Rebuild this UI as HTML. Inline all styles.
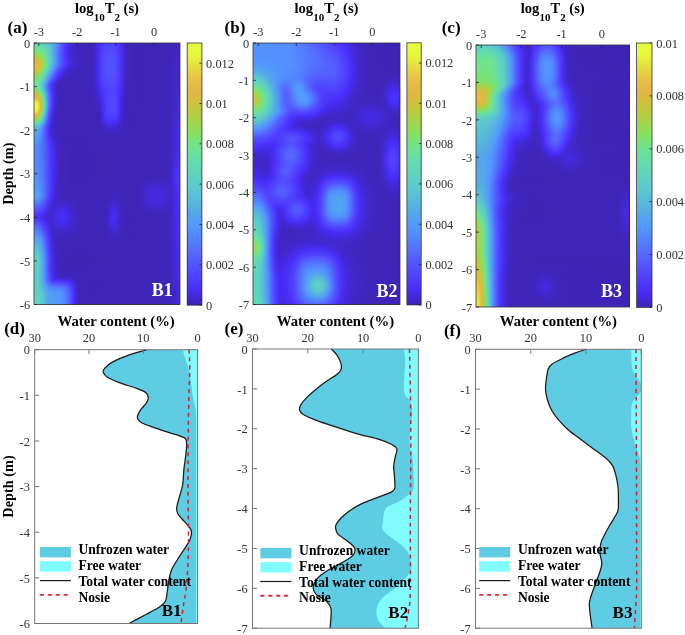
<!DOCTYPE html><html><head><meta charset="utf-8"><style>
html,body{margin:0;padding:0;background:#fff}
body{width:685px;height:635px;position:relative;overflow:hidden}
.hm{position:absolute;overflow:hidden}
.hm i{display:block;height:1px}
.cb{position:absolute}
svg{position:absolute;left:0;top:0;filter:blur(0.35px)}
text{font-family:"Liberation Serif",serif}
.t{font-size:12.4px;fill:#333}
.b{font-weight:bold;fill:#000}
</style></head><body>

<div class="hm" style="left:34px;top:43px;width:146px;height:262px"><i style="background:linear-gradient(90deg,#62d8b5 0.5px,#60d6b9 7.5px,#5dccca 13.5px,#55a8e9 19.5px,#5299fd 21.5px,#5251ff 28.5px,#4c35fb 32.5px,#472df2 34.5px,#4127cd 38.5px,#3f25bc 43.5px,#3e24b6 54.5px,#3f25be 59.5px,#4228d2 62.5px,#472df5 65.5px,#503bff 69.5px,#5143ff 74.5px,#5040ff 80.5px,#4a31fa 85.5px,#472df5 86.5px,#4228d2 89.5px,#3f25be 92.5px,#3e24b6 98.5px,#3e24b8 136.5px,#4026c3 145.5px)"></i><i style="background:linear-gradient(90deg,#63dab0 0.5px,#61d7b7 8.5px,#5ccacd 14.5px,#55a8e8 19.5px,#5299fe 21.5px,#5358ff 27.5px,#4e39fd 31.5px,#492ff8 33.5px,#4228d2 37.5px,#3f25c0 41.5px,#3e24b7 48.5px,#3e24b9 57.5px,#4127ca 61.5px,#482ef7 65.5px,#5040ff 70.5px,#5145ff 77.5px,#4f3afe 83.5px,#482ef7 86.5px,#4127ca 90.5px,#3e24b9 94.5px,#3e24b6 111.5px,#3e24b9 137.5px,#4026c4 145.5px)"></i><i style="background:linear-gradient(90deg,#64dcab 0.5px,#63dab1 7.5px,#5dcec7 13.5px,#59bed7 16.5px,#55a8e8 19.5px,#5298ff 21.5px,#5357ff 27.5px,#4e38fd 31.5px,#482ef8 33.5px,#4228d1 37.5px,#3f25c0 41.5px,#3e24b7 48.5px,#3e24b9 57.5px,#4026c4 60.5px,#4228d4 62.5px,#482ef8 65.5px,#5143ff 71.5px,#5145ff 79.5px,#4b33fa 85.5px,#482ef8 86.5px,#4127cb 90.5px,#3f25bb 93.5px,#3e24b6 101.5px,#3e24b9 137.5px,#4026c4 145.5px)"></i><i style="background:linear-gradient(90deg,#67dea4 0.5px,#64dcab 6.5px,#5fd3c0 12.5px,#5bc6d0 15.5px,#55a8e9 19.5px,#5298ff 21.5px,#545fff 26.5px,#503dff 30.5px,#482ef6 33.5px,#4228d0 37.5px,#3f25bf 41.5px,#3e24b6 50.5px,#3e24b9 57.5px,#4026c4 60.5px,#4228d5 62.5px,#462cef 64.5px,#492ff8 65.5px,#503fff 69.5px,#5148ff 74.5px,#5143ff 81.5px,#4b33fb 85.5px,#492ff8 86.5px,#442ae3 88.5px,#4127cb 90.5px,#3f25bc 93.5px,#3e24b6 99.5px,#3e24b8 136.5px,#4026c4 145.5px)"></i><i style="background:linear-gradient(90deg,#69e09d 0.5px,#67dea4 6.5px,#5fd4be 12.5px,#5bc8cf 15.5px,#55a8e9 19.5px,#5297ff 21.5px,#545eff 26.5px,#503bff 30.5px,#472df4 33.5px,#4228cf 37.5px,#3f25bf 41.5px,#3e24b6 50.5px,#3e24b9 57.5px,#4026c5 60.5px,#4228d6 62.5px,#462cf0 64.5px,#4930f9 65.5px,#5144ff 70.5px,#5149ff 76.5px,#5144ff 81.5px,#4930f9 86.5px,#442ae4 88.5px,#4127cc 90.5px,#3f25bc 93.5px,#3e24b6 99.5px,#3e24b8 135.5px,#4026c5 145.5px)"></i><i style="background:linear-gradient(90deg,#6ce396 0.5px,#6ae19b 5.5px,#60d5bc 12.5px,#5cc9ce 15.5px,#55a7e9 19.5px,#5296ff 21.5px,#535cff 26.5px,#4f3bfe 30.5px,#4930f9 32.5px,#4127ce 37.5px,#3f25bc 42.5px,#3e24b6 54.5px,#3f25bc 58.5px,#4127cc 61.5px,#462cf1 64.5px,#4930f9 65.5px,#5142ff 69.5px,#514aff 74.5px,#5147ff 80.5px,#4c35fb 85.5px,#4930f9 86.5px,#442ae5 88.5px,#4127cc 90.5px,#3e24b9 94.5px,#3e24b6 111.5px,#3e24b9 136.5px,#4026c5 145.5px)"></i><i style="background:linear-gradient(90deg,#70e48d 0.5px,#6de394 5.5px,#66dda7 9.5px,#5dcec6 14.5px,#5ac2d4 16.5px,#55a7e9 19.5px,#5295ff 21.5px,#535bff 26.5px,#4f3afe 30.5px,#492ff9 32.5px,#4228d3 36.5px,#4026c1 40.5px,#3e24b7 47.5px,#3e24b9 57.5px,#4026c5 60.5px,#4329d8 62.5px,#472df2 64.5px,#4c35fc 66.5px,#5146ff 70.5px,#514cff 76.5px,#5143ff 82.5px,#4931f9 86.5px,#442ae6 88.5px,#4127cd 90.5px,#3f25bc 93.5px,#3e24b6 99.5px,#3e24b8 135.5px,#4026c5 145.5px)"></i><i style="background:linear-gradient(90deg,#76e380 0.5px,#73e387 4.5px,#6ae19b 8.5px,#5ecfc5 14.5px,#58b9dc 17.5px,#55a7e9 19.5px,#5294ff 21.5px,#535aff 26.5px,#4e39fd 30.5px,#492ff8 32.5px,#4228d3 36.5px,#4026c1 40.5px,#3e24b7 47.5px,#3e24b9 57.5px,#4026c6 60.5px,#4329d8 62.5px,#472df3 64.5px,#4d36fc 66.5px,#5147ff 70.5px,#524dff 76.5px,#5144ff 82.5px,#4a31fa 86.5px,#442ae7 88.5px,#4127cd 90.5px,#3f25bc 93.5px,#3e24b6 99.5px,#3e24b8 135.5px,#4026c6 145.5px)"></i><i style="background:linear-gradient(90deg,#7ce274 0.5px,#79e37b 4.5px,#6ce396 8.5px,#5ed0c4 14.5px,#58badb 17.5px,#55a7ea 19.5px,#5294ff 21.5px,#5359ff 26.5px,#4e38fd 30.5px,#482ef8 32.5px,#4228d2 36.5px,#3f25c0 40.5px,#3e24b7 47.5px,#3e24b9 57.5px,#4026c6 60.5px,#4329d9 62.5px,#472df4 64.5px,#503bff 67.5px,#514aff 71.5px,#524dff 78.5px,#5144ff 82.5px,#4a31fa 86.5px,#472df4 87.5px,#4127ce 90.5px,#3f25bc 93.5px,#3e24b6 99.5px,#3e24b8 135.5px,#4026c6 145.5px)"></i><i style="background:linear-gradient(90deg,#83e166 0.5px,#7fe26e 4.5px,#74e385 7.5px,#68dfa1 10.5px,#5ccccb 15.5px,#55a7ea 19.5px,#5293ff 21.5px,#5358ff 26.5px,#4e38fd 30.5px,#482ef8 32.5px,#4228d2 36.5px,#3f25c0 40.5px,#3e24b7 48.5px,#3e24b8 56.5px,#3f25c0 59.5px,#4127ce 61.5px,#472df5 64.5px,#5041ff 68.5px,#524dff 72.5px,#514bff 80.5px,#4d37fc 85.5px,#472df5 87.5px,#4127ce 90.5px,#3f25bc 93.5px,#3e24b6 99.5px,#3e24b8 135.5px,#4026c6 145.5px)"></i><i style="background:linear-gradient(90deg,#8edd5d 0.5px,#87e062 4.5px,#7fe26f 6.5px,#6ee492 9.5px,#5ed2c2 14.5px,#57b1e2 18.5px,#5293ff 21.5px,#5357ff 26.5px,#4e38fd 30.5px,#482ef8 32.5px,#4228d2 36.5px,#3f25be 41.5px,#3e24b6 51.5px,#3f25ba 57.5px,#4026c6 60.5px,#4329da 62.5px,#472df5 64.5px,#503cff 67.5px,#514cff 71.5px,#524eff 79.5px,#5041ff 83.5px,#4a32fa 86.5px,#472df5 87.5px,#4127ce 90.5px,#3f25bc 93.5px,#3e24b6 99.5px,#3e24b8 135.5px,#4026c7 145.5px)"></i><i style="background:linear-gradient(90deg,#9ad953 0.5px,#96da56 3.5px,#87e062 6.5px,#7ae279 8.5px,#6ce396 10.5px,#5fd3c0 14.5px,#59bcda 17.5px,#55a7e9 19.5px,#539ef7 20.5px,#5293ff 21.5px,#5357ff 26.5px,#4e38fd 30.5px,#482ef8 32.5px,#4228d3 36.5px,#4026c1 40.5px,#3e24b7 48.5px,#3e24b8 56.5px,#4026c1 59.5px,#4127ce 61.5px,#482ef6 64.5px,#5142ff 68.5px,#524eff 72.5px,#524eff 79.5px,#5142ff 83.5px,#482ef6 87.5px,#4127ce 90.5px,#3f25bc 93.5px,#3e24b6 99.5px,#3e24b8 135.5px,#4026c7 145.5px)"></i><i style="background:linear-gradient(90deg,#a8d44a 0.5px,#9fd750 4.5px,#89df61 7.5px,#80e26c 8.5px,#6fe48f 10.5px,#62d9b4 13.5px,#5bc7d0 16.5px,#55a8e8 19.5px,#5294ff 21.5px,#5358ff 26.5px,#4e39fd 30.5px,#492ff8 32.5px,#4127ce 37.5px,#3f25bd 42.5px,#3e24b6 53.5px,#3f25bc 58.5px,#4228cf 61.5px,#482ef6 64.5px,#5142ff 68.5px,#524fff 72.5px,#524dff 80.5px,#4e38fd 85.5px,#482ef6 87.5px,#4228cf 90.5px,#3f25bc 93.5px,#3e24b6 99.5px,#3e24b8 135.5px,#4026c7 145.5px)"></i><i style="background:linear-gradient(90deg,#b5ce43 0.5px,#abd348 4.5px,#9dd851 6.5px,#87e061 8.5px,#6ce297 11.5px,#60d5bc 14.5px,#5cc9ce 16.5px,#55a9e7 19.5px,#5295ff 21.5px,#5359ff 26.5px,#4e39fe 30.5px,#4930f9 32.5px,#4228d0 37.5px,#3f25be 42.5px,#3e24b6 53.5px,#3f25bc 58.5px,#4228cf 61.5px,#482ef7 64.5px,#5143ff 68.5px,#524fff 72.5px,#524fff 79.5px,#5143ff 83.5px,#482ef7 87.5px,#4228cf 90.5px,#3f25bc 93.5px,#3e24b6 99.5px,#3e24b8 135.5px,#4127c8 145.5px)"></i><i style="background:linear-gradient(90deg,#c1c93d 0.5px,#bbcb40 3.5px,#a7d44a 6.5px,#83e166 9.5px,#6ee492 11.5px,#63dbaf 13.5px,#5ccacd 16.5px,#54a0f3 20.5px,#5296ff 21.5px,#535aff 26.5px,#4f3afe 30.5px,#472df4 33.5px,#4228d1 37.5px,#3f25bf 42.5px,#3e24b7 51.5px,#3f25ba 57.5px,#4026c7 60.5px,#4329dc 62.5px,#482ef7 64.5px,#5143ff 68.5px,#524fff 72.5px,#524fff 79.5px,#5143ff 83.5px,#482ef7 87.5px,#4228cf 90.5px,#3f25bc 93.5px,#3e24b6 99.5px,#3e24b8 135.5px,#4127c8 145.5px)"></i><i style="background:linear-gradient(90deg,#ccc23e 0.5px,#c1c93d 4.5px,#a6d54a 7.5px,#8adf60 9.5px,#7de272 10.5px,#71e48a 11.5px,#64dcac 13.5px,#5ccbcc 16.5px,#54a1f2 20.5px,#5297ff 21.5px,#535bff 26.5px,#4f3bff 30.5px,#482ef6 33.5px,#4127ce 38.5px,#3f25bc 44.5px,#3e24b7 55.5px,#4026c1 59.5px,#4228cf 61.5px,#482ef7 64.5px,#5143ff 68.5px,#5250ff 72.5px,#524eff 80.5px,#503eff 84.5px,#482ef7 87.5px,#4228cf 90.5px,#3f25bd 93.5px,#3e24b6 98.5px,#3e24b8 135.5px,#4127c8 145.5px)"></i><i style="background:linear-gradient(90deg,#d6bd40 0.5px,#cfc13e 3.5px,#c3c83c 5.5px,#a0d74f 8.5px,#81e16a 10.5px,#6be299 12.5px,#61d8b6 14.5px,#5ac1d5 17.5px,#54a1f1 20.5px,#5298ff 21.5px,#535cff 26.5px,#503cff 30.5px,#482ef8 33.5px,#4228d0 38.5px,#3f25bf 43.5px,#3e24b7 53.5px,#3f25ba 57.5px,#4026c7 60.5px,#4329dc 62.5px,#482ef7 64.5px,#5143ff 68.5px,#5250ff 72.5px,#5250ff 79.5px,#5143ff 83.5px,#482ef7 87.5px,#4228cf 90.5px,#3f25bd 93.5px,#3e24b6 98.5px,#3e24b8 135.5px,#4127c9 145.5px)"></i><i style="background:linear-gradient(90deg,#deb942 0.5px,#d7bc40 3.5px,#c1c93d 6.5px,#a7d44a 8.5px,#84e164 10.5px,#6ce296 12.5px,#62d8b5 14.5px,#5dccca 16.5px,#54a2f1 20.5px,#5298ff 21.5px,#535dff 26.5px,#503dff 30.5px,#482ff8 33.5px,#4228d1 38.5px,#3f25c0 43.5px,#3e24b7 52.5px,#3f25ba 57.5px,#4026c7 60.5px,#4329dc 62.5px,#482ef8 64.5px,#5143ff 68.5px,#5250ff 72.5px,#5250ff 79.5px,#5143ff 83.5px,#482ef8 87.5px,#4228cf 90.5px,#3f25bd 93.5px,#3e24b6 98.5px,#3e24b8 135.5px,#4127c9 145.5px)"></i><i style="background:linear-gradient(90deg,#e3b845 0.5px,#ddb942 3.5px,#c6c63d 6.5px,#abd248 8.5px,#87e061 10.5px,#6de395 12.5px,#62d8b4 14.5px,#5dccca 16.5px,#54a2f1 20.5px,#5298ff 21.5px,#535dff 26.5px,#503dff 30.5px,#492ff9 33.5px,#4228d2 38.5px,#4026c1 43.5px,#3e24b8 51.5px,#3f25ba 57.5px,#4026c7 60.5px,#4329dc 62.5px,#482ef8 64.5px,#5143ff 68.5px,#5250ff 72.5px,#5250ff 79.5px,#5143ff 83.5px,#482ef8 87.5px,#4228cf 90.5px,#3f25bd 93.5px,#3e24b6 98.5px,#3e24b8 135.5px,#4127c9 145.5px)"></i><i style="background:linear-gradient(90deg,#e6b946 0.5px,#e1b943 3.5px,#d4be3f 5.5px,#bdca3f 7.5px,#9dd851 9.5px,#89df60 10.5px,#6de394 12.5px,#62d8b4 14.5px,#5dccca 16.5px,#54a1f2 20.5px,#5297ff 21.5px,#535cff 26.5px,#503dff 30.5px,#492ff9 33.5px,#4127ce 39.5px,#3f25bd 45.5px,#3e24b7 55.5px,#4026c1 59.5px,#4228cf 61.5px,#482ef8 64.5px,#5144ff 68.5px,#5250ff 72.5px,#5250ff 79.5px,#5144ff 83.5px,#482ef8 87.5px,#4228cf 90.5px,#3f25bd 93.5px,#3e24b6 98.5px,#3e24b8 135.5px,#4127ca 145.5px)"></i><i style="background:linear-gradient(90deg,#e7bc46 0.5px,#e3b845 3.5px,#d7bc40 5.5px,#c0c93e 7.5px,#9ed850 9.5px,#8adf60 10.5px,#6de395 12.5px,#61d8b5 14.5px,#5ccbcc 16.5px,#55aae7 19.5px,#5295ff 21.5px,#535bff 26.5px,#503cff 30.5px,#482ff8 33.5px,#4127cd 39.5px,#3f25bd 45.5px,#3e24b7 55.5px,#4026c1 59.5px,#4228cf 61.5px,#482ef8 64.5px,#5144ff 68.5px,#5250ff 72.5px,#5250ff 79.5px,#5144ff 83.5px,#482ef8 87.5px,#4228cf 90.5px,#3f25bd 93.5px,#3e24b6 98.5px,#3e24b8 134.5px,#4026c4 142.5px,#4127ca 145.5px)"></i><i style="background:linear-gradient(90deg,#e8bd46 0.5px,#e4b845 3.5px,#d8bc40 5.5px,#c0c93e 7.5px,#9dd851 9.5px,#88e061 10.5px,#6ce297 12.5px,#65ddaa 13.5px,#5ccacd 16.5px,#55a8e9 19.5px,#539ef7 20.5px,#5293ff 21.5px,#5462ff 25.5px,#5041ff 29.5px,#482ef7 33.5px,#4228d0 38.5px,#3f25be 44.5px,#3e24b7 55.5px,#4026c1 59.5px,#4228cf 61.5px,#482ef8 64.5px,#5144ff 68.5px,#5250ff 72.5px,#5250ff 79.5px,#5144ff 83.5px,#482ef8 87.5px,#4228cf 90.5px,#3f25bd 93.5px,#3e24b6 98.5px,#3e24b8 134.5px,#4026c5 142.5px,#4127cb 145.5px)"></i><i style="background:linear-gradient(90deg,#e8bd46 0.5px,#e4b845 3.5px,#d7bc40 5.5px,#beca3f 7.5px,#9ad953 9.5px,#85e164 10.5px,#76e382 11.5px,#6ae19a 12.5px,#64dcad 13.5px,#5bc7d0 16.5px,#54a4ed 19.5px,#529afb 20.5px,#5282ff 22.5px,#545eff 25.5px,#503eff 29.5px,#4930f9 32.5px,#4127ce 38.5px,#3f25bd 44.5px,#3e24b7 55.5px,#4026c1 59.5px,#4228cf 61.5px,#482ef8 64.5px,#5144ff 68.5px,#5250ff 72.5px,#5250ff 79.5px,#5144ff 83.5px,#482ef8 87.5px,#4228cf 90.5px,#3f25bd 93.5px,#3e24b6 98.5px,#3e24b8 134.5px,#4127c9 144.5px,#4127cb 145.5px)"></i><i style="background:linear-gradient(90deg,#e7bc46 0.5px,#e2b844 3.5px,#d4be3f 5.5px,#c8c53d 6.5px,#a9d349 8.5px,#95db57 9.5px,#81e16b 10.5px,#72e48a 11.5px,#63dab1 13.5px,#5ac3d3 16.5px,#54a1f2 19.5px,#5296ff 20.5px,#5464ff 24.5px,#5041ff 28.5px,#482ef6 32.5px,#4228cf 37.5px,#3f25bd 43.5px,#3e24b7 55.5px,#4026c1 59.5px,#4228cf 61.5px,#482ef8 64.5px,#5144ff 68.5px,#5250ff 72.5px,#5250ff 79.5px,#5144ff 83.5px,#482ef8 87.5px,#4228cf 90.5px,#3f25bd 93.5px,#3e24b6 98.5px,#3e24b8 134.5px,#4127cb 145.5px)"></i><i style="background:linear-gradient(90deg,#e6b946 0.5px,#e4b845 2.5px,#d9bb40 4.5px,#c3c83c 6.5px,#a2d64d 8.5px,#8dde5d 9.5px,#7ce275 10.5px,#6de393 11.5px,#61d8b5 13.5px,#5ccacd 15.5px,#55a7ea 18.5px,#539cf9 19.5px,#5290ff 20.5px,#545eff 24.5px,#503dff 28.5px,#482ef8 31.5px,#4228d0 36.5px,#3f25bf 41.5px,#3e24b7 51.5px,#3f25ba 57.5px,#4026c7 60.5px,#4329dc 62.5px,#482ef8 64.5px,#5144ff 68.5px,#5250ff 72.5px,#5250ff 79.5px,#5144ff 83.5px,#482ef8 87.5px,#4228cf 90.5px,#3f25bd 93.5px,#3e24b6 98.5px,#3e24b8 134.5px,#4127cc 145.5px)"></i><i style="background:linear-gradient(90deg,#e3b845 0.5px,#dbba41 3.5px,#c9c43d 5.5px,#bccb3f 6.5px,#9ad954 8.5px,#85e164 9.5px,#6ae19b 11.5px,#60d6bb 13.5px,#5bc5d1 15.5px,#54a2f1 18.5px,#5297ff 19.5px,#5358ff 24.5px,#4e39fd 28.5px,#4930f9 30.5px,#4228d1 35.5px,#3f25bf 40.5px,#3e24b7 50.5px,#3e24b8 56.5px,#4026c7 60.5px,#4329dc 62.5px,#482ef8 64.5px,#5144ff 68.5px,#5250ff 72.5px,#5250ff 79.5px,#5144ff 83.5px,#482ef8 87.5px,#4228cf 90.5px,#3f25bd 93.5px,#3e24b6 98.5px,#3e24b8 134.5px,#4127cc 145.5px)"></i><i style="background:linear-gradient(90deg,#deb942 0.5px,#daba41 2.5px,#c1c93d 5.5px,#a3d64c 7.5px,#90dd5b 8.5px,#7ee271 9.5px,#6fe48f 10.5px,#62d9b3 12.5px,#5ccbcb 14.5px,#55a8e9 17.5px,#539df8 18.5px,#5290ff 19.5px,#535dff 23.5px,#5041ff 26.5px,#472df4 30.5px,#4228d1 34.5px,#3f25bf 39.5px,#3e24b7 48.5px,#3e24b8 56.5px,#4026c7 60.5px,#4329dc 62.5px,#482ef8 64.5px,#5144ff 68.5px,#5250ff 72.5px,#5250ff 79.5px,#5144ff 83.5px,#482ef8 87.5px,#4228cf 90.5px,#3f25bd 93.5px,#3e24b6 98.5px,#3e24b8 134.5px,#4026c6 142.5px,#4127cd 145.5px)"></i><i style="background:linear-gradient(90deg,#d7bc40 0.5px,#cbc33e 3.5px,#c3c83c 4.5px,#a9d349 6.5px,#85e163 8.5px,#6be299 10.5px,#64dcac 11.5px,#5bc6d0 14.5px,#54a2f1 17.5px,#5297ff 18.5px,#5461ff 22.5px,#503cff 26.5px,#482ef6 29.5px,#4228d1 33.5px,#3f25bf 38.5px,#3e24b7 46.5px,#3e24b8 56.5px,#4026c7 60.5px,#4329dc 62.5px,#482ef8 64.5px,#5143ff 68.5px,#5250ff 72.5px,#5250ff 79.5px,#5143ff 83.5px,#482ef8 87.5px,#4228cf 90.5px,#3f25bd 93.5px,#3e24b6 98.5px,#3e24b8 134.5px,#4026c6 142.5px,#4127cd 145.5px)"></i><i style="background:linear-gradient(90deg,#cdc23e 0.5px,#c2c93d 3.5px,#add247 5.5px,#8dde5e 7.5px,#7de273 8.5px,#6fe490 9.5px,#62d9b3 11.5px,#5ccccb 13.5px,#55a7e9 16.5px,#539cf9 17.5px,#528fff 18.5px,#535aff 22.5px,#503eff 25.5px,#482ef8 28.5px,#4228d2 32.5px,#4026c1 36.5px,#3e24b7 44.5px,#3e24b8 56.5px,#4026c7 60.5px,#4329dc 62.5px,#482ef8 64.5px,#5143ff 68.5px,#5250ff 72.5px,#5250ff 79.5px,#5143ff 83.5px,#482ef8 87.5px,#4228cf 90.5px,#3f25bd 93.5px,#3e24b6 98.5px,#3e24b8 134.5px,#4026c7 142.5px,#4127cd 145.5px)"></i><i style="background:linear-gradient(90deg,#c3c83c 0.5px,#bdcb3f 2.5px,#add147 4.5px,#92dc59 6.5px,#82e169 7.5px,#6be19a 9.5px,#60d6b9 11.5px,#5bc6d0 13.5px,#54a1f1 16.5px,#5296ff 17.5px,#545eff 21.5px,#4e39fe 25.5px,#482ff8 27.5px,#4228d2 31.5px,#3f25be 36.5px,#3e24b6 46.5px,#3e24b8 56.5px,#4026c7 60.5px,#4329dc 62.5px,#482ef7 64.5px,#5143ff 68.5px,#5250ff 72.5px,#5250ff 79.5px,#5143ff 83.5px,#482ef7 87.5px,#4228cf 90.5px,#3f25bd 93.5px,#3e24b6 98.5px,#3e24b8 134.5px,#4026c7 142.5px,#4127ce 145.5px)"></i><i style="background:linear-gradient(90deg,#b7cd42 0.5px,#b1d045 2.5px,#a2d64e 4.5px,#86e063 6.5px,#6de493 8.5px,#5fd3c0 11.5px,#5ac0d6 13.5px,#55a7ea 15.5px,#539bfa 16.5px,#527fff 18.5px,#5357ff 21.5px,#4f3bfe 24.5px,#4930f9 26.5px,#4228d3 30.5px,#4026c1 34.5px,#3e24b7 41.5px,#3e24b8 56.5px,#4026c7 60.5px,#4329dc 62.5px,#482ef7 64.5px,#5143ff 68.5px,#5250ff 72.5px,#524eff 80.5px,#503eff 84.5px,#482ef7 87.5px,#4228cf 90.5px,#3f25bd 93.5px,#3e24b6 98.5px,#3e24b8 134.5px,#4127ce 145.5px)"></i><i style="background:linear-gradient(90deg,#acd247 0.5px,#a6d44a 2.5px,#96db57 4.5px,#89df60 5.5px,#7de271 6.5px,#6ae19c 8.5px,#60d6ba 10.5px,#5bc6d0 12.5px,#56ade4 14.5px,#5295ff 16.5px,#535bff 20.5px,#503dff 23.5px,#472df3 26.5px,#4127cd 30.5px,#3f25be 34.5px,#3e24b6 43.5px,#3e24b8 56.5px,#4026c1 59.5px,#4228cf 61.5px,#482ef7 64.5px,#5143ff 68.5px,#524fff 72.5px,#524fff 79.5px,#5143ff 83.5px,#482ef7 87.5px,#4228cf 90.5px,#3f25bc 93.5px,#3e24b6 99.5px,#3e24b8 134.5px,#4127ca 143.5px,#4228cf 145.5px)"></i><i style="background:linear-gradient(90deg,#a1d64e 0.5px,#9bd953 2.5px,#8adf5f 4.5px,#80e26c 5.5px,#6ce395 7.5px,#5fd3bf 10.5px,#5ac0d6 12.5px,#55a7ea 14.5px,#539bfa 15.5px,#537eff 17.5px,#5254ff 20.5px,#4e38fd 23.5px,#482ef6 25.5px,#4127cd 29.5px,#3f25be 33.5px,#3e24b6 41.5px,#3e24b8 56.5px,#4026c1 59.5px,#4228cf 61.5px,#482ef7 64.5px,#5143ff 68.5px,#524fff 72.5px,#524fff 79.5px,#5143ff 83.5px,#482ef7 87.5px,#4228cf 90.5px,#3f25bc 93.5px,#3e24b6 99.5px,#3e24b8 134.5px,#4127c8 142.5px,#4228cf 145.5px)"></i><i style="background:linear-gradient(90deg,#97da56 0.5px,#91dc5a 2.5px,#82e169 4.5px,#6fe48e 6.5px,#60d6b9 9.5px,#5bc7cf 11.5px,#54a1f2 14.5px,#5295ff 15.5px,#5359ff 19.5px,#4f3bfe 22.5px,#482ff8 24.5px,#4127ce 28.5px,#3f25be 32.5px,#3e24b6 40.5px,#3e24b8 56.5px,#4026c1 59.5px,#4228cf 61.5px,#482ef6 64.5px,#5142ff 68.5px,#524fff 72.5px,#524dff 80.5px,#4e38fd 85.5px,#482ef6 87.5px,#4228cf 90.5px,#3f25bc 93.5px,#3e24b6 99.5px,#3e24b8 134.5px,#4127c8 142.5px,#4228d0 145.5px)"></i><i style="background:linear-gradient(90deg,#8edd5c 0.5px,#82e167 3.5px,#6ce297 6.5px,#5dcdc9 10.5px,#55a8e8 13.5px,#539cf9 14.5px,#528dff 15.5px,#545fff 18.5px,#503eff 21.5px,#4930f9 23.5px,#442ae6 25.5px,#4228cf 27.5px,#3f25be 31.5px,#3e24b6 39.5px,#3e24b8 56.5px,#4026c1 59.5px,#4127ce 61.5px,#482ef6 64.5px,#5142ff 68.5px,#524eff 72.5px,#524eff 79.5px,#5142ff 83.5px,#482ef6 87.5px,#4127ce 90.5px,#3f25bc 93.5px,#3e24b6 99.5px,#3e24b8 134.5px,#4026c6 141.5px,#4228d0 145.5px)"></i><i style="background:linear-gradient(90deg,#87e062 0.5px,#82e167 2.5px,#77e37e 4.5px,#6ae19c 6.5px,#5ed1c2 9.5px,#5ccacd 10.5px,#54a3ef 13.5px,#5296ff 14.5px,#5358ff 18.5px,#4e39fd 21.5px,#472df4 23.5px,#4228d1 26.5px,#3f25be 30.5px,#3e24b6 38.5px,#3e24b8 56.5px,#3f25c0 59.5px,#4127ce 61.5px,#472df5 64.5px,#503cff 67.5px,#514cff 71.5px,#524eff 79.5px,#5041ff 83.5px,#4a32fa 86.5px,#472df5 87.5px,#4127ce 90.5px,#3f25bc 93.5px,#3e24b6 99.5px,#3e24b8 134.5px,#4127c9 142.5px,#4228d0 145.5px)"></i><i style="background:linear-gradient(90deg,#82e169 0.5px,#7ee271 2.5px,#73e387 4.5px,#67dfa3 6.5px,#5dcec7 9.5px,#58b7dd 11.5px,#55aae7 12.5px,#539df8 13.5px,#528eff 14.5px,#535dff 17.5px,#4f3bfe 20.5px,#482ef7 22.5px,#4228d1 25.5px,#3f25be 29.5px,#3e24b7 35.5px,#3e24b8 56.5px,#3f25c0 59.5px,#4127ce 61.5px,#472df5 64.5px,#5041ff 68.5px,#524dff 72.5px,#514bff 80.5px,#4d37fc 85.5px,#472df5 87.5px,#4127ce 90.5px,#3f25bc 93.5px,#3e24b6 99.5px,#3e24b8 134.5px,#4127c9 142.5px,#4228d1 145.5px)"></i><i style="background:linear-gradient(90deg,#7de272 0.5px,#79e27a 2.5px,#6ee491 4.5px,#5ed2c1 8.5px,#5ccbcb 9.5px,#54a3ef 12.5px,#5296ff 13.5px,#5462ff 16.5px,#503dff 19.5px,#482ef8 21.5px,#4228d1 24.5px,#3f25c0 27.5px,#3e24b7 33.5px,#3e24b8 56.5px,#3f25c0 59.5px,#4127ce 61.5px,#472df4 64.5px,#503bff 67.5px,#514aff 71.5px,#524dff 78.5px,#5144ff 82.5px,#4a31fa 86.5px,#472df4 87.5px,#4127ce 90.5px,#3f25bc 93.5px,#3e24b6 99.5px,#3e24b8 134.5px,#4026c7 141.5px,#4228d1 145.5px)"></i><i style="background:linear-gradient(90deg,#79e37b 0.5px,#75e383 2.5px,#68dfa2 5.5px,#5ecfc5 8.5px,#58b8dd 10.5px,#55aae7 11.5px,#539cf9 12.5px,#528cff 13.5px,#5358ff 16.5px,#503fff 18.5px,#492ff9 20.5px,#4228d1 23.5px,#3f25bf 26.5px,#3e24b6 33.5px,#3e24b8 56.5px,#3f25c0 59.5px,#4127cd 61.5px,#472df3 64.5px,#4d36fc 66.5px,#514aff 71.5px,#514cff 78.5px,#5144ff 82.5px,#4a31fa 86.5px,#442ae7 88.5px,#4127cd 90.5px,#3f25bc 93.5px,#3e24b6 99.5px,#3e24b8 134.5px,#4127ca 142.5px,#4228d2 145.5px)"></i><i style="background:linear-gradient(90deg,#75e383 0.5px,#71e48b 2.5px,#65dda8 5.5px,#5dccca 8.5px,#54a3ee 11.5px,#5295ff 12.5px,#545eff 15.5px,#5142ff 17.5px,#4930f9 19.5px,#4228d1 22.5px,#3f25bf 25.5px,#3e24b7 30.5px,#3e24b8 56.5px,#4026c5 60.5px,#4329d8 62.5px,#472df2 64.5px,#4c35fc 66.5px,#5149ff 71.5px,#514bff 78.5px,#5143ff 82.5px,#4931f9 86.5px,#442ae6 88.5px,#4127cd 90.5px,#3f25bc 93.5px,#3e24b6 99.5px,#3e24b8 134.5px,#4127ca 142.5px,#4228d2 145.5px)"></i><i style="background:linear-gradient(90deg,#72e389 0.5px,#6ee491 2.5px,#68dfa1 4.5px,#5ed1c2 7.5px,#5cc9ce 8.5px,#56ace5 10.5px,#539ef7 11.5px,#528dff 12.5px,#5566ff 14.5px,#5147ff 16.5px,#4b33fa 18.5px,#472df2 19.5px,#4228d4 21.5px,#4026c4 23.5px,#3e24b8 27.5px,#3e24b8 56.5px,#4026c5 60.5px,#4228d7 62.5px,#462cf1 64.5px,#4930f9 65.5px,#5142ff 69.5px,#514bff 75.5px,#5145ff 81.5px,#4c35fb 85.5px,#4930f9 86.5px,#442ae5 88.5px,#4127cc 90.5px,#3e24b9 94.5px,#3e24b6 111.5px,#3e24b8 134.5px,#4026c7 141.5px,#4228d3 145.5px)"></i><i style="background:linear-gradient(90deg,#6fe48e 0.5px,#6de394 2.5px,#63dbaf 5.5px,#5bc6d1 8.5px,#55a8e8 10.5px,#5299fd 11.5px,#524fff 15.5px,#4d37fc 17.5px,#492ff8 18.5px,#4127cd 21.5px,#3f25ba 25.5px,#3e24b6 35.5px,#3e24b8 56.5px,#3f25bf 59.5px,#4228d6 62.5px,#462cf0 64.5px,#4930f9 65.5px,#5144ff 70.5px,#5149ff 76.5px,#5144ff 81.5px,#4930f9 86.5px,#442ae4 88.5px,#4127cc 90.5px,#3f25bc 93.5px,#3e24b6 99.5px,#3e24b8 133.5px,#4026c2 139.5px,#4228d4 145.5px)"></i><i style="background:linear-gradient(90deg,#6ee491 0.5px,#6ce396 2.5px,#66dea6 4.5px,#5dcec7 7.5px,#57b5df 9.5px,#55a5ec 10.5px,#5296ff 11.5px,#535bff 14.5px,#503eff 16.5px,#472df5 18.5px,#4228d5 20.5px,#4026c4 22.5px,#3e24b8 26.5px,#3e24b8 56.5px,#4026c4 60.5px,#4228d5 62.5px,#462cef 64.5px,#492ff8 65.5px,#5040ff 69.5px,#5148ff 74.5px,#5145ff 80.5px,#4e38fd 84.5px,#492ff8 86.5px,#442ae3 88.5px,#4127cb 90.5px,#3f25bc 93.5px,#3e24b6 99.5px,#3e24b8 133.5px,#4026c2 139.5px,#4228d4 145.5px)"></i><i style="background:linear-gradient(90deg,#6ee490 0.5px,#6ce395 2.5px,#60d5bb 6.5px,#5ac3d3 8.5px,#55a5ec 10.5px,#5296ff 11.5px,#535bff 14.5px,#503eff 16.5px,#472df5 18.5px,#4228d4 20.5px,#4026c3 22.5px,#3e24b8 26.5px,#3e24b8 56.5px,#3f25bf 59.5px,#4228d4 62.5px,#482ef8 65.5px,#5144ff 71.5px,#5146ff 79.5px,#4d37fd 84.5px,#482ef8 86.5px,#4127cb 90.5px,#3f25bb 93.5px,#3e24b6 101.5px,#3e24b8 133.5px,#4026c2 139.5px,#4228d5 145.5px)"></i><i style="background:linear-gradient(90deg,#72e388 0.5px,#6ce297 3.5px,#5ed0c5 7.5px,#58b7de 9.5px,#55a7ea 10.5px,#5298ff 11.5px,#535cff 14.5px,#503fff 16.5px,#472df6 18.5px,#4228d5 20.5px,#4026c4 22.5px,#3e24b8 26.5px,#3e24b8 56.5px,#3f25bf 59.5px,#4228d3 62.5px,#482ef7 65.5px,#5040ff 70.5px,#5146ff 76.5px,#5041ff 81.5px,#482ef7 86.5px,#4127ca 90.5px,#3e24b9 94.5px,#3e24b6 111.5px,#3e24b9 134.5px,#4026c5 140.5px,#4228d5 145.5px)"></i><i style="background:linear-gradient(90deg,#79e27a 0.5px,#75e383 2.5px,#6be299 4.5px,#5ed2c1 7.5px,#5cc9cd 8.5px,#55aae7 10.5px,#529bfb 11.5px,#5471ff 13.5px,#524eff 15.5px,#4c36fc 17.5px,#482ef7 18.5px,#4228d6 20.5px,#4026c4 22.5px,#3e24b8 26.5px,#3e24b8 56.5px,#4026c3 60.5px,#4228d2 62.5px,#472df5 65.5px,#503cff 69.5px,#5145ff 75.5px,#5040ff 81.5px,#4a32fa 85.5px,#482ef6 86.5px,#4228d2 89.5px,#3f25be 92.5px,#3e24b6 98.5px,#3e24b8 133.5px,#4026c2 139.5px,#4228d6 145.5px)"></i><i style="background:linear-gradient(90deg,#83e167 0.5px,#7ee270 2.5px,#79e37b 3.5px,#6ae19d 5.5px,#5dcdc9 8.5px,#56aee4 10.5px,#539ef7 11.5px,#528bff 12.5px,#5461ff 14.5px,#5142ff 16.5px,#482ef8 18.5px,#4329d7 20.5px,#4026c5 22.5px,#3f25ba 25.5px,#3e24b6 35.5px,#3e24b7 56.5px,#4026c3 60.5px,#4228d1 62.5px,#472df3 65.5px,#4b34fb 67.5px,#5143ff 73.5px,#5142ff 80.5px,#4c35fc 84.5px,#472df4 86.5px,#4228d1 89.5px,#3f25be 92.5px,#3e24b6 97.5px,#3e24b8 133.5px,#4026c3 139.5px,#4228d7 145.5px)"></i><i style="background:linear-gradient(90deg,#93dc59 0.5px,#8cde5e 2.5px,#83e165 3.5px,#7be277 4.5px,#6fe490 5.5px,#5ed0c3 8.5px,#57b3e0 10.5px,#5290ff 12.5px,#5464ff 14.5px,#5144ff 16.5px,#492ff9 18.5px,#4329d9 20.5px,#4026c5 22.5px,#3e24b8 26.5px,#3e24b7 56.5px,#4026c2 60.5px,#4329da 63.5px,#462cf1 65.5px,#492ff9 66.5px,#5041ff 72.5px,#5143ff 79.5px,#4c35fb 84.5px,#472df3 86.5px,#4228d0 89.5px,#3f25be 92.5px,#3e24b6 97.5px,#3e24b8 133.5px,#4026c6 140.5px,#4329d7 145.5px)"></i><i style="background:linear-gradient(90deg,#a5d54b 0.5px,#9ed750 2.5px,#87e062 4.5px,#7ae279 5.5px,#6ce396 6.5px,#5fd4bd 8.5px,#5ccacd 9.5px,#55a6ea 11.5px,#5295ff 12.5px,#5568ff 14.5px,#5146ff 16.5px,#4930f9 18.5px,#4127ce 21.5px,#3f25bc 24.5px,#3e24b6 31.5px,#3e24b7 56.5px,#4026c2 60.5px,#4127ce 62.5px,#482ef8 66.5px,#503eff 71.5px,#5144ff 77.5px,#503fff 81.5px,#4930f9 85.5px,#442ae7 87.5px,#4228cf 89.5px,#3f25bd 92.5px,#3e24b6 98.5px,#3e24b8 133.5px,#4026c6 140.5px,#4329d8 145.5px)"></i><i style="background:linear-gradient(90deg,#b7cd42 0.5px,#b0d045 2.5px,#a8d44a 3.5px,#86e063 5.5px,#75e383 6.5px,#68e0a0 7.5px,#5dcec7 9.5px,#56abe6 11.5px,#529afd 12.5px,#5358ff 15.5px,#4f3bfe 17.5px,#4a31fa 18.5px,#4228cf 21.5px,#4026c1 23.5px,#3e24b7 27.5px,#3e24b8 57.5px,#4026c7 61.5px,#4228d7 63.5px,#482ef6 66.5px,#5040ff 72.5px,#5144ff 78.5px,#503cff 82.5px,#4930f9 85.5px,#4127ce 89.5px,#3f25bd 92.5px,#3e24b6 97.5px,#3e24b8 133.5px,#4026c6 140.5px,#4329d9 145.5px)"></i><i style="background:linear-gradient(90deg,#c7c53d 0.5px,#c1c93d 2.5px,#abd348 4.5px,#97da56 5.5px,#80e26d 6.5px,#6de394 7.5px,#63dbae 8.5px,#5bc4d3 10.5px,#56b0e2 11.5px,#539df7 12.5px,#5288ff 13.5px,#535bff 15.5px,#503cff 17.5px,#462cf0 19.5px,#4228d0 21.5px,#4026c1 23.5px,#3e24b7 27.5px,#3e24b8 57.5px,#4026c6 61.5px,#4228d5 63.5px,#472df3 66.5px,#4b33fa 68.5px,#5144ff 74.5px,#5143ff 80.5px,#492ff9 85.5px,#4127cd 89.5px,#3f25ba 93.5px,#3e24b6 103.5px,#3e24b8 133.5px,#4026c3 139.5px,#4329d9 145.5px)"></i><i style="background:linear-gradient(90deg,#d5bd40 0.5px,#cfc13e 2.5px,#bacc41 4.5px,#a7d44a 5.5px,#8dde5d 6.5px,#75e382 7.5px,#67dea5 8.5px,#5cc9ce 10.5px,#54a1f2 12.5px,#528cff 13.5px,#545eff 15.5px,#503eff 17.5px,#472df2 19.5px,#4228d1 21.5px,#4026c1 23.5px,#3e24b7 27.5px,#3e24b8 57.5px,#4026c5 61.5px,#4228d2 63.5px,#462cf0 66.5px,#482ef8 67.5px,#5143ff 73.5px,#5145ff 79.5px,#4e39fd 83.5px,#492ff9 85.5px,#4228d4 88.5px,#3f25c0 91.5px,#3e24b7 95.5px,#3e24b8 133.5px,#4026c4 139.5px,#4329da 145.5px)"></i><i style="background:linear-gradient(90deg,#dfb943 0.5px,#dbba41 2.5px,#c6c63d 4.5px,#b3cf44 5.5px,#9ad953 6.5px,#7de272 7.5px,#6ae19c 8.5px,#61d7b6 9.5px,#5dccca 10.5px,#5290ff 13.5px,#5461ff 15.5px,#503fff 17.5px,#472df3 19.5px,#4228d1 21.5px,#3f25bd 24.5px,#3e24b6 31.5px,#3e24b8 57.5px,#4026c4 61.5px,#4329db 64.5px,#482ef6 67.5px,#5040ff 72.5px,#5146ff 76.5px,#5142ff 81.5px,#492ff8 85.5px,#4127ca 89.5px,#3f25ba 93.5px,#3e24b6 103.5px,#3e24b8 133.5px,#4026c4 139.5px,#4329db 145.5px)"></i><i style="background:linear-gradient(90deg,#e6b846 0.5px,#e2b844 2.5px,#dcb941 3.5px,#d0c03f 4.5px,#beca3f 5.5px,#a5d54b 6.5px,#84e164 7.5px,#6de394 8.5px,#62d9b2 9.5px,#5dcec7 10.5px,#5293ff 13.5px,#5462ff 15.5px,#5040ff 17.5px,#472df4 19.5px,#4228d2 21.5px,#4026c2 23.5px,#3e24b8 27.5px,#3e24b8 57.5px,#4026c3 61.5px,#4329d8 64.5px,#4930f9 68.5px,#5144ff 73.5px,#5146ff 79.5px,#4f3afe 83.5px,#492ff8 85.5px,#4228d1 88.5px,#3f25bf 91.5px,#3e24b7 95.5px,#3e24b8 133.5px,#4026c4 139.5px,#4329db 145.5px)"></i><i style="background:linear-gradient(90deg,#e8bd46 0.5px,#e3b844 3.5px,#d9bb40 4.5px,#c8c53d 5.5px,#afd146 6.5px,#8edd5c 7.5px,#72e389 8.5px,#64dbad 9.5px,#5ed0c3 10.5px,#55a9e7 12.5px,#5295ff 13.5px,#5464ff 15.5px,#5041ff 17.5px,#472df5 19.5px,#4228d2 21.5px,#4026c2 23.5px,#3e24b8 27.5px,#3e24b8 57.5px,#4026c2 61.5px,#4228d5 64.5px,#482ff8 68.5px,#5040ff 72.5px,#5148ff 76.5px,#5143ff 81.5px,#492ff8 85.5px,#4228d0 88.5px,#3f25be 91.5px,#3e24b6 97.5px,#3e24b8 133.5px,#4026c4 139.5px,#4329dc 145.5px)"></i><i style="background:linear-gradient(90deg,#e8c745 0.5px,#e7bb46 3.5px,#e1b943 4.5px,#d1c03f 5.5px,#b9cc41 6.5px,#99d954 7.5px,#78e37d 8.5px,#66dda7 9.5px,#5ac2d4 11.5px,#56ace6 12.5px,#5297ff 13.5px,#5565ff 15.5px,#5041ff 17.5px,#472df6 19.5px,#4228d2 21.5px,#4026c2 23.5px,#3e24b8 27.5px,#3e24b8 57.5px,#4026c2 61.5px,#4228d2 64.5px,#482ef7 68.5px,#5041ff 72.5px,#5149ff 76.5px,#5144ff 81.5px,#482ff8 85.5px,#4228cf 88.5px,#3f25be 91.5px,#3e24b6 97.5px,#3e24b8 133.5px,#4026c4 139.5px,#4329dd 145.5px)"></i><i style="background:linear-gradient(90deg,#e7d443 0.5px,#e8cc44 2.5px,#e6b946 4.5px,#daba41 5.5px,#c3c83c 6.5px,#a3d64d 7.5px,#7ee271 8.5px,#68dfa1 9.5px,#5fd4bd 10.5px,#5bc4d2 11.5px,#56ade4 12.5px,#5299fe 13.5px,#5566ff 15.5px,#5142ff 17.5px,#472df5 19.5px,#4228d2 21.5px,#4026c2 23.5px,#3e24b7 27.5px,#3e24b8 57.5px,#4026c1 61.5px,#4329d8 65.5px,#472df5 68.5px,#5041ff 72.5px,#5149ff 76.5px,#5147ff 80.5px,#4c35fb 84.5px,#482ff8 85.5px,#4127ce 88.5px,#3f25bd 91.5px,#3e24b6 98.5px,#3e24b8 133.5px,#4026c5 139.5px,#4329dd 145.5px)"></i><i style="background:linear-gradient(90deg,#e6e141 0.5px,#e7d842 2.5px,#e8be46 4.5px,#e1b844 5.5px,#ccc33e 6.5px,#acd248 7.5px,#83e165 8.5px,#6ae19b 9.5px,#60d6ba 10.5px,#5bc6d0 11.5px,#56afe3 12.5px,#529afc 13.5px,#5567ff 15.5px,#5142ff 17.5px,#472df5 19.5px,#4228d2 21.5px,#4026c1 23.5px,#3e24b7 27.5px,#3e24b7 57.5px,#4026c4 62.5px,#4228d5 65.5px,#472df3 68.5px,#503cff 71.5px,#5149ff 75.5px,#5147ff 80.5px,#4c35fb 84.5px,#482ff8 85.5px,#4127cd 88.5px,#3f25bd 91.5px,#3e24b6 97.5px,#3e24b8 133.5px,#4026c5 139.5px,#4329de 145.5px)"></i><i style="background:linear-gradient(90deg,#e6ed3f 0.5px,#e6e440 2.5px,#e7d942 3.5px,#e6b946 5.5px,#d3be3f 6.5px,#b4cf44 7.5px,#8bdf5f 8.5px,#6ce296 9.5px,#61d7b8 10.5px,#5cc8cf 11.5px,#56b0e2 12.5px,#539bfb 13.5px,#5567ff 15.5px,#5041ff 17.5px,#472df4 19.5px,#4228d1 21.5px,#4026c1 23.5px,#3e24b7 27.5px,#3e24b8 58.5px,#4026c7 63.5px,#4329db 66.5px,#4930f9 69.5px,#5041ff 72.5px,#514aff 76.5px,#5145ff 81.5px,#482ff8 85.5px,#4127cd 88.5px,#3f25bc 91.5px,#3e24b6 98.5px,#3e24b8 133.5px,#4026c5 139.5px,#4329df 145.5px)"></i><i style="background:linear-gradient(90deg,#e6f63e 0.5px,#e6ef3f 2.5px,#e6e340 3.5px,#e8bd46 5.5px,#daba41 6.5px,#bbcb40 7.5px,#91dc5a 8.5px,#6ee492 9.5px,#61d8b6 10.5px,#5ccacd 11.5px,#539bfb 13.5px,#5566ff 15.5px,#5041ff 17.5px,#472df3 19.5px,#4228d0 21.5px,#3f25bc 24.5px,#3e24b6 31.5px,#3e24b8 58.5px,#4026c6 63.5px,#4329d8 66.5px,#4930f9 69.5px,#5041ff 72.5px,#514aff 76.5px,#5145ff 81.5px,#482ff8 85.5px,#4127cc 88.5px,#3f25bf 90.5px,#3e24b6 96.5px,#3e24b8 133.5px,#4026c5 139.5px,#4329df 145.5px)"></i><i style="background:linear-gradient(90deg,#e7f93d 0.5px,#e6f63e 2.5px,#e6ec3f 3.5px,#e6d942 4.5px,#e9c046 5.5px,#dfb942 6.5px,#c1c93d 7.5px,#96da56 8.5px,#70e48e 9.5px,#62d8b4 10.5px,#5ccacd 11.5px,#57b1e1 12.5px,#539bfb 13.5px,#5566ff 15.5px,#5040ff 17.5px,#4b34fb 18.5px,#472df1 19.5px,#4228cf 21.5px,#3f25c0 23.5px,#3e24b7 27.5px,#3e24b8 58.5px,#4026c4 63.5px,#4228d5 66.5px,#4930f9 69.5px,#5041ff 72.5px,#514aff 76.5px,#5145ff 81.5px,#482ef8 85.5px,#4127cb 88.5px,#3f25be 90.5px,#3e24b6 96.5px,#3e24b8 133.5px,#4026c5 139.5px,#4329e0 145.5px)"></i><i style="background:linear-gradient(90deg,#e7fc3d 0.5px,#e7f93d 2.5px,#e6f33e 3.5px,#e6e041 4.5px,#e8c645 5.5px,#e2b844 6.5px,#c5c73c 7.5px,#9ad953 8.5px,#71e48a 9.5px,#62d9b3 10.5px,#5ccacc 11.5px,#529bfb 13.5px,#5465ff 15.5px,#503fff 17.5px,#4b33fb 18.5px,#462cf0 19.5px,#4127ce 21.5px,#3f25bf 23.5px,#3e24b7 27.5px,#3e24b8 58.5px,#4026c7 64.5px,#4228d2 66.5px,#492ff9 69.5px,#5145ff 73.5px,#514aff 78.5px,#5145ff 81.5px,#482ef8 85.5px,#4329d7 87.5px,#4026c3 89.5px,#3e24b8 93.5px,#3e24b8 133.5px,#4026c6 139.5px,#4329e1 145.5px)"></i><i style="background:linear-gradient(90deg,#e8fe3c 0.5px,#e6f63e 3.5px,#e6e540 4.5px,#e8ca44 5.5px,#e3b845 6.5px,#c7c63d 7.5px,#9cd852 8.5px,#72e389 9.5px,#62d9b3 10.5px,#5ccacd 11.5px,#529afc 13.5px,#5463ff 15.5px,#503eff 17.5px,#4b33fa 18.5px,#462cee 19.5px,#4127cd 21.5px,#3f25bf 23.5px,#3e24b6 28.5px,#3e24b8 58.5px,#4026c5 64.5px,#4228d0 66.5px,#482ff8 69.5px,#5145ff 73.5px,#514aff 78.5px,#5040ff 82.5px,#482ef8 85.5px,#4127ca 88.5px,#3f25bd 90.5px,#3e24b6 97.5px,#3e24b8 133.5px,#4026c6 139.5px,#442ae1 145.5px)"></i><i style="background:linear-gradient(90deg,#e8ff3c 0.5px,#e6f73e 3.5px,#e6e740 4.5px,#e8cc44 5.5px,#e4b845 6.5px,#c7c53d 7.5px,#9cd852 8.5px,#72e48a 9.5px,#62d8b4 10.5px,#5cc9cd 11.5px,#5299fe 13.5px,#5462ff 15.5px,#503dff 17.5px,#4a32fa 18.5px,#4329d9 20.5px,#4026c4 22.5px,#3e24b9 25.5px,#3e24b6 42.5px,#3e24b8 59.5px,#4127c8 65.5px,#4127ce 66.5px,#482ff8 69.5px,#5144ff 73.5px,#514aff 77.5px,#5144ff 81.5px,#482ef8 85.5px,#4228d6 87.5px,#4026c2 89.5px,#3e24b7 93.5px,#3e24b8 133.5px,#4026c6 139.5px,#442ae2 145.5px)"></i><i style="background:linear-gradient(90deg,#e8ff3c 0.5px,#e6f73e 3.5px,#e6e640 4.5px,#e8cb44 5.5px,#e3b845 6.5px,#c6c63d 7.5px,#99d954 8.5px,#70e48d 9.5px,#61d8b6 10.5px,#5cc8cf 11.5px,#56aee4 12.5px,#5297ff 13.5px,#5460ff 15.5px,#503bff 17.5px,#4a31f9 18.5px,#452beb 19.5px,#4329d7 20.5px,#4026c3 22.5px,#3e24b7 26.5px,#3e24b8 59.5px,#4026c2 64.5px,#4127cd 66.5px,#482ef8 69.5px,#5144ff 73.5px,#5149ff 77.5px,#5144ff 81.5px,#482ef8 85.5px,#4228d6 87.5px,#4026c1 89.5px,#3e24b7 93.5px,#3e24b8 133.5px,#4026c6 139.5px,#442ae3 145.5px)"></i><i style="background:linear-gradient(90deg,#e8fd3c 0.5px,#e6f53e 3.5px,#e6e240 4.5px,#e8c745 5.5px,#e1b943 6.5px,#c2c93d 7.5px,#94db58 8.5px,#6de393 9.5px,#61d6b9 10.5px,#5bc5d1 11.5px,#5294ff 13.5px,#545eff 15.5px,#5149ff 16.5px,#4930f9 18.5px,#4228d5 20.5px,#4026c2 22.5px,#3e24b7 26.5px,#3e24b8 59.5px,#4026c1 64.5px,#4127cc 66.5px,#452be9 68.5px,#482ef8 69.5px,#5144ff 73.5px,#5149ff 77.5px,#5144ff 81.5px,#482ef8 85.5px,#4228d6 87.5px,#4026c1 89.5px,#3e24b8 92.5px,#3e24b8 133.5px,#4026c6 139.5px,#442ae3 145.5px)"></i><i style="background:linear-gradient(90deg,#e7fb3d 0.5px,#e6f73e 2.5px,#e6ee3f 3.5px,#e6da42 4.5px,#e9bf46 5.5px,#dcb941 6.5px,#bacc41 7.5px,#8bde5e 8.5px,#6be19a 9.5px,#5fd4bd 10.5px,#5ac1d5 11.5px,#5290ff 13.5px,#535aff 15.5px,#4e38fd 17.5px,#482ef8 18.5px,#4228d2 20.5px,#4026c1 22.5px,#3e24b7 26.5px,#3e24b8 59.5px,#3f25c0 64.5px,#4127cb 66.5px,#452be8 68.5px,#482ef8 69.5px,#5144ff 73.5px,#5149ff 78.5px,#5144ff 81.5px,#482ef8 85.5px,#4228d5 87.5px,#4026c1 89.5px,#3e24b8 92.5px,#3e24b8 133.5px,#4026c7 139.5px,#442ae4 145.5px)"></i><i style="background:linear-gradient(90deg,#e6f73e 0.5px,#e6f13f 2.5px,#e6e340 3.5px,#e7bb46 5.5px,#d3be3f 6.5px,#afd146 7.5px,#82e169 8.5px,#67dfa3 9.5px,#5ed2c2 10.5px,#54a4ee 12.5px,#528bff 13.5px,#546eff 14.5px,#5144ff 16.5px,#472df5 18.5px,#4228d0 20.5px,#3f25c0 22.5px,#3e24b7 26.5px,#3e24b8 60.5px,#4026c3 65.5px,#4228d6 67.5px,#482ef7 69.5px,#503fff 72.5px,#5148ff 76.5px,#5146ff 80.5px,#4b34fb 84.5px,#482ef7 85.5px,#4228d5 87.5px,#4026c1 89.5px,#3e24b8 92.5px,#3e24b8 133.5px,#4026c7 139.5px,#442ae5 145.5px)"></i><i style="background:linear-gradient(90deg,#e6ed3f 0.5px,#e6eb3f 1.5px,#e7d642 3.5px,#e9c246 4.5px,#e2b844 5.5px,#c9c43d 6.5px,#a3d64d 7.5px,#79e37b 8.5px,#64dcac 9.5px,#5dcec7 10.5px,#53a0f4 12.5px,#5286ff 13.5px,#5569ff 14.5px,#5041ff 16.5px,#472df2 18.5px,#4127ce 20.5px,#3f25bf 22.5px,#3e24b6 27.5px,#3e24b8 60.5px,#4026c2 65.5px,#4228d5 67.5px,#482ef7 69.5px,#503fff 72.5px,#5148ff 76.5px,#5143ff 81.5px,#4b34fb 84.5px,#482ef6 85.5px,#4228d4 87.5px,#3f25c0 89.5px,#3e24b7 92.5px,#3e24b8 132.5px,#4026c3 138.5px,#442ae6 145.5px)"></i><i style="background:linear-gradient(90deg,#e6de41 0.5px,#e6dc41 1.5px,#e8c745 3.5px,#e7ba46 4.5px,#d8bb40 5.5px,#bccb40 6.5px,#94db58 7.5px,#70e48e 8.5px,#62d9b4 9.5px,#5ccbcc 10.5px,#539bfb 12.5px,#5465ff 14.5px,#503eff 16.5px,#4b33fa 17.5px,#462cee 18.5px,#4329da 19.5px,#4127cc 20.5px,#3f25be 22.5px,#3e24b6 27.5px,#3e24b8 60.5px,#4026c1 65.5px,#4228d4 67.5px,#472df6 69.5px,#503eff 72.5px,#5147ff 76.5px,#5142ff 81.5px,#4b33fb 84.5px,#472df5 85.5px,#4228d4 87.5px,#3f25c0 89.5px,#3e24b7 92.5px,#3e24b8 132.5px,#4026c3 138.5px,#442ae6 145.5px)"></i><i style="background:linear-gradient(90deg,#e8cd44 0.5px,#e8cb44 1.5px,#e7bb46 3.5px,#dfb943 4.5px,#cbc33e 5.5px,#add247 6.5px,#84e164 7.5px,#6ae19b 8.5px,#60d5bb 9.5px,#5bc5d2 10.5px,#56ace5 11.5px,#5296ff 12.5px,#5460ff 14.5px,#503bff 16.5px,#4a31f9 17.5px,#4228d7 19.5px,#4127ca 20.5px,#3f25ba 23.5px,#3e24b6 33.5px,#3e24b9 62.5px,#4026c1 65.5px,#4228d3 67.5px,#472df4 69.5px,#503dff 72.5px,#5146ff 76.5px,#5041ff 81.5px,#4b32fa 84.5px,#472df4 85.5px,#4228d3 87.5px,#3f25c0 89.5px,#3e24b7 92.5px,#3e24b8 132.5px,#3f25c0 137.5px,#4228d6 142.5px,#442ae7 145.5px)"></i><i style="background:linear-gradient(90deg,#e8be46 0.5px,#e7b946 2.5px,#e1b943 3.5px,#d3be3f 4.5px,#bccb3f 5.5px,#9cd852 6.5px,#79e27a 7.5px,#66dda8 8.5px,#5ed1c2 9.5px,#55a7ea 11.5px,#5290ff 12.5px,#535bff 14.5px,#4e39fe 16.5px,#492ff9 17.5px,#4228d4 19.5px,#4026c1 21.5px,#3e24b7 25.5px,#3e24b8 61.5px,#3f25c0 65.5px,#4228d2 67.5px,#472df3 69.5px,#4d37fd 71.5px,#5144ff 75.5px,#5142ff 80.5px,#4a32fa 84.5px,#472df3 85.5px,#4228d2 87.5px,#3f25c0 89.5px,#3e24b7 92.5px,#3e24b8 132.5px,#4026c4 138.5px,#442ae7 145.5px)"></i><i style="background:linear-gradient(90deg,#e3b845 0.5px,#deb942 2.5px,#c5c73c 4.5px,#acd248 5.5px,#8bdf5f 6.5px,#6ee490 7.5px,#63dab1 8.5px,#5dcdc8 9.5px,#54a2f1 11.5px,#528aff 12.5px,#5357ff 14.5px,#4d37fd 16.5px,#482ef7 17.5px,#4228d1 19.5px,#4026c1 21.5px,#3e24b7 25.5px,#3e24b8 62.5px,#3f25c0 65.5px,#4228d1 67.5px,#462cf1 69.5px,#4d36fc 71.5px,#5142ff 75.5px,#5040ff 80.5px,#4a31f9 84.5px,#462cf1 85.5px,#4228d1 87.5px,#3f25bf 89.5px,#3e24b6 93.5px,#3e24b8 132.5px,#4026c4 138.5px,#4329d7 142.5px,#442ae8 145.5px)"></i><i style="background:linear-gradient(90deg,#d8bc40 0.5px,#d0c03f 2.5px,#c6c63d 3.5px,#b4ce43 4.5px,#9bd953 5.5px,#7de271 6.5px,#6ae09d 7.5px,#60d6b9 8.5px,#5cc9ce 9.5px,#539df8 11.5px,#5284ff 12.5px,#5569ff 13.5px,#5142ff 15.5px,#472df4 17.5px,#4228cf 19.5px,#3f25c0 21.5px,#3e24b7 25.5px,#3e24b8 62.5px,#3f25bf 65.5px,#4228d0 67.5px,#462cee 69.5px,#4930f9 70.5px,#503eff 74.5px,#503eff 80.5px,#4930f9 84.5px,#4329df 86.5px,#4026c6 88.5px,#3f25ba 90.5px,#3e24b6 98.5px,#3e24b8 132.5px,#4026c4 138.5px,#4329d8 142.5px,#442ae8 145.5px)"></i><i style="background:linear-gradient(90deg,#cac43d 0.5px,#c2c93d 2.5px,#b6ce43 3.5px,#a4d54c 4.5px,#8adf5f 5.5px,#73e386 6.5px,#65dda9 7.5px,#5fd3bf 8.5px,#5ac3d3 9.5px,#56ade4 10.5px,#5299fd 11.5px,#5566ff 13.5px,#5040ff 15.5px,#4b34fb 16.5px,#462cf1 17.5px,#4127ce 19.5px,#3f25bf 21.5px,#3e24b6 26.5px,#3e24b8 62.5px,#3f25bf 65.5px,#4127ce 67.5px,#482ef8 70.5px,#503cff 74.5px,#503cff 80.5px,#482ef8 84.5px,#4127ce 87.5px,#3f25be 89.5px,#3e24b6 93.5px,#3e24b8 132.5px,#4026c4 138.5px,#452be9 145.5px)"></i><i style="background:linear-gradient(90deg,#bbcc40 0.5px,#b2cf45 2.5px,#a6d44a 3.5px,#94db58 4.5px,#7ee270 5.5px,#6ce296 6.5px,#63dab1 7.5px,#5ecfc5 8.5px,#55a9e7 10.5px,#5295ff 11.5px,#5462ff 13.5px,#503eff 15.5px,#4b33fb 16.5px,#462cef 17.5px,#4127cd 19.5px,#3f25bb 22.5px,#3e24b6 30.5px,#3e24b8 63.5px,#4026c4 66.5px,#4329da 68.5px,#472df5 70.5px,#4e38fd 73.5px,#4f3afe 80.5px,#4a31fa 83.5px,#472df5 84.5px,#4127cd 87.5px,#3f25be 89.5px,#3e24b6 93.5px,#3e24b8 132.5px,#4026c4 138.5px,#4329d9 142.5px,#452be9 145.5px)"></i><i style="background:linear-gradient(90deg,#a8d449 0.5px,#9fd74f 2.5px,#93db58 3.5px,#82e168 4.5px,#72e388 5.5px,#67dea4 6.5px,#5ccccb 8.5px,#528fff 11.5px,#545fff 13.5px,#503cff 15.5px,#4a32fa 16.5px,#462ced 17.5px,#4127cc 19.5px,#3f25bb 22.5px,#3e24b6 30.5px,#3e24b8 63.5px,#4026c3 66.5px,#4228d6 68.5px,#462cf1 70.5px,#492ff9 71.5px,#4e38fd 75.5px,#4c35fc 81.5px,#492ff9 83.5px,#442ae6 85.5px,#4127cb 87.5px,#3f25bd 89.5px,#3e24b6 94.5px,#3e24b8 132.5px,#4026c1 137.5px,#4329d9 142.5px,#452bea 145.5px)"></i><i style="background:linear-gradient(90deg,#92dc59 0.5px,#89df60 2.5px,#80e26c 3.5px,#6ae19c 5.5px,#5ed2c1 7.5px,#5bc5d1 8.5px,#539ff5 10.5px,#5289ff 11.5px,#535bff 13.5px,#4f3afe 15.5px,#4931f9 16.5px,#4329d8 18.5px,#4026c3 20.5px,#3e24b7 24.5px,#3e24b8 63.5px,#4026c2 66.5px,#4228d3 68.5px,#462ced 70.5px,#482ef6 71.5px,#4c36fc 77.5px,#482ef6 83.5px,#4329e1 85.5px,#4127c9 87.5px,#3e24b9 90.5px,#3e24b6 107.5px,#3e24b8 132.5px,#4026c1 137.5px,#4329da 142.5px,#452bea 145.5px)"></i><i style="background:linear-gradient(90deg,#7de271 0.5px,#78e37d 2.5px,#6ae19b 4.5px,#5dcdc9 7.5px,#56abe6 9.5px,#5299fd 10.5px,#5357ff 13.5px,#4e39fd 15.5px,#492ff9 16.5px,#4228d6 18.5px,#4026c3 20.5px,#3e24b7 24.5px,#3e24b8 63.5px,#4026c1 66.5px,#4228d0 68.5px,#462cf1 71.5px,#482ef8 72.5px,#4b33fa 78.5px,#482ef8 82.5px,#452be8 84.5px,#4026c7 87.5px,#3e24b9 90.5px,#3e24b6 107.5px,#3e24b8 132.5px,#4026c1 137.5px,#4329da 142.5px,#452beb 145.5px)"></i><i style="background:linear-gradient(90deg,#6de492 0.5px,#6be299 2.5px,#61d7b8 5.5px,#5bc5d1 7.5px,#5292ff 10.5px,#5565ff 12.5px,#5143ff 14.5px,#482ef7 16.5px,#4228d3 18.5px,#4026c2 20.5px,#3e24b7 24.5px,#3e24b7 63.5px,#3f25c0 66.5px,#4228d7 69.5px,#452beb 71.5px,#482ef7 73.5px,#482ef7 81.5px,#442ae3 84.5px,#4127cd 86.5px,#3f25bb 89.5px,#3e24b6 95.5px,#3e24b8 132.5px,#4026c1 137.5px,#4228d4 141.5px,#452beb 145.5px)"></i><i style="background:linear-gradient(90deg,#66dda7 0.5px,#62d9b2 3.5px,#5ed1c3 5.5px,#59bcda 7.5px,#56ace5 8.5px,#539df8 9.5px,#528aff 10.5px,#524eff 13.5px,#4c35fb 15.5px,#472df4 16.5px,#4228d1 18.5px,#4026c1 20.5px,#3e24b7 24.5px,#3e24b8 64.5px,#4026c4 67.5px,#4329dc 70.5px,#452bec 72.5px,#472df5 76.5px,#462cf0 81.5px,#442ae6 83.5px,#4127ca 86.5px,#3f25bb 89.5px,#3e24b6 95.5px,#3e24b8 132.5px,#4026c5 138.5px,#4329db 142.5px,#452bec 145.5px)"></i><i style="background:linear-gradient(90deg,#61d8b6 0.5px,#5fd4bf 3.5px,#5ccacd 5.5px,#54a4ed 8.5px,#5296ff 9.5px,#535aff 12.5px,#503cff 14.5px,#462cf0 16.5px,#4228cf 18.5px,#3f25c0 20.5px,#3e24b7 24.5px,#3e24b8 64.5px,#4026c2 67.5px,#452be9 73.5px,#462ced 78.5px,#452be9 81.5px,#4228d6 84.5px,#3f25bd 88.5px,#3e24b6 93.5px,#3e24b8 132.5px,#4026c5 138.5px,#452bec 145.5px)"></i><i style="background:linear-gradient(90deg,#5ed1c2 0.5px,#5dcdc9 3.5px,#5ac0d6 5.5px,#55aae7 7.5px,#539df8 8.5px,#528dff 9.5px,#5566ff 11.5px,#5146ff 13.5px,#4a31f9 15.5px,#452bed 16.5px,#4127ce 18.5px,#3f25c0 20.5px,#3e24b7 24.5px,#3e24b8 64.5px,#4026c5 68.5px,#442ae1 73.5px,#442ae6 77.5px,#442ae1 81.5px,#3f25bc 88.5px,#3e24b6 94.5px,#3e24b8 132.5px,#4026c2 137.5px,#4228d5 141.5px,#452be9 144.5px,#452bed 145.5px)"></i><i style="background:linear-gradient(90deg,#5ccbcc 0.5px,#5bc4d2 3.5px,#56ade5 6.5px,#5296ff 8.5px,#5250ff 12.5px,#4d37fd 14.5px,#492ff9 15.5px,#4329d8 17.5px,#4026c4 19.5px,#3e24b8 23.5px,#3e24b7 64.5px,#4026c3 68.5px,#4329db 74.5px,#4329db 80.5px,#3f25bb 88.5px,#3e24b6 94.5px,#3e24b8 132.5px,#4026c2 137.5px,#4228d5 141.5px,#452be9 144.5px,#462ced 145.5px)"></i><i style="background:linear-gradient(90deg,#5ac2d4 0.5px,#59bbda 3.5px,#54a5ec 6.5px,#539bfa 7.5px,#537dff 9.5px,#535bff 11.5px,#503fff 13.5px,#482ef7 15.5px,#4228d5 17.5px,#4026c3 19.5px,#3e24b8 23.5px,#3e24b8 65.5px,#4228d3 74.5px,#4228d1 81.5px,#3e24b8 89.5px,#3e24b8 132.5px,#4026c2 137.5px,#4228d6 141.5px,#452bea 144.5px,#462cee 145.5px)"></i><i style="background:linear-gradient(90deg,#58badb 0.5px,#57b4e0 3.5px,#55a7e9 5.5px,#5295ff 7.5px,#5357ff 11.5px,#503dff 13.5px,#472df4 15.5px,#4228d3 17.5px,#4026c3 19.5px,#3e24b8 23.5px,#3e24b8 65.5px,#4127cd 74.5px,#4127cc 81.5px,#3e24b8 89.5px,#3e24b8 132.5px,#4026c2 137.5px,#4228d6 141.5px,#452bea 144.5px,#462cee 145.5px)"></i><i style="background:linear-gradient(90deg,#57b4df 0.5px,#56aee4 3.5px,#55a9e7 4.5px,#539bfb 6.5px,#5282ff 8.5px,#5146ff 12.5px,#4b33fa 14.5px,#472df1 15.5px,#4228d2 17.5px,#4026c2 19.5px,#3e24b8 23.5px,#3e24b8 65.5px,#4127c9 75.5px,#4026c4 83.5px,#3e24b8 89.5px,#3e24b8 132.5px,#4026c2 137.5px,#4228d7 141.5px,#452beb 144.5px,#462cef 145.5px)"></i><i style="background:linear-gradient(90deg,#56b0e2 0.5px,#55abe6 3.5px,#53a0f4 5.5px,#5298ff 6.5px,#546fff 9.5px,#4f3afe 13.5px,#4a32fa 14.5px,#462cf0 15.5px,#4228d1 17.5px,#4026c2 19.5px,#3e24b8 23.5px,#3e24b8 66.5px,#4026c5 76.5px,#3f25bf 84.5px,#3e24b6 91.5px,#3e24b8 132.5px,#4026c6 138.5px,#4329df 142.5px,#462cef 145.5px)"></i><i style="background:linear-gradient(90deg,#56ade4 0.5px,#55a8e9 3.5px,#5295ff 6.5px,#556dff 9.5px,#5144ff 12.5px,#4a32fa 14.5px,#462cf0 15.5px,#4228d1 17.5px,#4026c2 19.5px,#3e24b8 23.5px,#3e24b8 66.5px,#4026c1 77.5px,#3e24b7 89.5px,#3e24b8 132.5px,#4026c3 137.5px,#4228d0 140.5px,#442ae7 143.5px,#462cef 145.5px)"></i><i style="background:linear-gradient(90deg,#55aae7 0.5px,#54a5ec 3.5px,#5293ff 6.5px,#545eff 10.5px,#4f3afe 13.5px,#462cf1 15.5px,#4228d2 17.5px,#3f25be 20.5px,#3e24b6 26.5px,#3e24b8 67.5px,#3f25be 77.5px,#3e24b8 87.5px,#3e24b8 132.5px,#4026c3 137.5px,#4329d8 141.5px,#452bec 144.5px,#462cf0 145.5px)"></i><i style="background:linear-gradient(90deg,#55a7e9 0.5px,#54a2f0 3.5px,#5299fe 5.5px,#5379ff 8.5px,#5145ff 12.5px,#4b33fa 14.5px,#472df3 15.5px,#4228d4 17.5px,#4026c4 19.5px,#3e24b8 23.5px,#3e24b8 68.5px,#3f25bc 80.5px,#3e24b6 95.5px,#3e24b8 132.5px,#4026c3 137.5px,#4329d8 141.5px,#452bec 144.5px,#462cf0 145.5px)"></i><i style="background:linear-gradient(90deg,#54a4ed 0.5px,#53a0f4 3.5px,#5297ff 5.5px,#5378ff 8.5px,#5146ff 12.5px,#4b34fb 14.5px,#472df5 15.5px,#4228d7 17.5px,#4026c5 19.5px,#3e24b8 23.5px,#3e24b8 69.5px,#3e24b8 85.5px,#3e24b8 132.5px,#4026c3 137.5px,#4329d9 141.5px,#462ced 144.5px,#462cf1 145.5px)"></i><i style="background:linear-gradient(90deg,#54a2f1 0.5px,#539ef7 3.5px,#5294ff 5.5px,#5377ff 8.5px,#5147ff 12.5px,#4c35fb 14.5px,#482ef8 15.5px,#4127ce 18.5px,#3f25bd 21.5px,#3e24b6 29.5px,#3e24b8 72.5px,#3e24b8 132.5px,#4026c7 138.5px,#4329d9 141.5px,#462ced 144.5px,#472df1 145.5px)"></i><i style="background:linear-gradient(90deg,#539ff4 0.5px,#5298ff 4.5px,#5282ff 7.5px,#545eff 10.5px,#4d36fc 14.5px,#492ff9 15.5px,#4228d1 18.5px,#3f25bf 21.5px,#3e24b6 27.5px,#3e24b8 132.5px,#4026c7 138.5px,#442ae2 142.5px,#472df2 145.5px)"></i><i style="background:linear-gradient(90deg,#539df8 0.5px,#5296ff 4.5px,#5281ff 7.5px,#545fff 10.5px,#4d37fd 14.5px,#462cf0 16.5px,#4127cb 19.5px,#3f25ba 23.5px,#3e24b6 36.5px,#3e24b8 132.5px,#4026c7 138.5px,#442ae2 142.5px,#472df2 145.5px)"></i><i style="background:linear-gradient(90deg,#539bfb 0.5px,#5294ff 4.5px,#527fff 7.5px,#5460ff 10.5px,#4e39fd 14.5px,#472df4 16.5px,#4127ce 19.5px,#3f25bb 23.5px,#3e24b6 33.5px,#3e24b8 132.5px,#4026c3 137.5px,#4329da 141.5px,#462cee 144.5px,#472df3 145.5px)"></i><i style="background:linear-gradient(90deg,#5299fe 0.5px,#5295ff 3.5px,#527eff 7.5px,#5356ff 11.5px,#4b34fb 15.5px,#482ef8 16.5px,#4228d1 19.5px,#3f25bc 23.5px,#3e24b6 32.5px,#3e24b8 132.5px,#4026c3 137.5px,#4329db 141.5px,#462cef 144.5px,#472df3 145.5px)"></i><i style="background:linear-gradient(90deg,#5297ff 0.5px,#528fff 4.5px,#537eff 7.5px,#524eff 12.5px,#4c35fc 15.5px,#492ff9 16.5px,#4127cc 20.5px,#3f25bb 24.5px,#3e24b6 34.5px,#3e24b8 132.5px,#4026c4 137.5px,#4329db 141.5px,#462cef 144.5px,#472df4 145.5px)"></i><i style="background:linear-gradient(90deg,#5295ff 0.5px,#528eff 4.5px,#537dff 7.5px,#524fff 12.5px,#4d37fc 15.5px,#472df2 17.5px,#4228cf 20.5px,#3f25bc 24.5px,#3e24b6 33.5px,#3e24b8 132.5px,#4026c4 137.5px,#4329db 141.5px,#462cf0 144.5px,#472df4 145.5px)"></i><i style="background:linear-gradient(90deg,#5292ff 0.5px,#528cff 4.5px,#537cff 7.5px,#5250ff 12.5px,#4a32fa 16.5px,#472df5 17.5px,#4228d2 20.5px,#3f25bd 24.5px,#3e24b6 32.5px,#3e24b8 132.5px,#4026c4 137.5px,#4228d4 140.5px,#462cf0 144.5px,#472df5 145.5px)"></i><i style="background:linear-gradient(90deg,#5291ff 0.5px,#5287ff 5.5px,#556bff 9.5px,#4f39fe 15.5px,#482ef8 17.5px,#4228d5 20.5px,#4026c2 23.5px,#3e24b7 29.5px,#3e24b8 132.5px,#4026c4 137.5px,#4329dc 141.5px,#462cf1 144.5px,#472df5 145.5px)"></i><i style="background:linear-gradient(90deg,#528fff 0.5px,#5289ff 4.5px,#537aff 7.5px,#5252ff 12.5px,#4c35fb 16.5px,#492ff9 17.5px,#4228cf 21.5px,#3f25bd 25.5px,#3e24b6 33.5px,#3e24b8 132.5px,#4026c4 137.5px,#4228d4 140.5px,#462cf1 144.5px,#472df5 145.5px)"></i><i style="background:linear-gradient(90deg,#528eff 0.5px,#5285ff 5.5px,#556bff 9.5px,#503cff 15.5px,#4930f9 17.5px,#442ae7 19.5px,#4228d1 21.5px,#3f25be 25.5px,#3e24b7 31.5px,#3e24b8 132.5px,#4026c4 137.5px,#4228d4 140.5px,#452bec 143.5px,#482ef6 145.5px)"></i><i style="background:linear-gradient(90deg,#528dff 0.5px,#5284ff 5.5px,#556bff 9.5px,#503cff 15.5px,#472df4 18.5px,#4228d3 21.5px,#4026c2 24.5px,#3e24b7 30.5px,#3e24b8 132.5px,#4026c4 137.5px,#4329dd 141.5px,#472df2 144.5px,#482ef6 145.5px)"></i><i style="background:linear-gradient(90deg,#528cff 0.5px,#5283ff 5.5px,#5464ff 10.5px,#4d37fd 16.5px,#482ef6 18.5px,#4127cd 22.5px,#3f25bd 26.5px,#3e24b6 34.5px,#3e24b8 132.5px,#4026c4 137.5px,#4228d5 140.5px,#472df2 144.5px,#482ef7 145.5px)"></i><i style="background:linear-gradient(90deg,#528bff 0.5px,#5283ff 5.5px,#5464ff 10.5px,#4e38fd 16.5px,#482ef7 18.5px,#4127ce 22.5px,#3f25bd 26.5px,#3e24b6 34.5px,#3e24b8 132.5px,#4026c4 137.5px,#4228d5 140.5px,#462ced 143.5px,#482ef7 145.5px)"></i><i style="background:linear-gradient(90deg,#528bff 0.5px,#5283ff 5.5px,#5464ff 10.5px,#4e38fd 16.5px,#482ef8 18.5px,#4127ce 22.5px,#3f25bd 26.5px,#3e24b6 34.5px,#3e24b8 132.5px,#4026c5 137.5px,#4329de 141.5px,#482ef8 145.5px)"></i><i style="background:linear-gradient(90deg,#528bff 0.5px,#5283ff 5.5px,#5464ff 10.5px,#4e38fd 16.5px,#482ef8 18.5px,#4127ce 22.5px,#3f25bd 26.5px,#3e24b6 34.5px,#3e24b8 132.5px,#4026c5 137.5px,#4228d6 140.5px,#472df3 144.5px,#482ef8 145.5px)"></i><i style="background:linear-gradient(90deg,#528bff 0.5px,#5283ff 5.5px,#5464ff 10.5px,#4e38fd 16.5px,#482ef8 18.5px,#4127ce 22.5px,#3f25bd 26.5px,#3e24b6 34.5px,#3e24b8 132.5px,#4026c5 137.5px,#4228d6 140.5px,#462cee 143.5px,#482ef8 145.5px)"></i><i style="background:linear-gradient(90deg,#528bff 0.5px,#5283ff 5.5px,#5464ff 10.5px,#4e38fd 16.5px,#482ef8 18.5px,#4127ce 22.5px,#3f25bd 26.5px,#3e24b6 34.5px,#3e24b8 132.5px,#4026c5 137.5px,#4228d6 140.5px,#462cee 143.5px,#482ef8 145.5px)"></i><i style="background:linear-gradient(90deg,#528bff 0.5px,#5283ff 5.5px,#5464ff 10.5px,#4e38fd 16.5px,#482ef8 18.5px,#4127ce 22.5px,#3f25bd 26.5px,#3e24b6 34.5px,#3e24b8 132.5px,#4026c5 137.5px,#4228d7 140.5px,#472df4 144.5px,#482ef8 145.5px)"></i><i style="background:linear-gradient(90deg,#528bff 0.5px,#5283ff 5.5px,#5464ff 10.5px,#4e38fd 16.5px,#482ef8 18.5px,#4127ce 22.5px,#3f25bd 26.5px,#3e24b6 34.5px,#3e24b8 132.5px,#4026c5 137.5px,#4329d7 140.5px,#462cef 143.5px,#482ff8 145.5px)"></i><i style="background:linear-gradient(90deg,#528bff 0.5px,#5283ff 5.5px,#556bff 9.5px,#4e38fd 16.5px,#482ef8 18.5px,#4127ce 22.5px,#3f25bd 26.5px,#3e24b6 34.5px,#3e24b8 131.5px,#4026c1 136.5px,#4329d7 140.5px,#462cef 143.5px,#482ff8 145.5px)"></i><i style="background:linear-gradient(90deg,#528bff 0.5px,#5283ff 5.5px,#556bff 9.5px,#4e38fd 16.5px,#482ef8 18.5px,#4127ce 22.5px,#3f25bd 26.5px,#3e24b6 34.5px,#3e24b8 131.5px,#4026c1 136.5px,#4329d8 140.5px,#472df6 144.5px,#492ff8 145.5px)"></i><i style="background:linear-gradient(90deg,#528bff 0.5px,#5286ff 4.5px,#5473ff 8.5px,#4e38fd 16.5px,#482ef8 18.5px,#4127ce 22.5px,#3f25bd 26.5px,#3e24b6 34.5px,#3e24b8 131.5px,#4026c1 136.5px,#4329d8 140.5px,#462cf0 143.5px,#492ff9 145.5px)"></i><i style="background:linear-gradient(90deg,#528bff 0.5px,#5286ff 4.5px,#5473ff 8.5px,#4e38fd 16.5px,#482ef8 18.5px,#4127ce 22.5px,#3f25bd 26.5px,#3e24b6 34.5px,#3e24b8 131.5px,#4026c2 136.5px,#4228d0 139.5px,#462cf1 143.5px,#492ff9 145.5px)"></i><i style="background:linear-gradient(90deg,#528cff 0.5px,#5283ff 5.5px,#556cff 9.5px,#4e38fd 16.5px,#482ef8 18.5px,#4127ce 22.5px,#3f25bd 26.5px,#3e24b6 34.5px,#3e24b8 131.5px,#4026c2 136.5px,#4329d9 140.5px,#472df1 143.5px,#4930f9 145.5px)"></i><i style="background:linear-gradient(90deg,#528cff 0.5px,#5283ff 5.5px,#556cff 9.5px,#4e38fd 16.5px,#482ef8 18.5px,#4228cf 22.5px,#3f25bd 26.5px,#3e24b6 34.5px,#3e24b8 131.5px,#4026c2 136.5px,#4228d1 139.5px,#472df2 143.5px,#4930f9 145.5px)"></i><i style="background:linear-gradient(90deg,#528cff 0.5px,#5284ff 5.5px,#5465ff 10.5px,#4e38fd 16.5px,#482ef8 18.5px,#4228cf 22.5px,#3f25bd 26.5px,#3e24b6 34.5px,#3e24b8 131.5px,#4026c2 136.5px,#4228d2 139.5px,#472df3 143.5px,#4930f9 145.5px)"></i><i style="background:linear-gradient(90deg,#528cff 0.5px,#5284ff 5.5px,#5465ff 10.5px,#4e38fd 16.5px,#482ef8 18.5px,#4228cf 22.5px,#3f25bd 26.5px,#3e24b6 34.5px,#3e24b8 131.5px,#3f25bf 135.5px,#4228d3 139.5px,#472df4 143.5px,#4a31f9 145.5px)"></i><i style="background:linear-gradient(90deg,#528cff 0.5px,#5284ff 5.5px,#556cff 9.5px,#4e38fd 16.5px,#482ef8 18.5px,#4228cf 22.5px,#3f25bd 26.5px,#3e24b6 34.5px,#3e24b8 131.5px,#4026c3 136.5px,#4228d3 139.5px,#462cee 142.5px,#492ff9 144.5px,#4a31fa 145.5px)"></i><i style="background:linear-gradient(90deg,#528cff 0.5px,#5287ff 4.5px,#5474ff 8.5px,#4e38fd 16.5px,#482ef8 18.5px,#4228cf 22.5px,#3f25bd 26.5px,#3e24b6 34.5px,#3e24b8 131.5px,#4026c3 136.5px,#4228d5 139.5px,#482ef6 143.5px,#4a32fa 145.5px)"></i><i style="background:linear-gradient(90deg,#528dff 0.5px,#5284ff 5.5px,#556dff 9.5px,#4e38fd 16.5px,#482ef8 18.5px,#4228cf 22.5px,#3f25bd 26.5px,#3e24b6 34.5px,#3e24b8 131.5px,#4026c4 136.5px,#4228d6 139.5px,#482ef8 143.5px,#4a32fa 145.5px)"></i><i style="background:linear-gradient(90deg,#528dff 0.5px,#5285ff 5.5px,#556dff 9.5px,#4e39fd 16.5px,#482ef8 18.5px,#4228cf 22.5px,#3f25bd 26.5px,#3e24b6 34.5px,#3e24b8 131.5px,#4026c4 136.5px,#4329d7 139.5px,#482ef8 143.5px,#4b33fa 145.5px)"></i><i style="background:linear-gradient(90deg,#528dff 0.5px,#5285ff 5.5px,#5566ff 10.5px,#4e39fd 16.5px,#482ef8 18.5px,#4228cf 22.5px,#3f25bd 26.5px,#3e24b6 34.5px,#3e24b8 131.5px,#4026c5 136.5px,#4329d9 139.5px,#472df3 142.5px,#4a32fa 144.5px,#4b34fb 145.5px)"></i><i style="background:linear-gradient(90deg,#528dff 0.5px,#5288ff 4.5px,#5475ff 8.5px,#4e39fd 16.5px,#482ef8 18.5px,#4228cf 22.5px,#3f25bd 26.5px,#3e24b6 34.5px,#3e24b8 131.5px,#4026c5 136.5px,#4329da 139.5px,#472df5 142.5px,#4c34fb 145.5px)"></i><i style="background:linear-gradient(90deg,#528eff 0.5px,#5285ff 5.5px,#546eff 9.5px,#4e39fd 16.5px,#482ef8 18.5px,#4228cf 22.5px,#3f25bd 26.5px,#3e24b6 34.5px,#3e24b8 130.5px,#4026c2 135.5px,#4228d2 138.5px,#482ef7 142.5px,#4c35fc 145.5px)"></i><i style="background:linear-gradient(90deg,#528eff 0.5px,#5286ff 5.5px,#546eff 9.5px,#4e39fd 16.5px,#482ef8 18.5px,#4228cf 22.5px,#3f25bd 26.5px,#3e24b6 34.5px,#3e24b8 130.5px,#4026c2 135.5px,#4228d3 138.5px,#482ef8 142.5px,#4d36fc 145.5px)"></i><i style="background:linear-gradient(90deg,#528eff 0.5px,#5286ff 5.5px,#546eff 9.5px,#4e39fd 16.5px,#482ff8 18.5px,#4228cf 22.5px,#3f25bd 26.5px,#3e24b6 34.5px,#3e24b8 130.5px,#3f25bf 134.5px,#4228d4 138.5px,#472df2 141.5px,#4a32fa 143.5px,#4d37fc 145.5px)"></i><i style="background:linear-gradient(90deg,#528eff 0.5px,#5289ff 4.5px,#5376ff 8.5px,#524fff 13.5px,#4b34fb 17.5px,#482ff8 18.5px,#4228cf 22.5px,#3f25bd 26.5px,#3e24b6 34.5px,#3e24b8 130.5px,#3f25bf 134.5px,#4228d5 138.5px,#472df3 141.5px,#4b33fa 143.5px,#4d38fd 145.5px)"></i><i style="background:linear-gradient(90deg,#528fff 0.5px,#528aff 4.5px,#5376ff 8.5px,#524fff 13.5px,#4b34fb 17.5px,#482ff8 18.5px,#4228cf 22.5px,#3f25bd 26.5px,#3e24b6 34.5px,#3e24b8 130.5px,#4026c3 135.5px,#4228d6 138.5px,#472df4 141.5px,#4d36fc 144.5px,#4e38fd 145.5px)"></i><i style="background:linear-gradient(90deg,#528fff 0.5px,#5287ff 5.5px,#546fff 9.5px,#4e39fe 16.5px,#482ff8 18.5px,#4228cf 22.5px,#3f25bd 26.5px,#3e24b6 34.5px,#3e24b8 130.5px,#3f25c0 134.5px,#4329d7 138.5px,#472df5 141.5px,#4e39fd 145.5px)"></i><i style="background:linear-gradient(90deg,#528fff 0.5px,#528aff 4.5px,#5377ff 8.5px,#524fff 13.5px,#4b34fb 17.5px,#482ff8 18.5px,#4228cf 22.5px,#3f25bd 26.5px,#3e24b6 34.5px,#3e24b8 130.5px,#4026c4 135.5px,#4329d8 138.5px,#482ef6 141.5px,#4e39fe 145.5px)"></i><i style="background:linear-gradient(90deg,#5290ff 0.5px,#528bff 4.5px,#5377ff 8.5px,#524fff 13.5px,#4b34fb 17.5px,#482ff8 18.5px,#4228cf 22.5px,#3f25bd 26.5px,#3e24b6 34.5px,#3e24b9 131.5px,#4026c4 135.5px,#4329d8 138.5px,#482ef6 141.5px,#4f39fe 145.5px)"></i><i style="background:linear-gradient(90deg,#5291ff 0.5px,#528bff 4.5px,#5378ff 8.5px,#5250ff 13.5px,#4b34fb 17.5px,#482ff8 18.5px,#4228cf 22.5px,#3f25bd 26.5px,#3e24b6 34.5px,#3e24b9 131.5px,#4026c4 135.5px,#4228cf 137.5px,#482ef7 141.5px,#4f3afe 145.5px)"></i><i style="background:linear-gradient(90deg,#5292ff 0.5px,#5289ff 5.5px,#5471ff 9.5px,#4f3afe 16.5px,#482ff8 18.5px,#4228cf 22.5px,#3f25bd 26.5px,#3e24b6 34.5px,#3e24b8 111.5px,#3f25bb 132.5px,#4127c9 136.5px,#482ef7 141.5px,#4f3afe 145.5px)"></i><i style="background:linear-gradient(90deg,#5293ff 0.5px,#528dff 4.5px,#5280ff 7.5px,#5359ff 12.5px,#4f3afe 16.5px,#482ff8 18.5px,#4228cf 22.5px,#3f25bd 26.5px,#3e24b6 34.5px,#3e24b8 108.5px,#3f25bc 129.5px,#3f25bd 133.5px,#4228cf 137.5px,#482ef7 141.5px,#4f3afe 145.5px)"></i><i style="background:linear-gradient(90deg,#5294ff 0.5px,#528fff 4.5px,#537aff 8.5px,#5250ff 13.5px,#4b34fb 17.5px,#482ff8 18.5px,#4228cf 22.5px,#3f25bd 26.5px,#3e24b6 34.5px,#3e24b8 107.5px,#3f25bf 121.5px,#3f25c0 134.5px,#4228cf 137.5px,#482ef6 141.5px,#4f39fe 145.5px)"></i><i style="background:linear-gradient(90deg,#5296ff 0.5px,#5290ff 4.5px,#537bff 8.5px,#5251ff 13.5px,#4b34fb 17.5px,#482ff8 18.5px,#4127ce 22.5px,#3f25bd 26.5px,#3e24b6 34.5px,#3e24b8 106.5px,#4026c2 118.5px,#4026c1 134.5px,#4228cf 137.5px,#472df6 141.5px,#4e39fe 145.5px)"></i><i style="background:linear-gradient(90deg,#5297ff 0.5px,#5291ff 4.5px,#5284ff 7.5px,#535aff 12.5px,#4b34fb 17.5px,#482ff8 18.5px,#4127ce 22.5px,#3f25bd 26.5px,#3e24b6 34.5px,#3e24b8 105.5px,#4026c6 118.5px,#4026c3 134.5px,#4127ce 137.5px,#472df5 141.5px,#4e39fd 145.5px)"></i><i style="background:linear-gradient(90deg,#5298fe 0.5px,#5293ff 4.5px,#537eff 8.5px,#5251ff 13.5px,#4b34fb 17.5px,#482ff8 18.5px,#4127ce 22.5px,#3f25bd 26.5px,#3e24b6 34.5px,#3e24b8 105.5px,#4127c9 116.5px,#4026c6 132.5px,#4026c5 135.5px,#4228d6 138.5px,#472df4 141.5px,#4c36fc 144.5px,#4e38fd 145.5px)"></i><i style="background:linear-gradient(90deg,#529afd 0.5px,#5294ff 4.5px,#527fff 8.5px,#535bff 12.5px,#4f3afe 16.5px,#482ef8 18.5px,#4127cd 22.5px,#3f25bc 26.5px,#3e24b6 35.5px,#3e24b8 105.5px,#4127cc 116.5px,#4127ca 131.5px,#4026c6 135.5px,#4228d5 138.5px,#472df2 141.5px,#492ff9 142.5px,#4d37fd 145.5px)"></i><i style="background:linear-gradient(90deg,#539bfb 0.5px,#5296ff 4.5px,#5280ff 8.5px,#5149ff 14.5px,#482ef8 18.5px,#4228d5 21.5px,#4026c2 24.5px,#3e24b7 30.5px,#3e24b8 104.5px,#4228cf 116.5px,#4127ce 130.5px,#4026c7 135.5px,#4127cd 137.5px,#482ff8 142.5px,#4d37fc 145.5px)"></i><i style="background:linear-gradient(90deg,#539cf9 0.5px,#5297ff 4.5px,#5281ff 8.5px,#5149ff 14.5px,#482ef8 18.5px,#4228d4 21.5px,#4026c2 24.5px,#3e24b7 30.5px,#3e24b8 104.5px,#4228d2 116.5px,#4228d1 130.5px,#4127c8 135.5px,#4127cd 137.5px,#4329dd 139.5px,#482ef8 142.5px,#4d36fc 145.5px)"></i><i style="background:linear-gradient(90deg,#539df8 0.5px,#5298ff 4.5px,#5282ff 8.5px,#5149ff 14.5px,#482ef7 18.5px,#4228d3 21.5px,#3f25be 25.5px,#3e24b7 32.5px,#3e24b8 104.5px,#4228d4 116.5px,#4228d4 129.5px,#4127c9 136.5px,#4228d2 138.5px,#482ef7 142.5px,#4c36fc 145.5px)"></i><i style="background:linear-gradient(90deg,#539ef6 0.5px,#5299fd 4.5px,#5282ff 8.5px,#535bff 12.5px,#4e39fd 16.5px,#482ef6 18.5px,#4228d2 21.5px,#4026c1 24.5px,#3e24b8 29.5px,#3e24b8 104.5px,#4127ce 112.5px,#4329d7 118.5px,#4228d5 130.5px,#4127c9 136.5px,#4228d1 138.5px,#472df6 142.5px,#4c35fc 145.5px)"></i><i style="background:linear-gradient(90deg,#539ff5 0.5px,#529afc 4.5px,#5283ff 8.5px,#535bff 12.5px,#4e38fd 16.5px,#472df5 18.5px,#4228d1 21.5px,#3f25bd 25.5px,#3e24b7 32.5px,#3e24b8 78.5px,#3e24b8 104.5px,#4127c9 110.5px,#4329d7 116.5px,#4329d7 129.5px,#4127c9 136.5px,#4228d0 138.5px,#472df4 142.5px,#4a32fa 144.5px,#4c34fb 145.5px)"></i><i style="background:linear-gradient(90deg,#53a0f4 0.5px,#529bfb 4.5px,#5292ff 6.5px,#537aff 9.5px,#5251ff 13.5px,#4a32fa 17.5px,#452be9 19.5px,#4228d1 21.5px,#3f25c0 24.5px,#3e24b8 29.5px,#3e24b8 76.5px,#3e24b8 104.5px,#4228d7 115.5px,#4329da 127.5px,#4228d0 133.5px,#4127c9 136.5px,#4228d0 138.5px,#492ff9 143.5px,#4b34fb 145.5px)"></i><i style="background:linear-gradient(90deg,#54a0f3 0.5px,#539bfa 4.5px,#5292ff 6.5px,#537aff 9.5px,#5251ff 13.5px,#4a32fa 17.5px,#442ae8 19.5px,#4228d0 21.5px,#3f25bd 25.5px,#3e24b8 31.5px,#3e24b8 75.5px,#3e24b8 85.5px,#3e24b8 104.5px,#4329d9 116.5px,#4329d9 129.5px,#4127c9 136.5px,#4228cf 138.5px,#482ff8 143.5px,#4b34fb 145.5px)"></i><i style="background:linear-gradient(90deg,#54a1f2 0.5px,#539cfa 4.5px,#528cff 7.5px,#5251ff 13.5px,#4d37fd 16.5px,#472df2 18.5px,#4228cf 21.5px,#3f25bf 24.5px,#3e24b9 30.5px,#3e24b7 73.5px,#3f25ba 82.5px,#3e24b6 100.5px,#3f25bc 106.5px,#4329d8 115.5px,#4329db 127.5px,#4228d0 133.5px,#4127c9 136.5px,#4228cf 138.5px,#482ef8 143.5px,#4b33fb 145.5px)"></i><i style="background:linear-gradient(90deg,#54a1f2 0.5px,#539cf9 4.5px,#5293ff 6.5px,#537aff 9.5px,#503eff 15.5px,#4931f9 17.5px,#442ae5 19.5px,#4127ce 21.5px,#3f25bc 25.5px,#3e24b6 57.5px,#3e24b9 75.5px,#3f25bb 82.5px,#3e24b6 96.5px,#3e24b8 104.5px,#4329d9 116.5px,#4329d9 129.5px,#4127c9 136.5px,#4127ce 138.5px,#482ef8 143.5px,#4b33fa 145.5px)"></i><i style="background:linear-gradient(90deg,#54a2f1 0.5px,#539cf9 4.5px,#5293ff 6.5px,#537aff 9.5px,#503dff 15.5px,#4930f9 17.5px,#442ae4 19.5px,#4127cd 21.5px,#3f25bf 24.5px,#3f25bb 29.5px,#3e24b6 61.5px,#3e24b9 74.5px,#3f25bc 82.5px,#3e24b6 94.5px,#3e24b8 104.5px,#4329d9 116.5px,#4329d9 129.5px,#4127c8 136.5px,#4127ce 138.5px,#482ef8 143.5px,#4b33fa 145.5px)"></i><i style="background:linear-gradient(90deg,#54a1f1 0.5px,#539cf9 4.5px,#5293ff 6.5px,#546eff 10.5px,#503cff 15.5px,#492ff9 17.5px,#4127cc 21.5px,#3f25bd 25.5px,#3e24b6 57.5px,#3e24b9 74.5px,#3f25be 81.5px,#3e24b6 92.5px,#3e24b8 104.5px,#4329d9 116.5px,#4329d9 129.5px,#4127c8 136.5px,#4127ce 138.5px,#482ef7 143.5px,#4b33fa 145.5px)"></i><i style="background:linear-gradient(90deg,#54a0f3 0.5px,#539bfb 4.5px,#5291ff 6.5px,#5377ff 9.5px,#503bff 15.5px,#482ff8 17.5px,#4228d3 20.5px,#4026c1 23.5px,#3e24b7 43.5px,#3e24b8 72.5px,#3f25c0 80.5px,#3e24b6 92.5px,#3e24b8 104.5px,#4329d9 116.5px,#4329d9 129.5px,#4127c8 136.5px,#4127ce 138.5px,#482ef7 143.5px,#4b32fa 145.5px)"></i><i style="background:linear-gradient(90deg,#539ef6 0.5px,#5299fe 4.5px,#527fff 8.5px,#545fff 11.5px,#4f3afe 15.5px,#482ef7 17.5px,#4228d1 20.5px,#4026c1 23.5px,#3e24b6 52.5px,#3e24b9 73.5px,#4026c2 79.5px,#3f25bb 85.5px,#3e24b6 95.5px,#3e24b8 104.5px,#4329d9 116.5px,#4329d9 129.5px,#4127c8 136.5px,#4127ce 138.5px,#4329de 140.5px,#482ef7 143.5px,#4a32fa 145.5px)"></i><i style="background:linear-gradient(90deg,#539bfa 0.5px,#5295ff 4.5px,#5284ff 7.5px,#535cff 11.5px,#4e38fd 15.5px,#472df4 17.5px,#4228d0 20.5px,#4026c4 22.5px,#3e24b6 51.5px,#3e24b8 71.5px,#4026c4 79.5px,#3f25be 84.5px,#3e24b6 92.5px,#3e24b8 104.5px,#4329d9 116.5px,#4329d9 129.5px,#4127c8 136.5px,#4127cd 138.5px,#482ef7 143.5px,#4a32fa 145.5px)"></i><i style="background:linear-gradient(90deg,#5298ff 0.5px,#5290ff 4.5px,#527fff 7.5px,#5359ff 11.5px,#4d36fc 15.5px,#462cf1 17.5px,#4329d7 19.5px,#4127c8 21.5px,#4026c2 24.5px,#3f25bf 34.5px,#3e24b6 52.5px,#3e24b9 72.5px,#4026c7 80.5px,#3e24b7 89.5px,#3e24b8 104.5px,#4329d9 116.5px,#4329d9 129.5px,#4127c8 136.5px,#4127cd 138.5px,#482ef7 143.5px,#4a32fa 145.5px)"></i><i style="background:linear-gradient(90deg,#5292ff 0.5px,#528bff 4.5px,#5379ff 7.5px,#5255ff 11.5px,#4c34fb 15.5px,#482ff8 16.5px,#4228d4 19.5px,#4026c7 21.5px,#4026c5 29.5px,#3e24b7 47.5px,#3e24b8 71.5px,#4127c9 79.5px,#4026c3 83.5px,#3e24b7 89.5px,#3e24b8 104.5px,#4329d9 116.5px,#4329d9 129.5px,#4127c8 136.5px,#4127cd 138.5px,#482ef7 143.5px,#4a32fa 145.5px)"></i><i style="background:linear-gradient(90deg,#528cff 0.5px,#5285ff 4.5px,#556bff 8.5px,#4e38fd 14.5px,#472df5 16.5px,#4228d1 19.5px,#4026c7 21.5px,#4026c5 32.5px,#3e24b7 46.5px,#3e24b8 71.5px,#4127cc 79.5px,#4026c5 83.5px,#3e24b7 89.5px,#3e24b8 104.5px,#4228d7 115.5px,#4329da 127.5px,#4228d0 133.5px,#4127c8 136.5px,#4127cd 138.5px,#482ef7 143.5px,#4a32fa 145.5px)"></i><i style="background:linear-gradient(90deg,#5285ff 0.5px,#527eff 4.5px,#5465ff 8.5px,#503cff 13.5px,#4930f9 15.5px,#442ae5 17.5px,#4228cf 19.5px,#4026c7 22.5px,#4127ca 30.5px,#3e24b7 46.5px,#3e24b7 70.5px,#4026c7 76.5px,#4228cf 80.5px,#3e24b7 89.5px,#3e24b8 104.5px,#4127c9 110.5px,#4329d7 116.5px,#4329d7 129.5px,#4127c8 136.5px,#4127cd 138.5px,#482ef6 143.5px,#4a32fa 145.5px)"></i><i style="background:linear-gradient(90deg,#527eff 0.5px,#5377ff 4.5px,#5358ff 9.5px,#4b33fb 14.5px,#482ef8 15.5px,#4228d4 18.5px,#4127ca 20.5px,#4127cd 30.5px,#3e24b8 45.5px,#3e24b8 70.5px,#4026c5 75.5px,#4228d2 79.5px,#4127c9 83.5px,#3e24b9 88.5px,#3e24b6 102.5px,#4026c1 108.5px,#4228d5 115.5px,#4228d7 128.5px,#4026c7 136.5px,#4127cd 138.5px,#482ef6 143.5px,#4a32fa 145.5px)"></i><i style="background:linear-gradient(90deg,#5376ff 0.5px,#546fff 4.5px,#535aff 8.5px,#4d36fc 13.5px,#472df3 15.5px,#4228d1 18.5px,#4127ca 20.5px,#4228d1 29.5px,#3e24b9 45.5px,#3e24b7 69.5px,#3f25be 73.5px,#4228d6 79.5px,#4228d0 82.5px,#3f25bb 87.5px,#3e24b6 97.5px,#3e24b9 105.5px,#4228d3 115.5px,#4228d5 128.5px,#4026c7 136.5px,#4127cd 138.5px,#482ef6 143.5px,#4a32fa 145.5px)"></i><i style="background:linear-gradient(90deg,#546fff 0.5px,#5465ff 5.5px,#4e39fe 12.5px,#482ff8 14.5px,#4228cf 18.5px,#4127cb 20.5px,#4228d6 28.5px,#3f25ba 44.5px,#3e24b6 62.5px,#3f25ba 71.5px,#4127c8 75.5px,#4329db 79.5px,#4329d8 81.5px,#3f25bc 87.5px,#3e24b6 94.5px,#3e24b9 105.5px,#4228d1 115.5px,#4228d1 130.5px,#4026c6 136.5px,#4127cd 138.5px,#482ef6 143.5px,#4a32fa 145.5px)"></i><i style="background:linear-gradient(90deg,#5568ff 0.5px,#5462ff 4.5px,#5149ff 9.5px,#4a31fa 13.5px,#452bea 15.5px,#4228d4 17.5px,#4127cc 19.5px,#4329db 27.5px,#4228d4 32.5px,#3f25bb 43.5px,#3e24b6 59.5px,#3e24b8 70.5px,#4026c5 74.5px,#4329df 79.5px,#4329dc 81.5px,#3f25bd 87.5px,#3e24b6 92.5px,#3e24b9 105.5px,#4228cf 116.5px,#4127ce 130.5px,#4026c5 136.5px,#4228d4 139.5px,#482ef6 143.5px,#4a32fa 145.5px)"></i><i style="background:linear-gradient(90deg,#5462ff 0.5px,#535dff 4.5px,#503fff 10.5px,#492ff9 13.5px,#4228d1 17.5px,#4127cd 19.5px,#4329e0 27.5px,#4329d8 32.5px,#3f25bd 42.5px,#3e24b6 54.5px,#3e24b8 70.5px,#4026c6 74.5px,#4329e0 78.5px,#442ae3 80.5px,#4329da 82.5px,#4026c1 86.5px,#3e24b7 90.5px,#3e24b8 105.5px,#4127cc 116.5px,#4127ca 131.5px,#4026c5 136.5px,#4228d4 139.5px,#482ef6 143.5px,#4a32fa 145.5px)"></i><i style="background:linear-gradient(90deg,#535dff 0.5px,#5255ff 5.5px,#4d37fc 11.5px,#482ef6 13.5px,#4228d6 16.5px,#4127ce 18.5px,#4329d9 22.5px,#442ae4 27.5px,#4329df 31.5px,#3f25be 42.5px,#3e24b6 53.5px,#3e24b9 70.5px,#4026c7 74.5px,#442ae4 78.5px,#442ae7 80.5px,#4329dd 82.5px,#4026c2 86.5px,#3e24b7 90.5px,#3e24b9 106.5px,#4127c9 116.5px,#4026c6 132.5px,#4026c4 136.5px,#4228d4 139.5px,#482ef6 143.5px,#4a32fa 145.5px)"></i><i style="background:linear-gradient(90deg,#5358ff 0.5px,#524fff 5.5px,#4e38fd 10.5px,#492ff9 12.5px,#4228d2 16.5px,#4127ce 18.5px,#442ae6 25.5px,#442ae6 30.5px,#4026c1 41.5px,#3e24b7 49.5px,#3e24b8 69.5px,#4026c3 73.5px,#4329d8 76.5px,#442ae7 78.5px,#452bea 80.5px,#4329e1 82.5px,#4127c8 85.5px,#3e24b9 89.5px,#3e24b6 103.5px,#4026c6 118.5px,#4026c2 133.5px,#4026c3 136.5px,#4228d4 139.5px,#482ef6 143.5px,#4a32fa 145.5px)"></i><i style="background:linear-gradient(90deg,#5252ff 0.5px,#514aff 5.5px,#4c35fb 10.5px,#472df4 12.5px,#4228cf 16.5px,#4228d2 19.5px,#442ae7 24.5px,#452bea 29.5px,#4329e0 33.5px,#4026c4 40.5px,#3e24b8 48.5px,#3e24b8 69.5px,#4026c3 73.5px,#452bea 78.5px,#452bed 80.5px,#442ae4 82.5px,#4026c3 86.5px,#3e24b8 90.5px,#3e24b8 106.5px,#4026c2 118.5px,#3f25c0 135.5px,#4228d3 139.5px,#482ef6 143.5px,#4a32fa 145.5px)"></i><i style="background:linear-gradient(90deg,#514cff 0.5px,#5145ff 5.5px,#4a32fa 10.5px,#482ef7 11.5px,#4228d1 15.5px,#4127ce 17.5px,#452bec 25.5px,#452bec 30.5px,#4329de 34.5px,#4026c5 40.5px,#3e24b8 48.5px,#3e24b8 69.5px,#4026c4 73.5px,#4228d2 75.5px,#442ae7 77.5px,#462cef 79.5px,#452bec 81.5px,#4329dd 83.5px,#4127cb 85.5px,#3f25bc 88.5px,#3e24b6 94.5px,#3f25ba 109.5px,#3f25bf 125.5px,#3f25bf 135.5px,#4228d3 139.5px,#482ef6 143.5px,#4a32fa 145.5px)"></i><i style="background:linear-gradient(90deg,#5146ff 0.5px,#503fff 5.5px,#482ff8 10.5px,#4228d3 14.5px,#4127cc 16.5px,#4329db 20.5px,#452bec 24.5px,#462cf1 28.5px,#442ae6 33.5px,#4127c9 39.5px,#3f25bb 45.5px,#3e24b6 58.5px,#3e24b9 70.5px,#4127cb 74.5px,#452be8 77.5px,#462cf1 79.5px,#462cee 81.5px,#4329df 83.5px,#4127cb 85.5px,#3e24b9 89.5px,#3e24b6 104.5px,#3f25bc 124.5px,#3f25bd 134.5px,#4127cd 138.5px,#4329dd 140.5px,#482ef6 143.5px,#4a32fa 145.5px)"></i><i style="background:linear-gradient(90deg,#5041ff 0.5px,#4e39fd 6.5px,#492ff9 9.5px,#4228cf 14.5px,#4127cc 16.5px,#4329dd 20.5px,#462cee 24.5px,#472df3 28.5px,#442ae7 33.5px,#4127ca 39.5px,#3f25ba 46.5px,#3e24b6 64.5px,#3e24b9 70.5px,#4127cc 74.5px,#452bea 77.5px,#472df3 79.5px,#462cf0 81.5px,#4329e1 83.5px,#4127cc 85.5px,#3e24b9 89.5px,#3e24b6 105.5px,#3f25ba 129.5px,#3f25bc 134.5px,#4127cd 138.5px,#4329dd 140.5px,#482ef6 143.5px,#4a32fa 145.5px)"></i><i style="background:linear-gradient(90deg,#503dff 0.5px,#4c35fc 6.5px,#472df5 9.5px,#4228d2 13.5px,#4127cb 15.5px,#4228d3 18.5px,#452bec 23.5px,#472df4 27.5px,#462cef 31.5px,#4329df 35.5px,#4026c7 40.5px,#3e24b9 47.5px,#3e24b7 68.5px,#3f25c0 72.5px,#4228d6 75.5px,#452beb 77.5px,#472df4 79.5px,#462cf1 81.5px,#442ae2 83.5px,#4127cd 85.5px,#3f25bc 88.5px,#3e24b6 94.5px,#3f25ba 133.5px,#4026c7 137.5px,#4228d3 139.5px,#472df6 143.5px,#4a32fa 145.5px)"></i><i style="background:linear-gradient(90deg,#4f3afe 0.5px,#4931f9 7.5px,#482ef8 8.5px,#4228cf 13.5px,#4127ca 15.5px,#4228d4 18.5px,#452bea 22.5px,#472df5 27.5px,#462cf0 31.5px,#4329e0 35.5px,#4127cb 39.5px,#3f25bb 45.5px,#3e24b6 61.5px,#3e24b8 69.5px,#3f25c0 72.5px,#4228d7 75.5px,#452bec 77.5px,#472df5 79.5px,#472df2 81.5px,#442ae3 83.5px,#4127cd 85.5px,#3f25bc 88.5px,#3e24b6 94.5px,#3e24b9 132.5px,#4026c3 136.5px,#4228d3 139.5px,#472df6 143.5px,#4a32fa 145.5px)"></i><i style="background:linear-gradient(90deg,#4e38fd 0.5px,#4a32fa 6.5px,#472df5 8.5px,#4127ce 13.5px,#4127ca 15.5px,#4228d4 18.5px,#462cee 23.5px,#482ef6 28.5px,#452bea 33.5px,#4127cb 39.5px,#3f25ba 46.5px,#3e24b6 64.5px,#3f25ba 70.5px,#4026c6 73.5px,#4329d7 75.5px,#452bec 77.5px,#472df6 79.5px,#472df2 81.5px,#442ae3 83.5px,#4127cd 85.5px,#3f25bc 88.5px,#3e24b6 94.5px,#3e24b8 131.5px,#3f25bf 135.5px,#4228d3 139.5px,#462cee 142.5px,#4930f9 144.5px,#4a32fa 145.5px)"></i><i style="background:linear-gradient(90deg,#4e39fd 0.5px,#4a32fa 6.5px,#472df5 8.5px,#4127ce 13.5px,#4127ca 15.5px,#4228d4 18.5px,#462cee 23.5px,#482ef6 28.5px,#452bea 33.5px,#4127cb 39.5px,#3f25ba 46.5px,#3e24b6 64.5px,#3f25ba 70.5px,#4026c6 73.5px,#4329d7 75.5px,#452bec 77.5px,#472df6 79.5px,#472df2 81.5px,#442ae3 83.5px,#4127cd 85.5px,#3f25bc 88.5px,#3e24b6 94.5px,#3e24b8 131.5px,#4026c2 136.5px,#4228d3 139.5px,#462cee 142.5px,#492ff9 144.5px,#4a32fa 145.5px)"></i><i style="background:linear-gradient(90deg,#4f3afe 0.5px,#4931f9 7.5px,#482ef8 8.5px,#4228cf 13.5px,#4127ca 15.5px,#4228d4 18.5px,#452bea 22.5px,#472df5 27.5px,#462cf0 31.5px,#4329e0 35.5px,#4127cb 39.5px,#3f25bb 45.5px,#3e24b6 61.5px,#3e24b8 69.5px,#3f25c0 72.5px,#4228d7 75.5px,#452bec 77.5px,#472df5 79.5px,#472df2 81.5px,#442ae3 83.5px,#4127cd 85.5px,#3f25bc 88.5px,#3e24b6 94.5px,#3e24b8 131.5px,#4026c2 136.5px,#4228d3 139.5px,#472df5 143.5px,#4a32fa 145.5px)"></i><i style="background:linear-gradient(90deg,#503dff 0.5px,#4c35fc 6.5px,#472df4 9.5px,#4228d1 13.5px,#4127ca 15.5px,#4329d9 19.5px,#452bec 23.5px,#472df4 27.5px,#462cef 31.5px,#4329df 35.5px,#4026c7 40.5px,#3e24b9 47.5px,#3e24b7 68.5px,#3f25c0 72.5px,#4228d6 75.5px,#452beb 77.5px,#472df4 79.5px,#462cf1 81.5px,#442ae2 83.5px,#4127cd 85.5px,#3f25bc 88.5px,#3e24b6 94.5px,#3e24b8 131.5px,#4026c2 136.5px,#4228d3 139.5px,#472df5 143.5px,#4a31fa 145.5px)"></i><i style="background:linear-gradient(90deg,#5142ff 0.5px,#4e39fd 6.5px,#492ff8 9.5px,#4127ce 14.5px,#4127cc 16.5px,#4329dd 20.5px,#462cee 24.5px,#472df3 28.5px,#442ae7 33.5px,#4127ca 39.5px,#3f25ba 46.5px,#3e24b6 64.5px,#3e24b9 70.5px,#4127cc 74.5px,#452bea 77.5px,#472df3 79.5px,#462cf0 81.5px,#4329e1 83.5px,#4127cc 85.5px,#3e24b9 89.5px,#3e24b6 106.5px,#3e24b8 131.5px,#4026c2 136.5px,#4228d3 139.5px,#472df5 143.5px,#4a31fa 145.5px)"></i><i style="background:linear-gradient(90deg,#5147ff 0.5px,#5040ff 5.5px,#482ef8 10.5px,#4228d1 14.5px,#4127cc 16.5px,#4329db 20.5px,#452bec 24.5px,#462cf1 28.5px,#442ae6 33.5px,#4127c9 39.5px,#3f25bb 45.5px,#3e24b6 58.5px,#3e24b9 70.5px,#4127cb 74.5px,#452be8 77.5px,#462cf1 79.5px,#462cee 81.5px,#4329df 83.5px,#4127cb 85.5px,#3e24b9 89.5px,#3e24b6 106.5px,#3e24b8 131.5px,#4026c2 136.5px,#4228d3 139.5px,#472df5 143.5px,#4a31fa 145.5px)"></i><i style="background:linear-gradient(90deg,#524dff 0.5px,#5148ff 4.5px,#4c35fc 9.5px,#472df4 11.5px,#4127ce 15.5px,#4127cd 17.5px,#452bea 24.5px,#462ced 29.5px,#442ae3 33.5px,#4127c8 39.5px,#3f25ba 46.5px,#3e24b6 62.5px,#3e24b9 70.5px,#4026c4 73.5px,#4228d2 75.5px,#442ae7 77.5px,#462cef 79.5px,#452bec 81.5px,#4329dd 83.5px,#4127cb 85.5px,#3f25bc 88.5px,#3e24b6 94.5px,#3e24b8 131.5px,#4026c2 136.5px,#4228d2 139.5px,#472df5 143.5px,#4a31fa 145.5px)"></i><i style="background:linear-gradient(90deg,#5254ff 0.5px,#524fff 4.5px,#4e39fd 9.5px,#492ff9 11.5px,#4228d1 15.5px,#4127cc 17.5px,#452be9 25.5px,#452be9 30.5px,#4329db 34.5px,#3f25bf 42.5px,#3e24b7 50.5px,#3e24b8 69.5px,#4026c3 73.5px,#452bea 78.5px,#452bed 80.5px,#442ae4 82.5px,#4026c3 86.5px,#3e24b8 90.5px,#3e24b8 131.5px,#4026c2 136.5px,#4228d2 139.5px,#462ced 142.5px,#492ff9 144.5px,#4a31fa 145.5px)"></i><i style="background:linear-gradient(90deg,#535bff 0.5px,#5255ff 4.5px,#4d37fd 10.5px,#482ef6 12.5px,#4228d4 15.5px,#4127cc 17.5px,#4329dc 22.5px,#442ae7 26.5px,#442ae4 31.5px,#4026c3 40.5px,#3e24b8 48.5px,#3e24b8 69.5px,#4026c3 73.5px,#4329d8 76.5px,#442ae7 78.5px,#452bea 80.5px,#4329e1 82.5px,#4127c8 85.5px,#3e24b9 89.5px,#3e24b6 106.5px,#3e24b8 131.5px,#4026c2 136.5px,#4228d2 139.5px,#462ced 142.5px,#492ff9 144.5px,#4a31fa 145.5px)"></i><i style="background:linear-gradient(90deg,#5463ff 0.5px,#535cff 4.5px,#4f3bfe 10.5px,#4930f9 12.5px,#4228d0 16.5px,#4127cc 18.5px,#442ae3 26.5px,#442ae2 30.5px,#3f25be 42.5px,#3e24b6 53.5px,#3e24b9 70.5px,#4026c7 74.5px,#442ae4 78.5px,#442ae7 80.5px,#4329dd 82.5px,#4026c2 86.5px,#3e24b7 90.5px,#3e24b8 131.5px,#4026c2 136.5px,#4228d2 139.5px,#472df4 143.5px,#4a31f9 145.5px)"></i><i style="background:linear-gradient(90deg,#5569ff 0.5px,#5462ff 4.5px,#514cff 8.5px,#4a32fa 12.5px,#472df5 13.5px,#4228d2 16.5px,#4127cb 18.5px,#4329e0 27.5px,#4329d8 32.5px,#3f25bd 42.5px,#3e24b6 54.5px,#3e24b8 70.5px,#4026c6 74.5px,#4329e0 78.5px,#442ae3 80.5px,#4329da 82.5px,#4026c1 86.5px,#3e24b7 90.5px,#3e24b8 131.5px,#4026c2 136.5px,#4228d2 139.5px,#472df4 143.5px,#4a31f9 145.5px)"></i><i style="background:linear-gradient(90deg,#5470ff 0.5px,#5568ff 4.5px,#5250ff 8.5px,#4c34fb 12.5px,#482ff8 13.5px,#4228d4 16.5px,#4127ca 18.5px,#4329db 27.5px,#4228d4 32.5px,#3f25bb 43.5px,#3e24b6 59.5px,#3e24b8 70.5px,#4026c5 74.5px,#4329df 79.5px,#4329dc 81.5px,#3f25bd 87.5px,#3e24b6 92.5px,#3e24b8 131.5px,#4026c2 136.5px,#4228d2 139.5px,#472df4 143.5px,#4a31f9 145.5px)"></i><i style="background:linear-gradient(90deg,#5376ff 0.5px,#546dff 4.5px,#5254ff 8.5px,#4d36fc 12.5px,#4930f9 13.5px,#4127ce 17.5px,#4127c9 19.5px,#4228d6 28.5px,#3f25ba 44.5px,#3e24b6 62.5px,#3f25ba 71.5px,#4127c8 75.5px,#4329db 79.5px,#4329d8 81.5px,#3f25bc 87.5px,#3e24b6 94.5px,#3e24b8 131.5px,#4026c2 136.5px,#4228d2 139.5px,#472df3 143.5px,#4a31f9 145.5px)"></i><i style="background:linear-gradient(90deg,#537bff 0.5px,#5473ff 4.5px,#5250ff 9.5px,#4a32fa 13.5px,#472df4 14.5px,#4228cf 17.5px,#4127c8 19.5px,#4228d1 28.5px,#4026c4 37.5px,#3e24b7 47.5px,#3e24b8 70.5px,#4026c2 74.5px,#4228d6 79.5px,#4228d0 82.5px,#3f25bb 87.5px,#3e24b6 97.5px,#3e24b8 131.5px,#4026c2 136.5px,#4228d2 139.5px,#472df3 143.5px,#4931f9 145.5px)"></i><i style="background:linear-gradient(90deg,#5281ff 0.5px,#5378ff 4.5px,#535cff 8.5px,#4f3afe 12.5px,#482ef7 14.5px,#4228d1 17.5px,#4026c7 19.5px,#4127ce 29.5px,#3e24b8 45.5px,#3e24b8 70.5px,#4026c5 75.5px,#4228d2 79.5px,#4127c9 83.5px,#3e24b9 88.5px,#3e24b6 105.5px,#3e24b8 131.5px,#4026c2 136.5px,#4228d1 139.5px,#472df3 143.5px,#4930f9 145.5px)"></i><i style="background:linear-gradient(90deg,#5286ff 0.5px,#5282ff 3.5px,#5569ff 7.5px,#4c35fc 13.5px,#492ff9 14.5px,#4228d3 17.5px,#4026c7 19.5px,#4127c8 23.5px,#4127ca 30.5px,#3e24b7 46.5px,#3e24b7 70.5px,#4026c7 76.5px,#4228cf 80.5px,#3e24b7 89.5px,#3e24b8 131.5px,#4026c2 136.5px,#4228d1 139.5px,#472df3 143.5px,#4930f9 145.5px)"></i><i style="background:linear-gradient(90deg,#528cff 0.5px,#5283ff 4.5px,#5464ff 8.5px,#4d37fc 13.5px,#4930f9 14.5px,#442ae3 16.5px,#4127cc 18.5px,#4026c4 20.5px,#4026c7 30.5px,#3e24b7 46.5px,#3e24b8 71.5px,#4127cc 79.5px,#4026c5 83.5px,#3e24b7 89.5px,#3e24b8 131.5px,#4026c2 136.5px,#4228d1 139.5px,#472df2 143.5px,#4930f9 145.5px)"></i><i style="background:linear-gradient(90deg,#5291ff 0.5px,#5288ff 4.5px,#5472ff 7.5px,#4e39fd 13.5px,#472df3 15.5px,#4127cd 18.5px,#4026c3 20.5px,#4026c3 32.5px,#3e24b7 47.5px,#3e24b8 71.5px,#4127c9 79.5px,#4026c3 83.5px,#3e24b7 89.5px,#3e24b8 131.5px,#4026c2 136.5px,#4228d1 139.5px,#472df2 143.5px,#4930f9 145.5px)"></i><i style="background:linear-gradient(90deg,#5296ff 0.5px,#528dff 4.5px,#5377ff 7.5px,#5143ff 12.5px,#482ef6 15.5px,#4228cf 18.5px,#4026c3 20.5px,#3f25c0 33.5px,#3e24b6 50.5px,#3e24b9 72.5px,#4026c7 80.5px,#3e24b7 89.5px,#3e24b8 131.5px,#4026c2 136.5px,#4228d1 139.5px,#472df2 143.5px,#4930f9 145.5px)"></i><i style="background:linear-gradient(90deg,#529afc 0.5px,#5292ff 4.5px,#537cff 7.5px,#5250ff 11.5px,#503cff 13.5px,#482ef8 15.5px,#4228d0 18.5px,#3f25c0 21.5px,#3f25be 34.5px,#3e24b6 51.5px,#3e24b8 71.5px,#4026c4 79.5px,#3f25be 84.5px,#3e24b6 92.5px,#3e24b8 131.5px,#4026c2 136.5px,#4329d9 140.5px,#482ef8 144.5px,#4930f9 145.5px)"></i><i style="background:linear-gradient(90deg,#539ef7 0.5px,#5296ff 4.5px,#5280ff 7.5px,#545eff 10.5px,#4d36fc 14.5px,#4930f9 15.5px,#4228d2 18.5px,#3f25c0 21.5px,#3e24b9 40.5px,#3e24b6 69.5px,#4026c2 80.5px,#3e24b6 91.5px,#3e24b8 131.5px,#4026c2 136.5px,#4329d9 140.5px,#482ef8 144.5px,#4930f9 145.5px)"></i><i style="background:linear-gradient(90deg,#54a1f2 0.5px,#539df7 3.5px,#5295ff 5.5px,#5379ff 8.5px,#5040ff 13.5px,#4a31f9 15.5px,#442ae2 17.5px,#4127cb 19.5px,#3f25be 22.5px,#3e24b6 57.5px,#3e24b9 73.5px,#3f25c0 80.5px,#3e24b6 92.5px,#3e24b8 131.5px,#4026c2 136.5px,#4329d9 140.5px,#482ef7 144.5px,#4930f9 145.5px)"></i><i style="background:linear-gradient(90deg,#54a5ed 0.5px,#54a1f2 3.5px,#5299fe 5.5px,#537eff 8.5px,#5142ff 13.5px,#4a32fa 15.5px,#472df3 16.5px,#4228d6 18.5px,#4026c6 20.5px,#3f25bc 23.5px,#3e24b6 62.5px,#3e24b9 74.5px,#3f25be 81.5px,#3e24b6 92.5px,#3e24b8 131.5px,#4026c2 136.5px,#4228d0 139.5px,#462cf1 143.5px,#4930f9 145.5px)"></i><i style="background:linear-gradient(90deg,#55a8e8 0.5px,#54a4ee 3.5px,#5295ff 6.5px,#5475ff 9.5px,#5144ff 13.5px,#4b33fb 15.5px,#472df5 16.5px,#4127cd 19.5px,#3f25be 22.5px,#3e24b6 54.5px,#3e24b9 74.5px,#3f25bc 82.5px,#3e24b6 94.5px,#3e24b8 131.5px,#4026c1 136.5px,#4228d0 139.5px,#462cf1 143.5px,#492ff9 145.5px)"></i><i style="background:linear-gradient(90deg,#56abe6 0.5px,#55a7e9 3.5px,#5299fe 6.5px,#5378ff 9.5px,#5146ff 13.5px,#4c34fb 15.5px,#482ef7 16.5px,#4127ce 19.5px,#3f25bb 23.5px,#3e24b6 65.5px,#3f25bb 82.5px,#3e24b6 96.5px,#3e24b8 131.5px,#4026c1 136.5px,#4329d8 140.5px,#462cf0 143.5px,#492ff9 145.5px)"></i><i style="background:linear-gradient(90deg,#56afe3 0.5px,#55a7ea 4.5px,#5293ff 7.5px,#5254ff 12.5px,#4c35fc 15.5px,#482ff8 16.5px,#4228cf 19.5px,#3f25be 22.5px,#3e24b9 28.5px,#3e24b7 73.5px,#3f25ba 82.5px,#3e24b6 100.5px,#3e24b8 131.5px,#4026c1 136.5px,#4329d8 140.5px,#482ef6 144.5px,#492ff9 145.5px)"></i><i style="background:linear-gradient(90deg,#57b2e1 0.5px,#55a9e7 4.5px,#5297ff 7.5px,#5256ff 12.5px,#4d36fc 15.5px,#492ff9 16.5px,#4228d0 19.5px,#3f25be 22.5px,#3e24b8 28.5px,#3e24b8 75.5px,#3e24b8 85.5px,#3e24b8 131.5px,#4026c1 136.5px,#4329d8 140.5px,#472df6 144.5px,#492ff9 145.5px)"></i><i style="background:linear-gradient(90deg,#57b5df 0.5px,#56ace5 4.5px,#54a1f3 6.5px,#5299fd 7.5px,#5473ff 10.5px,#5040ff 14.5px,#4930f9 16.5px,#4228d1 19.5px,#3f25bf 22.5px,#3e24b8 26.5px,#3e24b8 76.5px,#3e24b8 132.5px,#4026c5 137.5px,#4329d8 140.5px,#472df5 144.5px,#482ff8 145.5px)"></i><i style="background:linear-gradient(90deg,#58b8dd 0.5px,#56afe3 4.5px,#54a3ef 6.5px,#539bfa 7.5px,#5284ff 9.5px,#5359ff 12.5px,#4e38fd 15.5px,#4931f9 16.5px,#4329e0 18.5px,#4228d2 19.5px,#3f25bf 22.5px,#3e24b7 27.5px,#3e24b8 78.5px,#3e24b8 132.5px,#4026c5 137.5px,#4329e0 141.5px,#472df5 144.5px,#482ff8 145.5px)"></i><i style="background:linear-gradient(90deg,#58badb 0.5px,#57b1e1 4.5px,#54a5ec 6.5px,#5293ff 8.5px,#535bff 12.5px,#4e39fd 15.5px,#4a31fa 16.5px,#442ae1 18.5px,#4127ca 20.5px,#3f25bc 23.5px,#3e24b7 29.5px,#3e24b8 132.5px,#4026c5 137.5px,#4228d7 140.5px,#472df5 144.5px,#482ff8 145.5px)"></i><i style="background:linear-gradient(90deg,#59bdd9 0.5px,#57b4e0 4.5px,#55a7e9 6.5px,#5296ff 8.5px,#535cff 12.5px,#4e39fe 15.5px,#462cf1 17.5px,#4228d3 19.5px,#3f25bf 22.5px,#3e24b7 27.5px,#3e24b8 132.5px,#4026c5 137.5px,#4228d7 140.5px,#472df4 144.5px,#482ef8 145.5px)"></i><i style="background:linear-gradient(90deg,#5ac0d6 0.5px,#58b6de 4.5px,#55a9e7 6.5px,#5298ff 8.5px,#545eff 12.5px,#4f3afe 15.5px,#472df2 17.5px,#4228d4 19.5px,#3f25bf 22.5px,#3e24b7 27.5px,#3e24b8 132.5px,#4026c5 137.5px,#4228d6 140.5px,#462cee 143.5px,#482ef8 145.5px)"></i><i style="background:linear-gradient(90deg,#5ac2d4 0.5px,#58b9dc 4.5px,#56ace5 6.5px,#529afc 8.5px,#5251ff 13.5px,#4f3afe 15.5px,#472df3 17.5px,#4228d5 19.5px,#4026c4 21.5px,#3e24b8 25.5px,#3e24b8 132.5px,#4026c5 137.5px,#4228d6 140.5px,#462cee 143.5px,#482ef8 145.5px)"></i><i style="background:linear-gradient(90deg,#5bc5d1 0.5px,#5ac0d6 3.5px,#54a5ec 7.5px,#539cf9 8.5px,#528fff 9.5px,#5253ff 13.5px,#503bff 15.5px,#472df4 17.5px,#4228d6 19.5px,#4026c5 21.5px,#3e24b8 25.5px,#3e24b8 132.5px,#4026c5 137.5px,#4228d6 140.5px,#472df3 144.5px,#482ef8 145.5px)"></i><i style="background:linear-gradient(90deg,#5bc8cf 0.5px,#5ac2d4 3.5px,#56b0e2 6.5px,#55a7e9 7.5px,#539ef7 8.5px,#5292ff 9.5px,#5254ff 13.5px,#503cff 15.5px,#472df5 17.5px,#4228d6 19.5px,#4026c5 21.5px,#3e24b8 25.5px,#3e24b8 132.5px,#4026c5 137.5px,#4329de 141.5px,#482ef8 145.5px)"></i><i style="background:linear-gradient(90deg,#5ccacd 0.5px,#5bc5d1 3.5px,#57b2e1 6.5px,#55a9e7 7.5px,#5294ff 9.5px,#5255ff 13.5px,#503dff 15.5px,#472df6 17.5px,#4228d7 19.5px,#4026c5 21.5px,#3e24b9 25.5px,#3e24b6 42.5px,#3e24b8 132.5px,#4026c4 137.5px,#4228d5 140.5px,#462ced 143.5px,#482ef7 145.5px)"></i><i style="background:linear-gradient(90deg,#5dccca 0.5px,#5ac3d3 4.5px,#56abe6 7.5px,#5296ff 9.5px,#5356ff 13.5px,#503dff 15.5px,#482ef7 17.5px,#4329d8 19.5px,#4026c5 21.5px,#3e24b9 25.5px,#3e24b6 42.5px,#3e24b8 132.5px,#4026c4 137.5px,#4228d5 140.5px,#472df2 144.5px,#482ef7 145.5px)"></i><i style="background:linear-gradient(90deg,#5dcdc8 0.5px,#5ccacd 3.5px,#58b7de 6.5px,#54a3ef 8.5px,#5298ff 9.5px,#5357ff 13.5px,#4c35fc 16.5px,#482ef8 17.5px,#4329d8 19.5px,#4026c6 21.5px,#3f25ba 24.5px,#3e24b6 34.5px,#3e24b8 132.5px,#4026c4 137.5px,#4329dd 141.5px,#472df2 144.5px,#482ef6 145.5px)"></i><i style="background:linear-gradient(90deg,#5dcfc6 0.5px,#5bc7cf 4.5px,#56afe3 7.5px,#54a4ed 8.5px,#5299fd 9.5px,#5358ff 13.5px,#4c35fc 16.5px,#482ef8 17.5px,#4127cd 20.5px,#3f25ba 24.5px,#3e24b6 34.5px,#3e24b8 132.5px,#4026c4 137.5px,#4228d4 140.5px,#452bec 143.5px,#482ef6 145.5px)"></i><i style="background:linear-gradient(90deg,#5ed0c4 0.5px,#5cc9ce 4.5px,#57b1e2 7.5px,#55a6eb 8.5px,#539bfb 9.5px,#537bff 11.5px,#5359ff 13.5px,#503fff 15.5px,#482ef8 17.5px,#4127ce 20.5px,#3f25bd 23.5px,#3e24b6 31.5px,#3e24b8 132.5px,#4026c4 137.5px,#4228d4 140.5px,#462cf1 144.5px,#472df5 145.5px)"></i><i style="background:linear-gradient(90deg,#5ed1c3 0.5px,#5ccbcc 4.5px,#57b2e1 7.5px,#55a7e9 8.5px,#539cf9 9.5px,#528dff 10.5px,#535aff 13.5px,#4d36fc 16.5px,#482ff8 17.5px,#4127ce 20.5px,#3f25bd 23.5px,#3e24b6 31.5px,#3e24b8 132.5px,#4026c4 137.5px,#4329dc 141.5px,#462cf1 144.5px,#472df5 145.5px)"></i><i style="background:linear-gradient(90deg,#5ed2c1 0.5px,#5dcec6 3.5px,#5bc6d1 5.5px,#55a8e8 8.5px,#539df8 9.5px,#528eff 10.5px,#535bff 13.5px,#5040ff 15.5px,#492ff8 17.5px,#4127ce 20.5px,#3f25bd 23.5px,#3e24b6 31.5px,#3e24b8 132.5px,#4026c4 137.5px,#4228d4 140.5px,#462cf0 144.5px,#472df5 145.5px)"></i><i style="background:linear-gradient(90deg,#5fd3c0 0.5px,#5ecfc5 3.5px,#5bc7d0 5.5px,#55a9e7 8.5px,#539ef7 9.5px,#528fff 10.5px,#535cff 13.5px,#5041ff 15.5px,#492ff9 17.5px,#4127ce 20.5px,#3f25bd 23.5px,#3e24b6 31.5px,#3e24b8 132.5px,#4026c4 137.5px,#4329db 141.5px,#462cf0 144.5px,#472df4 145.5px)"></i><i style="background:linear-gradient(90deg,#5fd3bf 0.5px,#5ed0c4 3.5px,#5cc8cf 5.5px,#55aae7 8.5px,#539ef6 9.5px,#5290ff 10.5px,#535cff 13.5px,#4d37fc 16.5px,#492ff9 17.5px,#4228cf 20.5px,#3f25bd 23.5px,#3e24b6 31.5px,#3e24b8 132.5px,#4026c4 137.5px,#4329db 141.5px,#462cef 144.5px,#472df4 145.5px)"></i><i style="background:linear-gradient(90deg,#5fd4be 0.5px,#5dcdc8 4.5px,#5ac0d6 6.5px,#55abe6 8.5px,#5291ff 10.5px,#535dff 13.5px,#5041ff 15.5px,#492ff9 17.5px,#4228cf 20.5px,#3f25bd 23.5px,#3e24b6 31.5px,#3e24b8 132.5px,#4026c3 137.5px,#4329db 141.5px,#462cef 144.5px,#472df3 145.5px)"></i><i style="background:linear-gradient(90deg,#5fd4be 0.5px,#5ed0c3 3.5px,#5cc9ce 5.5px,#55abe6 8.5px,#5291ff 10.5px,#524eff 14.5px,#4d37fd 16.5px,#492ff9 17.5px,#4228cf 20.5px,#3f25bd 23.5px,#3e24b6 31.5px,#3e24b8 132.5px,#4026c3 137.5px,#4329da 141.5px,#462cee 144.5px,#472df3 145.5px)"></i><i style="background:linear-gradient(90deg,#5fd4be 0.5px,#5ed0c3 3.5px,#5cc9ce 5.5px,#56abe6 8.5px,#5291ff 10.5px,#524eff 14.5px,#4d37fd 16.5px,#492ff9 17.5px,#4228cf 20.5px,#3f25bd 23.5px,#3e24b6 31.5px,#3e24b8 132.5px,#4026c7 138.5px,#442ae2 142.5px,#472df2 145.5px)"></i><i style="background:linear-gradient(90deg,#5fd4be 0.5px,#5ed0c3 3.5px,#5cc9ce 5.5px,#56abe6 8.5px,#5291ff 10.5px,#524eff 14.5px,#4d37fd 16.5px,#4930f9 17.5px,#4228cf 20.5px,#3f25bd 23.5px,#3e24b6 31.5px,#3e24b8 132.5px,#4026c7 138.5px,#442ae2 142.5px,#472df2 145.5px)"></i><i style="background:linear-gradient(90deg,#5fd4be 0.5px,#5dcdc8 4.5px,#5ac0d6 6.5px,#55abe6 8.5px,#5291ff 10.5px,#524eff 14.5px,#4d37fd 16.5px,#4930f9 17.5px,#4228cf 20.5px,#3f25bd 23.5px,#3e24b6 31.5px,#3e24b8 132.5px,#4026c7 138.5px,#4329d9 141.5px,#462ced 144.5px,#472df1 145.5px)"></i><i style="background:linear-gradient(90deg,#5fd4bf 0.5px,#5dcdc8 4.5px,#5ac0d6 6.5px,#55abe6 8.5px,#5291ff 10.5px,#524fff 14.5px,#4e38fd 16.5px,#4930f9 17.5px,#4228cf 20.5px,#3f25be 23.5px,#3e24b6 29.5px,#3e24b8 132.5px,#4026c3 137.5px,#4329d9 141.5px,#462ced 144.5px,#462cf1 145.5px)"></i><i style="background:linear-gradient(90deg,#5fd3bf 0.5px,#5ed0c4 3.5px,#5cc8cf 5.5px,#55abe6 8.5px,#5292ff 10.5px,#524fff 14.5px,#4e38fd 16.5px,#4930f9 17.5px,#4228d0 20.5px,#3f25be 23.5px,#3e24b6 29.5px,#3e24b8 132.5px,#4026c3 137.5px,#4329d8 141.5px,#452bec 144.5px,#462cf0 145.5px)"></i><i style="background:linear-gradient(90deg,#5fd3bf 0.5px,#5dcdc9 4.5px,#5ac0d6 6.5px,#55abe6 8.5px,#5292ff 10.5px,#5250ff 14.5px,#4e38fd 16.5px,#4931f9 17.5px,#4329de 19.5px,#4228d0 20.5px,#3f25be 23.5px,#3e24b6 29.5px,#3e24b8 132.5px,#4026c3 137.5px,#4329d8 141.5px,#452bec 144.5px,#462cf0 145.5px)"></i><i style="background:linear-gradient(90deg,#5fd3c0 0.5px,#5dccc9 4.5px,#5abfd6 6.5px,#55abe6 8.5px,#5292ff 10.5px,#5250ff 14.5px,#4e39fd 16.5px,#4a31f9 17.5px,#4329e0 19.5px,#4228d1 20.5px,#3f25be 23.5px,#3e24b6 29.5px,#3e24b8 132.5px,#4026c3 137.5px,#4228d0 140.5px,#442ae7 143.5px,#462cef 145.5px)"></i><i style="background:linear-gradient(90deg,#5fd2c0 0.5px,#5dccca 4.5px,#57b6de 7.5px,#55abe6 8.5px,#5292ff 10.5px,#5251ff 14.5px,#4e39fe 16.5px,#4a31fa 17.5px,#4329e1 19.5px,#4228d2 20.5px,#4026c3 22.5px,#3e24b8 26.5px,#3e24b8 132.5px,#4026c6 138.5px,#4329df 142.5px,#462cef 145.5px)"></i><i style="background:linear-gradient(90deg,#5ed2c1 0.5px,#5dccca 4.5px,#59bfd7 6.5px,#55abe6 8.5px,#5293ff 10.5px,#5251ff 14.5px,#4a32fa 17.5px,#462cf1 18.5px,#4228d3 20.5px,#3f25bf 23.5px,#3e24b6 29.5px,#3e24b8 132.5px,#4026c2 137.5px,#4228d7 141.5px,#452beb 144.5px,#462cef 145.5px)"></i><i style="background:linear-gradient(90deg,#5ed2c2 0.5px,#5dcec6 3.5px,#5bc6d0 5.5px,#55abe6 8.5px,#5293ff 10.5px,#5252ff 14.5px,#4f3afe 16.5px,#472df2 18.5px,#4228d4 20.5px,#3f25bf 23.5px,#3e24b6 29.5px,#3e24b8 132.5px,#4026c2 137.5px,#4228d6 141.5px,#452bea 144.5px,#462cee 145.5px)"></i><i style="background:linear-gradient(90deg,#5ed1c2 0.5px,#5ccbcb 4.5px,#57b5df 7.5px,#55abe6 8.5px,#5293ff 10.5px,#5253ff 14.5px,#4f3bff 16.5px,#472df4 18.5px,#4228d5 20.5px,#3f25c0 23.5px,#3e24b7 28.5px,#3e24b8 132.5px,#4026c2 137.5px,#4228d6 141.5px,#452bea 144.5px,#462cee 145.5px)"></i><i style="background:linear-gradient(90deg,#5ed1c3 0.5px,#5ccbcb 4.5px,#57b5df 7.5px,#55abe6 8.5px,#5294ff 10.5px,#5254ff 14.5px,#503cff 16.5px,#472df5 18.5px,#4228d7 20.5px,#4026c5 22.5px,#3e24b9 26.5px,#3e24b6 61.5px,#3e24b8 132.5px,#4026c2 137.5px,#4228d5 141.5px,#452be9 144.5px,#462ced 145.5px)"></i><i style="background:linear-gradient(90deg,#5ed0c3 0.5px,#5ccbcc 4.5px,#57b5df 7.5px,#55abe6 8.5px,#5294ff 10.5px,#5255ff 14.5px,#503cff 16.5px,#482ef6 18.5px,#4329d8 20.5px,#4026c6 22.5px,#3e24b9 26.5px,#3e24b6 103.5px,#3e24b8 132.5px,#4026c2 137.5px,#4228d5 141.5px,#452be9 144.5px,#452bed 145.5px)"></i><i style="background:linear-gradient(90deg,#5ed0c4 0.5px,#5ccacc 4.5px,#57b5df 7.5px,#55abe6 8.5px,#5294ff 10.5px,#5255ff 14.5px,#503dff 16.5px,#482ef8 18.5px,#4127ce 21.5px,#3f25be 24.5px,#3e24b8 36.5px,#3e24b8 132.5px,#4026c5 138.5px,#452bec 145.5px)"></i><i style="background:linear-gradient(90deg,#5ed0c5 0.5px,#5ccacd 4.5px,#55abe6 8.5px,#5295ff 10.5px,#5356ff 14.5px,#4c35fc 17.5px,#482ef8 18.5px,#4228d0 21.5px,#4026c3 23.5px,#3f25be 29.5px,#3e24b6 49.5px,#3e24b8 132.5px,#4026c5 138.5px,#4329db 142.5px,#452bec 145.5px)"></i><i style="background:linear-gradient(90deg,#5ecfc5 0.5px,#5ccacd 4.5px,#55abe6 8.5px,#5295ff 10.5px,#5357ff 14.5px,#4d36fc 17.5px,#492ff9 18.5px,#4228d2 21.5px,#4026c7 24.5px,#3f25be 36.5px,#3e24b6 47.5px,#3e24b8 132.5px,#4026c1 137.5px,#4228d4 141.5px,#452beb 145.5px)"></i><i style="background:linear-gradient(90deg,#5dcfc6 0.5px,#5dccca 3.5px,#59bdd9 6.5px,#56abe6 8.5px,#5296ff 10.5px,#5358ff 14.5px,#4d37fd 17.5px,#462cf0 19.5px,#4329dc 21.5px,#4228d3 24.5px,#4127c9 34.5px,#3e24b7 44.5px,#3e24b8 132.5px,#4026c1 137.5px,#4329da 142.5px,#452beb 145.5px)"></i><i style="background:linear-gradient(90deg,#5dcfc6 0.5px,#5cc9ce 4.5px,#57b4df 7.5px,#54a1f2 9.5px,#5296ff 10.5px,#5359ff 14.5px,#4e39fd 17.5px,#482ef8 19.5px,#452bec 21.5px,#4329df 31.5px,#3f25ba 42.5px,#3e24b6 52.5px,#3e24b8 132.5px,#4026c1 137.5px,#4329da 142.5px,#452bea 145.5px)"></i><i style="background:linear-gradient(90deg,#5dcec6 0.5px,#5cc9ce 4.5px,#57b5df 7.5px,#54a2f1 9.5px,#5297ff 10.5px,#535bff 14.5px,#503cff 17.5px,#4a32fa 20.5px,#482ef6 29.5px,#442ae6 34.5px,#4026c7 39.5px,#3e24b8 44.5px,#3e24b8 132.5px,#4026c1 137.5px,#4329d9 142.5px,#452bea 145.5px)"></i><i style="background:linear-gradient(90deg,#5dcec6 0.5px,#5cc9ce 4.5px,#56ace5 8.5px,#5298ff 10.5px,#545fff 14.5px,#514aff 16.5px,#503bff 19.5px,#4b33fa 31.5px,#472df5 34.5px,#4228d6 38.5px,#3f25be 42.5px,#3e24b6 48.5px,#3e24b8 132.5px,#4026c4 138.5px,#4329d9 142.5px,#452be9 145.5px)"></i><i style="background:linear-gradient(90deg,#5dcfc6 0.5px,#5cc9ce 4.5px,#57b6de 7.5px,#54a3ef 9.5px,#529afd 10.5px,#5464ff 14.5px,#5251ff 16.5px,#5146ff 19.5px,#503fff 29.5px,#4930f9 35.5px,#452bec 37.5px,#4127cd 40.5px,#3f25ba 44.5px,#3e24b6 52.5px,#3e24b8 132.5px,#4026c4 138.5px,#452be9 145.5px)"></i><i style="background:linear-gradient(90deg,#5dcfc6 0.5px,#5ccacd 4.5px,#58b7dd 7.5px,#54a5ec 9.5px,#539cfa 10.5px,#5283ff 12.5px,#5461ff 15.5px,#5254ff 18.5px,#5148ff 30.5px,#4d36fc 35.5px,#482ef7 37.5px,#4228d2 40.5px,#3f25be 43.5px,#3e24b6 47.5px,#3e24b8 132.5px,#4026c4 138.5px,#4329d8 142.5px,#442ae8 145.5px)"></i><i style="background:linear-gradient(90deg,#5ed0c5 0.5px,#5ccbcc 4.5px,#57b1e2 8.5px,#55a7e9 9.5px,#5295ff 11.5px,#5473ff 14.5px,#5565ff 16.5px,#535dff 21.5px,#5255ff 29.5px,#5041ff 34.5px,#472df5 38.5px,#4127ce 41.5px,#3f25bc 44.5px,#3e24b6 48.5px,#3e24b8 132.5px,#4026c4 138.5px,#4329d7 142.5px,#442ae8 145.5px)"></i><i style="background:linear-gradient(90deg,#5ed0c3 0.5px,#5dccca 4.5px,#57b3e0 8.5px,#54a2f1 10.5px,#5299fd 11.5px,#5475ff 15.5px,#556aff 19.5px,#5462ff 28.5px,#524eff 33.5px,#4c36fc 37.5px,#4930f9 38.5px,#4329e0 40.5px,#4228d1 41.5px,#3f25bc 44.5px,#3e24b6 50.5px,#3e24b8 132.5px,#4026c4 138.5px,#442ae7 145.5px)"></i><i style="background:linear-gradient(90deg,#5ed1c2 0.5px,#5dcdc9 4.5px,#59bdd8 7.5px,#54a5ec 10.5px,#5295ff 12.5px,#527fff 15.5px,#5475ff 19.5px,#546eff 27.5px,#535cff 32.5px,#4e39fe 37.5px,#472df4 39.5px,#4228d5 41.5px,#4026c2 43.5px,#3e24b7 47.5px,#3e24b8 132.5px,#3f25c0 137.5px,#4228d6 142.5px,#442ae7 145.5px)"></i><i style="background:linear-gradient(90deg,#5ed2c1 0.5px,#5dcec7 4.5px,#5ac0d6 7.5px,#55a8e8 10.5px,#529afc 12.5px,#5287ff 15.5px,#527fff 19.5px,#5378ff 27.5px,#5463ff 32.5px,#503cff 37.5px,#482ef8 39.5px,#4127cc 42.5px,#3f25be 44.5px,#3e24b6 48.5px,#3e24b8 132.5px,#4026c3 138.5px,#442ae6 145.5px)"></i><i style="background:linear-gradient(90deg,#5fd3c0 0.5px,#5dcfc6 4.5px,#5ac2d4 7.5px,#54a4ee 11.5px,#5298ff 13.5px,#5289ff 17.5px,#527fff 27.5px,#546fff 31.5px,#5251ff 35.5px,#4d37fd 38.5px,#4930f9 39.5px,#4329dc 41.5px,#4127cd 42.5px,#3f25be 44.5px,#3e24b6 48.5px,#3e24b8 132.5px,#4026c3 138.5px,#442ae6 145.5px)"></i><i style="background:linear-gradient(90deg,#5fd4be 0.5px,#5dcdc8 5.5px,#59bdd9 8.5px,#55a7e9 11.5px,#5297ff 14.5px,#528dff 18.5px,#5285ff 27.5px,#5475ff 31.5px,#5142ff 37.5px,#4a31fa 39.5px,#462cef 40.5px,#4127ce 42.5px,#3f25bf 44.5px,#3e24b6 48.5px,#3e24b8 133.5px,#4026c7 139.5px,#442ae5 145.5px)"></i><i style="background:linear-gradient(90deg,#5fd4bd 0.5px,#5dcec7 5.5px,#59bfd7 8.5px,#54a3ee 12.5px,#5297ff 15.5px,#528aff 27.5px,#5379ff 31.5px,#524dff 36.5px,#4a32fa 39.5px,#462cf1 40.5px,#4228cf 42.5px,#3f25bf 44.5px,#3e24b6 48.5px,#3e24b8 133.5px,#4026c7 139.5px,#442ae4 145.5px)"></i><i style="background:linear-gradient(90deg,#5fd5bc 0.5px,#5dcfc6 5.5px,#5ac0d6 8.5px,#54a1f2 13.5px,#5298ff 16.5px,#528dff 27.5px,#537cff 31.5px,#524fff 36.5px,#4f3bff 38.5px,#472df2 40.5px,#4228d0 42.5px,#3f25bf 44.5px,#3e24b6 48.5px,#3e24b8 133.5px,#4026c6 139.5px,#442ae3 145.5px)"></i><i style="background:linear-gradient(90deg,#60d5bc 0.5px,#5ed2c2 4.5px,#5ac2d4 8.5px,#54a2f0 13.5px,#5299fe 17.5px,#528fff 27.5px,#527fff 31.5px,#5146ff 37.5px,#4b34fb 39.5px,#472df3 40.5px,#4228d1 42.5px,#3f25bf 44.5px,#3e24b6 48.5px,#3e24b8 133.5px,#4026c6 139.5px,#442ae3 145.5px)"></i><i style="background:linear-gradient(90deg,#60d5bb 0.5px,#5ed0c5 5.5px,#5ac3d4 8.5px,#54a4ee 13.5px,#529afc 17.5px,#5291ff 27.5px,#5280ff 31.5px,#535cff 35.5px,#503cff 38.5px,#472df4 40.5px,#4228d1 42.5px,#3f25c0 44.5px,#3e24b7 47.5px,#3e24b8 133.5px,#4026c6 139.5px,#442ae2 145.5px)"></i><i style="background:linear-gradient(90deg,#60d5bb 0.5px,#5ed2c1 4.5px,#5ccacd 7.5px,#54a5ed 13.5px,#539bfb 17.5px,#5295ff 26.5px,#5287ff 30.5px,#5471ff 33.5px,#503dff 38.5px,#472df5 40.5px,#4228d1 42.5px,#3f25c0 44.5px,#3e24b7 47.5px,#3e24b8 133.5px,#4026c6 139.5px,#442ae1 145.5px)"></i><i style="background:linear-gradient(90deg,#60d6ba 0.5px,#5ed0c4 5.5px,#5bc4d2 8.5px,#55a6eb 13.5px,#539cfa 17.5px,#5293ff 27.5px,#5282ff 31.5px,#535dff 35.5px,#503dff 38.5px,#472df5 40.5px,#4228d1 42.5px,#3f25c0 44.5px,#3e24b7 47.5px,#3e24b8 133.5px,#4026c6 139.5px,#4329e1 145.5px)"></i><i style="background:linear-gradient(90deg,#60d6ba 0.5px,#5ed0c4 5.5px,#5bc4d2 8.5px,#54a2f0 14.5px,#539bfa 18.5px,#5296ff 26.5px,#5288ff 30.5px,#5472ff 33.5px,#503dff 38.5px,#472df5 40.5px,#4228d2 42.5px,#3f25c0 44.5px,#3e24b7 47.5px,#3e24b8 133.5px,#4026c5 139.5px,#4329e0 145.5px)"></i><i style="background:linear-gradient(90deg,#60d6ba 0.5px,#5ed0c3 5.5px,#5bc5d2 8.5px,#55a7ea 13.5px,#539ef6 16.5px,#5294ff 27.5px,#5283ff 31.5px,#545eff 35.5px,#503dff 38.5px,#472df6 40.5px,#4228d2 42.5px,#3f25c0 44.5px,#3e24b7 47.5px,#3e24b8 133.5px,#4026c5 139.5px,#4329df 145.5px)"></i><i style="background:linear-gradient(90deg,#60d6ba 0.5px,#5ed0c3 5.5px,#5bc5d1 8.5px,#54a3ef 14.5px,#539cf9 18.5px,#5294ff 27.5px,#5283ff 31.5px,#545eff 35.5px,#503dff 38.5px,#472df6 40.5px,#4228d2 42.5px,#3f25c0 44.5px,#3e24b7 47.5px,#3e24b8 133.5px,#4026c5 139.5px,#4329df 145.5px)"></i><i style="background:linear-gradient(90deg,#60d6ba 0.5px,#5fd3c0 4.5px,#5bc5d1 8.5px,#54a3ef 14.5px,#539cf9 18.5px,#5295ff 27.5px,#5283ff 31.5px,#545eff 35.5px,#503dff 38.5px,#472df6 40.5px,#4228d2 42.5px,#3f25c0 44.5px,#3e24b7 47.5px,#3e24b8 133.5px,#4026c5 139.5px,#4329de 145.5px)"></i><i style="background:linear-gradient(90deg,#60d6ba 0.5px,#5fd3c0 4.5px,#5bc5d1 8.5px,#54a4ee 14.5px,#539cf9 18.5px,#5295ff 27.5px,#5283ff 31.5px,#545eff 35.5px,#503eff 38.5px,#472df6 40.5px,#4228d2 42.5px,#3f25c0 44.5px,#3e24b7 47.5px,#3e24b8 133.5px,#4026c5 139.5px,#4329dd 145.5px)"></i><i style="background:linear-gradient(90deg,#60d6ba 0.5px,#5fd3c0 4.5px,#5bc6d1 8.5px,#54a4ee 14.5px,#539cfa 19.5px,#5295ff 27.5px,#5283ff 31.5px,#545eff 35.5px,#503eff 38.5px,#472df6 40.5px,#4228d2 42.5px,#3f25c0 44.5px,#3e24b7 47.5px,#3e24b8 133.5px,#4026c4 139.5px,#4329dd 145.5px)"></i><i style="background:linear-gradient(90deg,#60d6ba 0.5px,#5fd3c0 4.5px,#5bc6d1 8.5px,#54a4ee 14.5px,#539cfa 19.5px,#5295ff 27.5px,#5283ff 31.5px,#545eff 35.5px,#503eff 38.5px,#472df6 40.5px,#4228d2 42.5px,#3f25c0 44.5px,#3e24b7 47.5px,#3e24b8 133.5px,#4026c4 139.5px,#4329dc 145.5px)"></i><i style="background:linear-gradient(90deg,#60d6ba 0.5px,#5fd3c0 4.5px,#5bc6d0 8.5px,#54a4ed 14.5px,#539cf9 18.5px,#5295ff 27.5px,#5283ff 31.5px,#545eff 35.5px,#503eff 38.5px,#472df6 40.5px,#4228d2 42.5px,#3f25c0 44.5px,#3e24b7 47.5px,#3e24b8 133.5px,#4026c4 139.5px,#4329db 145.5px)"></i><i style="background:linear-gradient(90deg,#60d6ba 0.5px,#5fd3c0 4.5px,#5bc6d0 8.5px,#54a5ed 14.5px,#539cf9 18.5px,#5295ff 27.5px,#5283ff 31.5px,#545eff 35.5px,#503eff 38.5px,#472df6 40.5px,#4228d2 42.5px,#3f25c0 44.5px,#3e24b7 47.5px,#3e24b8 133.5px,#4026c4 139.5px,#4329db 145.5px)"></i></div>
<div class="hm" style="left:253px;top:43px;width:147px;height:262px"><i style="background:linear-gradient(90deg,#528fff 0.5px,#528dff 35.5px,#527fff 47.5px,#535aff 65.5px,#4e38fd 83.5px,#482ef7 90.5px,#4127cb 101.5px,#3f25ba 111.5px,#3e24b6 140.5px,#3e24b6 146.5px)"></i><i style="background:linear-gradient(90deg,#5290ff 0.5px,#528eff 35.5px,#5280ff 47.5px,#535cff 65.5px,#4e38fd 84.5px,#482ef6 91.5px,#4127cc 101.5px,#3f25bc 110.5px,#3e24b6 126.5px,#3e24b6 146.5px)"></i><i style="background:linear-gradient(90deg,#5291ff 0.5px,#528eff 36.5px,#527fff 48.5px,#545fff 64.5px,#4e38fd 85.5px,#472df5 92.5px,#4127cd 101.5px,#3f25bd 109.5px,#3e24b6 125.5px,#3e24b6 146.5px)"></i><i style="background:linear-gradient(90deg,#5291ff 0.5px,#5290ff 34.5px,#5281ff 47.5px,#535cff 67.5px,#4e38fd 86.5px,#482ef8 92.5px,#4228cf 101.5px,#3f25bd 109.5px,#3e24b6 125.5px,#3e24b6 146.5px)"></i><i style="background:linear-gradient(90deg,#5292ff 0.5px,#5290ff 35.5px,#5280ff 48.5px,#535cff 68.5px,#4e38fd 87.5px,#472df6 93.5px,#4228d0 101.5px,#3f25bc 110.5px,#3e24b6 129.5px,#3e24b6 146.5px)"></i><i style="background:linear-gradient(90deg,#5292ff 0.5px,#5291ff 33.5px,#5284ff 46.5px,#5461ff 66.5px,#4d38fd 88.5px,#482ef8 93.5px,#4127ce 102.5px,#3f25be 109.5px,#3e24b6 125.5px,#3e24b6 146.5px)"></i><i style="background:linear-gradient(90deg,#5293ff 0.5px,#5290ff 36.5px,#537dff 50.5px,#5358ff 72.5px,#4c35fc 90.5px,#482ef6 94.5px,#4228cf 102.5px,#3f25bd 110.5px,#3e24b6 126.5px,#3e24b6 146.5px)"></i><i style="background:linear-gradient(90deg,#5293ff 0.5px,#5290ff 36.5px,#527fff 49.5px,#535bff 71.5px,#4e38fd 89.5px,#482ef8 94.5px,#4127cc 103.5px,#3f25bc 111.5px,#3e24b6 127.5px,#3e24b6 146.5px)"></i><i style="background:linear-gradient(90deg,#5293ff 0.5px,#5291ff 34.5px,#5283ff 47.5px,#556aff 63.5px,#4f3afe 89.5px,#472df5 95.5px,#4127cd 103.5px,#3f25bb 112.5px,#3e24b6 132.5px,#3e24b6 146.5px)"></i><i style="background:linear-gradient(90deg,#5293ff 0.5px,#5291ff 35.5px,#5280ff 49.5px,#556bff 63.5px,#5040ff 87.5px,#482ef7 95.5px,#4127ce 103.5px,#3f25bd 111.5px,#3e24b6 125.5px,#3e24b6 146.5px)"></i><i style="background:linear-gradient(90deg,#5294ff 0.5px,#5291ff 35.5px,#5280ff 49.5px,#556cff 63.5px,#5144ff 86.5px,#482ff8 95.5px,#4228cf 103.5px,#3f25bd 111.5px,#3e24b6 125.5px,#3e24b6 146.5px)"></i><i style="background:linear-gradient(90deg,#5294ff 0.5px,#5291ff 35.5px,#5280ff 49.5px,#556dff 63.5px,#5148ff 85.5px,#492ff9 95.5px,#4127cc 104.5px,#3f25bc 112.5px,#3e24b6 128.5px,#3e24b6 146.5px)"></i><i style="background:linear-gradient(90deg,#5294ff 0.5px,#5291ff 35.5px,#5280ff 49.5px,#546fff 62.5px,#514cff 84.5px,#4d37fd 92.5px,#482ef7 96.5px,#4127cd 104.5px,#3f25bc 112.5px,#3e24b6 128.5px,#3e24b6 146.5px)"></i><i style="background:linear-gradient(90deg,#5295ff 0.5px,#5290ff 36.5px,#5280ff 49.5px,#546fff 62.5px,#5251ff 82.5px,#4c36fc 93.5px,#482ef8 96.5px,#4127ce 104.5px,#3f25bc 112.5px,#3e24b6 128.5px,#3e24b6 146.5px)"></i><i style="background:linear-gradient(90deg,#5295ff 0.5px,#5290ff 36.5px,#5280ff 49.5px,#5471ff 61.5px,#524fff 84.5px,#4d36fc 93.5px,#472df5 97.5px,#4228cf 104.5px,#3f25bf 110.5px,#3e24b7 121.5px,#3e24b6 146.5px)"></i><i style="background:linear-gradient(90deg,#5296ff 0.5px,#5290ff 36.5px,#5280ff 49.5px,#546fff 63.5px,#5252ff 83.5px,#4d37fd 93.5px,#482ef6 97.5px,#4228cf 104.5px,#3f25be 111.5px,#3e24b6 124.5px,#3e24b6 146.5px)"></i><i style="background:linear-gradient(90deg,#5297ff 0.5px,#5290ff 36.5px,#5280ff 49.5px,#546eff 65.5px,#5251ff 84.5px,#4c35fc 94.5px,#482ef8 97.5px,#4228d0 104.5px,#3f25be 111.5px,#3e24b6 124.5px,#3e24b6 146.5px)"></i><i style="background:linear-gradient(90deg,#5298ff 0.5px,#528fff 38.5px,#5471ff 61.5px,#5357ff 82.5px,#4d36fc 94.5px,#482ef8 97.5px,#4228d0 104.5px,#3f25bd 112.5px,#3e24b6 126.5px,#3e24b6 146.5px)"></i><i style="background:linear-gradient(90deg,#5299fe 0.5px,#528eff 39.5px,#5472ff 60.5px,#5358ff 82.5px,#4d37fc 94.5px,#472df4 98.5px,#4127cd 105.5px,#3f25bd 112.5px,#3e24b6 126.5px,#3e24b6 146.5px)"></i><i style="background:linear-gradient(90deg,#529afc 0.5px,#528eff 39.5px,#5473ff 59.5px,#5359ff 82.5px,#4d37fd 94.5px,#472df5 98.5px,#4127cd 105.5px,#3f25bc 113.5px,#3e24b6 129.5px,#3e24b6 146.5px)"></i><i style="background:linear-gradient(90deg,#539bfb 0.5px,#5291ff 34.5px,#5285ff 46.5px,#5471ff 60.5px,#535aff 82.5px,#5041ff 91.5px,#492ff9 97.5px,#4127ce 105.5px,#3f25bd 112.5px,#3e24b6 128.5px,#3e24b6 146.5px)"></i><i style="background:linear-gradient(90deg,#539df8 0.5px,#5295ff 23.5px,#528cff 41.5px,#5472ff 59.5px,#535bff 82.5px,#4c35fc 95.5px,#482ef6 98.5px,#4127ce 105.5px,#3f25bc 113.5px,#3e24b6 129.5px,#3e24b6 146.5px)"></i><i style="background:linear-gradient(90deg,#539ef6 0.5px,#5295ff 22.5px,#528bff 41.5px,#546fff 61.5px,#535cff 82.5px,#4e38fd 94.5px,#482ef7 98.5px,#4127ce 105.5px,#3f25bc 113.5px,#3e24b6 129.5px,#3e24b6 146.5px)"></i><i style="background:linear-gradient(90deg,#54a0f3 0.5px,#5299fe 16.5px,#528bff 41.5px,#546fff 60.5px,#535cff 82.5px,#4e38fd 94.5px,#482ef7 98.5px,#4228cf 105.5px,#3f25bd 112.5px,#3e24b6 128.5px,#3e24b6 146.5px)"></i><i style="background:linear-gradient(90deg,#54a3f0 0.5px,#539df8 12.5px,#5296ff 21.5px,#528aff 42.5px,#546fff 60.5px,#535cff 82.5px,#5143ff 91.5px,#482ef7 98.5px,#4228cf 105.5px,#3f25bd 112.5px,#3e24b6 128.5px,#3e24b6 146.5px)"></i><i style="background:linear-gradient(90deg,#54a5ec 0.5px,#539ef6 12.5px,#5297ff 21.5px,#528aff 42.5px,#546eff 60.5px,#545eff 81.5px,#514aff 89.5px,#4b33fb 96.5px,#482ef8 98.5px,#4228cf 105.5px,#3f25bd 112.5px,#3e24b6 128.5px,#3e24b6 146.5px)"></i><i style="background:linear-gradient(90deg,#55a8e8 0.5px,#54a3ef 9.5px,#5297ff 21.5px,#5288ff 43.5px,#556aff 62.5px,#535cff 82.5px,#5143ff 91.5px,#482ef8 98.5px,#4228cf 105.5px,#3f25bd 112.5px,#3e24b6 128.5px,#3e24b6 146.5px)"></i><i style="background:linear-gradient(90deg,#56ace5 0.5px,#54a5ec 9.5px,#5297ff 21.5px,#5287ff 43.5px,#5569ff 62.5px,#535cff 82.5px,#5143ff 91.5px,#482ef8 98.5px,#4228cf 105.5px,#3f25bd 112.5px,#3e24b6 128.5px,#3e24b7 146.5px)"></i><i style="background:linear-gradient(90deg,#56afe3 0.5px,#55a8e8 9.5px,#5298ff 21.5px,#5284ff 45.5px,#5569ff 61.5px,#5461ff 74.5px,#535cff 82.5px,#5143ff 91.5px,#482ef8 98.5px,#4228cf 105.5px,#3f25bd 112.5px,#3e24b6 128.5px,#3e24b7 146.5px)"></i><i style="background:linear-gradient(90deg,#57b3e0 0.5px,#55a9e7 10.5px,#5297ff 22.5px,#5282ff 46.5px,#5567ff 61.5px,#5460ff 75.5px,#535aff 83.5px,#4e39fd 94.5px,#482ef7 98.5px,#4228cf 105.5px,#3f25bd 112.5px,#3e24b6 128.5px,#3e24b7 146.5px)"></i><i style="background:linear-gradient(90deg,#58b7dd 0.5px,#56aee4 9.5px,#54a0f3 16.5px,#5296ff 23.5px,#5283ff 45.5px,#5565ff 61.5px,#545fff 74.5px,#535bff 82.5px,#503fff 92.5px,#482ef7 98.5px,#4228cf 105.5px,#3f25bd 112.5px,#3e24b6 128.5px,#3e24b8 146.5px)"></i><i style="background:linear-gradient(90deg,#59bcd9 0.5px,#57b1e1 9.5px,#539ef6 18.5px,#5297ff 22.5px,#5289ff 38.5px,#527fff 47.5px,#5465ff 60.5px,#545eff 70.5px,#535cff 81.5px,#5145ff 90.5px,#4b33fa 96.5px,#482ef7 98.5px,#4127ce 105.5px,#3f25bc 113.5px,#3e24b6 128.5px,#3e24b9 145.5px,#3e24b8 146.5px)"></i><i style="background:linear-gradient(90deg,#5ac1d5 0.5px,#57b5df 9.5px,#54a4ee 16.5px,#5298ff 22.5px,#528aff 34.5px,#5280ff 46.5px,#5463ff 60.5px,#535cff 72.5px,#535bff 81.5px,#5145ff 90.5px,#4930f9 97.5px,#4329d8 103.5px,#4026c5 108.5px,#3e24b9 116.5px,#3e24b8 132.5px,#3e24b9 146.5px)"></i><i style="background:linear-gradient(90deg,#5bc5d1 0.5px,#59bdd8 7.5px,#54a5ec 16.5px,#5298ff 22.5px,#528bff 31.5px,#5280ff 46.5px,#5461ff 60.5px,#535aff 72.5px,#535aff 81.5px,#5041ff 91.5px,#492ff9 97.5px,#4127ce 105.5px,#3f25bd 112.5px,#3e24b6 127.5px,#3f25bb 144.5px,#3f25ba 146.5px)"></i><i style="background:linear-gradient(90deg,#5ccacd 0.5px,#5ac2d4 7.5px,#54a4ed 17.5px,#5298ff 22.5px,#528aff 30.5px,#5280ff 46.5px,#5462ff 58.5px,#5358ff 68.5px,#5358ff 81.5px,#5146ff 89.5px,#492ff9 97.5px,#4127cd 105.5px,#3f25bc 113.5px,#3e24b7 127.5px,#3f25bd 143.5px,#3f25bb 146.5px)"></i><i style="background:linear-gradient(90deg,#5dcdc8 0.5px,#5bc6d0 7.5px,#54a3ef 18.5px,#5298ff 22.5px,#5288ff 30.5px,#5282ff 46.5px,#5460ff 58.5px,#5356ff 68.5px,#5357ff 81.5px,#5145ff 89.5px,#4a31fa 96.5px,#462cee 99.5px,#4127cd 105.5px,#3f25bd 112.5px,#3e24b6 125.5px,#3f25bf 143.5px,#3f25bc 146.5px)"></i><i style="background:linear-gradient(90deg,#5ed1c3 0.5px,#5cc8cf 8.5px,#54a4ed 18.5px,#5298fe 22.5px,#5286ff 30.5px,#5284ff 38.5px,#5285ff 45.5px,#5470ff 52.5px,#535bff 60.5px,#5254ff 69.5px,#5255ff 81.5px,#5147ff 88.5px,#4b33fb 95.5px,#472df3 98.5px,#4228d0 104.5px,#3f25bd 112.5px,#3e24b6 125.5px,#4026c2 142.5px,#3f25be 146.5px)"></i><i style="background:linear-gradient(90deg,#5fd4be 0.5px,#5ccbcb 8.5px,#54a2f0 19.5px,#5299fe 22.5px,#5287ff 28.5px,#5281ff 35.5px,#5288ff 44.5px,#5281ff 48.5px,#545fff 57.5px,#5253ff 65.5px,#5253ff 82.5px,#4c35fc 94.5px,#472df2 98.5px,#4228d0 104.5px,#3f25be 111.5px,#3e24b6 124.5px,#3f25be 134.5px,#4026c5 141.5px,#3f25c0 146.5px)"></i><i style="background:linear-gradient(90deg,#60d6b9 0.5px,#5ed2c1 6.5px,#5bc6d0 11.5px,#54a4ee 19.5px,#5299fe 22.5px,#5285ff 28.5px,#527eff 34.5px,#528bff 44.5px,#5280ff 49.5px,#535dff 57.5px,#5250ff 65.5px,#5252ff 81.5px,#5142ff 89.5px,#482ef6 97.5px,#4228cf 104.5px,#3f25be 111.5px,#3e24b7 123.5px,#3f25bb 131.5px,#4127c8 140.5px,#4026c2 146.5px)"></i><i style="background:linear-gradient(90deg,#62d9b3 0.5px,#5fd5bd 6.5px,#5bc6d1 12.5px,#55a5ec 19.5px,#5299fd 22.5px,#527eff 30.5px,#537dff 35.5px,#528eff 43.5px,#528aff 47.5px,#535cff 57.5px,#5250ff 63.5px,#524eff 71.5px,#5251ff 80.5px,#5144ff 88.5px,#4a31fa 95.5px,#462cef 98.5px,#4228cf 104.5px,#3f25bf 110.5px,#3e24b7 121.5px,#3f25bc 131.5px,#4127cc 140.5px,#4026c4 146.5px)"></i><i style="background:linear-gradient(90deg,#64dbad 0.5px,#61d7b7 6.5px,#5bc5d2 13.5px,#54a2f0 20.5px,#5295ff 23.5px,#537bff 30.5px,#5379ff 34.5px,#5291ff 43.5px,#528dff 47.5px,#546eff 53.5px,#5254ff 59.5px,#514bff 67.5px,#524fff 81.5px,#503dff 90.5px,#482ef8 96.5px,#4127ce 104.5px,#3f25bc 112.5px,#3e24b7 126.5px,#4026c4 134.5px,#4228d0 140.5px,#4026c7 146.5px)"></i><i style="background:linear-gradient(90deg,#67dea5 0.5px,#62d9b2 6.5px,#5dccca 12.5px,#54a4ee 20.5px,#5296ff 23.5px,#5378ff 30.5px,#5376ff 34.5px,#5293ff 43.5px,#5290ff 47.5px,#537dff 51.5px,#535aff 57.5px,#514bff 63.5px,#514bff 73.5px,#524dff 81.5px,#4d37fc 92.5px,#482ef7 96.5px,#4127cd 104.5px,#3f25bc 112.5px,#3e24b7 125.5px,#4026c1 132.5px,#4228d5 140.5px,#4127cd 145.5px,#4127ca 146.5px)"></i><i style="background:linear-gradient(90deg,#6ae19d 0.5px,#67dea5 4.5px,#5dcec7 12.5px,#59bbda 16.5px,#54a5ec 20.5px,#5296ff 23.5px,#5379ff 29.5px,#5472ff 33.5px,#527fff 37.5px,#5296ff 43.5px,#5293ff 47.5px,#527fff 51.5px,#535aff 57.5px,#5149ff 63.5px,#5148ff 71.5px,#514bff 81.5px,#4f3bfe 90.5px,#472df5 96.5px,#4127cc 104.5px,#3f25bc 112.5px,#3e24b7 125.5px,#4026c3 132.5px,#4329dc 140.5px,#4228d4 144.5px,#4127cd 146.5px)"></i><i style="background:linear-gradient(90deg,#6de394 0.5px,#68dfa1 5.5px,#5dcdc8 13.5px,#54a1f1 21.5px,#5297ff 23.5px,#5376ff 29.5px,#546fff 33.5px,#537eff 37.5px,#5295ff 42.5px,#5298ff 46.5px,#5288ff 50.5px,#535bff 57.5px,#5148ff 63.5px,#5145ff 70.5px,#5149ff 81.5px,#4d37fd 91.5px,#472df4 96.5px,#4228cf 103.5px,#3f25bd 111.5px,#3e24b7 123.5px,#3f25bc 129.5px,#442ae1 139.5px,#4329de 143.5px,#4228d1 146.5px)"></i><i style="background:linear-gradient(90deg,#72e389 0.5px,#6be19a 5.5px,#5ecfc5 13.5px,#57b5df 18.5px,#54a3ef 21.5px,#5298ff 23.5px,#5470ff 30.5px,#556dff 33.5px,#5377ff 36.5px,#5296ff 42.5px,#5299fd 46.5px,#528aff 50.5px,#535dff 57.5px,#5147ff 63.5px,#5142ff 69.5px,#5147ff 80.5px,#503cff 88.5px,#482ef7 95.5px,#4127ce 103.5px,#3f25bd 111.5px,#3e24b7 123.5px,#3f25bd 129.5px,#4228d5 135.5px,#442ae7 139.5px,#442ae7 142.5px,#4228d5 146.5px)"></i><i style="background:linear-gradient(90deg,#78e37d 0.5px,#73e386 3.5px,#69e09e 7.5px,#5dcec7 14.5px,#54a4ed 21.5px,#5299fe 23.5px,#546eff 30.5px,#556aff 33.5px,#5475ff 36.5px,#5296ff 42.5px,#529afc 46.5px,#528cff 50.5px,#535bff 58.5px,#5145ff 64.5px,#5041ff 71.5px,#5145ff 81.5px,#4c35fb 91.5px,#472df5 95.5px,#4127cd 103.5px,#3f25bb 112.5px,#3e24b7 124.5px,#4026c1 130.5px,#4228d3 134.5px,#452bea 138.5px,#462cee 141.5px,#442ae6 144.5px,#4329da 146.5px)"></i><i style="background:linear-gradient(90deg,#7ee270 0.5px,#79e27a 3.5px,#6ce297 7.5px,#5ed0c5 14.5px,#58b9dc 18.5px,#55a6eb 21.5px,#529afc 23.5px,#5471ff 29.5px,#5567ff 32.5px,#556dff 35.5px,#5296ff 42.5px,#529afc 46.5px,#5293ff 49.5px,#5359ff 59.5px,#5143ff 65.5px,#503fff 71.5px,#5143ff 81.5px,#4b34fb 91.5px,#482ef8 94.5px,#4127cc 103.5px,#3f25bc 111.5px,#3e24b7 124.5px,#4026c2 130.5px,#4228d7 134.5px,#452bea 137.5px,#472df3 141.5px,#442ae6 145.5px,#4329de 146.5px)"></i><i style="background:linear-gradient(90deg,#84e164 0.5px,#7fe26e 3.5px,#6be298 8.5px,#5dcdc8 15.5px,#55a7e9 21.5px,#539bfb 23.5px,#528cff 25.5px,#556bff 30.5px,#5465ff 33.5px,#5470ff 36.5px,#5295ff 42.5px,#529bfb 46.5px,#5290ff 50.5px,#546eff 56.5px,#514aff 63.5px,#503eff 68.5px,#503fff 83.5px,#482ff8 93.5px,#4127cb 103.5px,#3f25bb 112.5px,#3e24b7 124.5px,#4026c3 130.5px,#4329da 134.5px,#462cef 137.5px,#482ef7 140.5px,#472df3 143.5px,#442ae3 146.5px)"></i><i style="background:linear-gradient(90deg,#8dde5d 0.5px,#85e163 3.5px,#78e37c 6.5px,#6be19a 9.5px,#60d6b9 13.5px,#5bc5d2 17.5px,#54a2f0 22.5px,#5295ff 24.5px,#556aff 30.5px,#5463ff 33.5px,#546eff 36.5px,#5293ff 42.5px,#539bfb 46.5px,#5293ff 50.5px,#5473ff 56.5px,#5148ff 64.5px,#503cff 69.5px,#503dff 83.5px,#482ef8 93.5px,#4127ce 102.5px,#3f25be 109.5px,#3e24b7 123.5px,#3f25be 128.5px,#4127ce 132.5px,#452bed 136.5px,#482ef7 138.5px,#482ef7 143.5px,#442ae7 146.5px)"></i><i style="background:linear-gradient(90deg,#98da55 0.5px,#88e061 4.5px,#7de273 6.5px,#6ce395 9.5px,#5fd4bd 14.5px,#5ac0d6 18.5px,#54a4ee 22.5px,#5296ff 24.5px,#556aff 30.5px,#5462ff 33.5px,#556cff 36.5px,#5292ff 42.5px,#539bfb 46.5px,#5295ff 50.5px,#5378ff 56.5px,#514aff 64.5px,#503bff 69.5px,#503bff 83.5px,#472df5 93.5px,#4228d0 101.5px,#3f25bc 110.5px,#3e24b7 123.5px,#4026c1 129.5px,#4329d8 133.5px,#472df6 137.5px,#4930f9 142.5px,#472df6 144.5px,#452be9 146.5px)"></i><i style="background:linear-gradient(90deg,#a4d54c 0.5px,#97da56 3.5px,#81e16a 6.5px,#6ee490 9.5px,#62d9b4 13.5px,#5cc9ce 17.5px,#54a5ed 22.5px,#5298ff 24.5px,#5569ff 30.5px,#5461ff 33.5px,#556aff 36.5px,#5291ff 42.5px,#539bfb 46.5px,#5297ff 50.5px,#5283ff 55.5px,#5357ff 62.5px,#5040ff 67.5px,#4e39fe 72.5px,#4e39fd 84.5px,#482ef7 92.5px,#4127cb 102.5px,#3f25ba 112.5px,#3e24b9 125.5px,#4026c2 129.5px,#4228d1 132.5px,#472df2 136.5px,#4930f9 138.5px,#4930f9 143.5px,#472df2 145.5px,#452beb 146.5px)"></i><i style="background:linear-gradient(90deg,#b2d045 0.5px,#a1d64e 3.5px,#86e063 6.5px,#6ce396 10.5px,#5fd3c0 15.5px,#59bcda 19.5px,#55a6eb 22.5px,#5299fe 24.5px,#556aff 30.5px,#5460ff 33.5px,#5569ff 36.5px,#5294ff 43.5px,#539cfa 47.5px,#5294ff 52.5px,#537bff 57.5px,#524eff 64.5px,#503dff 68.5px,#4e38fd 74.5px,#4d36fc 85.5px,#482ef8 91.5px,#4127cd 101.5px,#3f25bd 109.5px,#3e24b8 122.5px,#3f25bc 127.5px,#4127cc 131.5px,#4329dc 133.5px,#472df4 136.5px,#4a31fa 138.5px,#4a31fa 143.5px,#472df4 145.5px,#462ced 146.5px)"></i><i style="background:linear-gradient(90deg,#c0c93d 0.5px,#b5ce43 2.5px,#96db57 5.5px,#82e168 7.5px,#6de492 10.5px,#61d7b7 14.5px,#5bc4d2 18.5px,#54a0f3 23.5px,#5299fd 24.5px,#556aff 30.5px,#5460ff 33.5px,#5568ff 36.5px,#5293ff 43.5px,#539cf9 47.5px,#5297ff 52.5px,#527fff 57.5px,#5357ff 63.5px,#503eff 68.5px,#4d37fc 73.5px,#4c35fb 85.5px,#472df5 91.5px,#4127cc 101.5px,#3f25bc 110.5px,#3e24b9 125.5px,#4026c3 129.5px,#4228d3 132.5px,#472df6 136.5px,#4b34fb 141.5px,#472df6 145.5px,#462cee 146.5px)"></i><i style="background:linear-gradient(90deg,#cdc23e 0.5px,#c0c93d 2.5px,#9cd852 5.5px,#85e163 7.5px,#6fe48f 10.5px,#61d8b5 14.5px,#5bc6d1 18.5px,#54a1f2 23.5px,#529afc 24.5px,#556aff 30.5px,#5460ff 33.5px,#5567ff 36.5px,#5293ff 43.5px,#539df8 47.5px,#5299fd 52.5px,#5283ff 57.5px,#5359ff 63.5px,#503eff 68.5px,#4c36fc 73.5px,#4a32fa 86.5px,#472df6 90.5px,#4127c8 102.5px,#3f25ba 112.5px,#3f25bb 126.5px,#4026c7 130.5px,#4329dd 133.5px,#482ef6 136.5px,#4c34fb 141.5px,#482ef6 145.5px,#462cef 146.5px)"></i><i style="background:linear-gradient(90deg,#d7bc40 0.5px,#c9c43d 2.5px,#aed146 4.5px,#88df61 7.5px,#71e48c 10.5px,#64dcad 13.5px,#5bc6d0 18.5px,#55a8e8 22.5px,#539bfb 24.5px,#528aff 26.5px,#5566ff 31.5px,#5460ff 33.5px,#5567ff 36.5px,#5292ff 43.5px,#539df8 47.5px,#539cf9 51.5px,#5294ff 54.5px,#5377ff 59.5px,#524dff 65.5px,#4e38fd 70.5px,#4c35fb 78.5px,#482ef6 89.5px,#4127cc 100.5px,#3f25bc 109.5px,#3f25bb 126.5px,#4026c7 130.5px,#4329dd 133.5px,#482ef6 136.5px,#4c34fb 141.5px,#482ef6 145.5px,#462cef 146.5px)"></i><i style="background:linear-gradient(90deg,#ddb941 0.5px,#cec23e 2.5px,#c1c93d 3.5px,#8adf5f 7.5px,#72e48a 10.5px,#64dcac 13.5px,#5bc7d0 18.5px,#54a2f1 23.5px,#539bfb 24.5px,#528bff 26.5px,#556bff 30.5px,#5460ff 33.5px,#5566ff 36.5px,#5291ff 43.5px,#539df8 47.5px,#539df8 51.5px,#5291ff 55.5px,#535bff 63.5px,#503eff 68.5px,#4b33fb 74.5px,#492ff9 86.5px,#442ae6 93.5px,#4127ce 99.5px,#3f25bd 108.5px,#3f25bb 126.5px,#4026c7 130.5px,#4228d3 132.5px,#472df6 136.5px,#4b34fb 141.5px,#472df6 145.5px,#462cee 146.5px)"></i><i style="background:linear-gradient(90deg,#ddb942 0.5px,#cec13e 2.5px,#c2c93d 3.5px,#97da55 6.5px,#81e169 8.5px,#6ce396 11.5px,#60d5bb 15.5px,#5ac0d6 19.5px,#55a9e7 22.5px,#539bfa 24.5px,#528bff 26.5px,#5566ff 31.5px,#5460ff 34.5px,#5471ff 38.5px,#5294ff 44.5px,#539df8 48.5px,#539bfb 52.5px,#528bff 56.5px,#535bff 63.5px,#503eff 68.5px,#4b32fa 74.5px,#482ef8 86.5px,#4329de 94.5px,#4127ca 100.5px,#3f25bd 108.5px,#3f25bd 127.5px,#4127cc 131.5px,#4329dc 133.5px,#472df4 136.5px,#4a31fa 138.5px,#4a31fa 143.5px,#472df4 145.5px,#462ced 146.5px)"></i><i style="background:linear-gradient(90deg,#d9bb40 0.5px,#cbc33e 2.5px,#bfca3e 3.5px,#8bde5f 7.5px,#7ae279 9.5px,#6ce396 11.5px,#60d5bb 15.5px,#5ac0d6 19.5px,#55a9e7 22.5px,#539bfa 24.5px,#528bff 26.5px,#5566ff 31.5px,#5460ff 34.5px,#546fff 38.5px,#5292ff 44.5px,#539cfa 48.5px,#529afd 52.5px,#5285ff 57.5px,#535bff 63.5px,#4f3afe 69.5px,#4a31fa 75.5px,#482ef6 85.5px,#4329df 93.5px,#4127c9 100.5px,#3f25be 108.5px,#3f25bd 127.5px,#4127cb 131.5px,#482ef8 137.5px,#4a32fa 142.5px,#482ef8 144.5px,#452beb 146.5px)"></i><i style="background:linear-gradient(90deg,#d0c03f 0.5px,#c4c73c 2.5px,#a0d74f 5.5px,#81e16b 8.5px,#6ce296 11.5px,#64dcac 13.5px,#5bc7d0 18.5px,#55a9e7 22.5px,#539bfa 24.5px,#528bff 26.5px,#5566ff 31.5px,#545fff 34.5px,#546dff 38.5px,#528fff 44.5px,#529afd 48.5px,#5295ff 53.5px,#537cff 58.5px,#524dff 65.5px,#4f3afe 69.5px,#4930f9 75.5px,#472df5 84.5px,#4329e0 92.5px,#4127ca 99.5px,#3f25bf 107.5px,#3f25bf 128.5px,#4228d0 132.5px,#472df6 137.5px,#4930f9 142.5px,#472df6 144.5px,#452be9 146.5px)"></i><i style="background:linear-gradient(90deg,#c5c73c 0.5px,#bacc41 2.5px,#9cd852 5.5px,#87e062 7.5px,#6be298 11.5px,#62d8b4 14.5px,#5bc6d0 18.5px,#54a2f1 23.5px,#539bfb 24.5px,#528bff 26.5px,#556cff 30.5px,#545fff 33.5px,#5462ff 36.5px,#528fff 45.5px,#5297ff 49.5px,#5291ff 53.5px,#527fff 57.5px,#5357ff 63.5px,#4e39fd 69.5px,#482ef8 76.5px,#462cee 86.5px,#4228d6 94.5px,#4026c2 103.5px,#3f25c0 110.5px,#3f25c0 124.5px,#4026c1 129.5px,#4228d5 133.5px,#452bed 136.5px,#482ef7 138.5px,#482ef7 143.5px,#442ae7 146.5px)"></i><i style="background:linear-gradient(90deg,#b8cd41 0.5px,#b0d046 2.5px,#97da56 5.5px,#84e164 7.5px,#6fe48f 10.5px,#61d8b5 14.5px,#5bc6d1 18.5px,#55a8e8 22.5px,#529bfb 24.5px,#528aff 26.5px,#5566ff 31.5px,#535dff 34.5px,#5567ff 38.5px,#5287ff 44.5px,#5292ff 49.5px,#528cff 53.5px,#537bff 57.5px,#524fff 64.5px,#4e38fd 69.5px,#482ef8 75.5px,#442ae7 88.5px,#4127cc 97.5px,#3f25c0 105.5px,#4026c4 120.5px,#4026c1 129.5px,#4228d2 133.5px,#462cef 137.5px,#482ef7 140.5px,#472df3 143.5px,#442ae3 146.5px)"></i><i style="background:linear-gradient(90deg,#add247 0.5px,#a0d74f 3.5px,#81e169 7.5px,#6de493 10.5px,#61d7b7 14.5px,#5bc5d2 18.5px,#55a7e9 22.5px,#529afc 24.5px,#556bff 30.5px,#535cff 34.5px,#5460ff 37.5px,#5288ff 46.5px,#528bff 51.5px,#5280ff 55.5px,#5357ff 62.5px,#4f3afe 68.5px,#482ef7 74.5px,#442ae6 87.5px,#4026c6 99.5px,#4026c1 105.5px,#4026c7 119.5px,#4026c1 129.5px,#4228d0 133.5px,#452bea 137.5px,#472df3 141.5px,#442ae6 145.5px,#4329de 146.5px)"></i><i style="background:linear-gradient(90deg,#a3d64d 0.5px,#99da54 3.5px,#84e164 6.5px,#6ce396 10.5px,#60d6b9 14.5px,#5ac3d3 18.5px,#55a7ea 22.5px,#529afc 24.5px,#556cff 30.5px,#535bff 34.5px,#5460ff 38.5px,#5281ff 46.5px,#5284ff 51.5px,#5379ff 55.5px,#524eff 63.5px,#4e38fd 68.5px,#472df4 74.5px,#442ae2 87.5px,#4026c5 99.5px,#4026c3 106.5px,#4127ca 118.5px,#4026c3 130.5px,#4228d3 134.5px,#452bea 138.5px,#462cee 141.5px,#442ae6 144.5px,#4329da 146.5px)"></i><i style="background:linear-gradient(90deg,#9ad953 0.5px,#91dc5a 3.5px,#86e063 5.5px,#75e383 8.5px,#6be19a 10.5px,#60d5bb 14.5px,#5ac2d4 18.5px,#55a7ea 22.5px,#539bfb 24.5px,#528cff 26.5px,#5462ff 32.5px,#5358ff 36.5px,#556aff 42.5px,#537bff 47.5px,#537cff 51.5px,#556dff 56.5px,#4e39fd 67.5px,#472df3 73.5px,#452be9 81.5px,#4228d4 91.5px,#4026c3 101.5px,#4127cd 118.5px,#4026c3 130.5px,#4228d0 134.5px,#442ae5 138.5px,#452be9 141.5px,#4329e0 144.5px,#4228d5 146.5px)"></i><i style="background:linear-gradient(90deg,#92dc59 0.5px,#85e163 4.5px,#77e37f 7.5px,#69e09e 10.5px,#5fd4bd 14.5px,#5ac1d5 18.5px,#54a1f2 23.5px,#5296ff 25.5px,#5464ff 32.5px,#5356ff 36.5px,#535dff 40.5px,#5473ff 48.5px,#5471ff 52.5px,#535dff 58.5px,#4d36fc 67.5px,#472df2 72.5px,#442ae6 80.5px,#4228d4 90.5px,#4026c3 100.5px,#4127ca 109.5px,#4228d0 118.5px,#4026c4 131.5px,#442ae1 139.5px,#4329de 143.5px,#4228d1 146.5px)"></i><i style="background:linear-gradient(90deg,#8adf5f 0.5px,#83e166 3.5px,#77e37e 6.5px,#67dfa3 10.5px,#5ecfc5 15.5px,#56ade5 21.5px,#5298ff 25.5px,#5461ff 33.5px,#5253ff 37.5px,#5462ff 44.5px,#556aff 49.5px,#5461ff 55.5px,#4d37fc 66.5px,#472df6 70.5px,#452be9 74.5px,#4228d5 88.5px,#4026c3 100.5px,#4228d3 117.5px,#4026c4 131.5px,#4228d1 136.5px,#4329dc 140.5px,#4228d4 144.5px,#4127cd 146.5px)"></i><i style="background:linear-gradient(90deg,#83e167 0.5px,#7ee271 3.5px,#6be299 8.5px,#5ed1c2 14.5px,#5ac3d3 17.5px,#54a2f1 23.5px,#5299fe 25.5px,#5357ff 35.5px,#5250ff 39.5px,#5461ff 48.5px,#535cff 54.5px,#4d36fc 65.5px,#472df5 69.5px,#442ae3 75.5px,#4228cf 90.5px,#4026c3 99.5px,#4127cc 107.5px,#4329d7 117.5px,#4026c7 129.5px,#4026c6 133.5px,#4228d5 140.5px,#4127cd 145.5px,#4127ca 146.5px)"></i><i style="background:linear-gradient(90deg,#7de273 0.5px,#78e37c 3.5px,#6be298 7.5px,#5fd3c0 13.5px,#5ac1d5 17.5px,#54a2f1 23.5px,#5299fe 25.5px,#5357ff 35.5px,#514cff 38.5px,#5254ff 45.5px,#5358ff 51.5px,#5149ff 58.5px,#4b33fb 65.5px,#472df4 68.5px,#4329e0 74.5px,#4026c3 99.5px,#4228d5 111.5px,#4329db 117.5px,#4127ce 126.5px,#4026c4 132.5px,#4228d0 141.5px,#4026c7 146.5px)"></i><i style="background:linear-gradient(90deg,#76e380 0.5px,#72e389 3.5px,#64dcad 9.5px,#5ccacd 15.5px,#53a0f4 23.5px,#5297ff 25.5px,#535bff 34.5px,#514bff 37.5px,#5147ff 41.5px,#5250ff 50.5px,#5145ff 57.5px,#482ef8 66.5px,#4329dc 73.5px,#4026c2 98.5px,#4228d2 108.5px,#4329de 116.5px,#4329d9 122.5px,#4026c4 133.5px,#4127cc 141.5px,#4026c4 146.5px)"></i><i style="background:linear-gradient(90deg,#70e48d 0.5px,#6ae19c 5.5px,#5dcec7 13.5px,#54a1f2 22.5px,#5299fe 24.5px,#5357ff 34.5px,#5145ff 38.5px,#5142ff 42.5px,#5148ff 51.5px,#4c36fc 61.5px,#472df5 65.5px,#4329d9 72.5px,#4026c2 98.5px,#4228d4 108.5px,#442ae2 116.5px,#4228d7 124.5px,#4026c3 134.5px,#4127c8 142.5px,#4026c2 146.5px)"></i><i style="background:linear-gradient(90deg,#6ce298 0.5px,#68e0a0 4.5px,#5dccca 13.5px,#54a2f1 21.5px,#5299fe 23.5px,#5460ff 32.5px,#5144ff 37.5px,#503cff 41.5px,#5040ff 52.5px,#482ef7 63.5px,#4228d6 71.5px,#4228d0 78.5px,#4026c3 94.5px,#4026c4 100.5px,#442ae3 114.5px,#442ae2 120.5px,#4026c3 134.5px,#4026c3 144.5px,#3f25c0 146.5px)"></i><i style="background:linear-gradient(90deg,#68dfa1 0.5px,#65dda9 4.5px,#5ecfc5 11.5px,#58b8dd 16.5px,#54a2f1 20.5px,#5299fe 22.5px,#5359ff 32.5px,#503cff 38.5px,#4d37fd 42.5px,#4e39fd 53.5px,#482ef7 61.5px,#4228d3 70.5px,#4127cd 79.5px,#4026c2 98.5px,#4329d7 108.5px,#442ae5 114.5px,#442ae4 120.5px,#4026c3 134.5px,#3f25be 146.5px)"></i><i style="background:linear-gradient(90deg,#65ddaa 0.5px,#61d8b6 6.5px,#5cc9ce 12.5px,#55a8e8 18.5px,#5299fe 21.5px,#5359ff 31.5px,#4f3bff 37.5px,#4b33fb 42.5px,#4b33fb 54.5px,#482ef6 59.5px,#4228d0 69.5px,#4127cb 79.5px,#4026c1 97.5px,#4228d5 107.5px,#442ae6 114.5px,#442ae5 120.5px,#4026c1 135.5px,#3f25bc 146.5px)"></i><i style="background:linear-gradient(90deg,#63dab1 0.5px,#60d5bc 6.5px,#5bc4d2 12.5px,#54a4ee 18.5px,#5299fd 20.5px,#5358ff 30.5px,#4f3bfe 36.5px,#492ff9 42.5px,#482ef8 55.5px,#4329df 63.5px,#4127cc 69.5px,#4026c1 93.5px,#4026c3 99.5px,#442ae7 114.5px,#442ae4 121.5px,#4026c1 135.5px,#3f25bb 146.5px)"></i><i style="background:linear-gradient(90deg,#61d7b8 0.5px,#5ed0c4 7.5px,#59bfd7 12.5px,#54a5ed 17.5px,#529afc 19.5px,#5471ff 25.5px,#5148ff 32.5px,#4a32fa 38.5px,#472df3 44.5px,#462cf0 54.5px,#442ae1 60.5px,#4127cc 67.5px,#4026c7 75.5px,#4026c2 91.5px,#4026c2 98.5px,#4329d9 108.5px,#442ae7 114.5px,#442ae4 121.5px,#4026c1 135.5px,#3f25ba 146.5px)"></i><i style="background:linear-gradient(90deg,#5fd4be 0.5px,#5dccca 7.5px,#58badc 12.5px,#55a6ec 16.5px,#5296ff 19.5px,#5359ff 28.5px,#4c35fc 36.5px,#472df4 40.5px,#452beb 44.5px,#442ae7 54.5px,#4127c8 67.5px,#4026c6 79.5px,#3f25c0 97.5px,#4228d5 107.5px,#442ae6 114.5px,#442ae5 120.5px,#4026c1 135.5px,#3e24b9 146.5px)"></i><i style="background:linear-gradient(90deg,#5ed0c4 0.5px,#5bc8cf 7.5px,#55a6eb 15.5px,#5297ff 18.5px,#535bff 27.5px,#4f3afe 34.5px,#472df4 39.5px,#442ae6 43.5px,#4329d9 56.5px,#4026c3 69.5px,#4026c4 88.5px,#3f25c0 97.5px,#4228d4 107.5px,#442ae5 114.5px,#442ae4 120.5px,#4026c2 134.5px,#3e24b9 146.5px)"></i><i style="background:linear-gradient(90deg,#5dccca 0.5px,#5bc4d2 6.5px,#55a6eb 14.5px,#5298ff 17.5px,#5357ff 27.5px,#4e38fd 34.5px,#482ef6 38.5px,#4329dd 44.5px,#4127ca 61.5px,#4026c1 70.5px,#4026c7 86.5px,#3f25c0 97.5px,#4228d6 108.5px,#442ae4 115.5px,#4329e0 121.5px,#3f25c0 135.5px,#3e24b9 146.5px)"></i><i style="background:linear-gradient(90deg,#5bc7d0 0.5px,#59bcda 7.5px,#55a5ec 13.5px,#5299fe 16.5px,#535aff 26.5px,#4d36fc 34.5px,#482ef8 37.5px,#4228d5 45.5px,#3f25c0 69.5px,#4127cb 85.5px,#3f25c0 98.5px,#442ae1 115.5px,#4329dd 121.5px,#3f25bf 136.5px,#3f25ba 146.5px)"></i><i style="background:linear-gradient(90deg,#5ac0d6 0.5px,#58b8dd 6.5px,#55a8e8 11.5px,#5299fe 15.5px,#5356ff 26.5px,#4c35fc 34.5px,#462cf1 38.5px,#4228d4 44.5px,#4127ca 52.5px,#3f25bf 69.5px,#4228d0 84.5px,#4026c4 94.5px,#4026c1 99.5px,#4329de 115.5px,#4329d9 122.5px,#3f25c0 135.5px,#3f25ba 146.5px)"></i><i style="background:linear-gradient(90deg,#58b9dc 0.5px,#57b2e1 6.5px,#54a3ef 11.5px,#5298ff 14.5px,#5358ff 25.5px,#4d36fc 33.5px,#472df4 37.5px,#4228d2 44.5px,#4026c6 52.5px,#3f25be 69.5px,#4228d7 84.5px,#4127cb 92.5px,#4026c1 99.5px,#4329da 115.5px,#4329d7 121.5px,#3f25c0 135.5px,#3f25bb 146.5px)"></i><i style="background:linear-gradient(90deg,#57b3e0 0.5px,#55a7ea 8.5px,#5297ff 13.5px,#535aff 24.5px,#4f3bfe 31.5px,#482ef7 36.5px,#4228d0 44.5px,#4026c2 54.5px,#3f25bd 68.5px,#4228d3 78.5px,#4329e0 84.5px,#4329d9 89.5px,#4026c2 98.5px,#4026c5 103.5px,#4228d7 115.5px,#4228d1 123.5px,#3f25c0 134.5px,#3f25bc 146.5px)"></i><i style="background:linear-gradient(90deg,#56ace5 0.5px,#55a6eb 6.5px,#5295ff 12.5px,#535bff 23.5px,#4e39fe 31.5px,#472df4 36.5px,#4228d0 44.5px,#4026c1 54.5px,#3f25bc 66.5px,#4026c6 72.5px,#442ae7 82.5px,#442ae7 87.5px,#4026c2 99.5px,#4026c7 105.5px,#4228d3 117.5px,#3f25c0 135.5px,#3f25c0 143.5px,#3f25bd 146.5px)"></i><i style="background:linear-gradient(90deg,#55a6eb 0.5px,#54a0f3 6.5px,#5296ff 10.5px,#556bff 19.5px,#503dff 29.5px,#482ef7 35.5px,#4228d3 44.5px,#3f25be 58.5px,#3f25bd 67.5px,#4228d0 74.5px,#452beb 80.5px,#462cf1 85.5px,#442ae7 90.5px,#4026c6 98.5px,#4026c2 102.5px,#4228d0 116.5px,#4127c8 126.5px,#3f25c0 134.5px,#4026c2 142.5px,#3f25bd 146.5px)"></i><i style="background:linear-gradient(90deg,#54a0f3 0.5px,#539bfb 6.5px,#528cff 11.5px,#5357ff 22.5px,#4e38fd 30.5px,#482ef6 35.5px,#4228d1 47.5px,#3f25bc 62.5px,#3f25c0 68.5px,#4228d5 74.5px,#462cef 79.5px,#482ef8 83.5px,#472df5 88.5px,#4329e1 93.5px,#4127c8 98.5px,#4026c1 103.5px,#4127cd 117.5px,#3f25c0 133.5px,#4026c5 141.5px,#3f25be 146.5px)"></i><i style="background:linear-gradient(90deg,#529afc 0.5px,#5294ff 6.5px,#537dff 13.5px,#524fff 23.5px,#4d37fd 30.5px,#472df4 36.5px,#4026c7 56.5px,#3f25bd 64.5px,#4026c4 69.5px,#4228d4 73.5px,#472df2 78.5px,#4a31fa 82.5px,#482ef6 90.5px,#4329db 95.5px,#4026c7 99.5px,#3f25c0 103.5px,#4127ca 117.5px,#3f25c0 133.5px,#4026c7 140.5px,#3f25c0 146.5px)"></i><i style="background:linear-gradient(90deg,#5294ff 0.5px,#528bff 7.5px,#5472ff 14.5px,#5041ff 26.5px,#4a31fa 33.5px,#452beb 45.5px,#4127c9 57.5px,#3f25be 65.5px,#4026c6 69.5px,#4329d9 73.5px,#472df3 77.5px,#4930f9 79.5px,#4d36fc 85.5px,#482ef8 91.5px,#4329e1 95.5px,#4127ca 99.5px,#3f25c0 103.5px,#4026c7 119.5px,#3f25bf 131.5px,#4127c9 140.5px,#4026c1 146.5px)"></i><i style="background:linear-gradient(90deg,#528cff 0.5px,#5284ff 7.5px,#5567ff 15.5px,#503bff 27.5px,#4a31fa 37.5px,#472df5 45.5px,#4329db 53.5px,#4026c4 61.5px,#3f25c0 66.5px,#4127cc 70.5px,#482ef8 77.5px,#4f3afe 84.5px,#4a31f9 91.5px,#472df3 93.5px,#4127cc 99.5px,#3f25c0 103.5px,#4026c4 120.5px,#3f25bf 131.5px,#4127cc 139.5px,#4026c2 146.5px)"></i><i style="background:linear-gradient(90deg,#5285ff 0.5px,#537dff 7.5px,#5356ff 18.5px,#4f3afe 27.5px,#4c36fc 37.5px,#482ef7 48.5px,#4127ca 60.5px,#4026c1 66.5px,#4228d3 71.5px,#482ef8 76.5px,#503cff 83.5px,#4e38fd 89.5px,#482ef8 93.5px,#4127ce 99.5px,#3f25bf 104.5px,#4026c1 122.5px,#3f25be 130.5px,#4127ce 138.5px,#4127c9 144.5px,#4026c4 146.5px)"></i><i style="background:linear-gradient(90deg,#537dff 0.5px,#5473ff 8.5px,#503dff 25.5px,#4e39fe 33.5px,#4e39fd 42.5px,#472df5 51.5px,#4127ce 60.5px,#4026c3 65.5px,#4026c7 68.5px,#4228d7 71.5px,#472df6 75.5px,#503fff 82.5px,#503fff 87.5px,#472df6 94.5px,#4127cb 100.5px,#3f25bf 104.5px,#3f25be 130.5px,#4228d1 139.5px,#4127cb 144.5px,#4026c5 146.5px)"></i><i style="background:linear-gradient(90deg,#5475ff 0.5px,#556bff 8.5px,#503eff 24.5px,#4f3bff 30.5px,#5040ff 40.5px,#4a32fa 50.5px,#472df4 53.5px,#4127ce 61.5px,#4026c4 66.5px,#4127cd 69.5px,#482ef8 75.5px,#5142ff 82.5px,#5142ff 87.5px,#482ef8 94.5px,#4127cc 100.5px,#3f25bd 105.5px,#3f25bd 129.5px,#4228d5 139.5px,#4127cd 144.5px,#4026c7 146.5px)"></i><i style="background:linear-gradient(90deg,#556dff 0.5px,#5464ff 8.5px,#503cff 24.5px,#503eff 30.5px,#5146ff 38.5px,#503dff 46.5px,#472df5 54.5px,#4127cd 62.5px,#4026c5 66.5px,#4127ce 69.5px,#4329db 71.5px,#4930f9 75.5px,#5142ff 81.5px,#5146ff 86.5px,#4d36fc 92.5px,#472df4 95.5px,#4127cd 100.5px,#3f25bd 105.5px,#3f25bc 128.5px,#4228cf 135.5px,#4329d9 139.5px,#4228d3 143.5px,#4127c9 146.5px)"></i><i style="background:linear-gradient(90deg,#5566ff 0.5px,#545eff 8.5px,#503cff 23.5px,#5041ff 30.5px,#514bff 38.5px,#5143ff 45.5px,#482ff8 54.5px,#4228cf 62.5px,#4026c6 66.5px,#4228cf 69.5px,#472df6 74.5px,#5041ff 80.5px,#5148ff 85.5px,#503eff 90.5px,#472df6 95.5px,#4127ce 100.5px,#3f25bd 105.5px,#3f25bb 117.5px,#3f25bc 128.5px,#4329de 139.5px,#4329da 142.5px,#4127cb 146.5px)"></i><i style="background:linear-gradient(90deg,#5460ff 0.5px,#5254ff 10.5px,#503bff 22.5px,#5040ff 28.5px,#524fff 38.5px,#5144ff 46.5px,#4930f9 54.5px,#442ae7 58.5px,#4127cd 63.5px,#4127c8 67.5px,#4228d5 70.5px,#482ef7 74.5px,#5142ff 80.5px,#5149ff 85.5px,#503eff 90.5px,#482ef7 95.5px,#4228cf 100.5px,#3f25bd 105.5px,#3f25ba 117.5px,#3f25bb 127.5px,#4127cd 133.5px,#442ae1 138.5px,#442ae1 141.5px,#4127cd 146.5px)"></i><i style="background:linear-gradient(90deg,#5359ff 0.5px,#524fff 10.5px,#4f3afe 21.5px,#503fff 27.5px,#5251ff 37.5px,#514bff 44.5px,#4b33fb 53.5px,#472df3 56.5px,#4228d1 62.5px,#4026c7 66.5px,#4228cf 69.5px,#482ef7 74.5px,#5142ff 80.5px,#5149ff 85.5px,#503eff 90.5px,#482ef7 95.5px,#4228cf 100.5px,#3f25bd 105.5px,#3e24b9 113.5px,#3f25bb 127.5px,#4228cf 133.5px,#442ae6 138.5px,#442ae3 142.5px,#4228cf 146.5px)"></i><i style="background:linear-gradient(90deg,#5254ff 0.5px,#514aff 10.5px,#4e38fd 21.5px,#503fff 27.5px,#5251ff 36.5px,#524fff 42.5px,#4d36fc 52.5px,#472df4 56.5px,#4127ce 63.5px,#4026c7 66.5px,#4228cf 69.5px,#472df6 74.5px,#5041ff 80.5px,#5148ff 85.5px,#503eff 90.5px,#472df6 95.5px,#4127ce 100.5px,#3f25bd 105.5px,#3e24b8 113.5px,#3f25ba 126.5px,#4127cc 132.5px,#442ae8 137.5px,#452bea 141.5px,#4329de 144.5px,#4228d1 146.5px)"></i><i style="background:linear-gradient(90deg,#524eff 0.5px,#5146ff 10.5px,#4d37fc 20.5px,#503cff 26.5px,#5252ff 36.5px,#524fff 42.5px,#4c35fc 52.5px,#482ef8 55.5px,#4127cd 63.5px,#4026c7 67.5px,#4228d3 70.5px,#472df4 74.5px,#4e39fe 78.5px,#5146ff 84.5px,#5142ff 88.5px,#4930f9 94.5px,#4329db 98.5px,#4127c9 101.5px,#3f25ba 107.5px,#3f25ba 126.5px,#4127c9 131.5px,#452beb 137.5px,#462cee 141.5px,#4329db 145.5px,#4228d4 146.5px)"></i><i style="background:linear-gradient(90deg,#5149ff 0.5px,#5040ff 11.5px,#4c35fb 21.5px,#503dff 27.5px,#5250ff 35.5px,#5250ff 41.5px,#4d37fc 51.5px,#482ef6 55.5px,#4228cf 62.5px,#4026c6 66.5px,#4127cd 69.5px,#482ef8 75.5px,#5142ff 82.5px,#5142ff 87.5px,#482ef8 94.5px,#4127cc 100.5px,#3f25bb 106.5px,#3e24b7 119.5px,#3f25bb 126.5px,#4026c6 130.5px,#4329df 134.5px,#472df2 138.5px,#462cef 142.5px,#4329df 145.5px,#4329d7 146.5px)"></i><i style="background:linear-gradient(90deg,#5145ff 0.5px,#4f3afe 13.5px,#4b33fb 22.5px,#5145ff 30.5px,#5251ff 37.5px,#514bff 43.5px,#4b33fb 52.5px,#472df3 55.5px,#4228d1 61.5px,#4026c5 66.5px,#4127cb 69.5px,#472df6 75.5px,#503fff 82.5px,#503fff 87.5px,#472df6 94.5px,#4127cb 100.5px,#3f25bc 105.5px,#3e24b7 115.5px,#3e24b9 125.5px,#4127c8 130.5px,#4329da 133.5px,#462cee 136.5px,#482ef7 139.5px,#472df3 142.5px,#442ae3 145.5px,#4329da 146.5px)"></i><i style="background:linear-gradient(90deg,#5040ff 0.5px,#4c36fc 14.5px,#4a32fa 22.5px,#5147ff 31.5px,#5251ff 37.5px,#5148ff 44.5px,#4a32fa 52.5px,#472df5 54.5px,#4228cf 61.5px,#4026c3 66.5px,#4127ce 70.5px,#482ef8 76.5px,#503cff 83.5px,#4e38fd 89.5px,#482ef8 93.5px,#4127ce 99.5px,#3f25bd 104.5px,#3e24b7 113.5px,#3f25ba 125.5px,#4127c9 130.5px,#472df2 136.5px,#482ff8 138.5px,#482ef7 142.5px,#4329de 146.5px)"></i><i style="background:linear-gradient(90deg,#503cff 0.5px,#4a31fa 16.5px,#4a31f9 22.5px,#5145ff 30.5px,#5251ff 37.5px,#514aff 43.5px,#4e38fd 49.5px,#482ef8 53.5px,#4228d0 60.5px,#4026c3 65.5px,#4127c8 69.5px,#4329df 73.5px,#482ef8 77.5px,#4f3afe 84.5px,#4a31f9 91.5px,#472df3 93.5px,#4127cc 99.5px,#3f25bb 105.5px,#3e24b7 115.5px,#3f25ba 125.5px,#4026c5 129.5px,#4329d8 132.5px,#472df6 136.5px,#4930f9 141.5px,#472df6 143.5px,#4329e1 146.5px)"></i><i style="background:linear-gradient(90deg,#4e39fd 0.5px,#482ef8 20.5px,#503fff 28.5px,#5250ff 34.5px,#5251ff 40.5px,#4e38fd 49.5px,#472df6 53.5px,#4228d1 59.5px,#4026c1 65.5px,#4026c6 69.5px,#4329d9 73.5px,#472df3 77.5px,#4930f9 79.5px,#4d36fc 85.5px,#482ef8 91.5px,#4329e1 95.5px,#4127ca 99.5px,#3f25bb 105.5px,#3e24b6 118.5px,#3f25bc 126.5px,#4127cb 130.5px,#472df3 135.5px,#4931f9 137.5px,#4931f9 142.5px,#472df3 144.5px,#442ae4 146.5px)"></i><i style="background:linear-gradient(90deg,#4d36fc 0.5px,#482ef7 15.5px,#472df4 19.5px,#4d37fd 25.5px,#5252ff 34.5px,#5254ff 39.5px,#5143ff 46.5px,#4930f9 52.5px,#4228cf 59.5px,#3f25c0 65.5px,#4026c4 69.5px,#4228d4 73.5px,#472df2 78.5px,#4a31fa 82.5px,#482ef6 90.5px,#4329db 95.5px,#4026c7 99.5px,#3e24b9 106.5px,#3e24b7 122.5px,#3f25bf 127.5px,#4228d4 131.5px,#482ef6 135.5px,#4c34fb 140.5px,#482ef6 144.5px,#442ae7 146.5px)"></i><i style="background:linear-gradient(90deg,#4b33fb 0.5px,#472df6 13.5px,#462cf0 18.5px,#4c35fc 24.5px,#5250ff 32.5px,#5358ff 37.5px,#524fff 43.5px,#4d36fc 50.5px,#472df6 53.5px,#4228cf 59.5px,#3f25c0 64.5px,#3f25c0 68.5px,#4228d5 74.5px,#462cef 79.5px,#482ef8 83.5px,#472df5 88.5px,#4329e1 93.5px,#4127c8 98.5px,#3f25ba 105.5px,#3e24b6 120.5px,#3f25bd 126.5px,#4127ce 130.5px,#472df2 134.5px,#4a31fa 136.5px,#4d36fc 140.5px,#482ff8 144.5px,#452bea 146.5px)"></i><i style="background:linear-gradient(90deg,#4931f9 0.5px,#472df5 10.5px,#462ced 18.5px,#4930f9 22.5px,#5145ff 28.5px,#535aff 35.5px,#5357ff 41.5px,#4d37fd 50.5px,#482ef7 53.5px,#4228cf 59.5px,#3f25be 65.5px,#4026c1 69.5px,#4228d4 75.5px,#462ced 81.5px,#462cf1 86.5px,#442ae3 91.5px,#4127c9 97.5px,#3f25bb 103.5px,#3e24b6 119.5px,#3f25bd 126.5px,#4228cf 130.5px,#472df4 134.5px,#4c35fc 137.5px,#4d37fc 141.5px,#4930f9 144.5px,#452bec 146.5px)"></i><i style="background:linear-gradient(90deg,#482ef8 0.5px,#462cef 11.5px,#452bea 17.5px,#4a31fa 22.5px,#524fff 30.5px,#545eff 36.5px,#535aff 41.5px,#4e38fd 50.5px,#482ef8 53.5px,#4228cf 59.5px,#3f25be 65.5px,#3f25bf 69.5px,#4228d6 77.5px,#442ae7 82.5px,#442ae7 87.5px,#4026c1 99.5px,#3e24b7 107.5px,#3e24b8 123.5px,#4026c1 127.5px,#4228d0 130.5px,#482ef7 134.5px,#4e39fe 139.5px,#4a31f9 144.5px,#482ef7 145.5px,#462cee 146.5px)"></i><i style="background:linear-gradient(90deg,#472df3 0.5px,#442ae6 16.5px,#462cee 19.5px,#4a32fa 22.5px,#5149ff 28.5px,#5460ff 35.5px,#545eff 40.5px,#524fff 45.5px,#4d36fc 51.5px,#492ff9 53.5px,#4127cb 60.5px,#3f25bc 66.5px,#4026c3 72.5px,#4329df 83.5px,#4329dc 88.5px,#3f25bd 100.5px,#3e24b6 114.5px,#3e24b9 124.5px,#4026c5 128.5px,#4329dc 131.5px,#482ff8 134.5px,#4f3bfe 139.5px,#4c35fc 143.5px,#482ff8 145.5px,#462cf0 146.5px)"></i><i style="background:linear-gradient(90deg,#462cee 0.5px,#442ae3 16.5px,#472df4 20.5px,#4e39fe 24.5px,#545eff 33.5px,#5463ff 38.5px,#535cff 42.5px,#4d37fc 51.5px,#472df5 54.5px,#4228d0 59.5px,#3f25be 65.5px,#3f25bd 70.5px,#4228d6 83.5px,#4228d1 89.5px,#3f25ba 102.5px,#3e24b7 122.5px,#4026c1 127.5px,#4228d3 130.5px,#472df2 133.5px,#4b33fb 135.5px,#503cff 139.5px,#4d36fc 143.5px,#4930f9 145.5px,#472df2 146.5px)"></i><i style="background:linear-gradient(90deg,#452be9 0.5px,#4329de 15.5px,#462cee 19.5px,#4930f9 21.5px,#5147ff 27.5px,#5460ff 33.5px,#5566ff 38.5px,#535aff 43.5px,#4d38fd 51.5px,#482ef6 54.5px,#4228d1 59.5px,#3f25be 65.5px,#3f25bc 70.5px,#4228cf 84.5px,#4026c7 92.5px,#3e24b8 104.5px,#3e24b8 123.5px,#4026c2 127.5px,#4228d4 130.5px,#472df4 133.5px,#4f3afe 137.5px,#503eff 140.5px,#4930f9 145.5px,#472df4 146.5px)"></i><i style="background:linear-gradient(90deg,#442ae4 0.5px,#4329da 14.5px,#442ae3 17.5px,#4930f9 21.5px,#5148ff 27.5px,#5464ff 34.5px,#5566ff 39.5px,#5358ff 44.5px,#4e38fd 51.5px,#482ef7 54.5px,#4228d2 59.5px,#3f25c0 64.5px,#3f25bb 70.5px,#4127ca 85.5px,#3e24b7 105.5px,#3e24b8 123.5px,#4026c7 128.5px,#4228d6 130.5px,#482ef6 133.5px,#503eff 138.5px,#503bff 142.5px,#482ef6 146.5px)"></i><i style="background:linear-gradient(90deg,#4329de 0.5px,#4228d7 14.5px,#442ae2 17.5px,#472df6 20.5px,#5144ff 26.5px,#5465ff 34.5px,#5567ff 39.5px,#5358ff 44.5px,#4e38fd 51.5px,#482ef8 54.5px,#4127cd 60.5px,#3f25bd 66.5px,#3f25bb 72.5px,#4026c6 85.5px,#3e24b8 104.5px,#3e24b8 122.5px,#3f25bf 126.5px,#4127ce 129.5px,#482ef7 133.5px,#503fff 138.5px,#503dff 142.5px,#482ef7 146.5px)"></i><i style="background:linear-gradient(90deg,#4329d9 0.5px,#4228d2 13.5px,#442ae1 17.5px,#472df6 20.5px,#5040ff 25.5px,#5463ff 33.5px,#5569ff 38.5px,#535dff 43.5px,#4e39fd 51.5px,#482ef8 54.5px,#4127cd 60.5px,#3f25bd 66.5px,#3f25bb 73.5px,#4026c2 87.5px,#3e24b8 105.5px,#3e24b8 122.5px,#3f25bf 126.5px,#4127ce 129.5px,#482ef8 133.5px,#5040ff 138.5px,#5040ff 141.5px,#482ef8 146.5px)"></i><i style="background:linear-gradient(90deg,#4228d4 0.5px,#4228d0 13.5px,#4329da 16.5px,#472df6 20.5px,#5040ff 25.5px,#5463ff 33.5px,#5569ff 38.5px,#535dff 43.5px,#4e39fd 51.5px,#482ef8 54.5px,#4127cd 60.5px,#3f25bd 66.5px,#3f25bb 74.5px,#3f25bf 88.5px,#3e24b7 112.5px,#3e24b9 123.5px,#4026c3 127.5px,#4228cf 129.5px,#482ff8 133.5px,#503fff 137.5px,#5143ff 140.5px,#4b33fb 145.5px,#482ff8 146.5px)"></i><i style="background:linear-gradient(90deg,#4228d0 0.5px,#4127ce 13.5px,#4329d9 16.5px,#4930f9 21.5px,#5144ff 26.5px,#5462ff 33.5px,#5569ff 37.5px,#5460ff 42.5px,#4e38fd 51.5px,#482ef8 54.5px,#4127cd 60.5px,#3f25bd 66.5px,#3f25bb 74.5px,#3f25bc 92.5px,#3e24b7 121.5px,#3f25bf 126.5px,#4228cf 129.5px,#492ff9 133.5px,#5142ff 138.5px,#503fff 142.5px,#492ff9 146.5px)"></i><i style="background:linear-gradient(90deg,#4127cd 0.5px,#4127cc 13.5px,#4329d8 16.5px,#472df5 20.5px,#503fff 25.5px,#5461ff 33.5px,#5568ff 37.5px,#545fff 42.5px,#4e38fd 51.5px,#482ef7 54.5px,#4228d2 59.5px,#3f25c0 64.5px,#3f25ba 71.5px,#3f25bb 93.5px,#3e24b8 122.5px,#3f25bf 126.5px,#4228d0 129.5px,#492ff9 133.5px,#5143ff 138.5px,#5040ff 142.5px,#492ff9 146.5px)"></i><i style="background:linear-gradient(90deg,#4127cb 0.5px,#4127cb 13.5px,#4228d7 16.5px,#4930f9 21.5px,#5148ff 27.5px,#5460ff 33.5px,#5566ff 37.5px,#545eff 42.5px,#4d38fd 51.5px,#482ef6 54.5px,#4228d1 59.5px,#3f25be 65.5px,#3f25bc 77.5px,#3e24b9 106.5px,#3e24b9 123.5px,#4026c4 127.5px,#4228d0 129.5px,#4930f9 133.5px,#5143ff 138.5px,#5040ff 142.5px,#4930f9 146.5px)"></i><i style="background:linear-gradient(90deg,#4127c9 0.5px,#4127c8 12.5px,#4228d6 16.5px,#492ff9 21.5px,#5147ff 27.5px,#545fff 33.5px,#5464ff 38.5px,#5255ff 44.5px,#4b33fb 52.5px,#472df5 54.5px,#4228d0 59.5px,#3f25be 65.5px,#3f25bc 75.5px,#3f25bb 100.5px,#3e24b8 122.5px,#3f25c0 126.5px,#4228d0 129.5px,#4930f9 133.5px,#5143ff 138.5px,#5143ff 141.5px,#4930f9 146.5px)"></i><i style="background:linear-gradient(90deg,#4127c8 0.5px,#4026c7 12.5px,#4228d5 16.5px,#492ff9 21.5px,#5147ff 27.5px,#5460ff 34.5px,#5461ff 39.5px,#524fff 45.5px,#4c36fc 51.5px,#492ff9 53.5px,#4228d0 59.5px,#3f25c0 64.5px,#3f25bc 72.5px,#3f25bd 94.5px,#3e24b8 122.5px,#3f25c0 126.5px,#4228d0 129.5px,#4930f9 133.5px,#5143ff 138.5px,#5143ff 141.5px,#4930f9 146.5px)"></i><i style="background:linear-gradient(90deg,#4026c7 0.5px,#4026c6 12.5px,#4228d4 16.5px,#492ff8 21.5px,#5146ff 27.5px,#535cff 33.5px,#545fff 39.5px,#5149ff 46.5px,#4a31fa 52.5px,#472df1 54.5px,#4228cf 59.5px,#3f25bf 64.5px,#3f25bd 73.5px,#3f25bf 92.5px,#3e24b7 121.5px,#3f25c0 126.5px,#4228d0 129.5px,#4930f9 133.5px,#5143ff 138.5px,#5040ff 142.5px,#4930f9 146.5px)"></i><i style="background:linear-gradient(90deg,#4026c7 0.5px,#4026c5 12.5px,#4228d4 16.5px,#492ff8 21.5px,#5146ff 27.5px,#535dff 34.5px,#535aff 40.5px,#503eff 48.5px,#482ef6 53.5px,#4228d2 58.5px,#3f25bf 64.5px,#3f25c0 80.5px,#3f25bd 100.5px,#3e24b8 122.5px,#3f25bf 126.5px,#4228d0 129.5px,#492ff9 133.5px,#5143ff 138.5px,#5040ff 142.5px,#492ff9 146.5px)"></i><i style="background:linear-gradient(90deg,#4127c9 0.5px,#4026c4 11.5px,#4127ce 15.5px,#492ff9 21.5px,#5146ff 27.5px,#535aff 33.5px,#535bff 38.5px,#5148ff 45.5px,#4a32fa 51.5px,#472df4 53.5px,#4228d1 58.5px,#3f25bf 64.5px,#3f25c0 75.5px,#3f25c0 95.5px,#3e24b7 121.5px,#3f25bf 126.5px,#4228cf 129.5px,#492ff9 133.5px,#5142ff 138.5px,#503fff 142.5px,#492ff9 146.5px)"></i><i style="background:linear-gradient(90deg,#4127ca 0.5px,#4026c5 12.5px,#4228d4 16.5px,#4930f9 21.5px,#5147ff 27.5px,#535aff 33.5px,#5357ff 39.5px,#503eff 47.5px,#482ef8 52.5px,#4228d0 58.5px,#3f25c0 63.5px,#4026c1 74.5px,#4026c3 91.5px,#3e24b7 121.5px,#3f25bf 126.5px,#4228cf 129.5px,#482ff8 133.5px,#503fff 137.5px,#5143ff 140.5px,#4b33fb 145.5px,#482ff8 146.5px)"></i><i style="background:linear-gradient(90deg,#4127cd 0.5px,#4026c5 12.5px,#4228d5 16.5px,#472df5 20.5px,#5040ff 25.5px,#5358ff 32.5px,#535aff 36.5px,#524dff 42.5px,#4c35fc 49.5px,#472df5 52.5px,#4127ce 58.5px,#3f25bf 64.5px,#4026c5 89.5px,#3e24b7 121.5px,#3f25bf 126.5px,#4127ce 129.5px,#482ef8 133.5px,#5040ff 138.5px,#5040ff 141.5px,#482ef8 146.5px)"></i><i style="background:linear-gradient(90deg,#4228cf 0.5px,#4026c6 12.5px,#4228d5 16.5px,#482ef6 20.5px,#5041ff 25.5px,#5357ff 31.5px,#535bff 35.5px,#514bff 42.5px,#4b34fb 49.5px,#482ef8 51.5px,#4127cd 58.5px,#3f25c0 63.5px,#4026c7 89.5px,#3e24b7 121.5px,#3f25bf 126.5px,#4127ce 129.5px,#482ef7 133.5px,#503fff 138.5px,#503dff 142.5px,#482ef7 146.5px)"></i><i style="background:linear-gradient(90deg,#4228d2 0.5px,#4026c7 12.5px,#4228d0 15.5px,#482ef8 20.5px,#5147ff 26.5px,#535bff 32.5px,#5358ff 37.5px,#4d38fd 47.5px,#492ff9 50.5px,#4127cb 58.5px,#3f25c0 63.5px,#4127c9 86.5px,#3e24b8 121.5px,#3f25bf 126.5px,#4127cd 129.5px,#482ef6 133.5px,#503eff 138.5px,#503bff 142.5px,#482ef6 146.5px)"></i><i style="background:linear-gradient(90deg,#4228d5 0.5px,#4127c8 12.5px,#4228d1 15.5px,#482ff8 20.5px,#5149ff 26.5px,#535cff 32.5px,#5358ff 37.5px,#4e39fd 46.5px,#482ef7 50.5px,#4127cd 57.5px,#3f25c0 63.5px,#4127cc 86.5px,#3e24b8 120.5px,#3f25bc 125.5px,#4127cd 129.5px,#4329e0 131.5px,#472df4 133.5px,#4f3afe 137.5px,#503eff 140.5px,#4930f9 145.5px,#472df4 146.5px)"></i><i style="background:linear-gradient(90deg,#4329d9 0.5px,#4127c9 12.5px,#4228d2 15.5px,#492ff9 20.5px,#5145ff 25.5px,#535cff 31.5px,#535cff 35.5px,#5149ff 41.5px,#4b34fb 47.5px,#472df3 50.5px,#4127cb 57.5px,#4026c1 62.5px,#4127ce 84.5px,#4026c5 100.5px,#3e24b8 120.5px,#3f25bb 125.5px,#4127cc 129.5px,#4329de 131.5px,#4930f9 134.5px,#503cff 139.5px,#4d36fc 143.5px,#4930f9 145.5px,#472df2 146.5px)"></i><i style="background:linear-gradient(90deg,#4329dd 0.5px,#4127cb 12.5px,#4228d3 15.5px,#472df4 19.5px,#503cff 23.5px,#5357ff 29.5px,#545eff 33.5px,#5254ff 38.5px,#4e38fd 45.5px,#472df5 49.5px,#4127cd 56.5px,#4026c2 61.5px,#4127cb 73.5px,#4228d1 86.5px,#4026c6 101.5px,#3e24b8 120.5px,#3f25bb 125.5px,#4127cb 129.5px,#482ff8 134.5px,#4f3bfe 139.5px,#4c35fc 143.5px,#482ff8 145.5px,#462cf0 146.5px)"></i><i style="background:linear-gradient(90deg,#4329e1 0.5px,#4228d7 6.5px,#4127cc 12.5px,#4228d5 15.5px,#472df5 19.5px,#5041ff 24.5px,#535bff 30.5px,#535dff 34.5px,#5253ff 38.5px,#4b33fb 46.5px,#482ef7 48.5px,#4127ce 55.5px,#4026c2 61.5px,#4228d6 84.5px,#4127cd 96.5px,#3e24b9 118.5px,#3f25bb 125.5px,#4127ca 129.5px,#4329da 131.5px,#482ef7 134.5px,#4e39fe 139.5px,#4a31f9 144.5px,#482ef7 145.5px,#462cee 146.5px)"></i><i style="background:linear-gradient(90deg,#442ae5 0.5px,#4329da 6.5px,#4127ce 12.5px,#4329d7 15.5px,#472df5 19.5px,#5041ff 24.5px,#535aff 30.5px,#535dff 34.5px,#524eff 39.5px,#4e38fd 44.5px,#472df3 48.5px,#4228d0 54.5px,#4026c3 59.5px,#4026c6 66.5px,#4329db 81.5px,#4329d8 91.5px,#3f25be 111.5px,#3e24b9 124.5px,#4026c4 128.5px,#4329d8 131.5px,#472df4 134.5px,#4c35fc 137.5px,#4d37fc 141.5px,#4930f9 144.5px,#452bec 146.5px)"></i><i style="background:linear-gradient(90deg,#442ae8 0.5px,#4329de 6.5px,#4228d1 11.5px,#4228d5 14.5px,#482ef6 19.5px,#5041ff 24.5px,#5359ff 30.5px,#535bff 34.5px,#5148ff 40.5px,#4930f9 46.5px,#442ae3 50.5px,#4127cd 54.5px,#4026c2 60.5px,#4228d1 71.5px,#442ae2 81.5px,#4329df 91.5px,#4026c3 107.5px,#3e24b8 123.5px,#4026c3 128.5px,#4228d6 131.5px,#472df2 134.5px,#4a31fa 136.5px,#4d36fc 140.5px,#482ff8 144.5px,#452bea 146.5px)"></i><i style="background:linear-gradient(90deg,#452beb 0.5px,#442ae4 5.5px,#4228d4 11.5px,#4329d8 14.5px,#482ef8 19.5px,#5145ff 25.5px,#5357ff 30.5px,#5359ff 34.5px,#5146ff 40.5px,#482ff8 46.5px,#4228d2 52.5px,#4026c3 58.5px,#4127c8 65.5px,#442ae8 79.5px,#442ae8 90.5px,#4228d5 98.5px,#4026c3 108.5px,#3e24b8 123.5px,#3f25bf 127.5px,#4228d4 131.5px,#482ef6 135.5px,#4c34fb 140.5px,#482ef6 144.5px,#442ae7 146.5px)"></i><i style="background:linear-gradient(90deg,#462cee 0.5px,#442ae5 6.5px,#4329d7 11.5px,#4329dd 14.5px,#482ef8 19.5px,#5144ff 25.5px,#5357ff 31.5px,#5255ff 35.5px,#4d37fd 43.5px,#482ef6 46.5px,#4228d0 52.5px,#4026c3 57.5px,#4127c8 64.5px,#4329d7 70.5px,#452bea 76.5px,#462cf1 84.5px,#452bec 92.5px,#4329db 98.5px,#4127ca 104.5px,#3f25bb 118.5px,#3f25ba 125.5px,#4127cb 130.5px,#472df3 135.5px,#4931f9 137.5px,#4931f9 142.5px,#472df3 144.5px,#442ae4 146.5px)"></i><i style="background:linear-gradient(90deg,#472df2 0.5px,#442ae6 7.5px,#4329db 11.5px,#442ae1 14.5px,#492ff9 19.5px,#5143ff 25.5px,#5253ff 30.5px,#5254ff 34.5px,#5041ff 40.5px,#492ff9 45.5px,#4228d1 51.5px,#4026c3 57.5px,#4127cc 65.5px,#4329dd 70.5px,#472df2 76.5px,#482ff8 82.5px,#482ef6 91.5px,#442ae2 98.5px,#4127ce 103.5px,#3f25bc 116.5px,#3f25ba 125.5px,#4026c5 129.5px,#4329d8 132.5px,#472df6 136.5px,#4930f9 141.5px,#472df6 143.5px,#4329e1 146.5px)"></i><i style="background:linear-gradient(90deg,#482ef6 0.5px,#452bec 6.5px,#4329e0 11.5px,#452bea 15.5px,#482ef8 18.5px,#5143ff 25.5px,#5252ff 31.5px,#524dff 36.5px,#4e38fd 42.5px,#482ef8 45.5px,#4228d4 50.5px,#4026c5 55.5px,#4026c5 60.5px,#4228d5 67.5px,#482ef8 75.5px,#4b32fa 87.5px,#482ef8 94.5px,#4329de 100.5px,#4127cc 105.5px,#3f25bb 118.5px,#3f25bb 126.5px,#4127ce 131.5px,#472df2 136.5px,#482ff8 138.5px,#482ef7 142.5px,#4329de 146.5px)"></i><i style="background:linear-gradient(90deg,#492ff9 0.5px,#462cf0 6.5px,#442ae5 11.5px,#462cef 15.5px,#4930f9 18.5px,#5146ff 26.5px,#5250ff 32.5px,#5144ff 38.5px,#4930f9 44.5px,#4127ce 51.5px,#4026c3 56.5px,#4127ce 64.5px,#4329df 68.5px,#482ef8 73.5px,#4d37fc 82.5px,#4a32fa 94.5px,#472df4 97.5px,#4228d1 104.5px,#3f25c0 114.5px,#3e24b9 124.5px,#4026c3 129.5px,#4329da 133.5px,#462cee 136.5px,#482ef7 139.5px,#472df3 142.5px,#442ae3 145.5px,#4329da 146.5px)"></i><i style="background:linear-gradient(90deg,#4a31fa 0.5px,#472df5 6.5px,#452be9 11.5px,#472df3 15.5px,#4930f9 17.5px,#5144ff 25.5px,#524eff 32.5px,#5142ff 38.5px,#482ff8 44.5px,#4127cd 51.5px,#4026c4 55.5px,#4127cb 62.5px,#4329d8 66.5px,#4930f9 72.5px,#503cff 81.5px,#4e39fd 92.5px,#482ef6 98.5px,#4228d4 104.5px,#4026c4 111.5px,#3e24b9 125.5px,#4026c6 130.5px,#4329df 134.5px,#472df2 138.5px,#462cef 142.5px,#4329df 145.5px,#4329d7 146.5px)"></i><i style="background:linear-gradient(90deg,#4b33fb 0.5px,#482ef6 7.5px,#462ced 11.5px,#4a32fa 17.5px,#5145ff 25.5px,#524dff 31.5px,#5144ff 37.5px,#482ef8 44.5px,#4127cd 51.5px,#4026c4 55.5px,#4228cf 63.5px,#442ae4 67.5px,#482ef7 70.5px,#503fff 78.5px,#5041ff 89.5px,#4b33fa 97.5px,#482ef7 99.5px,#4228d3 105.5px,#4026c1 114.5px,#3e24b9 125.5px,#4026c5 130.5px,#4329db 134.5px,#462cee 138.5px,#452beb 142.5px,#4228d4 146.5px)"></i><i style="background:linear-gradient(90deg,#4c36fc 0.5px,#472df5 9.5px,#472df2 12.5px,#4c34fb 17.5px,#5147ff 25.5px,#524dff 31.5px,#5143ff 37.5px,#482ef8 44.5px,#4228d2 50.5px,#4026c6 54.5px,#4127ca 60.5px,#4228d6 64.5px,#482ef6 69.5px,#503fff 75.5px,#5149ff 81.5px,#5146ff 91.5px,#4b33fb 98.5px,#482ef6 100.5px,#4228d1 106.5px,#3f25bd 118.5px,#3f25ba 126.5px,#4127cc 132.5px,#442ae8 137.5px,#452bea 141.5px,#4329de 144.5px,#4228d1 146.5px)"></i><i style="background:linear-gradient(90deg,#4e38fd 0.5px,#482ef7 12.5px,#5041ff 21.5px,#524fff 29.5px,#5148ff 35.5px,#4a31fa 43.5px,#472df3 45.5px,#4228cf 51.5px,#4026c6 55.5px,#4127ce 61.5px,#4329df 65.5px,#4930f9 69.5px,#5145ff 75.5px,#5250ff 81.5px,#524eff 90.5px,#503eff 96.5px,#472df5 101.5px,#4228d4 106.5px,#3f25c0 116.5px,#3f25ba 126.5px,#4127ca 132.5px,#442ae6 138.5px,#442ae3 142.5px,#4228cf 146.5px)"></i><i style="background:linear-gradient(90deg,#4f3bff 0.5px,#492ff9 12.5px,#5144ff 21.5px,#5251ff 28.5px,#514aff 35.5px,#4a32fa 43.5px,#472df4 45.5px,#4228d0 51.5px,#4026c7 55.5px,#4228d0 61.5px,#442ae3 65.5px,#482ff8 68.5px,#5147ff 74.5px,#5356ff 80.5px,#5356ff 89.5px,#5147ff 95.5px,#482ff8 101.5px,#4228d7 106.5px,#4026c5 113.5px,#3e24b9 125.5px,#4026c5 131.5px,#442ae1 138.5px,#442ae1 141.5px,#4127cd 146.5px)"></i><i style="background:linear-gradient(90deg,#503eff 0.5px,#4a31fa 12.5px,#503eff 18.5px,#5252ff 26.5px,#5252ff 32.5px,#4e39fd 41.5px,#482ef6 45.5px,#4228d1 51.5px,#4127c8 55.5px,#4228d1 61.5px,#442ae7 65.5px,#4a31fa 68.5px,#524dff 74.5px,#535dff 79.5px,#545fff 88.5px,#5255ff 93.5px,#4c35fc 100.5px,#482ef6 102.5px,#4228d5 107.5px,#4026c1 116.5px,#3f25ba 126.5px,#4026c7 132.5px,#4329dd 138.5px,#4329da 142.5px,#4127cb 146.5px)"></i><i style="background:linear-gradient(90deg,#5142ff 0.5px,#4b33fa 12.5px,#5040ff 18.5px,#5255ff 26.5px,#5254ff 32.5px,#5041ff 39.5px,#482ef8 45.5px,#4127ce 52.5px,#4127c9 56.5px,#4228d3 61.5px,#472df2 66.5px,#4b33fb 68.5px,#524eff 73.5px,#5462ff 78.5px,#5568ff 85.5px,#5462ff 91.5px,#524eff 96.5px,#4b33fb 101.5px,#472df2 103.5px,#4228d3 108.5px,#3f25bf 118.5px,#3f25ba 127.5px,#4228cf 135.5px,#4329d9 139.5px,#4228d3 143.5px,#4127c9 146.5px)"></i><i style="background:linear-gradient(90deg,#5145ff 0.5px,#503eff 6.5px,#4c35fb 12.5px,#503eff 17.5px,#5356ff 25.5px,#5359ff 30.5px,#524dff 36.5px,#4a32fa 44.5px,#472df4 46.5px,#4228cf 52.5px,#4127ca 56.5px,#4228d5 61.5px,#4a31fa 67.5px,#5253ff 73.5px,#5569ff 78.5px,#5470ff 84.5px,#556cff 90.5px,#5359ff 95.5px,#4c36fc 101.5px,#482ef6 103.5px,#4228d5 108.5px,#4026c1 117.5px,#3f25ba 127.5px,#4127cd 135.5px,#4228d5 140.5px,#4026c7 146.5px)"></i><i style="background:linear-gradient(90deg,#5149ff 0.5px,#5142ff 6.5px,#4d37fc 12.5px,#503dff 16.5px,#5359ff 25.5px,#535aff 31.5px,#5144ff 39.5px,#4930f9 45.5px,#4228d0 52.5px,#4127cb 56.5px,#4228d4 60.5px,#452be9 64.5px,#482ff8 66.5px,#5144ff 70.5px,#5569ff 76.5px,#5377ff 81.5px,#5475ff 89.5px,#5569ff 93.5px,#4e38fd 101.5px,#482ff8 103.5px,#4329d8 108.5px,#4026c7 114.5px,#3f25ba 125.5px,#3f25c0 131.5px,#4228d1 139.5px,#4127cb 144.5px,#4026c5 146.5px)"></i><i style="background:linear-gradient(90deg,#524dff 0.5px,#5146ff 6.5px,#4e38fd 12.5px,#503eff 16.5px,#535aff 25.5px,#535dff 30.5px,#5250ff 36.5px,#4b33fb 44.5px,#482ef7 46.5px,#4228d1 52.5px,#4127cc 56.5px,#4228d6 60.5px,#452bec 64.5px,#4930f9 66.5px,#5147ff 70.5px,#5470ff 76.5px,#537dff 80.5px,#527eff 88.5px,#5474ff 92.5px,#524fff 98.5px,#4c35fb 102.5px,#472df4 104.5px,#4228d5 109.5px,#4026c1 118.5px,#3f25ba 128.5px,#4127ce 138.5px,#4127c9 144.5px,#4026c4 146.5px)"></i><i style="background:linear-gradient(90deg,#5251ff 0.5px,#5149ff 6.5px,#4f3afe 13.5px,#5142ff 17.5px,#535cff 25.5px,#535dff 31.5px,#524dff 37.5px,#4b34fb 44.5px,#482ef8 46.5px,#4228d2 52.5px,#4127cc 55.5px,#4228d3 59.5px,#462cee 64.5px,#482ef7 65.5px,#5143ff 69.5px,#5470ff 75.5px,#5282ff 79.5px,#5286ff 87.5px,#527fff 91.5px,#5569ff 95.5px,#503cff 101.5px,#482ef7 104.5px,#4329dc 108.5px,#4127cb 113.5px,#3f25bc 123.5px,#3f25bc 130.5px,#4127cc 139.5px,#4026c2 146.5px)"></i><i style="background:linear-gradient(90deg,#5256ff 0.5px,#514bff 7.5px,#503cff 12.5px,#5040ff 16.5px,#545eff 26.5px,#545eff 31.5px,#524eff 37.5px,#4a31fa 45.5px,#472df2 47.5px,#4228d2 52.5px,#4127cd 55.5px,#4228d5 59.5px,#462cf1 64.5px,#4b33fa 66.5px,#524eff 70.5px,#537cff 76.5px,#5289ff 80.5px,#528bff 88.5px,#5281ff 92.5px,#5356ff 98.5px,#4e38fd 102.5px,#482ff8 104.5px,#4329d9 109.5px,#4026c5 116.5px,#3e24b9 127.5px,#4127c9 139.5px,#4026c1 146.5px)"></i><i style="background:linear-gradient(90deg,#535aff 0.5px,#5251ff 6.5px,#503dff 13.5px,#5143ff 17.5px,#545eff 26.5px,#545eff 31.5px,#524eff 37.5px,#4a31fa 45.5px,#472df2 47.5px,#4228d3 52.5px,#4127ce 55.5px,#4228d7 59.5px,#4930f9 65.5px,#5040ff 68.5px,#5473ff 74.5px,#528aff 78.5px,#5291ff 83.5px,#528dff 90.5px,#537aff 94.5px,#5250ff 99.5px,#4b34fb 103.5px,#472df3 105.5px,#4228d7 110.5px,#4026c4 117.5px,#3e24b9 128.5px,#4026c7 139.5px,#3f25c0 146.5px)"></i><i style="background:linear-gradient(90deg,#545eff 0.5px,#5256ff 6.5px,#503fff 13.5px,#5143ff 17.5px,#535cff 25.5px,#535dff 31.5px,#524dff 37.5px,#4a31fa 45.5px,#472df2 47.5px,#4228d4 52.5px,#4228cf 55.5px,#4228d5 58.5px,#462cee 63.5px,#4c35fc 66.5px,#5253ff 70.5px,#527fff 75.5px,#5291ff 79.5px,#5296ff 85.5px,#5291ff 90.5px,#527fff 94.5px,#5142ff 101.5px,#472df5 105.5px,#4228d4 111.5px,#3f25c0 120.5px,#3f25ba 130.5px,#4026c5 140.5px,#3f25be 146.5px)"></i><i style="background:linear-gradient(90deg,#5463ff 0.5px,#535aff 6.5px,#5041ff 13.5px,#5041ff 16.5px,#535cff 26.5px,#535cff 31.5px,#5149ff 38.5px,#4a31fa 45.5px,#452bed 48.5px,#4228d2 53.5px,#4228d3 57.5px,#462cef 63.5px,#4a31fa 65.5px,#514cff 69.5px,#5472ff 73.5px,#5289ff 76.5px,#5297ff 80.5px,#5299fe 88.5px,#528eff 92.5px,#537bff 95.5px,#5255ff 99.5px,#4d36fc 103.5px,#482ef7 105.5px,#4228d6 111.5px,#4026c2 119.5px,#3e24b9 129.5px,#4026c3 141.5px,#3f25bd 146.5px)"></i><i style="background:linear-gradient(90deg,#5567ff 0.5px,#5461ff 5.5px,#5041ff 14.5px,#5145ff 18.5px,#535aff 26.5px,#535aff 31.5px,#5144ff 39.5px,#482ff8 46.5px,#4228d4 53.5px,#4228d2 56.5px,#452beb 62.5px,#482ef8 64.5px,#5145ff 68.5px,#5475ff 73.5px,#528cff 76.5px,#529afc 80.5px,#539bfa 88.5px,#5291ff 92.5px,#537eff 95.5px,#524eff 100.5px,#4d37fc 103.5px,#482ef8 105.5px,#4228d3 112.5px,#3f25bf 121.5px,#3f25ba 131.5px,#4026c2 140.5px,#3f25bd 146.5px)"></i><i style="background:linear-gradient(90deg,#556cff 0.5px,#5463ff 6.5px,#5143ff 14.5px,#5144ff 18.5px,#5359ff 27.5px,#5254ff 33.5px,#4d36fc 43.5px,#472df5 47.5px,#4228d5 54.5px,#4228d6 57.5px,#472df2 63.5px,#4e38fd 66.5px,#5359ff 70.5px,#5288ff 75.5px,#5298ff 78.5px,#539ef6 82.5px,#539cf9 89.5px,#5294ff 92.5px,#5377ff 96.5px,#503eff 102.5px,#492ff8 105.5px,#4228d0 113.5px,#3f25bd 123.5px,#3f25ba 131.5px,#3f25c0 141.5px,#3f25bc 146.5px)"></i><i style="background:linear-gradient(90deg,#5471ff 0.5px,#556aff 5.5px,#5251ff 11.5px,#5142ff 15.5px,#5144ff 19.5px,#5256ff 27.5px,#5251ff 33.5px,#4d37fc 43.5px,#472df4 48.5px,#4228d7 55.5px,#4329db 58.5px,#492ff9 64.5px,#503fff 67.5px,#5379ff 73.5px,#5291ff 76.5px,#539ef6 80.5px,#53a0f4 87.5px,#5296ff 92.5px,#5283ff 95.5px,#5147ff 101.5px,#4b33fb 104.5px,#452be9 108.5px,#4127ce 114.5px,#3f25bc 124.5px,#3f25ba 132.5px,#3f25bf 141.5px,#3f25bb 146.5px)"></i><i style="background:linear-gradient(90deg,#5376ff 0.5px,#546fff 5.5px,#5254ff 11.5px,#5143ff 15.5px,#5142ff 19.5px,#5252ff 27.5px,#524eff 33.5px,#4c35fc 44.5px,#472df5 49.5px,#4329db 55.5px,#4329da 57.5px,#4930f9 64.5px,#5040ff 67.5px,#5470ff 72.5px,#528cff 75.5px,#5298ff 77.5px,#54a1f3 81.5px,#54a1f3 88.5px,#5298ff 92.5px,#537bff 96.5px,#5251ff 100.5px,#4b34fb 104.5px,#452bea 108.5px,#4228cf 114.5px,#3f25bf 122.5px,#3e24b9 131.5px,#3f25bd 142.5px,#3f25ba 146.5px)"></i><i style="background:linear-gradient(90deg,#537bff 0.5px,#5474ff 5.5px,#5358ff 11.5px,#5041ff 16.5px,#5142ff 20.5px,#524fff 28.5px,#5147ff 35.5px,#4a31fa 48.5px,#462ced 52.5px,#4329dd 56.5px,#442ae2 59.5px,#4930f9 64.5px,#5040ff 67.5px,#5471ff 72.5px,#5294ff 76.5px,#54a0f3 80.5px,#54a2f1 88.5px,#5299fe 92.5px,#537cff 96.5px,#5252ff 100.5px,#4f3afe 103.5px,#482ef6 106.5px,#4228cf 114.5px,#3f25be 123.5px,#3e24b9 132.5px,#3f25bc 143.5px,#3f25ba 146.5px)"></i><i style="background:linear-gradient(90deg,#5280ff 0.5px,#5379ff 5.5px,#535bff 11.5px,#5041ff 16.5px,#503fff 20.5px,#514bff 28.5px,#5143ff 36.5px,#4a32fa 49.5px,#482ef8 51.5px,#442ae1 56.5px,#442ae4 59.5px,#4a31f9 64.5px,#5041ff 67.5px,#5472ff 72.5px,#5295ff 76.5px,#54a1f2 80.5px,#54a3ef 87.5px,#539df8 91.5px,#5295ff 93.5px,#5472ff 97.5px,#5041ff 102.5px,#482ef7 106.5px,#4228d0 114.5px,#3f25be 123.5px,#3e24b9 133.5px,#3f25bb 143.5px,#3e24b9 146.5px)"></i><i style="background:linear-gradient(90deg,#5284ff 0.5px,#537dff 5.5px,#545fff 11.5px,#5142ff 16.5px,#503dff 20.5px,#5147ff 29.5px,#4e39fe 47.5px,#482ff8 52.5px,#442ae3 57.5px,#452be9 60.5px,#4a31fa 64.5px,#5041ff 67.5px,#5473ff 72.5px,#528eff 75.5px,#529afc 77.5px,#54a3ef 81.5px,#54a2f1 89.5px,#5295ff 93.5px,#537dff 96.5px,#5253ff 100.5px,#4f3afe 103.5px,#482ef8 106.5px,#4228d0 114.5px,#3f25be 123.5px,#3e24b9 134.5px,#3e24b9 146.5px)"></i><i style="background:linear-gradient(90deg,#5289ff 0.5px,#5282ff 5.5px,#5569ff 10.5px,#503fff 17.5px,#503bff 21.5px,#5142ff 30.5px,#503fff 46.5px,#482ff8 53.5px,#442ae6 57.5px,#452bea 60.5px,#4a31fa 64.5px,#514aff 68.5px,#5473ff 72.5px,#5296ff 76.5px,#54a2f1 80.5px,#54a4ed 86.5px,#539ef7 91.5px,#5296ff 93.5px,#5473ff 97.5px,#514aff 101.5px,#4a31fa 105.5px,#452be8 109.5px,#4228d1 114.5px,#3f25bf 122.5px,#3e24b9 134.5px,#3e24b8 146.5px)"></i><i style="background:linear-gradient(90deg,#528dff 0.5px,#5287ff 5.5px,#5474ff 9.5px,#5040ff 17.5px,#4e39fd 21.5px,#503eff 33.5px,#5146ff 44.5px,#4d37fc 51.5px,#482ef8 54.5px,#452be9 57.5px,#452bea 60.5px,#4a32fa 64.5px,#5142ff 67.5px,#5473ff 72.5px,#5296ff 76.5px,#54a2f0 80.5px,#54a4ee 87.5px,#539ef7 91.5px,#5296ff 93.5px,#5473ff 97.5px,#5142ff 102.5px,#482ef8 106.5px,#4127ce 115.5px,#3f25bd 124.5px,#3e24b9 135.5px,#3e24b8 146.5px)"></i><i style="background:linear-gradient(90deg,#5293ff 0.5px,#528cff 5.5px,#5379ff 9.5px,#524eff 15.5px,#4f3afe 19.5px,#4e38fd 24.5px,#5040ff 36.5px,#514aff 43.5px,#5143ff 48.5px,#4930f9 54.5px,#452be9 58.5px,#462cef 61.5px,#4d36fc 65.5px,#514aff 68.5px,#5473ff 72.5px,#5296ff 76.5px,#54a2f0 80.5px,#54a4ee 88.5px,#529bfb 92.5px,#528fff 94.5px,#5568ff 98.5px,#5142ff 102.5px,#482ff8 106.5px,#4127ce 115.5px,#3f25bc 125.5px,#3e24b9 137.5px,#3e24b8 146.5px)"></i><i style="background:linear-gradient(90deg,#5298ff 0.5px,#5291ff 5.5px,#527eff 9.5px,#5358ff 14.5px,#503eff 18.5px,#4c34fb 22.5px,#503cff 34.5px,#524eff 42.5px,#514aff 47.5px,#4c35fc 53.5px,#472df3 56.5px,#452bea 59.5px,#4a32fa 64.5px,#5142ff 67.5px,#5474ff 72.5px,#5296ff 76.5px,#54a2f0 80.5px,#54a4ee 88.5px,#539bfb 92.5px,#528fff 94.5px,#5568ff 98.5px,#4f3bff 103.5px,#472df3 107.5px,#4127ce 115.5px,#3f25bc 125.5px,#3e24b8 138.5px,#3e24b7 146.5px)"></i><i style="background:linear-gradient(90deg,#539cfa 0.5px,#5296ff 5.5px,#5283ff 9.5px,#535cff 14.5px,#4f3afe 19.5px,#4a32fa 23.5px,#4e39fe 33.5px,#5252ff 42.5px,#524dff 47.5px,#4b33fb 54.5px,#452beb 59.5px,#4a32fa 64.5px,#5142ff 67.5px,#5474ff 72.5px,#5296ff 76.5px,#54a2f0 80.5px,#54a4ee 88.5px,#539bfb 92.5px,#528fff 94.5px,#5568ff 98.5px,#4f3bff 103.5px,#472df4 107.5px,#4127ce 115.5px,#3f25bc 125.5px,#3e24b8 141.5px,#3e24b7 146.5px)"></i><i style="background:linear-gradient(90deg,#53a0f4 0.5px,#539cf9 4.5px,#5293ff 7.5px,#5379ff 11.5px,#5250ff 16.5px,#4d37fd 20.5px,#4930f9 24.5px,#4d36fc 32.5px,#5255ff 42.5px,#5253ff 46.5px,#4e39fd 53.5px,#482ef8 56.5px,#452bec 59.5px,#4a32fa 64.5px,#5142ff 67.5px,#5473ff 72.5px,#5296ff 76.5px,#54a2f0 80.5px,#54a4ed 87.5px,#539ef6 91.5px,#5296ff 93.5px,#5473ff 97.5px,#5142ff 102.5px,#482ff8 106.5px,#4127ce 115.5px,#3f25bc 125.5px,#3e24b8 141.5px,#3e24b7 146.5px)"></i><i style="background:linear-gradient(90deg,#54a4ee 0.5px,#539ef6 5.5px,#5298ff 7.5px,#527fff 11.5px,#535bff 15.5px,#4e38fd 20.5px,#482ef7 24.5px,#4a31fa 30.5px,#5144ff 36.5px,#5357ff 42.5px,#5255ff 46.5px,#5143ff 51.5px,#492ff9 56.5px,#452bed 59.5px,#472df4 62.5px,#4f3bff 66.5px,#545eff 70.5px,#5287ff 74.5px,#529afc 77.5px,#54a3ef 81.5px,#54a3ef 88.5px,#529afc 92.5px,#5287ff 95.5px,#545eff 99.5px,#4f3bff 103.5px,#472df3 107.5px,#4127ce 115.5px,#3f25bc 125.5px,#3e24b7 143.5px,#3e24b7 146.5px)"></i><i style="background:linear-gradient(90deg,#55a8e9 0.5px,#54a2f0 5.5px,#5298ff 8.5px,#537aff 12.5px,#524eff 17.5px,#4c34fb 21.5px,#462cf1 25.5px,#472df4 28.5px,#503cff 34.5px,#5255ff 40.5px,#535aff 44.5px,#5251ff 48.5px,#4d37fc 54.5px,#472df5 57.5px,#462ced 59.5px,#472df4 62.5px,#4f3bfe 66.5px,#535dff 70.5px,#5287ff 74.5px,#529afc 77.5px,#54a3f0 81.5px,#54a3f0 88.5px,#529afc 92.5px,#5287ff 95.5px,#535dff 99.5px,#4f3bfe 103.5px,#472df3 107.5px,#4127ce 115.5px,#3f25bc 125.5px,#3e24b7 143.5px,#3e24b7 146.5px)"></i><i style="background:linear-gradient(90deg,#56ace5 0.5px,#55a6eb 5.5px,#5297ff 9.5px,#556cff 14.5px,#5041ff 19.5px,#482ef7 23.5px,#462ced 25.5px,#462cef 28.5px,#4a31fa 31.5px,#514aff 37.5px,#535aff 42.5px,#5358ff 46.5px,#5040ff 52.5px,#472df5 57.5px,#462ced 59.5px,#462cef 61.5px,#4c36fc 65.5px,#514aff 68.5px,#5472ff 72.5px,#528eff 75.5px,#5299fd 77.5px,#54a2f1 81.5px,#54a2f1 88.5px,#5299fd 92.5px,#5286ff 95.5px,#535dff 99.5px,#4f3bfe 103.5px,#472df3 107.5px,#4127ce 115.5px,#3f25bd 124.5px,#3e24b7 140.5px,#3e24b7 146.5px)"></i><i style="background:linear-gradient(90deg,#56b0e2 0.5px,#55a7ea 6.5px,#5294ff 10.5px,#5566ff 15.5px,#503cff 20.5px,#482ef7 23.5px,#452bea 25.5px,#452beb 28.5px,#4930f9 31.5px,#5145ff 36.5px,#535aff 42.5px,#5358ff 46.5px,#5040ff 52.5px,#472df5 57.5px,#462ced 59.5px,#472df3 62.5px,#4f3afe 66.5px,#535cff 70.5px,#5285ff 74.5px,#5298fe 77.5px,#54a1f2 81.5px,#54a1f2 88.5px,#5298fe 92.5px,#5285ff 95.5px,#535cff 99.5px,#4f3afe 103.5px,#482ef8 106.5px,#4228d1 114.5px,#3f25bf 122.5px,#3e24b7 138.5px,#3e24b6 146.5px)"></i><i style="background:linear-gradient(90deg,#57b4e0 0.5px,#56ade4 5.5px,#54a2f0 8.5px,#5298ff 10.5px,#5356ff 17.5px,#4d38fd 21.5px,#482ef8 23.5px,#452be9 25.5px,#442ae5 27.5px,#4b33fb 32.5px,#5255ff 40.5px,#535aff 44.5px,#5251ff 48.5px,#4d37fc 54.5px,#472df4 57.5px,#452bec 59.5px,#472df2 62.5px,#4a31fa 64.5px,#5148ff 68.5px,#5283ff 74.5px,#5297ff 77.5px,#53a0f4 81.5px,#53a0f4 88.5px,#5297ff 92.5px,#537aff 96.5px,#5040ff 102.5px,#482ef8 106.5px,#4228d0 114.5px,#3f25be 123.5px,#3e24b7 138.5px,#3e24b6 146.5px)"></i><i style="background:linear-gradient(90deg,#58b7dd 0.5px,#57b1e2 5.5px,#55a6ec 8.5px,#5294ff 11.5px,#5358ff 17.5px,#4e39fd 21.5px,#482ff8 23.5px,#442ae3 26.5px,#442ae6 28.5px,#482ff8 31.5px,#5148ff 37.5px,#5357ff 42.5px,#5255ff 46.5px,#5143ff 51.5px,#482ff8 56.5px,#452beb 59.5px,#472df1 62.5px,#4931f9 64.5px,#5040ff 67.5px,#546eff 72.5px,#528fff 76.5px,#539bfa 79.5px,#539ff5 85.5px,#539bfa 90.5px,#528fff 93.5px,#546eff 97.5px,#5040ff 102.5px,#4931f9 105.5px,#462cf1 107.5px,#4228d0 114.5px,#3f25be 123.5px,#3e24b7 137.5px,#3e24b6 146.5px)"></i><i style="background:linear-gradient(90deg,#58bbda 0.5px,#57b4df 5.5px,#55a8e8 8.5px,#5297ff 11.5px,#5251ff 18.5px,#4c34fb 22.5px,#492ff9 23.5px,#442ae2 26.5px,#442ae3 28.5px,#482ef7 31.5px,#5041ff 36.5px,#5255ff 42.5px,#5253ff 46.5px,#4e39fd 53.5px,#482ef8 56.5px,#452bec 58.5px,#452bec 61.5px,#4b34fb 65.5px,#524fff 69.5px,#5376ff 73.5px,#528dff 76.5px,#539bfb 80.5px,#539cf9 88.5px,#5292ff 92.5px,#527fff 95.5px,#5358ff 99.5px,#4e39fd 103.5px,#472df6 106.5px,#4228cf 114.5px,#3f25be 123.5px,#3e24b7 137.5px,#3e24b6 146.5px)"></i><i style="background:linear-gradient(90deg,#59bed7 0.5px,#58b8dd 5.5px,#55a6eb 9.5px,#529afc 11.5px,#535dff 17.5px,#4f3bfe 21.5px,#4930f9 23.5px,#442ae1 26.5px,#4329e0 28.5px,#4930f9 32.5px,#5147ff 38.5px,#5252ff 43.5px,#524dff 47.5px,#4b33fb 54.5px,#452beb 58.5px,#452beb 61.5px,#4b33fb 65.5px,#5145ff 68.5px,#5473ff 73.5px,#528aff 76.5px,#5298ff 80.5px,#529afc 87.5px,#5293ff 91.5px,#537cff 95.5px,#524dff 100.5px,#4e38fd 103.5px,#472df4 106.5px,#4228cf 114.5px,#3f25bf 122.5px,#3e24b7 135.5px,#3e24b6 146.5px)"></i><i style="background:linear-gradient(90deg,#5ac1d5 0.5px,#58badb 5.5px,#55a8e8 9.5px,#5294ff 12.5px,#545eff 17.5px,#503bff 21.5px,#472df3 24.5px,#4329e1 26.5px,#4329dc 27.5px,#442ae2 29.5px,#482ef8 32.5px,#5144ff 38.5px,#524eff 43.5px,#5147ff 48.5px,#4a32fa 54.5px,#472df2 56.5px,#442ae7 59.5px,#462cee 62.5px,#4b32fa 65.5px,#5143ff 68.5px,#5470ff 73.5px,#528bff 77.5px,#5297ff 82.5px,#5294ff 89.5px,#5286ff 93.5px,#5566ff 97.5px,#503cff 102.5px,#472df3 106.5px,#4228d1 113.5px,#3f25bd 123.5px,#3e24b6 142.5px,#3e24b6 146.5px)"></i><i style="background:linear-gradient(90deg,#5bc4d2 0.5px,#59bdd8 5.5px,#55abe6 9.5px,#5296ff 12.5px,#5460ff 17.5px,#503cff 21.5px,#472df3 24.5px,#4329da 27.5px,#4329df 29.5px,#4930f9 33.5px,#5143ff 39.5px,#514aff 44.5px,#503cff 50.5px,#472df5 55.5px,#442ae6 58.5px,#452be8 61.5px,#4a32fa 65.5px,#5142ff 68.5px,#5474ff 74.5px,#528bff 78.5px,#5293ff 84.5px,#528eff 90.5px,#537cff 94.5px,#5252ff 99.5px,#4c36fc 103.5px,#482ef8 105.5px,#4228d0 113.5px,#3f25bd 123.5px,#3e24b6 142.5px,#3e24b6 146.5px)"></i><i style="background:linear-gradient(90deg,#5bc7d0 0.5px,#5ac0d6 5.5px,#56ade5 9.5px,#53a0f4 11.5px,#5298fe 12.5px,#5357ff 18.5px,#4d36fc 22.5px,#472df4 24.5px,#4329d9 27.5px,#4329d7 28.5px,#482ef7 33.5px,#5041ff 40.5px,#5144ff 45.5px,#4b34fb 52.5px,#482ef8 54.5px,#442ae3 58.5px,#442ae7 61.5px,#4a31f9 65.5px,#5147ff 69.5px,#5470ff 74.5px,#5286ff 78.5px,#528dff 83.5px,#5289ff 90.5px,#5377ff 94.5px,#524fff 99.5px,#4c35fb 103.5px,#462cf0 106.5px,#4228d0 113.5px,#3f25be 122.5px,#3e24b6 140.5px,#3e24b6 146.5px)"></i><i style="background:linear-gradient(90deg,#5cc9ce 0.5px,#5ac2d4 5.5px,#56afe3 9.5px,#54a1f2 11.5px,#529afc 12.5px,#5357ff 18.5px,#4d37fc 22.5px,#472df4 24.5px,#4329d7 27.5px,#4228d4 28.5px,#442ae4 31.5px,#482ef8 34.5px,#503fff 42.5px,#4f3bfe 48.5px,#482ef8 53.5px,#4329df 58.5px,#442ae5 61.5px,#4b33fb 66.5px,#5254ff 71.5px,#5377ff 76.5px,#5285ff 80.5px,#5287ff 87.5px,#5280ff 91.5px,#556bff 95.5px,#4e38fd 102.5px,#472df4 105.5px,#4228d2 112.5px,#3f25c0 120.5px,#3e24b7 135.5px,#3e24b6 146.5px)"></i><i style="background:linear-gradient(90deg,#5ccbcb 0.5px,#5bc4d2 5.5px,#57b1e2 9.5px,#54a3f0 11.5px,#539bfb 12.5px,#5287ff 14.5px,#524eff 19.5px,#4a31fa 23.5px,#452be9 25.5px,#4228d6 27.5px,#4228d3 29.5px,#482ef8 35.5px,#4f3bfe 43.5px,#4b33fa 50.5px,#482ef8 52.5px,#4329de 57.5px,#4329dc 59.5px,#472df2 64.5px,#4a32fa 66.5px,#5149ff 70.5px,#5471ff 76.5px,#527fff 80.5px,#527fff 89.5px,#5471ff 93.5px,#503cff 101.5px,#482ff8 104.5px,#4228d4 111.5px,#3f25c0 120.5px,#3e24b7 134.5px,#3e24b6 146.5px)"></i><i style="background:linear-gradient(90deg,#5dccc9 0.5px,#5bc7d0 5.5px,#56abe6 10.5px,#5293ff 13.5px,#524eff 19.5px,#4d36fc 22.5px,#472df3 24.5px,#4228d4 27.5px,#4228d0 29.5px,#4329e0 32.5px,#482ef7 36.5px,#4d37fc 44.5px,#482ef7 51.5px,#4329da 57.5px,#4329dd 60.5px,#462cf0 64.5px,#4a31f9 66.5px,#5146ff 70.5px,#556aff 76.5px,#5377ff 80.5px,#5379ff 87.5px,#546fff 92.5px,#5253ff 97.5px,#4c35fb 102.5px,#482ef7 104.5px,#4228d7 110.5px,#4026c4 117.5px,#3e24b8 129.5px,#3e24b6 146.5px)"></i><i style="background:linear-gradient(90deg,#5dcec7 0.5px,#5cc9ce 5.5px,#56ade5 10.5px,#5294ff 13.5px,#524eff 19.5px,#4d36fc 22.5px,#472df2 24.5px,#4228d3 27.5px,#4127cd 29.5px,#4329d9 32.5px,#472df4 37.5px,#4a32fa 41.5px,#482ef8 49.5px,#4228d6 57.5px,#4329da 60.5px,#492ff9 66.5px,#5148ff 71.5px,#5464ff 76.5px,#5471ff 81.5px,#546fff 89.5px,#5460ff 94.5px,#4d37fd 101.5px,#472df4 104.5px,#4228d1 111.5px,#3f25be 121.5px,#3e24b6 139.5px,#3e24b6 146.5px)"></i><i style="background:linear-gradient(90deg,#5ecfc5 0.5px,#5ccacc 5.5px,#57b5df 9.5px,#55a6eb 11.5px,#5295ff 13.5px,#5358ff 18.5px,#4d36fc 22.5px,#472df2 24.5px,#4228d2 27.5px,#4127cb 29.5px,#4329d8 33.5px,#452bed 37.5px,#482ff8 42.5px,#482ef6 47.5px,#4329df 53.5px,#4228d2 57.5px,#4329dc 61.5px,#482ef8 66.5px,#514aff 72.5px,#5464ff 78.5px,#5569ff 86.5px,#5461ff 92.5px,#5144ff 98.5px,#482ef8 103.5px,#4228d3 110.5px,#3f25bf 120.5px,#3e24b6 138.5px,#3e24b6 146.5px)"></i><i style="background:linear-gradient(90deg,#5ed0c3 0.5px,#5ccccb 5.5px,#58b7de 9.5px,#55a7ea 11.5px,#5296ff 13.5px,#5358ff 18.5px,#4c35fc 22.5px,#462cf1 24.5px,#4228d1 27.5px,#4127c9 29.5px,#4228d2 33.5px,#452beb 39.5px,#472df1 43.5px,#462cee 47.5px,#442ae1 51.5px,#4228d1 55.5px,#4228d3 59.5px,#462cee 65.5px,#4b33fb 68.5px,#5145ff 72.5px,#535dff 78.5px,#5462ff 86.5px,#535aff 92.5px,#4d37fd 100.5px,#472df4 103.5px,#4228d5 109.5px,#4026c1 118.5px,#3e24b7 132.5px,#3e24b6 146.5px)"></i><i style="background:linear-gradient(90deg,#5ed2c1 0.5px,#5dcdc9 5.5px,#58b8dd 9.5px,#55a8e8 11.5px,#5296ff 13.5px,#524dff 19.5px,#503bff 21.5px,#492ff9 23.5px,#4228cf 27.5px,#4026c7 29.5px,#4127ce 33.5px,#442ae8 41.5px,#442ae6 47.5px,#4127ce 55.5px,#4228d1 59.5px,#442ae6 64.5px,#482ef8 67.5px,#5145ff 73.5px,#5357ff 79.5px,#5359ff 88.5px,#524dff 94.5px,#4e38fd 99.5px,#482ef8 102.5px,#4329d7 108.5px,#4026c3 116.5px,#3e24b8 129.5px,#3e24b6 146.5px)"></i><i style="background:linear-gradient(90deg,#5fd3c0 0.5px,#5dcec7 5.5px,#5ac0d6 8.5px,#55a9e8 11.5px,#5297ff 13.5px,#5357ff 18.5px,#4c34fb 22.5px,#492ff8 23.5px,#4127ce 27.5px,#4026c4 30.5px,#4329df 42.5px,#4329dc 47.5px,#4127cb 55.5px,#4228d2 60.5px,#492ff8 68.5px,#5144ff 74.5px,#5252ff 81.5px,#5250ff 90.5px,#5040ff 96.5px,#492ff8 101.5px,#4228d1 109.5px,#3f25bf 119.5px,#3e24b6 137.5px,#3e24b6 146.5px)"></i><i style="background:linear-gradient(90deg,#5fd4be 0.5px,#5ed1c3 4.5px,#5ac2d4 8.5px,#55a9e7 11.5px,#5297ff 13.5px,#5357ff 18.5px,#4f3afe 21.5px,#482ef8 23.5px,#4228d5 26.5px,#4026c4 29.5px,#4026c6 33.5px,#4228d7 43.5px,#4127c9 56.5px,#4228d7 62.5px,#4930f9 69.5px,#5041ff 75.5px,#514bff 81.5px,#5148ff 91.5px,#4e39fd 97.5px,#472df5 101.5px,#4228d3 108.5px,#3f25bf 118.5px,#3e24b7 134.5px,#3e24b6 146.5px)"></i><i style="background:linear-gradient(90deg,#60d5bb 0.5px,#5ed0c4 5.5px,#5ccacd 7.5px,#55aae7 11.5px,#5298ff 13.5px,#5356ff 18.5px,#4b33fb 22.5px,#482ef7 23.5px,#4228d4 26.5px,#4026c3 29.5px,#4026c3 33.5px,#4228d0 43.5px,#4026c7 55.5px,#4228d4 62.5px,#482ef7 69.5px,#5040ff 77.5px,#5145ff 85.5px,#5040ff 92.5px,#482ef7 100.5px,#4228d4 107.5px,#3f25c0 117.5px,#3e24b7 132.5px,#3e24b6 146.5px)"></i><i style="background:linear-gradient(90deg,#60d6b9 0.5px,#5fd3bf 4.5px,#5ccbcc 7.5px,#55abe6 11.5px,#5298ff 13.5px,#5255ff 18.5px,#4e39fd 21.5px,#472df6 23.5px,#4228d2 26.5px,#4026c2 29.5px,#4026c1 33.5px,#4127cb 44.5px,#4026c5 55.5px,#4228d5 63.5px,#4930f9 71.5px,#503eff 80.5px,#503cff 91.5px,#482ef7 99.5px,#4228d2 107.5px,#3f25bd 119.5px,#3e24b6 141.5px,#3e24b6 146.5px)"></i><i style="background:linear-gradient(90deg,#61d7b7 0.5px,#5fd4bd 4.5px,#5bc6d1 8.5px,#56abe6 11.5px,#5298ff 13.5px,#5254ff 18.5px,#4e38fd 21.5px,#472df4 23.5px,#4228d1 26.5px,#4026c1 29.5px,#3f25bf 33.5px,#4026c6 45.5px,#4026c5 56.5px,#4228d6 64.5px,#492ff8 72.5px,#4f3afe 82.5px,#4b34fb 94.5px,#472df6 98.5px,#4228d3 106.5px,#3f25bf 117.5px,#3e24b7 133.5px,#3e24b6 146.5px)"></i><i style="background:linear-gradient(90deg,#62d8b4 0.5px,#60d5bb 4.5px,#5bc7cf 8.5px,#56ace5 11.5px,#5298ff 13.5px,#5254ff 18.5px,#4d37fd 21.5px,#472df2 23.5px,#4228d0 26.5px,#3f25c0 29.5px,#3f25be 34.5px,#4026c3 47.5px,#4026c5 56.5px,#4329d7 65.5px,#482ef8 73.5px,#4c36fc 84.5px,#492ff9 95.5px,#442ae4 101.5px,#4127ce 107.5px,#3f25bc 119.5px,#3e24b6 143.5px,#3e24b6 146.5px)"></i><i style="background:linear-gradient(90deg,#62d9b2 0.5px,#60d6b9 4.5px,#5cc9ce 8.5px,#54a3f0 12.5px,#5299fe 13.5px,#545fff 17.5px,#503eff 20.5px,#4931f9 22.5px,#442ae5 24.5px,#4228cf 26.5px,#3f25c0 29.5px,#3f25bc 33.5px,#4026c1 51.5px,#4127cb 61.5px,#4329db 67.5px,#482ef7 75.5px,#4a32fa 88.5px,#472df4 95.5px,#4228cf 106.5px,#3f25bd 118.5px,#3e24b6 137.5px,#3e24b6 146.5px)"></i><i style="background:linear-gradient(90deg,#63dbaf 0.5px,#61d7b6 4.5px,#5ccacd 8.5px,#54a3ef 12.5px,#5299fe 13.5px,#545fff 17.5px,#503eff 20.5px,#4930f9 22.5px,#4127cd 26.5px,#3f25bd 30.5px,#4026c4 56.5px,#4228d5 66.5px,#472df3 76.5px,#492ff9 83.5px,#472df5 92.5px,#4329de 100.5px,#4127c9 108.5px,#3f25ba 121.5px,#3e24b6 146.5px)"></i><i style="background:linear-gradient(90deg,#64dcad 0.5px,#62d8b4 4.5px,#5ccbcb 8.5px,#54a4ee 12.5px,#5299fd 13.5px,#545eff 17.5px,#503dff 20.5px,#492ff9 22.5px,#4228d5 25.5px,#4026c2 28.5px,#3f25bc 32.5px,#4026c6 58.5px,#4329d7 68.5px,#462ced 76.5px,#472df4 85.5px,#452beb 94.5px,#4127cb 106.5px,#3e24b9 122.5px,#3e24b6 146.5px)"></i><i style="background:linear-gradient(90deg,#65dda9 0.5px,#62dab1 4.5px,#5dccca 8.5px,#54a4ed 12.5px,#529afd 13.5px,#545eff 17.5px,#503cff 20.5px,#482ff8 22.5px,#4228d4 25.5px,#4026c2 28.5px,#3f25bc 32.5px,#4127c8 60.5px,#4228d7 69.5px,#452bea 77.5px,#462cee 87.5px,#442ae4 95.5px,#4127cb 105.5px,#3f25ba 120.5px,#3e24b6 146.5px)"></i><i style="background:linear-gradient(90deg,#67dea4 0.5px,#63dbaf 4.5px,#5dcdc8 8.5px,#59bbda 10.5px,#54a5ec 12.5px,#529afc 13.5px,#545eff 17.5px,#503cff 20.5px,#482ef8 22.5px,#4228d2 25.5px,#4026c1 28.5px,#3f25bd 33.5px,#4127c9 62.5px,#442ae8 80.5px,#442ae7 90.5px,#4026c4 109.5px,#3e24b8 124.5px,#3e24b6 146.5px)"></i><i style="background:linear-gradient(90deg,#69e09f 0.5px,#66dea6 3.5px,#5fd3bf 7.5px,#5bc8cf 9.5px,#55a6eb 12.5px,#529bfb 13.5px,#537cff 15.5px,#5250ff 18.5px,#503bff 20.5px,#482ef8 22.5px,#4228d1 25.5px,#3f25be 29.5px,#4127cb 64.5px,#442ae5 82.5px,#4329e1 91.5px,#4026c3 109.5px,#3e24b7 126.5px,#3e24b6 146.5px)"></i><i style="background:linear-gradient(90deg,#6be299 0.5px,#68e0a0 3.5px,#5ed0c4 8.5px,#59bfd7 10.5px,#55a7ea 12.5px,#539bfa 13.5px,#537cff 15.5px,#5250ff 18.5px,#4b33fb 21.5px,#482ef6 22.5px,#4228d0 25.5px,#4026c1 28.5px,#3f25bf 34.5px,#4127ce 67.5px,#4329e0 83.5px,#4329d9 93.5px,#3f25be 113.5px,#3e24b6 133.5px,#3e24b6 146.5px)"></i><i style="background:linear-gradient(90deg,#6de393 0.5px,#6be19a 3.5px,#60d6b9 7.5px,#5ccbcb 9.5px,#55a8e8 12.5px,#539cf9 13.5px,#528dff 14.5px,#535dff 17.5px,#4f3afe 20.5px,#472df5 22.5px,#4228cf 25.5px,#3f25c0 28.5px,#4026c3 41.5px,#4228d0 70.5px,#4329dc 85.5px,#4228d0 97.5px,#3f25ba 117.5px,#3e24b6 146.5px)"></i><i style="background:linear-gradient(90deg,#72e389 0.5px,#6be19a 4.5px,#5fd3c0 8.5px,#5ac2d4 10.5px,#55a9e7 12.5px,#539df8 13.5px,#528eff 14.5px,#535cff 17.5px,#4f39fe 20.5px,#472df3 22.5px,#4127ce 25.5px,#3f25c0 28.5px,#4228d2 75.5px,#4228d7 87.5px,#3f25ba 117.5px,#3e24b6 146.5px)"></i><i style="background:linear-gradient(90deg,#77e37e 0.5px,#75e384 2.5px,#6ae19d 5.5px,#5dcec7 9.5px,#55aae7 12.5px,#539df8 13.5px,#528eff 14.5px,#535cff 17.5px,#5142ff 19.5px,#4a32fa 21.5px,#442ae5 23.5px,#4228d6 24.5px,#4026c7 26.5px,#3f25c0 29.5px,#4127cd 60.5px,#4228d3 88.5px,#3e24b9 118.5px,#3e24b6 146.5px)"></i><i style="background:linear-gradient(90deg,#7ce273 0.5px,#7ae279 2.5px,#6ce297 5.5px,#5ecfc5 9.5px,#58b9dc 11.5px,#56abe6 12.5px,#539ef7 13.5px,#528eff 14.5px,#535bff 17.5px,#4e38fd 20.5px,#462cf0 22.5px,#4228d5 24.5px,#4026c6 26.5px,#3f25c0 29.5px,#4228cf 57.5px,#4228cf 90.5px,#3e24b9 118.5px,#3e24b6 146.5px)"></i><i style="background:linear-gradient(90deg,#82e169 0.5px,#7fe26f 2.5px,#75e382 4.5px,#69e09e 6.5px,#5ed0c4 9.5px,#5bc8cf 10.5px,#56ace5 12.5px,#539ef6 13.5px,#528eff 14.5px,#535aff 17.5px,#4d37fd 20.5px,#4930f9 21.5px,#4228d3 24.5px,#4026c2 27.5px,#4127c9 41.5px,#4228d2 60.5px,#4127cc 92.5px,#3e24b9 117.5px,#3e24b6 146.5px)"></i><i style="background:linear-gradient(90deg,#87e062 0.5px,#83e166 2.5px,#79e27a 4.5px,#6be19a 6.5px,#5ed1c2 9.5px,#5cc9ce 10.5px,#56ace5 12.5px,#539ff6 13.5px,#528fff 14.5px,#535aff 17.5px,#5040ff 19.5px,#4930f9 21.5px,#4228d2 24.5px,#4026c5 26.5px,#4026c2 30.5px,#4228d6 57.5px,#4228d0 78.5px,#4026c2 102.5px,#3e24b7 124.5px,#3e24b6 146.5px)"></i><i style="background:linear-gradient(90deg,#8dde5d 0.5px,#89df60 2.5px,#83e166 3.5px,#75e384 5.5px,#66dea6 7.5px,#5ccacd 10.5px,#56ade4 12.5px,#539ff5 13.5px,#528fff 14.5px,#5359ff 17.5px,#503fff 19.5px,#492ff9 21.5px,#4228d1 24.5px,#4026c5 26.5px,#4026c3 30.5px,#4329dc 58.5px,#4228d3 76.5px,#3e24b8 118.5px,#3e24b6 146.5px)"></i><i style="background:linear-gradient(90deg,#92dc59 0.5px,#8dde5d 2.5px,#80e26c 4.5px,#6de393 6.5px,#5ccbcc 10.5px,#56ade4 12.5px,#539ff5 13.5px,#528fff 14.5px,#5359ff 17.5px,#503fff 19.5px,#482ff8 21.5px,#4228d0 24.5px,#4026c5 26.5px,#4026c6 32.5px,#4329da 49.5px,#442ae2 59.5px,#4329db 73.5px,#4127ca 87.5px,#3e24b8 118.5px,#3e24b6 146.5px)"></i><i style="background:linear-gradient(90deg,#96db57 0.5px,#91dc5a 2.5px,#82e168 4.5px,#6ee490 6.5px,#5fd3bf 9.5px,#5ccbcb 10.5px,#56aee4 12.5px,#539ff5 13.5px,#528fff 14.5px,#5358ff 17.5px,#503eff 19.5px,#482ef8 21.5px,#4228d0 24.5px,#4026c5 26.5px,#4127c9 34.5px,#4329da 46.5px,#442ae7 55.5px,#442ae5 70.5px,#4127cb 86.5px,#3e24b8 116.5px,#3e24b6 146.5px)"></i><i style="background:linear-gradient(90deg,#97da55 0.5px,#93dc59 2.5px,#83e166 4.5px,#6fe48f 6.5px,#63dab1 8.5px,#5ccbcb 10.5px,#56aee4 12.5px,#539ff5 13.5px,#528fff 14.5px,#5358ff 17.5px,#503eff 19.5px,#482ef8 21.5px,#4228d0 24.5px,#4026c6 26.5px,#4127cb 34.5px,#4329d8 43.5px,#452bea 52.5px,#462cee 64.5px,#442ae4 75.5px,#4127cb 86.5px,#3e24b9 113.5px,#3e24b6 146.5px)"></i><i style="background:linear-gradient(90deg,#97da55 0.5px,#93dc59 2.5px,#83e166 4.5px,#6fe48f 6.5px,#63dab1 8.5px,#5ccbcb 10.5px,#56aee4 12.5px,#539ff5 13.5px,#528fff 14.5px,#5358ff 17.5px,#503eff 19.5px,#482ef8 21.5px,#4228d0 24.5px,#4026c6 26.5px,#4228d3 39.5px,#462cf0 52.5px,#472df5 63.5px,#452bec 74.5px,#4329dc 80.5px,#4127cc 86.5px,#3f25bb 107.5px,#3e24b6 146.5px)"></i><i style="background:linear-gradient(90deg,#95db57 0.5px,#91dc5a 2.5px,#82e169 4.5px,#79e27a 5.5px,#6ee491 6.5px,#5fd3bf 9.5px,#5ccbcb 10.5px,#56aee4 12.5px,#539ff5 13.5px,#528eff 14.5px,#5358ff 17.5px,#503eff 19.5px,#482ef8 21.5px,#4228d0 24.5px,#4026c7 26.5px,#4228d2 37.5px,#482ef7 52.5px,#482ef7 71.5px,#442ae6 79.5px,#4228d0 85.5px,#4026c3 95.5px,#3e24b7 119.5px,#3e24b6 146.5px)"></i><i style="background:linear-gradient(90deg,#92dc5a 0.5px,#87e062 3.5px,#7fe26d 4.5px,#6de393 6.5px,#5fd3c0 9.5px,#59bcd9 11.5px,#56ade4 12.5px,#539ff5 13.5px,#528eff 14.5px,#5358ff 17.5px,#503eff 19.5px,#482ff8 21.5px,#4228d1 24.5px,#4127c8 26.5px,#4228d4 37.5px,#482ef8 49.5px,#4b33fa 65.5px,#482ef7 75.5px,#4329df 82.5px,#4127cd 87.5px,#3f25bc 104.5px,#3e24b6 137.5px,#3e24b6 146.5px)"></i><i style="background:linear-gradient(90deg,#8cde5e 0.5px,#88e061 2.5px,#82e167 3.5px,#74e385 5.5px,#66dea7 7.5px,#5ccacd 10.5px,#56ace5 12.5px,#539ef6 13.5px,#528eff 14.5px,#5358ff 17.5px,#4d36fc 20.5px,#482ff8 21.5px,#4228d1 24.5px,#4127c9 26.5px,#4228d3 35.5px,#492ff9 48.5px,#4d37fc 60.5px,#4931f9 75.5px,#472df4 78.5px,#4228cf 87.5px,#4026c1 97.5px,#3e24b7 121.5px,#3e24b6 146.5px)"></i><i style="background:linear-gradient(90deg,#86e063 0.5px,#82e168 2.5px,#78e37c 4.5px,#6ae19b 6.5px,#5ed1c3 9.5px,#58badb 11.5px,#56ace6 12.5px,#539ef7 13.5px,#528dff 14.5px,#5359ff 17.5px,#503fff 19.5px,#492ff9 21.5px,#4228d3 24.5px,#4127ca 26.5px,#4228d5 35.5px,#492ff9 46.5px,#4f3afe 57.5px,#4d36fc 73.5px,#482ef7 79.5px,#4228d1 87.5px,#4026c2 97.5px,#3e24b7 119.5px,#3e24b6 146.5px)"></i><i style="background:linear-gradient(90deg,#80e26c 0.5px,#7de272 2.5px,#74e385 4.5px,#68e0a0 6.5px,#5ed0c5 9.5px,#55abe6 12.5px,#539df8 13.5px,#528dff 14.5px,#5359ff 17.5px,#5040ff 19.5px,#4930f9 21.5px,#4228d4 24.5px,#4127cb 26.5px,#4228d5 34.5px,#4930f9 45.5px,#503eff 57.5px,#503cff 71.5px,#482ef8 80.5px,#4228d1 88.5px,#4026c2 97.5px,#3e24b7 120.5px,#3e24b6 146.5px)"></i><i style="background:linear-gradient(90deg,#7be277 0.5px,#78e37d 2.5px,#6be199 5.5px,#5dcec7 9.5px,#55a9e7 12.5px,#539cf9 13.5px,#528cff 14.5px,#5359ff 17.5px,#4d37fd 20.5px,#4930f9 21.5px,#4228d5 24.5px,#4127cc 26.5px,#4329d8 34.5px,#4930f9 44.5px,#5040ff 53.5px,#5144ff 65.5px,#4e39fd 76.5px,#472df4 82.5px,#4228d0 89.5px,#4026c1 99.5px,#3e24b7 121.5px,#3e24b6 146.5px)"></i><i style="background:linear-gradient(90deg,#75e383 0.5px,#72e388 2.5px,#69e0a0 5.5px,#5dcdc9 9.5px,#55a8e8 12.5px,#539cfa 13.5px,#537aff 15.5px,#535aff 17.5px,#5041ff 19.5px,#4a31f9 21.5px,#4329d7 24.5px,#4127ce 26.5px,#4228d5 32.5px,#462cef 40.5px,#4930f9 43.5px,#5142ff 51.5px,#5149ff 61.5px,#5144ff 72.5px,#4b33fb 80.5px,#472df3 83.5px,#4228d1 89.5px,#4026c2 99.5px,#3e24b7 121.5px,#3e24b6 146.5px)"></i><i style="background:linear-gradient(90deg,#6fe48e 0.5px,#6ce297 3.5px,#61d7b8 7.5px,#5ccbcb 9.5px,#55a7e9 12.5px,#539bfb 13.5px,#537aff 15.5px,#524dff 18.5px,#4e38fd 20.5px,#4a31fa 21.5px,#4228d1 25.5px,#4228d1 29.5px,#442ae7 37.5px,#482ef8 41.5px,#5144ff 50.5px,#524fff 59.5px,#514aff 71.5px,#4c36fc 80.5px,#482ef8 83.5px,#4228d0 90.5px,#3f25bf 102.5px,#3e24b7 124.5px,#3e24b6 146.5px)"></i><i style="background:linear-gradient(90deg,#6ce296 0.5px,#6ae09d 3.5px,#60d5bb 7.5px,#5ccacd 9.5px,#55a6eb 12.5px,#529afc 13.5px,#535aff 17.5px,#4e39fd 20.5px,#472df3 22.5px,#4329db 24.5px,#4228d0 26.5px,#4329da 32.5px,#472df2 39.5px,#4a32fa 42.5px,#5149ff 50.5px,#5254ff 58.5px,#5250ff 71.5px,#4e39fd 80.5px,#472df6 84.5px,#4228d2 90.5px,#4026c3 99.5px,#3e24b8 118.5px,#3e24b6 146.5px)"></i><i style="background:linear-gradient(90deg,#6ae19c 0.5px,#67dfa3 3.5px,#5dcfc6 8.5px,#59bdd9 10.5px,#54a5ed 12.5px,#5299fd 13.5px,#535bff 17.5px,#4e39fe 20.5px,#472df4 22.5px,#4228d5 25.5px,#4228d1 27.5px,#452bec 37.5px,#4a31fa 41.5px,#514aff 49.5px,#5358ff 56.5px,#5358ff 69.5px,#5146ff 77.5px,#4a32fa 83.5px,#472df3 85.5px,#4228d4 90.5px,#4026c5 98.5px,#3e24b9 114.5px,#3e24b6 146.5px)"></i><i style="background:linear-gradient(90deg,#68dfa2 0.5px,#65dda9 3.5px,#5ed2c1 7.5px,#5bc6d1 9.5px,#54a4ee 12.5px,#5299fe 13.5px,#535bff 17.5px,#4f3afe 20.5px,#472df6 22.5px,#4329de 24.5px,#4228d3 26.5px,#4329d9 30.5px,#472df3 38.5px,#4b33fb 41.5px,#524fff 49.5px,#545fff 57.5px,#535dff 69.5px,#524eff 76.5px,#4b34fb 83.5px,#482ef6 85.5px,#4228d2 91.5px,#3f25c0 103.5px,#3e24b7 123.5px,#3e24b6 146.5px)"></i><i style="background:linear-gradient(90deg,#66dda7 0.5px,#63dab0 4.5px,#5dccca 8.5px,#56aee3 11.5px,#5298ff 13.5px,#535bff 17.5px,#4f3afe 20.5px,#482ef7 22.5px,#4329d8 25.5px,#4228d6 28.5px,#472df1 37.5px,#4a32fa 40.5px,#5148ff 46.5px,#5461ff 54.5px,#5566ff 64.5px,#545eff 72.5px,#5041ff 80.5px,#482ff8 85.5px,#4228d4 91.5px,#4026c5 99.5px,#3e24b9 115.5px,#3e24b6 146.5px)"></i><i style="background:linear-gradient(90deg,#64dcab 0.5px,#62d9b3 4.5px,#5ccbcb 8.5px,#54a3ef 12.5px,#5298ff 13.5px,#535cff 17.5px,#4f3bff 20.5px,#482ef8 22.5px,#4329da 25.5px,#4228d6 27.5px,#472df4 37.5px,#503eff 43.5px,#5464ff 53.5px,#556cff 61.5px,#5567ff 70.5px,#5252ff 77.5px,#4d37fd 83.5px,#472df6 86.5px,#4228d6 91.5px,#4127c8 97.5px,#3e24b9 114.5px,#3e24b6 146.5px)"></i><i style="background:linear-gradient(90deg,#64dcad 0.5px,#62d8b4 4.5px,#5ccbcc 8.5px,#56aee4 11.5px,#5298ff 13.5px,#535dff 17.5px,#503cff 20.5px,#482ff8 22.5px,#4329dc 25.5px,#4329d8 27.5px,#472df2 36.5px,#4a32fa 39.5px,#514aff 45.5px,#5566ff 52.5px,#5471ff 58.5px,#546eff 69.5px,#545eff 75.5px,#4c35fc 84.5px,#482ef8 86.5px,#4228d3 92.5px,#3f25bf 105.5px,#3e24b7 127.5px,#3e24b6 146.5px)"></i><i style="background:linear-gradient(90deg,#63dbae 0.5px,#61d8b6 4.5px,#5ccacd 8.5px,#54a3ef 12.5px,#5298ff 13.5px,#545eff 17.5px,#503dff 20.5px,#4930f9 22.5px,#4329de 25.5px,#4329da 27.5px,#482ef8 37.5px,#5142ff 43.5px,#5567ff 51.5px,#5474ff 56.5px,#5376ff 67.5px,#556aff 73.5px,#5145ff 81.5px,#492ff9 86.5px,#4228d5 92.5px,#4026c4 101.5px,#3e24b8 119.5px,#3e24b6 146.5px)"></i><i style="background:linear-gradient(90deg,#63dab0 0.5px,#61d7b7 4.5px,#5ccacd 8.5px,#54a3ef 12.5px,#5299fe 13.5px,#545fff 17.5px,#503eff 20.5px,#4930f9 22.5px,#4329e0 25.5px,#4329dc 27.5px,#492ff9 37.5px,#5040ff 42.5px,#5470ff 52.5px,#537cff 58.5px,#537aff 68.5px,#556bff 74.5px,#4e38fd 84.5px,#472df6 87.5px,#4228d7 92.5px,#4026c7 99.5px,#3e24b9 116.5px,#3e24b6 146.5px)"></i><i style="background:linear-gradient(90deg,#63dab1 0.5px,#61d7b8 4.5px,#5cc9ce 8.5px,#56ade4 11.5px,#5299fe 13.5px,#5254ff 18.5px,#4d37fd 21.5px,#472df3 23.5px,#442ae2 25.5px,#4329de 27.5px,#4930f9 37.5px,#5147ff 43.5px,#5474ff 52.5px,#5281ff 58.5px,#5280ff 68.5px,#546fff 74.5px,#4f3afe 84.5px,#482ef8 87.5px,#4329d8 92.5px,#4127c8 99.5px,#3e24b9 116.5px,#3e24b6 146.5px)"></i><i style="background:linear-gradient(90deg,#62d9b3 0.5px,#60d6ba 4.5px,#5cc9ce 8.5px,#56ade4 11.5px,#5299fd 13.5px,#5255ff 18.5px,#4e38fd 21.5px,#472df5 23.5px,#4329e0 26.5px,#442ae7 30.5px,#4a31fa 37.5px,#5143ff 42.5px,#5474ff 51.5px,#5283ff 56.5px,#5286ff 66.5px,#537bff 72.5px,#545eff 78.5px,#4d36fc 85.5px,#482ff8 87.5px,#4228d6 93.5px,#4026c3 103.5px,#3e24b8 121.5px,#3e24b6 146.5px)"></i><i style="background:linear-gradient(90deg,#62d8b4 0.5px,#60d5bb 4.5px,#5cc8cf 8.5px,#54a4ee 12.5px,#529afc 13.5px,#5356ff 18.5px,#4e39fe 21.5px,#482ef8 23.5px,#442ae7 25.5px,#442ae1 27.5px,#4930f9 36.5px,#5040ff 41.5px,#5473ff 50.5px,#5285ff 55.5px,#528bff 63.5px,#5287ff 69.5px,#537cff 73.5px,#535bff 79.5px,#4d37fd 85.5px,#472df4 88.5px,#4329db 92.5px,#4127cd 97.5px,#3f25bc 111.5px,#3e24b6 139.5px,#3e24b6 146.5px)"></i><i style="background:linear-gradient(90deg,#61d8b6 0.5px,#60d5bc 4.5px,#5bc7cf 8.5px,#54a4ee 12.5px,#529afc 13.5px,#5357ff 18.5px,#4f3afe 21.5px,#482ff8 23.5px,#452be8 25.5px,#442ae3 27.5px,#4930f9 36.5px,#5041ff 41.5px,#5471ff 49.5px,#5286ff 54.5px,#5290ff 62.5px,#528bff 69.5px,#5280ff 73.5px,#5356ff 80.5px,#4e38fd 85.5px,#472df5 88.5px,#4329d8 93.5px,#4127c8 100.5px,#3f25ba 115.5px,#3e24b6 146.5px)"></i><i style="background:linear-gradient(90deg,#61d7b7 0.5px,#5fd4bd 4.5px,#5bc7d0 8.5px,#54a4ee 12.5px,#529bfb 13.5px,#5281ff 15.5px,#524eff 19.5px,#503bff 21.5px,#4930f9 23.5px,#442ae6 26.5px,#452beb 30.5px,#4a31fa 36.5px,#5142ff 41.5px,#5473ff 49.5px,#5286ff 53.5px,#5292ff 59.5px,#5293ff 67.5px,#5283ff 73.5px,#5358ff 80.5px,#4e39fe 85.5px,#482ef7 88.5px,#4329d9 93.5px,#4026c7 101.5px,#3e24b9 117.5px,#3e24b6 146.5px)"></i><i style="background:linear-gradient(90deg,#61d7b8 0.5px,#5fd4be 4.5px,#5bc7d0 8.5px,#54a4ed 12.5px,#539bfb 13.5px,#5282ff 15.5px,#535aff 18.5px,#503cff 21.5px,#472df3 24.5px,#442ae8 26.5px,#452be9 29.5px,#4930f9 35.5px,#503eff 40.5px,#5470ff 48.5px,#5289ff 53.5px,#5297ff 60.5px,#5297ff 67.5px,#5287ff 73.5px,#535aff 80.5px,#4c36fc 86.5px,#482ef8 88.5px,#4329da 93.5px,#4127c8 101.5px,#3f25ba 115.5px,#3e24b6 146.5px)"></i><i style="background:linear-gradient(90deg,#60d6b9 0.5px,#5fd3bf 4.5px,#5ccccb 7.5px,#56aee4 11.5px,#539bfa 13.5px,#5283ff 15.5px,#535bff 18.5px,#503eff 21.5px,#472df5 24.5px,#452be9 26.5px,#462ced 30.5px,#4b32fa 36.5px,#5145ff 41.5px,#5378ff 49.5px,#528fff 54.5px,#539bfb 60.5px,#539cf9 66.5px,#5292ff 71.5px,#5379ff 76.5px,#524eff 82.5px,#4d36fc 86.5px,#482ef8 88.5px,#4329d7 94.5px,#4026c2 105.5px,#3e24b8 122.5px,#3e24b6 146.5px)"></i><i style="background:linear-gradient(90deg,#60d6ba 0.5px,#5fd3c0 4.5px,#5bc6d1 8.5px,#54a5ed 12.5px,#539cf9 13.5px,#5291ff 14.5px,#535dff 18.5px,#503fff 21.5px,#482ef7 24.5px,#452bea 26.5px,#462cee 30.5px,#4a31f9 35.5px,#5040ff 40.5px,#5473ff 48.5px,#528eff 53.5px,#529afd 57.5px,#54a0f3 63.5px,#539ef7 68.5px,#5292ff 72.5px,#5474ff 77.5px,#503bff 85.5px,#482ff8 88.5px,#4329d8 94.5px,#4026c4 104.5px,#3e24b8 121.5px,#3e24b6 146.5px)"></i><i style="background:linear-gradient(90deg,#60d5bb 0.5px,#5ed1c3 5.5px,#5bc5d1 8.5px,#54a5ec 12.5px,#539cf9 13.5px,#5291ff 14.5px,#545eff 18.5px,#5040ff 21.5px,#482ef8 24.5px,#452bec 26.5px,#452bec 29.5px,#4930f9 34.5px,#503cff 39.5px,#5460ff 45.5px,#5287ff 51.5px,#529afc 56.5px,#54a4ee 62.5px,#54a3ef 67.5px,#5296ff 72.5px,#5376ff 77.5px,#5250ff 82.5px,#4d37fd 86.5px,#492ff9 88.5px,#4329d9 94.5px,#4026c7 102.5px,#3e24b9 118.5px,#3e24b6 146.5px)"></i><i style="background:linear-gradient(90deg,#60d5bc 0.5px,#5ed0c4 5.5px,#5bc5d1 8.5px,#54a5ec 12.5px,#539cf9 13.5px,#5292ff 14.5px,#545fff 18.5px,#4e39fe 22.5px,#492ff9 24.5px,#462ced 26.5px,#462ced 29.5px,#4a32fa 35.5px,#503dff 39.5px,#5461ff 45.5px,#528eff 52.5px,#529afc 55.5px,#55a7e9 61.5px,#55a8e9 67.5px,#5299fd 72.5px,#5379ff 77.5px,#5251ff 82.5px,#4d38fd 86.5px,#472df4 89.5px,#4228d6 95.5px,#4026c3 105.5px,#3e24b8 122.5px,#3e24b6 146.5px)"></i><i style="background:linear-gradient(90deg,#5fd5bd 0.5px,#5ed0c4 5.5px,#5bc5d2 8.5px,#55a5ec 12.5px,#5292ff 14.5px,#545fff 18.5px,#4f3afe 22.5px,#472df3 25.5px,#452bec 27.5px,#4a32fa 35.5px,#5142ff 40.5px,#5377ff 48.5px,#5295ff 53.5px,#539ff5 56.5px,#55aae7 60.5px,#56aee4 66.5px,#54a4ed 70.5px,#5298ff 73.5px,#5472ff 78.5px,#5143ff 84.5px,#472df5 89.5px,#4228d7 95.5px,#4026c3 105.5px,#3e24b8 122.5px,#3e24b6 146.5px)"></i><i style="background:linear-gradient(90deg,#5fd4bd 0.5px,#5ed0c4 5.5px,#5bc5d2 8.5px,#55a6ec 12.5px,#5293ff 14.5px,#5460ff 18.5px,#4f3afe 22.5px,#472df4 25.5px,#452bed 27.5px,#4b32fa 35.5px,#5142ff 40.5px,#5378ff 48.5px,#5297ff 53.5px,#56ace5 59.5px,#57b4df 64.5px,#56afe3 68.5px,#54a4ed 71.5px,#5295ff 74.5px,#535aff 81.5px,#4e38fd 86.5px,#472df5 89.5px,#4329d7 95.5px,#4026c3 105.5px,#3e24b7 124.5px,#3e24b6 146.5px)"></i><i style="background:linear-gradient(90deg,#5fd4be 0.5px,#5ecfc5 5.5px,#5bc4d2 8.5px,#55a6eb 12.5px,#539df8 13.5px,#5293ff 14.5px,#5461ff 18.5px,#4f3bfe 22.5px,#472df5 25.5px,#462ced 27.5px,#4a31f9 34.5px,#503eff 39.5px,#5463ff 45.5px,#528dff 51.5px,#5299fe 53.5px,#56ace5 58.5px,#58b9dc 63.5px,#58b7dd 67.5px,#55a8e8 71.5px,#5298fe 74.5px,#535bff 81.5px,#503eff 85.5px,#472df6 89.5px,#4329d8 95.5px,#4026c6 103.5px,#3e24b9 119.5px,#3e24b6 146.5px)"></i><i style="background:linear-gradient(90deg,#5fd4be 0.5px,#5ecfc5 5.5px,#5bc4d2 8.5px,#55a6eb 12.5px,#5293ff 14.5px,#5356ff 19.5px,#4c35fc 23.5px,#462cee 27.5px,#4b33fa 35.5px,#503eff 39.5px,#5463ff 45.5px,#5295ff 52.5px,#56ace5 57.5px,#59bfd7 63.5px,#59bdd9 67.5px,#55a7ea 72.5px,#539bfb 74.5px,#528bff 76.5px,#5254ff 82.5px,#4e39fd 86.5px,#482ef6 89.5px,#4329d8 95.5px,#4026c2 106.5px,#3e24b8 123.5px,#3e24b6 146.5px)"></i><i style="background:linear-gradient(90deg,#5fd4be 0.5px,#5ecfc5 5.5px,#5bc4d2 8.5px,#55a6eb 12.5px,#5293ff 14.5px,#5356ff 19.5px,#503bff 22.5px,#462cf1 26.5px,#462cee 28.5px,#4a31fa 34.5px,#5143ff 40.5px,#556bff 46.5px,#5296ff 52.5px,#56afe3 57.5px,#5ac2d4 62.5px,#5bc4d2 66.5px,#57b6de 70.5px,#54a4ee 73.5px,#5297ff 75.5px,#535dff 81.5px,#503eff 85.5px,#482ef6 89.5px,#4329d8 95.5px,#4026c4 105.5px,#3e24b9 119.5px,#3e24b6 146.5px)"></i><i style="background:linear-gradient(90deg,#5fd4be 0.5px,#5ecfc5 5.5px,#5bc4d2 8.5px,#55a6eb 12.5px,#5293ff 14.5px,#5356ff 19.5px,#503bff 22.5px,#462cf1 26.5px,#462cee 28.5px,#4a31fa 34.5px,#5143ff 40.5px,#556bff 46.5px,#5298ff 52.5px,#56ade5 56.5px,#5bc4d2 61.5px,#5ccacd 65.5px,#59bfd7 69.5px,#55a7ea 73.5px,#5299fe 75.5px,#545eff 81.5px,#4e39fe 86.5px,#482ef7 89.5px,#4329dc 94.5px,#4127c8 102.5px,#3f25ba 116.5px,#3e24b6 146.5px)"></i><i style="background:linear-gradient(90deg,#5fd4be 0.5px,#5ecfc5 5.5px,#5bc4d2 8.5px,#55a6eb 12.5px,#5293ff 14.5px,#5356ff 19.5px,#503bff 22.5px,#462cf1 26.5px,#462cef 28.5px,#4c35fc 36.5px,#5149ff 41.5px,#5474ff 47.5px,#5299fe 52.5px,#55a9e7 55.5px,#5cc8cf 61.5px,#5dcdc9 65.5px,#5ac3d3 69.5px,#55a9e7 73.5px,#539bfb 75.5px,#5288ff 77.5px,#545eff 81.5px,#4e39fe 86.5px,#482ef7 89.5px,#4329e1 93.5px,#4127ce 99.5px,#3f25be 111.5px,#3e24b7 130.5px,#3e24b6 146.5px)"></i><i style="background:linear-gradient(90deg,#5fd4be 0.5px,#5ecfc5 5.5px,#5bc4d2 8.5px,#55a6eb 12.5px,#5294ff 14.5px,#5356ff 19.5px,#503bff 22.5px,#462cf1 26.5px,#462cef 28.5px,#4c35fc 36.5px,#5149ff 41.5px,#5474ff 47.5px,#529afd 52.5px,#56abe6 55.5px,#5bc8cf 60.5px,#5dcfc6 64.5px,#5ccacc 68.5px,#57b3e0 72.5px,#54a4ee 74.5px,#5294ff 76.5px,#5356ff 82.5px,#4e39fe 86.5px,#482ef7 89.5px,#4329e1 93.5px,#4127ce 99.5px,#3f25be 111.5px,#3e24b7 130.5px,#3e24b6 146.5px)"></i><i style="background:linear-gradient(90deg,#5fd4be 0.5px,#5ecfc5 5.5px,#5bc4d2 8.5px,#55a6eb 12.5px,#5294ff 14.5px,#5356ff 19.5px,#503bff 22.5px,#462cf1 26.5px,#462cee 28.5px,#4a31fa 34.5px,#5143ff 40.5px,#5474ff 47.5px,#529afc 52.5px,#56ace5 55.5px,#5ccacd 60.5px,#5ed1c3 64.5px,#5dccca 68.5px,#59bcd9 71.5px,#54a5ec 74.5px,#5295ff 76.5px,#5356ff 82.5px,#4f39fe 86.5px,#482ef7 89.5px,#4329dc 94.5px,#4127c8 102.5px,#3f25ba 116.5px,#3e24b6 146.5px)"></i><i style="background:linear-gradient(90deg,#5fd4be 0.5px,#5ecfc5 5.5px,#5bc5d2 8.5px,#55a6eb 12.5px,#5294ff 14.5px,#5356ff 19.5px,#503cff 22.5px,#482ef6 25.5px,#462cee 27.5px,#4b33fb 35.5px,#5143ff 40.5px,#556cff 46.5px,#5294ff 51.5px,#54a1f3 53.5px,#56ade4 55.5px,#5ccbcb 60.5px,#5ed2c1 64.5px,#5dcdc8 68.5px,#59bed8 71.5px,#55a6eb 74.5px,#5296ff 76.5px,#5357ff 82.5px,#4f39fe 86.5px,#482ef7 89.5px,#4329dc 94.5px,#4127c8 102.5px,#3f25ba 116.5px,#3e24b6 146.5px)"></i><i style="background:linear-gradient(90deg,#5fd4bd 0.5px,#5dcdc8 6.5px,#59bed7 9.5px,#55a6eb 12.5px,#5294ff 14.5px,#5357ff 19.5px,#503cff 22.5px,#482ef6 25.5px,#462cee 27.5px,#4b33fa 35.5px,#503eff 39.5px,#5464ff 45.5px,#5294ff 51.5px,#54a1f2 53.5px,#5bc7cf 59.5px,#5ed2c1 63.5px,#5ed0c4 67.5px,#5bc5d1 70.5px,#55a7ea 74.5px,#5296ff 76.5px,#5357ff 82.5px,#4f39fe 86.5px,#482ef7 89.5px,#4329dc 94.5px,#4127c8 102.5px,#3f25ba 116.5px,#3e24b6 146.5px)"></i><i style="background:linear-gradient(90deg,#5fd4bd 0.5px,#5ed0c4 5.5px,#5bc5d1 8.5px,#55a6ea 12.5px,#5294ff 14.5px,#5357ff 19.5px,#4c36fc 23.5px,#462cf0 26.5px,#462cef 29.5px,#492ff9 33.5px,#503eff 39.5px,#535cff 44.5px,#5294ff 51.5px,#54a1f3 53.5px,#57b4df 56.5px,#5ccbcb 60.5px,#5fd2c0 64.5px,#5dcec8 68.5px,#59bed7 71.5px,#55a7ea 74.5px,#5296ff 76.5px,#5356ff 82.5px,#4e39fe 86.5px,#482ef6 89.5px,#4329d8 95.5px,#4026c6 103.5px,#3e24b9 119.5px,#3e24b6 146.5px)"></i><i style="background:linear-gradient(90deg,#5fd5bd 0.5px,#5ed0c4 5.5px,#5bc5d1 8.5px,#55a7ea 12.5px,#5294ff 14.5px,#5357ff 19.5px,#4c36fc 23.5px,#462cf0 26.5px,#462ced 28.5px,#4a31f9 34.5px,#503eff 39.5px,#5463ff 45.5px,#5293ff 51.5px,#53a0f4 53.5px,#57b3e0 56.5px,#5ccbcc 60.5px,#5ed2c1 64.5px,#5dcdc9 68.5px,#59bdd8 71.5px,#55a6eb 74.5px,#5295ff 76.5px,#5356ff 82.5px,#4e39fe 86.5px,#482ef6 89.5px,#4329db 94.5px,#4127c9 101.5px,#3f25ba 116.5px,#3e24b6 146.5px)"></i><i style="background:linear-gradient(90deg,#5fd5bc 0.5px,#5dcec7 6.5px,#59bfd7 9.5px,#55a7ea 12.5px,#5295ff 14.5px,#5357ff 19.5px,#4c36fc 23.5px,#462cf0 26.5px,#462cee 29.5px,#4930f9 34.5px,#5142ff 40.5px,#556aff 46.5px,#5299fd 52.5px,#56abe6 55.5px,#5cc9ce 60.5px,#5ed0c4 64.5px,#5dccca 68.5px,#57b4df 72.5px,#54a5ed 74.5px,#5294ff 76.5px,#545fff 81.5px,#503eff 85.5px,#472df5 89.5px,#4228d7 95.5px,#4026c3 105.5px,#3e24b8 122.5px,#3e24b6 146.5px)"></i><i style="background:linear-gradient(90deg,#60d5bc 0.5px,#5ed0c4 5.5px,#5bc6d1 8.5px,#55a7e9 12.5px,#5295ff 14.5px,#5357ff 19.5px,#4c36fc 23.5px,#452bed 27.5px,#472df3 31.5px,#4e39fe 38.5px,#5253ff 43.5px,#537aff 48.5px,#5298ff 52.5px,#55a9e7 55.5px,#5ccacc 61.5px,#5dcec6 65.5px,#5ccacd 68.5px,#55aae6 73.5px,#539bfa 75.5px,#5288ff 77.5px,#545eff 81.5px,#503eff 85.5px,#472df5 89.5px,#4329da 94.5px,#4026c7 102.5px,#3e24b9 118.5px,#3e24b6 146.5px)"></i><i style="background:linear-gradient(90deg,#60d5bc 0.5px,#5ed1c3 5.5px,#5ac0d6 9.5px,#55a7e9 12.5px,#5295ff 14.5px,#524dff 20.5px,#4d36fc 23.5px,#472df6 25.5px,#452bec 27.5px,#472df2 31.5px,#4b33fb 36.5px,#5146ff 41.5px,#5470ff 47.5px,#5296ff 52.5px,#56ade4 56.5px,#5bc7d0 61.5px,#5dccca 65.5px,#5ac1d5 69.5px,#55a7e9 73.5px,#5299fd 75.5px,#535cff 81.5px,#4e38fd 86.5px,#472df4 89.5px,#4329d9 94.5px,#4026c7 102.5px,#3e24b9 118.5px,#3e24b6 146.5px)"></i><i style="background:linear-gradient(90deg,#60d5bb 0.5px,#5ed1c3 5.5px,#5bc7d0 8.5px,#55a8e9 12.5px,#5296ff 14.5px,#524dff 20.5px,#4d36fc 23.5px,#472df6 25.5px,#452beb 27.5px,#462cf1 31.5px,#4a31f9 35.5px,#5040ff 40.5px,#546fff 47.5px,#529afc 53.5px,#56afe3 57.5px,#5bc5d1 62.5px,#5bc7d0 66.5px,#58b8dd 70.5px,#54a4ed 73.5px,#5296ff 75.5px,#5252ff 82.5px,#4d37fd 86.5px,#492ff9 88.5px,#4329d8 94.5px,#4026c4 104.5px,#3e24b8 121.5px,#3e24b6 146.5px)"></i><i style="background:linear-gradient(90deg,#60d6ba 0.5px,#5ed1c2 5.5px,#5bc7cf 8.5px,#55a8e8 12.5px,#5296ff 14.5px,#524dff 20.5px,#4d36fc 23.5px,#462cef 26.5px,#452bea 28.5px,#4b32fa 36.5px,#5145ff 41.5px,#5474ff 48.5px,#5297ff 53.5px,#56abe6 57.5px,#5abfd6 62.5px,#5ac1d5 66.5px,#57b3e0 70.5px,#55a7e9 72.5px,#529afc 74.5px,#5462ff 80.5px,#503cff 85.5px,#482ff8 88.5px,#4329db 93.5px,#4127cb 99.5px,#3f25bb 113.5px,#3e24b6 146.5px)"></i><i style="background:linear-gradient(90deg,#60d6ba 0.5px,#5ed2c2 5.5px,#5bc8cf 8.5px,#55a8e8 12.5px,#5297ff 14.5px,#5358ff 19.5px,#503cff 22.5px,#472df5 25.5px,#452bea 27.5px,#462cef 31.5px,#4a32fa 36.5px,#503fff 40.5px,#5464ff 46.5px,#5299fd 54.5px,#56abe6 58.5px,#58b9dc 62.5px,#58bbda 66.5px,#56ade4 70.5px,#54a3f0 72.5px,#5297ff 74.5px,#5357ff 81.5px,#4d36fc 86.5px,#482ef8 88.5px,#4329da 93.5px,#4127c8 101.5px,#3f25ba 115.5px,#3e24b6 146.5px)"></i><i style="background:linear-gradient(90deg,#60d6b9 0.5px,#5ed2c1 5.5px,#5cc8ce 8.5px,#55a9e7 12.5px,#5297ff 14.5px,#524eff 20.5px,#4d36fc 23.5px,#472df5 25.5px,#452bea 27.5px,#452beb 30.5px,#4a31fa 36.5px,#503eff 40.5px,#5568ff 47.5px,#5295ff 54.5px,#55aae6 59.5px,#57b4df 63.5px,#57b2e1 67.5px,#55a8e8 70.5px,#5299fe 73.5px,#535dff 80.5px,#4c35fc 86.5px,#482ef7 88.5px,#4329d9 93.5px,#4026c7 101.5px,#3e24b9 117.5px,#3e24b6 146.5px)"></i><i style="background:linear-gradient(90deg,#61d7b8 0.5px,#5fd2c0 5.5px,#5cc9ce 8.5px,#55a9e7 12.5px,#5298ff 14.5px,#5359ff 19.5px,#503cff 22.5px,#472df5 25.5px,#452be9 27.5px,#452bec 31.5px,#4930f9 36.5px,#5041ff 41.5px,#5473ff 49.5px,#5296ff 55.5px,#55aae7 61.5px,#56ade4 66.5px,#55a6eb 69.5px,#5299fd 72.5px,#5474ff 77.5px,#5145ff 83.5px,#4931f9 87.5px,#462cee 89.5px,#4228d4 94.5px,#3f25bf 107.5px,#3e24b7 128.5px,#3e24b6 146.5px)"></i><i style="background:linear-gradient(90deg,#61d7b7 0.5px,#5fd5bd 4.5px,#5ccacd 8.5px,#55aae7 12.5px,#5298ff 14.5px,#524eff 20.5px,#4a31fa 24.5px,#452be8 27.5px,#452beb 31.5px,#4930f9 36.5px,#5040ff 41.5px,#5470ff 49.5px,#5295ff 56.5px,#54a5ec 62.5px,#55a6eb 66.5px,#539cf9 70.5px,#5293ff 72.5px,#5358ff 80.5px,#4e38fd 85.5px,#472df4 88.5px,#4228d7 93.5px,#4026c5 102.5px,#3e24b8 119.5px,#3e24b6 146.5px)"></i><i style="background:linear-gradient(90deg,#61d7b6 0.5px,#60d5bc 4.5px,#5ccacc 8.5px,#55abe6 12.5px,#5299fe 14.5px,#5359ff 19.5px,#4d36fc 23.5px,#472df5 25.5px,#442ae8 27.5px,#442ae7 30.5px,#4a31fa 37.5px,#5144ff 42.5px,#5472ff 50.5px,#5296ff 58.5px,#54a0f3 64.5px,#539cf9 68.5px,#5292ff 71.5px,#5472ff 76.5px,#503cff 84.5px,#492ff9 87.5px,#4329da 92.5px,#4127cc 97.5px,#3f25bb 112.5px,#3e24b6 146.5px)"></i><i style="background:linear-gradient(90deg,#61d8b5 0.5px,#60d6bb 4.5px,#5ccbcc 8.5px,#56abe6 12.5px,#5299fd 14.5px,#535aff 19.5px,#503dff 22.5px,#472df5 25.5px,#442ae7 27.5px,#442ae4 29.5px,#4930f9 37.5px,#5147ff 43.5px,#5473ff 51.5px,#5292ff 59.5px,#5299fd 64.5px,#5295ff 68.5px,#5280ff 73.5px,#5359ff 79.5px,#4f3afe 84.5px,#482ef8 87.5px,#4329d8 92.5px,#4127c8 99.5px,#3e24b9 116.5px,#3e24b6 146.5px)"></i><i style="background:linear-gradient(90deg,#62d8b4 0.5px,#60d6b9 4.5px,#5ccbcb 8.5px,#56ace5 12.5px,#529afc 14.5px,#535aff 19.5px,#503dff 22.5px,#472df5 25.5px,#442ae7 27.5px,#442ae3 29.5px,#492ff9 37.5px,#5040ff 42.5px,#5473ff 52.5px,#528aff 59.5px,#5291ff 65.5px,#5287ff 70.5px,#5462ff 77.5px,#4e39fd 84.5px,#482ef6 87.5px,#4228d7 92.5px,#4026c7 99.5px,#3e24b9 116.5px,#3e24b6 146.5px)"></i><i style="background:linear-gradient(90deg,#62d9b3 0.5px,#61d7b8 4.5px,#5dccca 8.5px,#56ade5 12.5px,#529afb 14.5px,#5282ff 16.5px,#535bff 19.5px,#503eff 22.5px,#472df5 25.5px,#442ae6 27.5px,#442ae1 29.5px,#482ef8 37.5px,#5143ff 43.5px,#5475ff 54.5px,#5286ff 61.5px,#5286ff 67.5px,#5377ff 72.5px,#5252ff 79.5px,#4d37fd 84.5px,#472df4 87.5px,#4228d5 92.5px,#4026c4 101.5px,#3e24b8 119.5px,#3e24b6 146.5px)"></i><i style="background:linear-gradient(90deg,#62dab1 0.5px,#61d7b7 4.5px,#5dcdc9 8.5px,#56aee4 12.5px,#539bfa 14.5px,#5283ff 16.5px,#535bff 19.5px,#4d37fd 23.5px,#472df5 25.5px,#442ae5 27.5px,#4329df 29.5px,#472df2 36.5px,#4a32fa 39.5px,#514aff 45.5px,#546fff 54.5px,#527fff 62.5px,#537cff 68.5px,#5567ff 74.5px,#4c36fc 84.5px,#482ef8 86.5px,#4228d3 92.5px,#3f25bf 105.5px,#3e24b7 127.5px,#3e24b6 146.5px)"></i><i style="background:linear-gradient(90deg,#63dab0 0.5px,#61d8b6 4.5px,#5cc9ce 9.5px,#54a5ec 13.5px,#539cf9 14.5px,#5290ff 15.5px,#535cff 19.5px,#4d37fd 23.5px,#472df5 25.5px,#4329e0 28.5px,#4329e1 31.5px,#4a31f9 39.5px,#5147ff 45.5px,#5566ff 53.5px,#5376ff 62.5px,#5473ff 68.5px,#535dff 75.5px,#4e38fd 83.5px,#482ef6 86.5px,#4228d6 91.5px,#4127c8 97.5px,#3e24b9 114.5px,#3e24b6 146.5px)"></i><i style="background:linear-gradient(90deg,#63dbae 0.5px,#62d8b4 4.5px,#5dcec7 8.5px,#5ac2d4 10.5px,#55a6eb 13.5px,#539df8 14.5px,#5291ff 15.5px,#535dff 19.5px,#503fff 22.5px,#472df6 25.5px,#4329de 28.5px,#4329df 31.5px,#4a32fa 40.5px,#5148ff 46.5px,#5465ff 55.5px,#546eff 64.5px,#5465ff 71.5px,#5147ff 79.5px,#492ff8 85.5px,#4228d4 91.5px,#4026c5 99.5px,#3e24b9 115.5px,#3e24b6 146.5px)"></i><i style="background:linear-gradient(90deg,#64dcad 0.5px,#62d9b3 4.5px,#5ccbcc 9.5px,#55a7e9 13.5px,#539ef7 14.5px,#5292ff 15.5px,#535dff 19.5px,#4e38fd 23.5px,#482ef6 25.5px,#4329dd 28.5px,#4329dc 31.5px,#482ef8 39.5px,#5144ff 46.5px,#535dff 54.5px,#5566ff 64.5px,#535cff 72.5px,#4d37fd 82.5px,#482ef7 85.5px,#4228d2 91.5px,#3f25c0 103.5px,#3e24b7 123.5px,#3e24b6 146.5px)"></i></div>
<div class="hm" style="left:476px;top:45px;width:154px;height:262px"><i style="background:linear-gradient(90deg,#5ed1c2 0.5px,#5dcdc8 12.5px,#5ac1d5 18.5px,#55a8e8 24.5px,#529afd 27.5px,#5357ff 36.5px,#4d36fc 42.5px,#492ff9 44.5px,#4228cf 50.5px,#4127cb 53.5px,#4329d8 55.5px,#482ef6 58.5px,#503dff 62.5px,#524dff 67.5px,#524dff 74.5px,#503dff 79.5px,#482ef6 83.5px,#4228cf 87.5px,#3f25bd 91.5px,#3e24b6 99.5px,#3e24b6 153.5px)"></i><i style="background:linear-gradient(90deg,#5fd3bf 0.5px,#5ed0c5 12.5px,#5bc5d1 18.5px,#55a8e8 25.5px,#5299fe 28.5px,#535aff 36.5px,#4d37fd 42.5px,#472df4 45.5px,#4228cf 50.5px,#4127ca 52.5px,#4228d2 54.5px,#492ff8 58.5px,#5041ff 62.5px,#5252ff 67.5px,#5252ff 74.5px,#4d38fd 81.5px,#492ff8 83.5px,#4127ca 88.5px,#3e24b9 93.5px,#3e24b6 122.5px,#3e24b6 153.5px)"></i><i style="background:linear-gradient(90deg,#60d5bc 0.5px,#5ed1c2 13.5px,#5bc7d0 19.5px,#55a7e9 26.5px,#5297ff 29.5px,#5356ff 37.5px,#4e38fd 42.5px,#472df4 45.5px,#4228cf 50.5px,#4127ca 52.5px,#4228d4 54.5px,#472df4 57.5px,#503fff 61.5px,#5254ff 66.5px,#5359ff 72.5px,#524dff 77.5px,#4c35fc 82.5px,#472df4 84.5px,#4228d3 87.5px,#3f25be 91.5px,#3e24b7 97.5px,#3e24b6 153.5px)"></i><i style="background:linear-gradient(90deg,#61d7b8 0.5px,#5fd4bd 12.5px,#5bc8cf 20.5px,#55a6ea 27.5px,#5295ff 30.5px,#5359ff 37.5px,#4e39fe 42.5px,#472df6 45.5px,#4228d4 49.5px,#4127cb 51.5px,#4127ce 53.5px,#482ef7 57.5px,#5142ff 61.5px,#5359ff 66.5px,#545eff 72.5px,#5252ff 77.5px,#4d37fd 82.5px,#482ef7 84.5px,#4127cd 88.5px,#3f25bc 92.5px,#3e24b6 101.5px,#3e24b6 153.5px)"></i><i style="background:linear-gradient(90deg,#62d8b5 0.5px,#60d6b9 12.5px,#5cc9ce 21.5px,#54a5ec 28.5px,#5299fd 30.5px,#524dff 39.5px,#4a31fa 44.5px,#482ef7 45.5px,#4228d4 49.5px,#4127cb 51.5px,#4228d0 53.5px,#492ff9 57.5px,#5145ff 61.5px,#545eff 66.5px,#5463ff 72.5px,#535aff 76.5px,#4e39fe 82.5px,#492ff9 84.5px,#4228cf 88.5px,#3f25bc 92.5px,#3e24b6 101.5px,#3e24b6 153.5px)"></i><i style="background:linear-gradient(90deg,#63dab1 0.5px,#61d8b6 12.5px,#5dcec7 20.5px,#5ac0d6 24.5px,#55a9e7 28.5px,#5297ff 31.5px,#5358ff 38.5px,#4d37fc 43.5px,#482ef8 45.5px,#4228cf 50.5px,#4127cc 52.5px,#4329db 54.5px,#472df2 56.5px,#4c36fc 58.5px,#524eff 62.5px,#5462ff 66.5px,#5568ff 70.5px,#5465ff 74.5px,#5254ff 78.5px,#4f3bff 82.5px,#4930f9 84.5px,#442ae7 86.5px,#4228d0 88.5px,#3f25bd 92.5px,#3e24b6 100.5px,#3e24b6 153.5px)"></i><i style="background:linear-gradient(90deg,#63dbae 0.5px,#62d9b2 12.5px,#5ed1c3 20.5px,#5bc4d2 24.5px,#55a7e9 29.5px,#539bfb 31.5px,#528aff 33.5px,#535bff 38.5px,#4e38fd 43.5px,#492ff8 45.5px,#4228cf 50.5px,#4127cd 52.5px,#4228d2 53.5px,#472df5 56.5px,#503dff 59.5px,#5463ff 65.5px,#556dff 69.5px,#556aff 74.5px,#5358ff 78.5px,#4d37fd 83.5px,#472df5 85.5px,#4228d1 88.5px,#3f25bd 92.5px,#3e24b6 100.5px,#3e24b6 153.5px)"></i><i style="background:linear-gradient(90deg,#65ddaa 0.5px,#63daaf 13.5px,#5ed1c3 21.5px,#5ac3d3 25.5px,#54a5ed 30.5px,#5298ff 32.5px,#545eff 38.5px,#4e39fd 43.5px,#4930f9 45.5px,#4228cf 50.5px,#4127ce 52.5px,#4228d4 53.5px,#482ef8 56.5px,#5147ff 60.5px,#5567ff 65.5px,#5472ff 69.5px,#546eff 74.5px,#535cff 78.5px,#4e39fd 83.5px,#482ef8 85.5px,#4228d3 88.5px,#4026c1 91.5px,#3e24b7 96.5px,#3e24b6 153.5px)"></i><i style="background:linear-gradient(90deg,#66dea6 0.5px,#65dda9 11.5px,#60d6b9 19.5px,#5bc7cf 25.5px,#55a8e8 30.5px,#539bfb 32.5px,#5289ff 34.5px,#5358ff 39.5px,#4f3afe 43.5px,#472df3 46.5px,#4228d6 49.5px,#4127cd 51.5px,#4127ce 52.5px,#442ae2 54.5px,#482ff8 56.5px,#5149ff 60.5px,#556bff 65.5px,#5377ff 69.5px,#5473ff 74.5px,#545fff 78.5px,#4f3afe 83.5px,#482ff8 85.5px,#4127cc 89.5px,#3f25bb 93.5px,#3e24b6 103.5px,#3e24b6 153.5px)"></i><i style="background:linear-gradient(90deg,#68dfa1 0.5px,#66dea6 12.5px,#61d6b8 20.5px,#5ccbcc 25.5px,#54a5ec 31.5px,#5297ff 33.5px,#5251ff 40.5px,#4c36fc 44.5px,#472df5 46.5px,#4228d0 50.5px,#4228cf 52.5px,#442ae4 54.5px,#4930f9 56.5px,#5143ff 59.5px,#5569ff 64.5px,#537aff 68.5px,#537aff 73.5px,#5569ff 77.5px,#503cff 83.5px,#4930f9 85.5px,#442ae4 87.5px,#4127cd 89.5px,#3f25bb 93.5px,#3e24b6 103.5px,#3e24b6 153.5px)"></i><i style="background:linear-gradient(90deg,#69e09e 0.5px,#68dfa1 11.5px,#62d9b2 19.5px,#5dcdc9 25.5px,#55a8e8 31.5px,#529afc 33.5px,#535dff 39.5px,#503cff 43.5px,#482ef6 46.5px,#4228d1 50.5px,#4228d0 52.5px,#472df2 55.5px,#4d37fc 57.5px,#5566ff 63.5px,#537cff 67.5px,#5280ff 72.5px,#5473ff 76.5px,#503dff 83.5px,#4a31f9 85.5px,#442ae6 87.5px,#4127ce 89.5px,#3f25be 92.5px,#3e24b6 98.5px,#3e24b6 153.5px)"></i><i style="background:linear-gradient(90deg,#6be19a 0.5px,#69e09e 12.5px,#62d9b2 20.5px,#5ccbcb 26.5px,#55abe6 31.5px,#5294ff 34.5px,#545fff 39.5px,#4d37fd 44.5px,#482ef7 46.5px,#4228d1 50.5px,#4127ce 51.5px,#4228d1 52.5px,#472df3 55.5px,#4e38fd 57.5px,#5470ff 64.5px,#5280ff 67.5px,#5283ff 72.5px,#537cff 75.5px,#5461ff 79.5px,#4e38fd 84.5px,#472df3 86.5px,#4228cf 89.5px,#3f25bc 93.5px,#3e24b6 100.5px,#3e24b6 153.5px)"></i><i style="background:linear-gradient(90deg,#6ce297 0.5px,#6ae19b 12.5px,#65dda9 18.5px,#5dcdc9 26.5px,#55a6ec 32.5px,#5296ff 34.5px,#5357ff 40.5px,#4e38fd 44.5px,#482ef8 46.5px,#4228d1 50.5px,#4228d1 52.5px,#472df5 55.5px,#5040ff 58.5px,#5473ff 64.5px,#5283ff 67.5px,#5287ff 72.5px,#537aff 76.5px,#5251ff 81.5px,#4a32fa 85.5px,#472df5 86.5px,#4228d0 89.5px,#3f25bf 92.5px,#3e24b6 98.5px,#3e24b6 153.5px)"></i><i style="background:linear-gradient(90deg,#6de394 0.5px,#6be299 13.5px,#65ddaa 19.5px,#5dcec7 26.5px,#56afe3 31.5px,#53a0f4 33.5px,#5298ff 34.5px,#5358ff 40.5px,#4e39fd 44.5px,#482ff8 46.5px,#4228d2 50.5px,#4228cf 51.5px,#4228d2 52.5px,#482ef6 55.5px,#5041ff 58.5px,#546eff 63.5px,#5282ff 66.5px,#528aff 70.5px,#5286ff 74.5px,#5376ff 77.5px,#5253ff 81.5px,#4b33fb 85.5px,#482ef6 86.5px,#4228d0 89.5px,#3f25bf 92.5px,#3e24b7 97.5px,#3e24b6 153.5px)"></i><i style="background:linear-gradient(90deg,#6ee492 0.5px,#6ce396 12.5px,#67dfa4 18.5px,#5dcfc6 26.5px,#58b8dd 30.5px,#55a8e8 32.5px,#5299fd 34.5px,#5250ff 41.5px,#4b34fb 45.5px,#482ff8 46.5px,#4228d2 50.5px,#4228cf 51.5px,#4228d3 52.5px,#482ef8 55.5px,#514bff 59.5px,#5471ff 63.5px,#5285ff 66.5px,#528dff 70.5px,#5289ff 74.5px,#5379ff 77.5px,#5255ff 81.5px,#4b34fb 85.5px,#482ef8 86.5px,#4228d1 89.5px,#3f25bf 92.5px,#3e24b6 99.5px,#3e24b6 153.5px)"></i><i style="background:linear-gradient(90deg,#6fe490 0.5px,#6de394 12.5px,#68dfa2 18.5px,#5ecfc5 26.5px,#5ac0d6 29.5px,#55a9e7 32.5px,#529afc 34.5px,#535aff 40.5px,#4e39fe 44.5px,#492ff9 46.5px,#4228d2 50.5px,#4228d3 52.5px,#482ef8 55.5px,#524dff 59.5px,#537bff 64.5px,#528bff 67.5px,#528fff 72.5px,#5282ff 76.5px,#5460ff 80.5px,#4f3bfe 84.5px,#482ef8 86.5px,#4228d1 89.5px,#3f25bc 93.5px,#3e24b6 102.5px,#3e24b6 153.5px)"></i><i style="background:linear-gradient(90deg,#70e48d 0.5px,#6ee492 12.5px,#68dfa0 18.5px,#5ed0c5 26.5px,#58b9dc 30.5px,#54a2f0 33.5px,#529afb 34.5px,#5286ff 36.5px,#5251ff 41.5px,#4b34fb 45.5px,#492ff9 46.5px,#4228d3 50.5px,#4228d0 51.5px,#4228d4 52.5px,#482ff8 55.5px,#5144ff 58.5px,#5475ff 63.5px,#5289ff 66.5px,#5291ff 70.5px,#528dff 74.5px,#537dff 77.5px,#524eff 82.5px,#503cff 84.5px,#482ff8 86.5px,#4228d2 89.5px,#3f25c0 92.5px,#3e24b7 97.5px,#3e24b6 153.5px)"></i><i style="background:linear-gradient(90deg,#71e48b 0.5px,#70e48e 10.5px,#6ae19c 17.5px,#5fd3bf 25.5px,#5ac1d5 29.5px,#55aae6 32.5px,#539bfb 34.5px,#5287ff 36.5px,#535aff 40.5px,#4f3afe 44.5px,#492ff9 46.5px,#4228d3 50.5px,#4228d0 51.5px,#4228d4 52.5px,#492ff9 55.5px,#5145ff 58.5px,#5376ff 63.5px,#528bff 66.5px,#5293ff 70.5px,#528fff 74.5px,#527fff 77.5px,#5359ff 81.5px,#4c35fc 85.5px,#492ff9 86.5px,#4228d2 89.5px,#3f25c0 92.5px,#3e24b7 97.5px,#3e24b6 153.5px)"></i><i style="background:linear-gradient(90deg,#72e389 0.5px,#71e48c 10.5px,#69e09e 18.5px,#5ed0c3 26.5px,#5ac1d5 29.5px,#54a3ef 33.5px,#539bfa 34.5px,#5287ff 36.5px,#5251ff 41.5px,#4c34fb 45.5px,#492ff9 46.5px,#4228d3 50.5px,#4228d0 51.5px,#4228d5 52.5px,#492ff9 55.5px,#5146ff 58.5px,#5280ff 64.5px,#5293ff 68.5px,#5293ff 73.5px,#5280ff 77.5px,#5146ff 83.5px,#492ff9 86.5px,#4228d3 89.5px,#3f25c0 92.5px,#3e24b7 97.5px,#3e24b6 153.5px)"></i><i style="background:linear-gradient(90deg,#73e387 0.5px,#71e48b 11.5px,#6ae19d 18.5px,#5ed1c3 26.5px,#5ac2d4 29.5px,#54a3ef 33.5px,#539cfa 34.5px,#5287ff 36.5px,#5251ff 41.5px,#4c34fb 45.5px,#492ff9 46.5px,#4228d3 50.5px,#4228d1 51.5px,#4228d5 52.5px,#4930f9 55.5px,#5146ff 58.5px,#5281ff 64.5px,#5294ff 68.5px,#5294ff 73.5px,#5281ff 77.5px,#5146ff 83.5px,#492ff9 86.5px,#4228d3 89.5px,#3f25c0 92.5px,#3e24b7 97.5px,#3e24b6 153.5px)"></i><i style="background:linear-gradient(90deg,#74e385 0.5px,#72e48a 11.5px,#6ae19c 18.5px,#5ed1c3 26.5px,#5ac2d4 29.5px,#54a4ee 33.5px,#5293ff 35.5px,#535bff 40.5px,#4f3afe 44.5px,#492ff9 46.5px,#4228d3 50.5px,#4228d1 51.5px,#4228d5 52.5px,#4930f9 55.5px,#5147ff 58.5px,#5282ff 64.5px,#5295ff 68.5px,#5295ff 73.5px,#5282ff 77.5px,#5147ff 83.5px,#4930f9 86.5px,#4228d3 89.5px,#3f25c0 92.5px,#3e24b7 97.5px,#3e24b6 153.5px)"></i><i style="background:linear-gradient(90deg,#75e384 0.5px,#72e388 11.5px,#69e09f 19.5px,#5dcec8 27.5px,#57b4e0 31.5px,#54a4ee 33.5px,#5293ff 35.5px,#535bff 40.5px,#4f3afe 44.5px,#4930f9 46.5px,#4228d3 50.5px,#4228d1 51.5px,#4228d6 52.5px,#4930f9 55.5px,#5147ff 58.5px,#5470ff 62.5px,#5289ff 65.5px,#5295ff 68.5px,#5295ff 73.5px,#5289ff 76.5px,#5470ff 79.5px,#4d36fc 85.5px,#4930f9 86.5px,#4228d3 89.5px,#3f25c0 92.5px,#3e24b7 97.5px,#3e24b6 153.5px)"></i><i style="background:linear-gradient(90deg,#75e382 0.5px,#73e387 11.5px,#69e09e 19.5px,#5dcec7 27.5px,#57b4e0 31.5px,#54a4ee 33.5px,#5293ff 35.5px,#535cff 40.5px,#4f3afe 44.5px,#4930f9 46.5px,#4228d3 50.5px,#4228d1 51.5px,#4228d6 52.5px,#4930f9 55.5px,#5147ff 58.5px,#5470ff 62.5px,#528aff 65.5px,#5297ff 69.5px,#5296ff 73.5px,#5283ff 77.5px,#535bff 81.5px,#4d36fc 85.5px,#4930f9 86.5px,#4127cb 90.5px,#3f25ba 94.5px,#3e24b6 107.5px,#3e24b6 153.5px)"></i><i style="background:linear-gradient(90deg,#76e381 0.5px,#74e384 10.5px,#6be19a 18.5px,#5ed2c2 26.5px,#5ac3d3 29.5px,#54a4ed 33.5px,#5293ff 35.5px,#535cff 40.5px,#4f3afe 44.5px,#4930f9 46.5px,#4228d3 50.5px,#4228d1 51.5px,#4228d6 52.5px,#4930f9 55.5px,#5147ff 58.5px,#5470ff 62.5px,#528aff 65.5px,#5297ff 69.5px,#5296ff 73.5px,#5283ff 77.5px,#535bff 81.5px,#4d36fc 85.5px,#4930f9 86.5px,#4127cb 90.5px,#3f25ba 94.5px,#3e24b6 107.5px,#3e24b6 153.5px)"></i><i style="background:linear-gradient(90deg,#76e380 0.5px,#75e383 10.5px,#6be299 18.5px,#5ed2c1 26.5px,#5bc4d3 29.5px,#54a5ed 33.5px,#5294ff 35.5px,#535cff 40.5px,#4f3afe 44.5px,#4930f9 46.5px,#4228d4 50.5px,#4228d1 51.5px,#4228d6 52.5px,#4930f9 55.5px,#5147ff 58.5px,#5471ff 62.5px,#528aff 65.5px,#5297ff 69.5px,#5296ff 73.5px,#5283ff 77.5px,#535bff 81.5px,#4d36fc 85.5px,#4930f9 86.5px,#4127cb 90.5px,#3f25ba 94.5px,#3e24b6 107.5px,#3e24b6 153.5px)"></i><i style="background:linear-gradient(90deg,#77e37f 0.5px,#75e383 11.5px,#6ae19c 19.5px,#5ed2c1 26.5px,#5bc4d2 29.5px,#54a5ec 33.5px,#5294ff 35.5px,#535cff 40.5px,#4f3afe 44.5px,#4930f9 46.5px,#4228d4 50.5px,#4228d1 51.5px,#4228d6 52.5px,#4930f9 55.5px,#5147ff 58.5px,#5471ff 62.5px,#528aff 65.5px,#5297ff 69.5px,#5296ff 73.5px,#5283ff 77.5px,#535bff 81.5px,#4d36fc 85.5px,#4930f9 86.5px,#4127cb 90.5px,#3f25ba 94.5px,#3e24b6 107.5px,#3e24b6 153.5px)"></i><i style="background:linear-gradient(90deg,#78e37e 0.5px,#76e381 10.5px,#70e48d 15.5px,#66dea6 21.5px,#5ccbcc 28.5px,#54a5ec 33.5px,#5294ff 35.5px,#535cff 40.5px,#4f3afe 44.5px,#4930f9 46.5px,#4228d4 50.5px,#4228d1 51.5px,#4228d6 52.5px,#4930f9 55.5px,#5147ff 58.5px,#5470ff 62.5px,#528aff 65.5px,#5297ff 69.5px,#5296ff 73.5px,#5283ff 77.5px,#535bff 81.5px,#4d36fc 85.5px,#4930f9 86.5px,#4127cb 90.5px,#3f25ba 94.5px,#3e24b6 110.5px,#3e24b6 153.5px)"></i><i style="background:linear-gradient(90deg,#78e37c 0.5px,#76e381 11.5px,#6de393 17.5px,#5fd3c0 26.5px,#5bc5d2 29.5px,#55a5ec 33.5px,#5295ff 35.5px,#535cff 40.5px,#4f3bfe 44.5px,#4930f9 46.5px,#4228d4 50.5px,#4228d1 51.5px,#4228d6 52.5px,#4930f9 55.5px,#5147ff 58.5px,#5470ff 62.5px,#528aff 65.5px,#5297ff 69.5px,#5296ff 73.5px,#5283ff 77.5px,#535bff 81.5px,#4d36fc 85.5px,#4930f9 86.5px,#4127cb 90.5px,#3f25ba 94.5px,#3e24b6 112.5px,#3e24b6 153.5px)"></i><i style="background:linear-gradient(90deg,#79e37b 0.5px,#77e37e 10.5px,#6fe48e 16.5px,#65dcab 22.5px,#5ccbcb 28.5px,#55a6eb 33.5px,#5295ff 35.5px,#535dff 40.5px,#4f3bfe 44.5px,#4930f9 46.5px,#4228d4 50.5px,#4228d1 51.5px,#4228d6 52.5px,#4930f9 55.5px,#5147ff 58.5px,#5470ff 62.5px,#5289ff 65.5px,#5295ff 68.5px,#5295ff 73.5px,#5289ff 76.5px,#5470ff 79.5px,#4d36fc 85.5px,#4930f9 86.5px,#4127cb 90.5px,#3f25bd 93.5px,#3e24b7 99.5px,#3e24b6 153.5px)"></i><i style="background:linear-gradient(90deg,#7ae279 0.5px,#77e37e 11.5px,#70e48d 16.5px,#65ddaa 22.5px,#5ccbcb 28.5px,#55a6eb 33.5px,#5295ff 35.5px,#535dff 40.5px,#4f3bfe 44.5px,#4930f9 46.5px,#4228d4 50.5px,#4228d1 51.5px,#4228d6 52.5px,#4930f9 55.5px,#5147ff 58.5px,#5282ff 64.5px,#5295ff 68.5px,#5295ff 73.5px,#5282ff 77.5px,#5147ff 83.5px,#4930f9 86.5px,#4127cb 90.5px,#3f25bd 93.5px,#3e24b7 100.5px,#3e24b6 153.5px)"></i><i style="background:linear-gradient(90deg,#7ae278 0.5px,#78e37c 11.5px,#71e48b 16.5px,#62d9b4 24.5px,#5bc6d1 29.5px,#55a6eb 33.5px,#5296ff 35.5px,#535dff 40.5px,#4f3bfe 44.5px,#4930f9 46.5px,#4228d4 50.5px,#4228d1 51.5px,#4228d5 52.5px,#4930f9 55.5px,#5146ff 58.5px,#5281ff 64.5px,#5294ff 68.5px,#5294ff 73.5px,#5281ff 77.5px,#5146ff 83.5px,#4930f9 86.5px,#4127cb 90.5px,#3f25bd 93.5px,#3e24b7 101.5px,#3e24b6 153.5px)"></i><i style="background:linear-gradient(90deg,#7be276 0.5px,#79e27a 11.5px,#72e389 16.5px,#66dda8 22.5px,#5dccca 28.5px,#55a7ea 33.5px,#5296ff 35.5px,#535dff 40.5px,#4f3bfe 44.5px,#4930f9 46.5px,#4228d4 50.5px,#4228d1 51.5px,#4228d5 52.5px,#492ff9 55.5px,#5146ff 58.5px,#5280ff 64.5px,#5293ff 68.5px,#5293ff 73.5px,#5280ff 77.5px,#5146ff 83.5px,#4930f9 86.5px,#4127cb 90.5px,#3f25bb 94.5px,#3e24b6 110.5px,#3e24b6 153.5px)"></i><i style="background:linear-gradient(90deg,#7ce274 0.5px,#7ae278 11.5px,#73e387 16.5px,#6ae19b 20.5px,#5ed0c4 27.5px,#59bfd6 30.5px,#55a7e9 33.5px,#5297ff 35.5px,#545eff 40.5px,#4f3bff 44.5px,#4930f9 46.5px,#4228d4 50.5px,#4228d1 51.5px,#4228d5 52.5px,#492ff9 55.5px,#5145ff 58.5px,#5376ff 63.5px,#528bff 66.5px,#5293ff 70.5px,#528fff 74.5px,#527fff 77.5px,#5359ff 81.5px,#4c36fc 85.5px,#492ff9 86.5px,#4228d4 89.5px,#4026c1 92.5px,#3e24b8 98.5px,#3e24b6 153.5px)"></i><i style="background:linear-gradient(90deg,#7ee271 0.5px,#7be276 11.5px,#74e385 16.5px,#69e09f 21.5px,#5dcdc9 28.5px,#55a8e9 33.5px,#5297ff 35.5px,#545eff 40.5px,#503bff 44.5px,#4930f9 46.5px,#4228d4 50.5px,#4228d1 51.5px,#4228d4 52.5px,#482ff8 55.5px,#5144ff 58.5px,#5475ff 63.5px,#5289ff 66.5px,#5291ff 70.5px,#528dff 74.5px,#537eff 77.5px,#524eff 82.5px,#4c35fc 85.5px,#492ff9 86.5px,#4228d5 89.5px,#4026c2 92.5px,#3e24b8 98.5px,#3e24b6 153.5px)"></i><i style="background:linear-gradient(90deg,#7fe26e 0.5px,#7de273 11.5px,#75e382 16.5px,#69e09e 21.5px,#5ed1c2 27.5px,#5ac1d5 30.5px,#55a8e8 33.5px,#5298ff 35.5px,#545eff 40.5px,#503bff 44.5px,#472df3 47.5px,#4228d4 50.5px,#4228d1 51.5px,#4228d4 52.5px,#482ef8 55.5px,#524dff 59.5px,#537bff 64.5px,#528bff 67.5px,#528fff 72.5px,#5283ff 76.5px,#5358ff 81.5px,#4c36fc 85.5px,#4930f9 86.5px,#4228d6 89.5px,#4026c4 92.5px,#3e24b9 98.5px,#3e24b6 139.5px,#3e24b6 153.5px)"></i><i style="background:linear-gradient(90deg,#81e16b 0.5px,#7ee270 11.5px,#77e37f 16.5px,#6ae19c 21.5px,#5dcec8 28.5px,#55a9e8 33.5px,#5298ff 35.5px,#545fff 40.5px,#503bff 44.5px,#472df3 47.5px,#4228d4 50.5px,#4228d0 51.5px,#4228d3 52.5px,#482ef8 55.5px,#514bff 59.5px,#5471ff 63.5px,#5285ff 66.5px,#528dff 70.5px,#528aff 74.5px,#5473ff 78.5px,#503cff 84.5px,#4930f9 86.5px,#4228d0 90.5px,#3f25bf 94.5px,#3e24b7 103.5px,#3e24b6 153.5px)"></i><i style="background:linear-gradient(90deg,#83e166 0.5px,#81e169 10.5px,#7be276 15.5px,#6de394 20.5px,#5dcec7 28.5px,#57b1e2 32.5px,#55a8e8 33.5px,#5297ff 35.5px,#545eff 40.5px,#4f3bfe 44.5px,#4930f9 46.5px,#442ae8 48.5px,#4228d3 50.5px,#4228d2 52.5px,#482ef6 55.5px,#5041ff 58.5px,#546eff 63.5px,#5283ff 66.5px,#528bff 70.5px,#5288ff 74.5px,#5379ff 77.5px,#524eff 82.5px,#4d37fc 85.5px,#472df3 87.5px,#4228d2 90.5px,#4026c1 94.5px,#3e24b7 102.5px,#3e24b6 153.5px)"></i><i style="background:linear-gradient(90deg,#89df61 0.5px,#84e164 11.5px,#7ce275 16.5px,#6be299 21.5px,#5dcdc8 28.5px,#56afe3 32.5px,#5295ff 35.5px,#535bff 40.5px,#4f39fe 44.5px,#492ff8 46.5px,#4228d2 50.5px,#4228d1 52.5px,#472df5 55.5px,#5040ff 58.5px,#5473ff 64.5px,#5283ff 67.5px,#5289ff 71.5px,#5283ff 75.5px,#5569ff 79.5px,#4e38fd 85.5px,#482ef6 87.5px,#4228d6 90.5px,#4026c2 94.5px,#3e24b8 101.5px,#3e24b6 153.5px)"></i><i style="background:linear-gradient(90deg,#90dd5b 0.5px,#8bdf5f 11.5px,#81e169 15.5px,#73e386 19.5px,#66dda7 23.5px,#5dccca 28.5px,#54a4ee 33.5px,#539bfa 34.5px,#5285ff 36.5px,#5357ff 40.5px,#4d37fd 44.5px,#482ef7 46.5px,#4329d7 49.5px,#4127cd 51.5px,#4228d0 52.5px,#472df3 55.5px,#4e38fd 57.5px,#5470ff 64.5px,#5283ff 68.5px,#5286ff 73.5px,#537eff 76.5px,#5250ff 82.5px,#4b34fb 86.5px,#462cf0 88.5px,#4228d2 91.5px,#3f25be 96.5px,#3e24b6 107.5px,#3e24b6 153.5px)"></i><i style="background:linear-gradient(90deg,#98da55 0.5px,#93db58 10.5px,#85e063 15.5px,#75e382 19.5px,#66dda8 23.5px,#5ccbcc 28.5px,#55a8e8 32.5px,#5297ff 34.5px,#535dff 39.5px,#4f3bfe 43.5px,#4930f9 45.5px,#4228d4 49.5px,#4127cc 51.5px,#4228cf 52.5px,#442ae6 54.5px,#4a31f9 56.5px,#5145ff 59.5px,#5474ff 65.5px,#5282ff 69.5px,#5283ff 74.5px,#5472ff 78.5px,#503cff 85.5px,#472df4 88.5px,#4228cf 92.5px,#3f25bd 97.5px,#3e24b6 111.5px,#3e24b6 153.5px)"></i><i style="background:linear-gradient(90deg,#a1d64e 0.5px,#9dd851 9.5px,#8fdd5b 14.5px,#85e163 16.5px,#70e48c 20.5px,#62dab1 24.5px,#5bc8cf 28.5px,#54a4ee 32.5px,#539cfa 33.5px,#5286ff 35.5px,#5358ff 39.5px,#4e38fd 43.5px,#482ef8 45.5px,#4228d1 49.5px,#4127cb 51.5px,#4127ce 52.5px,#4930f9 56.5px,#5143ff 59.5px,#5470ff 65.5px,#5281ff 70.5px,#5281ff 75.5px,#5474ff 78.5px,#4e38fd 86.5px,#482ff8 88.5px,#4228d2 92.5px,#3f25be 97.5px,#3e24b6 108.5px,#3e24b6 153.5px)"></i><i style="background:linear-gradient(90deg,#abd348 0.5px,#a4d54c 10.5px,#95db57 14.5px,#82e167 17.5px,#6be298 21.5px,#62d8b4 24.5px,#5ccbcb 27.5px,#55a8e8 31.5px,#5296ff 33.5px,#535cff 38.5px,#4f3bfe 42.5px,#472df3 45.5px,#4228d5 48.5px,#4127ca 50.5px,#4127cd 52.5px,#442ae2 54.5px,#492ff8 56.5px,#5149ff 60.5px,#556cff 65.5px,#537cff 69.5px,#5283ff 74.5px,#537cff 77.5px,#5251ff 83.5px,#4c36fc 87.5px,#472df4 89.5px,#4228cf 93.5px,#3f25bf 97.5px,#3e24b7 106.5px,#3e24b6 153.5px)"></i><i style="background:linear-gradient(90deg,#b4ce43 0.5px,#b0d046 8.5px,#a0d74f 13.5px,#83e165 17.5px,#6ee490 20.5px,#61d7b8 24.5px,#5bc7d0 27.5px,#54a2f0 31.5px,#529afd 32.5px,#5460ff 37.5px,#503eff 41.5px,#482ef8 44.5px,#4228d2 48.5px,#4127c9 50.5px,#4127cc 52.5px,#4329df 54.5px,#482ef8 56.5px,#5147ff 60.5px,#5568ff 65.5px,#527fff 71.5px,#5283ff 75.5px,#537aff 78.5px,#524dff 84.5px,#4b33fa 88.5px,#482ef8 89.5px,#4228d1 93.5px,#4026c1 97.5px,#3e24b7 105.5px,#3e24b6 153.5px)"></i><i style="background:linear-gradient(90deg,#beca3f 0.5px,#b8cd42 8.5px,#a4d54c 13.5px,#83e166 17.5px,#6de394 20.5px,#64dcac 22.5px,#5ccacd 26.5px,#54a5ec 30.5px,#539cf9 31.5px,#5292ff 32.5px,#5250ff 38.5px,#4c35fc 42.5px,#472df4 44.5px,#4228d1 48.5px,#4127c8 50.5px,#4127cb 52.5px,#4329dd 54.5px,#472df5 56.5px,#503dff 59.5px,#556aff 66.5px,#5283ff 73.5px,#5282ff 77.5px,#5569ff 81.5px,#4f3afe 87.5px,#4930f9 89.5px,#4228d4 93.5px,#4026c2 97.5px,#3e24b7 105.5px,#3e24b6 153.5px)"></i><i style="background:linear-gradient(90deg,#c7c63d 0.5px,#c2c83c 7.5px,#aed147 12.5px,#96da56 15.5px,#82e168 17.5px,#6be299 20.5px,#60d6b9 23.5px,#5bc4d2 26.5px,#55a8e8 29.5px,#5296ff 31.5px,#535dff 36.5px,#503dff 40.5px,#482ff8 43.5px,#4228d0 48.5px,#4127c8 50.5px,#4127cb 52.5px,#4329db 54.5px,#472df2 56.5px,#4c36fc 58.5px,#524fff 62.5px,#5474ff 69.5px,#5286ff 74.5px,#5285ff 77.5px,#546eff 81.5px,#503dff 87.5px,#482ef6 90.5px,#4228d0 94.5px,#3f25c0 98.5px,#3e24b7 107.5px,#3e24b6 153.5px)"></i><i style="background:linear-gradient(90deg,#cfc13e 0.5px,#c9c53d 7.5px,#bdcb3f 10.5px,#a0d74f 14.5px,#89df60 16.5px,#76e381 18.5px,#69e0a0 20.5px,#61d8b6 22.5px,#5bc7d0 25.5px,#56abe6 28.5px,#5299fd 30.5px,#5358ff 36.5px,#4f3afe 40.5px,#482ef6 43.5px,#4228d0 48.5px,#4127c8 51.5px,#4228cf 53.5px,#492ff9 57.5px,#5146ff 61.5px,#5472ff 69.5px,#5288ff 74.5px,#5285ff 78.5px,#5569ff 82.5px,#4e39fd 88.5px,#482ff8 90.5px,#4228d2 94.5px,#4026c1 98.5px,#3e24b7 106.5px,#3e24b6 153.5px)"></i><i style="background:linear-gradient(90deg,#d7bc40 0.5px,#d1c03f 6.5px,#c1c93d 10.5px,#9ed850 14.5px,#85e163 16.5px,#71e48a 18.5px,#66dda7 20.5px,#5ccacd 24.5px,#54a5ec 28.5px,#539cf9 29.5px,#5293ff 30.5px,#535dff 35.5px,#503eff 39.5px,#472df5 43.5px,#4228d1 48.5px,#4127c8 51.5px,#4127ce 53.5px,#482ef7 57.5px,#5143ff 61.5px,#5475ff 70.5px,#5289ff 74.5px,#528aff 77.5px,#537dff 80.5px,#5252ff 85.5px,#4c35fb 89.5px,#472df2 91.5px,#4127ce 95.5px,#3f25c0 99.5px,#3e24b7 106.5px,#3e24b6 153.5px)"></i><i style="background:linear-gradient(90deg,#deb942 0.5px,#d9bb40 5.5px,#c9c43d 9.5px,#bacc40 11.5px,#a7d44a 13.5px,#8dde5d 15.5px,#80e16b 16.5px,#6de394 18.5px,#61d7b8 21.5px,#5bc4d2 24.5px,#55a8e8 27.5px,#5297ff 29.5px,#5462ff 34.5px,#5142ff 38.5px,#4930f9 42.5px,#4228d3 48.5px,#4127ca 52.5px,#4228d4 54.5px,#472df4 57.5px,#5040ff 61.5px,#5474ff 70.5px,#5289ff 74.5px,#528bff 77.5px,#527fff 80.5px,#535dff 84.5px,#503cff 88.5px,#472df5 91.5px,#4228d0 95.5px,#3f25be 100.5px,#3e24b6 111.5px,#3e24b6 153.5px)"></i><i style="background:linear-gradient(90deg,#e2b844 0.5px,#ddb942 5.5px,#cac43d 9.5px,#c3c83c 10.5px,#a3d64c 13.5px,#87e062 15.5px,#71e48b 17.5px,#65dda9 19.5px,#5cc8ce 23.5px,#54a4ee 27.5px,#539bfa 28.5px,#5287ff 30.5px,#545eff 34.5px,#503bff 39.5px,#472df5 43.5px,#4228d1 49.5px,#4127ca 52.5px,#4228d2 54.5px,#492ff9 58.5px,#5148ff 63.5px,#5472ff 70.5px,#5289ff 74.5px,#528cff 77.5px,#5280ff 80.5px,#545eff 84.5px,#4d37fd 89.5px,#482ef7 91.5px,#4228d2 95.5px,#3f25bf 100.5px,#3e24b7 108.5px,#3e24b6 153.5px)"></i><i style="background:linear-gradient(90deg,#e6b846 0.5px,#ddb942 6.5px,#c2c83c 10.5px,#9fd750 13.5px,#82e169 15.5px,#6de394 17.5px,#60d6b9 20.5px,#5dccca 22.5px,#55a8e8 26.5px,#5298ff 28.5px,#535cff 34.5px,#503bff 39.5px,#482ef7 43.5px,#4228d0 50.5px,#4127cd 53.5px,#4329d8 55.5px,#482ef7 58.5px,#5144ff 63.5px,#546fff 70.5px,#5288ff 74.5px,#528bff 77.5px,#5280ff 80.5px,#5356ff 85.5px,#4e38fd 89.5px,#482ff8 91.5px,#4228cf 96.5px,#3f25be 101.5px,#3e24b6 110.5px,#3e24b6 153.5px)"></i><i style="background:linear-gradient(90deg,#e7bb46 0.5px,#e2b844 5.5px,#d2bf3f 8.5px,#c1c93d 10.5px,#a9d349 12.5px,#8bdf5f 14.5px,#72e388 16.5px,#65dda9 18.5px,#5cc9ce 22.5px,#54a5ed 26.5px,#5294ff 28.5px,#535aff 34.5px,#503bff 39.5px,#472df4 44.5px,#4228d0 51.5px,#4127cd 53.5px,#4228d6 55.5px,#472df3 58.5px,#4b34fb 60.5px,#5146ff 64.5px,#556cff 70.5px,#5286ff 74.5px,#528aff 77.5px,#527fff 80.5px,#5357ff 85.5px,#4e39fe 89.5px,#472df3 92.5px,#4228d0 96.5px,#3f25bc 102.5px,#3e24b6 114.5px,#3e24b6 153.5px)"></i><i style="background:linear-gradient(90deg,#e8bd46 0.5px,#e3b845 5.5px,#daba41 7.5px,#bfca3e 10.5px,#a5d54b 12.5px,#85e063 14.5px,#6ee490 16.5px,#64dbad 18.5px,#5bc6d1 22.5px,#54a2f0 26.5px,#539bfb 27.5px,#5288ff 29.5px,#5461ff 33.5px,#5041ff 38.5px,#4930f9 43.5px,#4329de 49.5px,#4228d0 52.5px,#4228cf 54.5px,#4329dc 56.5px,#482ef8 59.5px,#5148ff 65.5px,#5470ff 71.5px,#5283ff 74.5px,#5288ff 77.5px,#537eff 80.5px,#524fff 86.5px,#4c35fc 90.5px,#472df6 92.5px,#4127cd 97.5px,#3f25bb 103.5px,#3e24b6 119.5px,#3e24b6 153.5px)"></i><i style="background:linear-gradient(90deg,#e9bf46 0.5px,#e4b845 5.5px,#daba41 7.5px,#c8c53d 9.5px,#b0d045 11.5px,#92dc59 13.5px,#82e167 14.5px,#6de394 16.5px,#63dab0 18.5px,#5ac3d3 22.5px,#55a9e7 25.5px,#5299fd 27.5px,#5359ff 34.5px,#503dff 39.5px,#482ef6 45.5px,#4228cf 53.5px,#4228d2 55.5px,#492ff9 60.5px,#514aff 66.5px,#5473ff 72.5px,#5282ff 75.5px,#5283ff 78.5px,#546eff 82.5px,#503cff 89.5px,#482ef8 92.5px,#4228cf 97.5px,#3f25be 102.5px,#3e24b6 111.5px,#3e24b6 153.5px)"></i><i style="background:linear-gradient(90deg,#e9c046 0.5px,#e4b845 5.5px,#daba41 7.5px,#c8c53d 9.5px,#afd146 11.5px,#90dd5b 13.5px,#81e16a 14.5px,#6ce296 16.5px,#63dab1 18.5px,#5ccbcc 21.5px,#55a8e8 25.5px,#5299fe 27.5px,#5359ff 34.5px,#503dff 39.5px,#472df5 46.5px,#4228d1 53.5px,#4228d0 55.5px,#4329dd 57.5px,#482ef6 60.5px,#5041ff 65.5px,#5475ff 73.5px,#5280ff 76.5px,#537cff 79.5px,#5566ff 83.5px,#4e38fd 90.5px,#4930f9 92.5px,#4127cc 98.5px,#3f25bc 103.5px,#3e24b6 115.5px,#3e24b6 153.5px)"></i><i style="background:linear-gradient(90deg,#e9c046 0.5px,#e4b845 5.5px,#daba41 7.5px,#c7c53d 9.5px,#afd146 11.5px,#90dd5b 13.5px,#81e16b 14.5px,#6ce296 16.5px,#63dab1 18.5px,#5ccbcc 21.5px,#55a8e8 25.5px,#5299fe 27.5px,#5359ff 34.5px,#503eff 39.5px,#482ef8 46.5px,#4228d0 54.5px,#4228d3 56.5px,#482ff8 61.5px,#5142ff 66.5px,#5474ff 74.5px,#537cff 77.5px,#5471ff 81.5px,#4f3afe 90.5px,#482ef6 93.5px,#4127cd 98.5px,#3f25bb 104.5px,#3e24b6 117.5px,#3e24b6 153.5px)"></i><i style="background:linear-gradient(90deg,#e8bf46 0.5px,#e3b844 5.5px,#d0c03f 8.5px,#bbcc40 10.5px,#9fd74f 12.5px,#81e16b 14.5px,#6ce296 16.5px,#63dab1 18.5px,#5ccbcc 21.5px,#55a8e8 25.5px,#5299fe 27.5px,#5461ff 33.5px,#5143ff 38.5px,#4c35fc 43.5px,#482ef8 47.5px,#4228d1 54.5px,#4228d1 56.5px,#492ff9 62.5px,#514aff 68.5px,#546fff 74.5px,#5377ff 77.5px,#5473ff 80.5px,#5147ff 88.5px,#4b33fa 92.5px,#462cf1 94.5px,#4228cf 98.5px,#3f25bd 103.5px,#3e24b6 114.5px,#3e24b6 153.5px)"></i><i style="background:linear-gradient(90deg,#e8bc46 0.5px,#e1b943 5.5px,#d6bd40 7.5px,#c4c73c 9.5px,#9ed850 12.5px,#80e26c 14.5px,#6ce297 16.5px,#60d5bb 19.5px,#5ac3d3 22.5px,#54a1f2 26.5px,#5299fd 27.5px,#5461ff 33.5px,#5148ff 37.5px,#4e38fd 42.5px,#482ef7 48.5px,#4228d2 54.5px,#4228d2 57.5px,#482ef6 62.5px,#5040ff 67.5px,#546eff 75.5px,#5474ff 78.5px,#546eff 81.5px,#524fff 87.5px,#4c34fb 92.5px,#472df4 94.5px,#4127cb 99.5px,#3f25ba 105.5px,#3e24b6 123.5px,#3e24b6 153.5px)"></i><i style="background:linear-gradient(90deg,#e6b946 0.5px,#deb942 5.5px,#c1c93d 9.5px,#9cd852 12.5px,#8dde5d 13.5px,#74e384 15.5px,#67dea5 17.5px,#5ccbcb 21.5px,#54a1f1 26.5px,#529afc 27.5px,#5462ff 33.5px,#5144ff 38.5px,#492ff9 48.5px,#442ae3 52.5px,#4228d0 55.5px,#4228d0 57.5px,#482ef8 63.5px,#5142ff 68.5px,#556bff 75.5px,#5472ff 79.5px,#5568ff 83.5px,#4d36fc 92.5px,#482ef7 94.5px,#4228d2 98.5px,#3f25be 103.5px,#3e24b6 112.5px,#3e24b6 153.5px)"></i><i style="background:linear-gradient(90deg,#e2b844 0.5px,#dcb941 4.5px,#c5c73c 8.5px,#a6d54a 11.5px,#8adf5f 13.5px,#6ce297 16.5px,#63dab1 18.5px,#5bc4d2 22.5px,#54a2f0 26.5px,#539bfb 27.5px,#5288ff 29.5px,#535bff 34.5px,#5142ff 39.5px,#482ff8 49.5px,#4329df 53.5px,#4228d1 55.5px,#4228d1 58.5px,#482ff8 64.5px,#5145ff 69.5px,#5568ff 75.5px,#5472ff 78.5px,#546eff 82.5px,#524fff 88.5px,#4b33fb 93.5px,#492ff9 94.5px,#4127ce 99.5px,#3f25bf 103.5px,#3e24b6 112.5px,#3e24b6 153.5px)"></i><i style="background:linear-gradient(90deg,#dcb941 0.5px,#d5bd40 4.5px,#bfca3e 8.5px,#a1d64e 11.5px,#87e062 13.5px,#6be299 16.5px,#60d6ba 19.5px,#5bc5d2 22.5px,#54a3ef 26.5px,#539cfa 27.5px,#5289ff 29.5px,#535cff 34.5px,#5147ff 38.5px,#4c35fc 47.5px,#482ef8 50.5px,#4228d3 55.5px,#4127ce 57.5px,#4228d3 59.5px,#4930f9 65.5px,#5149ff 70.5px,#556cff 76.5px,#5474ff 79.5px,#546dff 83.5px,#514cff 89.5px,#4c35fb 93.5px,#472df4 95.5px,#4228cf 99.5px,#3f25bd 104.5px,#3e24b6 114.5px,#3e24b6 153.5px)"></i><i style="background:linear-gradient(90deg,#d2bf3f 0.5px,#c8c53d 5.5px,#beca3f 7.5px,#a5d54b 10.5px,#83e167 13.5px,#70e48c 15.5px,#63dab1 18.5px,#5bc5d1 22.5px,#54a4ed 26.5px,#5294ff 28.5px,#545eff 34.5px,#5149ff 38.5px,#4d38fd 47.5px,#492ff9 50.5px,#4329dd 54.5px,#4228d0 56.5px,#4127cd 58.5px,#4329db 61.5px,#492ff8 65.5px,#5142ff 69.5px,#556dff 76.5px,#5377ff 79.5px,#5475ff 82.5px,#535cff 87.5px,#4d36fc 93.5px,#482ef7 95.5px,#4228d1 99.5px,#3f25bd 104.5px,#3e24b6 114.5px,#3e24b6 153.5px)"></i><i style="background:linear-gradient(90deg,#c6c63d 0.5px,#c1c93d 4.5px,#add247 8.5px,#93dc59 11.5px,#88e061 12.5px,#6ee491 15.5px,#62d9b2 18.5px,#5bc6d1 22.5px,#54a5ec 26.5px,#5296ff 28.5px,#545fff 34.5px,#514aff 38.5px,#4d37fc 48.5px,#482ef8 51.5px,#4228d1 56.5px,#4127cc 58.5px,#4228d1 60.5px,#482ef8 65.5px,#5041ff 69.5px,#5474ff 77.5px,#537bff 81.5px,#556cff 85.5px,#4e38fd 93.5px,#482ef8 95.5px,#4228d2 99.5px,#3f25c0 103.5px,#3e24b7 110.5px,#3e24b6 153.5px)"></i><i style="background:linear-gradient(90deg,#b8cd41 0.5px,#b0d045 5.5px,#9bd953 9.5px,#81e16a 12.5px,#6ce396 15.5px,#64dcac 17.5px,#5bc6d1 22.5px,#55a6eb 26.5px,#5297ff 28.5px,#5461ff 34.5px,#514cff 38.5px,#4e39fd 48.5px,#492ff9 51.5px,#4228d2 56.5px,#4127cc 59.5px,#4228d5 61.5px,#482ef7 65.5px,#5142ff 69.5px,#5377ff 77.5px,#527fff 80.5px,#5376ff 84.5px,#524dff 90.5px,#4b34fb 94.5px,#4930f9 95.5px,#4127cd 100.5px,#3f25bc 105.5px,#3e24b6 117.5px,#3e24b6 153.5px)"></i><i style="background:linear-gradient(90deg,#a9d349 0.5px,#a2d64d 5.5px,#8edd5c 9.5px,#81e16a 11.5px,#6ee492 14.5px,#5fd4bd 19.5px,#5bc5d1 22.5px,#55a7ea 26.5px,#5298ff 28.5px,#535bff 35.5px,#514cff 39.5px,#5041ff 46.5px,#482ef6 52.5px,#4228d4 56.5px,#4127cb 59.5px,#4228d3 61.5px,#482ef7 65.5px,#5142ff 69.5px,#5475ff 76.5px,#5282ff 79.5px,#5282ff 82.5px,#546eff 86.5px,#4c35fc 94.5px,#472df3 96.5px,#4127ce 100.5px,#3f25be 104.5px,#3e24b6 113.5px,#3e24b6 153.5px)"></i><i style="background:linear-gradient(90deg,#98da55 0.5px,#8fdd5c 6.5px,#82e168 9.5px,#6be299 14.5px,#5ecfc5 20.5px,#57b6de 24.5px,#55a7ea 26.5px,#5299fe 28.5px,#5463ff 34.5px,#5250ff 38.5px,#5144ff 46.5px,#482ef8 52.5px,#4228cf 57.5px,#4127cb 59.5px,#4228d2 61.5px,#482ef7 65.5px,#5143ff 69.5px,#5472ff 75.5px,#5283ff 78.5px,#5287ff 81.5px,#5378ff 85.5px,#5252ff 90.5px,#4d36fc 94.5px,#472df5 96.5px,#4228cf 100.5px,#3f25bf 104.5px,#3e24b7 110.5px,#3e24b6 153.5px)"></i><i style="background:linear-gradient(90deg,#87e062 0.5px,#83e167 5.5px,#79e37b 9.5px,#6be299 13.5px,#5ccacd 21.5px,#55a7ea 26.5px,#5299fd 28.5px,#545eff 35.5px,#5250ff 39.5px,#5149ff 45.5px,#4b33fb 51.5px,#472df3 53.5px,#4228d0 57.5px,#4127cb 59.5px,#4228d2 61.5px,#482ef8 65.5px,#5145ff 69.5px,#5475ff 75.5px,#5286ff 78.5px,#5289ff 82.5px,#537cff 85.5px,#5254ff 90.5px,#4d37fd 94.5px,#482ef7 96.5px,#4228d0 100.5px,#3f25bf 104.5px,#3e24b6 113.5px,#3e24b6 153.5px)"></i><i style="background:linear-gradient(90deg,#7ae278 0.5px,#76e380 6.5px,#6ae09d 12.5px,#5dcdc9 20.5px,#55a6ea 26.5px,#5299fd 28.5px,#5460ff 35.5px,#5252ff 39.5px,#514bff 45.5px,#4e38fd 50.5px,#472df5 53.5px,#4228d1 57.5px,#4127cb 59.5px,#4228d2 61.5px,#482ef8 65.5px,#5146ff 69.5px,#5470ff 74.5px,#5289ff 78.5px,#528cff 82.5px,#527fff 85.5px,#545eff 89.5px,#4e38fd 94.5px,#482ef8 96.5px,#4228d0 100.5px,#3f25bf 104.5px,#3e24b6 113.5px,#3e24b6 153.5px)"></i><i style="background:linear-gradient(90deg,#6fe48f 0.5px,#6be298 8.5px,#61d6b9 16.5px,#5bc6d1 21.5px,#55a6eb 26.5px,#5299fd 28.5px,#5461ff 35.5px,#5254ff 39.5px,#524dff 45.5px,#4c35fc 51.5px,#482ef7 53.5px,#4228d2 57.5px,#4127cc 59.5px,#4228d2 61.5px,#492ff8 65.5px,#5147ff 69.5px,#5472ff 74.5px,#5287ff 77.5px,#5290ff 80.5px,#528cff 83.5px,#537aff 86.5px,#524fff 91.5px,#4b34fb 95.5px,#482ff8 96.5px,#4228d1 100.5px,#3f25bf 104.5px,#3e24b6 113.5px,#3e24b6 153.5px)"></i><i style="background:linear-gradient(90deg,#69e09d 0.5px,#67dea4 8.5px,#5ed2c2 17.5px,#5ac3d3 21.5px,#54a5ed 26.5px,#5299fe 28.5px,#5568ff 34.5px,#5357ff 38.5px,#5252ff 44.5px,#4d36fc 51.5px,#482ef8 53.5px,#4127ce 58.5px,#4127ce 60.5px,#4228d2 61.5px,#492ff9 65.5px,#5148ff 69.5px,#5474ff 74.5px,#528aff 77.5px,#5293ff 81.5px,#5284ff 85.5px,#5359ff 90.5px,#4f3afe 94.5px,#492ff9 96.5px,#4228d2 100.5px,#3f25c0 104.5px,#3e24b7 111.5px,#3e24b6 153.5px)"></i><i style="background:linear-gradient(90deg,#65ddaa 0.5px,#63dab0 9.5px,#5dcfc6 17.5px,#5ac0d6 21.5px,#55a9e7 25.5px,#5298ff 28.5px,#5462ff 35.5px,#5357ff 39.5px,#5251ff 45.5px,#4d37fd 51.5px,#492ff8 53.5px,#4228d4 57.5px,#4127cc 59.5px,#4228d3 61.5px,#4930f9 65.5px,#5149ff 69.5px,#5376ff 74.5px,#528cff 77.5px,#5295ff 81.5px,#5286ff 85.5px,#535aff 90.5px,#4f3afe 94.5px,#4930f9 96.5px,#4228d2 100.5px,#3f25c0 104.5px,#3e24b7 111.5px,#3e24b6 153.5px)"></i><i style="background:linear-gradient(90deg,#62d9b2 0.5px,#60d6b9 10.5px,#5ccacd 18.5px,#55a7e9 25.5px,#5296ff 28.5px,#5568ff 34.5px,#5359ff 38.5px,#5255ff 44.5px,#4e38fd 51.5px,#492ff9 53.5px,#4228cf 58.5px,#4127ce 60.5px,#4329dd 62.5px,#4930f9 65.5px,#514aff 69.5px,#5280ff 75.5px,#5295ff 79.5px,#5295ff 82.5px,#5280ff 86.5px,#5142ff 93.5px,#4930f9 96.5px,#442ae8 98.5px,#4228d2 100.5px,#3f25c0 104.5px,#3e24b7 111.5px,#3e24b6 153.5px)"></i><i style="background:linear-gradient(90deg,#60d6b9 0.5px,#5fd3c0 11.5px,#5bc6d1 18.5px,#54a5ec 25.5px,#5294ff 28.5px,#5568ff 34.5px,#535cff 37.5px,#5256ff 44.5px,#503dff 50.5px,#4930f9 53.5px,#452be9 55.5px,#4228cf 58.5px,#4127ce 60.5px,#4329dd 62.5px,#4930f9 65.5px,#514aff 69.5px,#5281ff 75.5px,#5296ff 79.5px,#5296ff 82.5px,#5281ff 86.5px,#5142ff 93.5px,#4930f9 96.5px,#4127cc 101.5px,#3f25bb 106.5px,#3e24b6 119.5px,#3e24b6 153.5px)"></i><i style="background:linear-gradient(90deg,#5fd3bf 0.5px,#5ed0c4 11.5px,#5bc5d1 17.5px,#55a8e8 24.5px,#5299fd 27.5px,#5462ff 35.5px,#535aff 39.5px,#5254ff 45.5px,#4e39fd 51.5px,#4930f9 53.5px,#4329e0 56.5px,#4228d0 58.5px,#4127ce 60.5px,#4329dd 62.5px,#4930f9 65.5px,#5142ff 68.5px,#546fff 73.5px,#528eff 77.5px,#5298ff 80.5px,#5293ff 83.5px,#5379ff 87.5px,#5253ff 91.5px,#4c35fc 95.5px,#472df2 97.5px,#4127cc 101.5px,#3f25bb 106.5px,#3e24b6 119.5px,#3e24b6 153.5px)"></i><i style="background:linear-gradient(90deg,#5ed1c3 0.5px,#5dccc9 12.5px,#59bfd7 18.5px,#55a6eb 24.5px,#5298ff 27.5px,#5462ff 35.5px,#535aff 39.5px,#5357ff 44.5px,#503eff 50.5px,#4930f9 53.5px,#4329e0 56.5px,#4228d0 58.5px,#4127ce 60.5px,#4329dd 62.5px,#4930f9 65.5px,#5142ff 68.5px,#546fff 73.5px,#528eff 77.5px,#5298ff 80.5px,#5293ff 83.5px,#5379ff 87.5px,#5253ff 91.5px,#4c35fc 95.5px,#472df2 97.5px,#4127cc 101.5px,#3f25bb 106.5px,#3e24b6 119.5px,#3e24b6 153.5px)"></i><i style="background:linear-gradient(90deg,#5dcfc6 0.5px,#5ccbcc 12.5px,#57b5df 20.5px,#54a4ed 24.5px,#5296ff 27.5px,#5566ff 34.5px,#535bff 37.5px,#5357ff 44.5px,#503eff 50.5px,#4930f9 53.5px,#4329e0 56.5px,#4228d0 58.5px,#4127ce 60.5px,#4329dd 62.5px,#4930f9 65.5px,#514aff 69.5px,#5281ff 75.5px,#5296ff 79.5px,#5296ff 82.5px,#5281ff 86.5px,#5142ff 93.5px,#4930f9 96.5px,#4127cc 101.5px,#3f25bb 106.5px,#3e24b6 119.5px,#3e24b6 153.5px)"></i><i style="background:linear-gradient(90deg,#5dcdc8 0.5px,#5cc9ce 12.5px,#57b4e0 20.5px,#54a3ef 24.5px,#5294ff 27.5px,#5465ff 34.5px,#5359ff 38.5px,#5356ff 44.5px,#5143ff 49.5px,#4930f9 53.5px,#4329e0 56.5px,#4228d0 58.5px,#4127ce 60.5px,#4329dd 62.5px,#4930f9 65.5px,#514aff 69.5px,#5280ff 75.5px,#5295ff 79.5px,#5295ff 82.5px,#5280ff 86.5px,#5142ff 93.5px,#4930f9 96.5px,#442ae8 98.5px,#4228d2 100.5px,#3f25c0 104.5px,#3e24b7 111.5px,#3e24b6 153.5px)"></i><i style="background:linear-gradient(90deg,#5dccca 0.5px,#5cc9ce 11.5px,#57b5df 19.5px,#55a6eb 23.5px,#5298fe 26.5px,#5463ff 34.5px,#5358ff 38.5px,#5256ff 44.5px,#503dff 50.5px,#4930f9 53.5px,#452be9 55.5px,#4228cf 58.5px,#4127ce 60.5px,#4329dc 62.5px,#4930f9 65.5px,#5149ff 69.5px,#5376ff 74.5px,#528cff 77.5px,#5295ff 81.5px,#5286ff 85.5px,#535aff 90.5px,#4f3afe 94.5px,#4930f9 96.5px,#4228d2 100.5px,#3f25c0 104.5px,#3e24b7 111.5px,#3e24b6 153.5px)"></i><i style="background:linear-gradient(90deg,#5ccbcb 0.5px,#5bc7d0 11.5px,#57b4e0 19.5px,#54a4ed 23.5px,#5297ff 26.5px,#5462ff 34.5px,#5357ff 38.5px,#5254ff 44.5px,#5146ff 48.5px,#492ff9 53.5px,#4228cf 58.5px,#4127cd 60.5px,#4329db 62.5px,#492ff9 65.5px,#5148ff 69.5px,#5474ff 74.5px,#528aff 77.5px,#5293ff 81.5px,#5284ff 85.5px,#5359ff 90.5px,#4f3afe 94.5px,#492ff9 96.5px,#4228d2 100.5px,#3f25c0 104.5px,#3e24b7 111.5px,#3e24b6 153.5px)"></i><i style="background:linear-gradient(90deg,#5ccacc 0.5px,#5bc7d0 10.5px,#57b5df 18.5px,#55a7ea 22.5px,#5295ff 26.5px,#5460ff 34.5px,#5255ff 38.5px,#5253ff 44.5px,#5040ff 49.5px,#482ff8 53.5px,#4127ce 58.5px,#4127cd 60.5px,#4329da 62.5px,#482ff8 65.5px,#5147ff 69.5px,#5472ff 74.5px,#5287ff 77.5px,#5290ff 80.5px,#528cff 83.5px,#537aff 86.5px,#524fff 91.5px,#4b34fb 95.5px,#482ff8 96.5px,#4228d1 100.5px,#3f25bf 104.5px,#3e24b6 113.5px,#3e24b6 153.5px)"></i><i style="background:linear-gradient(90deg,#5cc9ce 0.5px,#5bc4d3 11.5px,#57b1e2 19.5px,#54a5ec 22.5px,#5298fe 25.5px,#545eff 34.5px,#5253ff 38.5px,#5251ff 44.5px,#503fff 49.5px,#482ef8 53.5px,#4228d3 57.5px,#4127cb 59.5px,#4228d1 61.5px,#482ef8 65.5px,#5146ff 69.5px,#5470ff 74.5px,#5289ff 78.5px,#528dff 81.5px,#5285ff 84.5px,#5567ff 88.5px,#4e38fd 94.5px,#482ef8 96.5px,#4228d0 100.5px,#3f25bf 104.5px,#3e24b6 113.5px,#3e24b6 153.5px)"></i><i style="background:linear-gradient(90deg,#5bc8cf 0.5px,#5ac1d5 12.5px,#56abe6 20.5px,#5296ff 25.5px,#535bff 34.5px,#5251ff 38.5px,#524fff 44.5px,#4c35fc 51.5px,#482ef7 53.5px,#4228d2 57.5px,#4127cb 59.5px,#4228d0 61.5px,#482ef7 65.5px,#5144ff 69.5px,#5475ff 75.5px,#5286ff 78.5px,#5289ff 82.5px,#537cff 85.5px,#5254ff 90.5px,#4d37fd 94.5px,#482ef7 96.5px,#4228d0 100.5px,#3f25bf 104.5px,#3e24b6 113.5px,#3e24b6 153.5px)"></i><i style="background:linear-gradient(90deg,#5bc6d0 0.5px,#5ac1d5 11.5px,#56ade4 19.5px,#539ef7 23.5px,#5294ff 25.5px,#5359ff 34.5px,#524eff 38.5px,#524dff 44.5px,#4e38fd 50.5px,#472df5 53.5px,#4228d1 57.5px,#4127ca 59.5px,#4228cf 61.5px,#472df5 65.5px,#5143ff 69.5px,#5472ff 75.5px,#5286ff 79.5px,#5283ff 83.5px,#5462ff 88.5px,#4d36fc 94.5px,#472df5 96.5px,#4228cf 100.5px,#3f25bf 104.5px,#3e24b7 110.5px,#3e24b6 153.5px)"></i><i style="background:linear-gradient(90deg,#5bc5d1 0.5px,#5ac0d6 11.5px,#56ace5 19.5px,#5298ff 24.5px,#5356ff 34.5px,#514cff 38.5px,#514aff 44.5px,#4d37fc 50.5px,#492ff9 52.5px,#4228d0 57.5px,#4127c9 59.5px,#4228cf 61.5px,#4329df 63.5px,#472df3 65.5px,#4f3bfe 68.5px,#5475ff 76.5px,#5282ff 79.5px,#527fff 83.5px,#545fff 88.5px,#4c35fc 94.5px,#472df3 96.5px,#4127ce 100.5px,#3f25be 104.5px,#3e24b6 113.5px,#3e24b6 153.5px)"></i><i style="background:linear-gradient(90deg,#5bc4d2 0.5px,#59bed7 11.5px,#55aae7 19.5px,#5295ff 24.5px,#5359ff 33.5px,#514aff 37.5px,#5146ff 45.5px,#4a32fa 51.5px,#482ef8 52.5px,#4228cf 57.5px,#4127c8 59.5px,#4228d4 62.5px,#4930f9 66.5px,#5147ff 70.5px,#5471ff 76.5px,#527eff 79.5px,#537dff 82.5px,#556aff 86.5px,#4e39fe 93.5px,#4930f9 95.5px,#4127cd 100.5px,#3f25bc 105.5px,#3e24b6 117.5px,#3e24b6 153.5px)"></i><i style="background:linear-gradient(90deg,#5ac3d3 0.5px,#59bdd8 11.5px,#55a8e8 19.5px,#5299fe 23.5px,#5356ff 33.5px,#5147ff 37.5px,#5143ff 45.5px,#4930f9 51.5px,#462cee 53.5px,#4127ce 57.5px,#4127c8 59.5px,#4228d2 62.5px,#482ff8 66.5px,#5145ff 70.5px,#5473ff 77.5px,#537bff 80.5px,#5472ff 84.5px,#4e38fd 93.5px,#482ef8 95.5px,#4228d2 99.5px,#3f25c0 103.5px,#3e24b7 110.5px,#3e24b6 153.5px)"></i><i style="background:linear-gradient(90deg,#5ac2d4 0.5px,#59bcd9 11.5px,#55a7e9 19.5px,#5297ff 23.5px,#5359ff 32.5px,#5146ff 36.5px,#5040ff 45.5px,#492ff9 51.5px,#4127cc 57.5px,#4026c7 59.5px,#4228d1 62.5px,#482ef7 66.5px,#5143ff 70.5px,#5470ff 77.5px,#5377ff 81.5px,#5568ff 85.5px,#503bff 92.5px,#482ef6 95.5px,#4228d1 99.5px,#3f25bd 104.5px,#3e24b6 114.5px,#3e24b6 153.5px)"></i><i style="background:linear-gradient(90deg,#5ac1d5 0.5px,#58bbda 11.5px,#55a9e7 18.5px,#529afd 22.5px,#5472ff 28.5px,#514bff 34.5px,#5040ff 38.5px,#503dff 45.5px,#482ef7 51.5px,#4228d0 56.5px,#4026c6 59.5px,#4228d0 62.5px,#472df5 66.5px,#5041ff 70.5px,#5568ff 76.5px,#5473ff 79.5px,#546eff 83.5px,#514cff 89.5px,#4c35fb 93.5px,#472df4 95.5px,#4228cf 99.5px,#3f25bd 104.5px,#3e24b6 114.5px,#3e24b6 153.5px)"></i><i style="background:linear-gradient(90deg,#5ac0d6 0.5px,#58badb 11.5px,#55a8e9 18.5px,#5298ff 22.5px,#535aff 31.5px,#5041ff 36.5px,#503dff 41.5px,#4d37fc 47.5px,#492ff9 50.5px,#4127ce 56.5px,#4026c5 59.5px,#4127ce 62.5px,#472df3 66.5px,#4f3afe 69.5px,#556bff 77.5px,#5471ff 80.5px,#5566ff 84.5px,#4e38fd 92.5px,#492ff9 94.5px,#4127ce 99.5px,#3f25bf 103.5px,#3e24b6 112.5px,#3e24b6 153.5px)"></i><i style="background:linear-gradient(90deg,#59bfd7 0.5px,#58b9dc 11.5px,#55a6eb 18.5px,#5296ff 22.5px,#5357ff 31.5px,#503eff 36.5px,#4c35fb 47.5px,#482ef6 50.5px,#4127cd 56.5px,#4026c4 59.5px,#4127cd 62.5px,#492ff9 67.5px,#514cff 72.5px,#556aff 77.5px,#546fff 80.5px,#5463ff 84.5px,#4d36fc 92.5px,#482ef7 94.5px,#4228d2 98.5px,#3f25be 103.5px,#3e24b6 112.5px,#3e24b6 153.5px)"></i><i style="background:linear-gradient(90deg,#59bed8 0.5px,#58b9dc 10.5px,#55a8e8 17.5px,#5299fd 21.5px,#5471ff 27.5px,#5149ff 33.5px,#4f39fe 37.5px,#4c34fb 46.5px,#482ef8 49.5px,#4127cb 56.5px,#4026c3 59.5px,#4127cc 62.5px,#4329db 64.5px,#482ff8 67.5px,#5145ff 71.5px,#5465ff 76.5px,#546eff 79.5px,#5465ff 83.5px,#4e39fd 91.5px,#472df4 94.5px,#4228d1 98.5px,#3f25c0 102.5px,#3e24b7 109.5px,#3e24b6 153.5px)"></i><i style="background:linear-gradient(90deg,#59bdd8 0.5px,#58b8dd 10.5px,#55a7ea 17.5px,#5297ff 21.5px,#546eff 27.5px,#5041ff 34.5px,#4d36fc 38.5px,#4930f9 47.5px,#472df4 49.5px,#4127c9 56.5px,#4026c2 59.5px,#4228d0 63.5px,#482ef8 67.5px,#5144ff 71.5px,#5465ff 76.5px,#556dff 79.5px,#5463ff 83.5px,#4f3bff 90.5px,#482ff8 93.5px,#4228cf 98.5px,#3f25bd 103.5px,#3e24b6 114.5px,#3e24b6 153.5px)"></i><i style="background:linear-gradient(90deg,#59bcd9 0.5px,#58b7dd 10.5px,#55a6eb 17.5px,#5295ff 21.5px,#5356ff 30.5px,#4d37fd 36.5px,#482ef8 47.5px,#4329dd 52.5px,#4127c8 56.5px,#4026c1 59.5px,#4228cf 63.5px,#482ef6 67.5px,#5144ff 71.5px,#5465ff 76.5px,#556dff 79.5px,#5566ff 82.5px,#4e39fe 90.5px,#472df6 93.5px,#4127cd 98.5px,#3f25bd 103.5px,#3e24b6 113.5px,#3e24b6 153.5px)"></i><i style="background:linear-gradient(90deg,#59bbda 0.5px,#57b6de 10.5px,#55a8e9 16.5px,#5299fe 20.5px,#5470ff 26.5px,#5142ff 33.5px,#4b33fb 37.5px,#482ef7 46.5px,#4329df 51.5px,#4127ca 55.5px,#3f25c0 59.5px,#4127ce 63.5px,#4329e0 65.5px,#472df5 67.5px,#5144ff 71.5px,#5565ff 76.5px,#556cff 79.5px,#5465ff 82.5px,#4d37fd 90.5px,#492ff9 92.5px,#4228d1 97.5px,#3f25be 102.5px,#3e24b6 112.5px,#3e24b6 153.5px)"></i><i style="background:linear-gradient(90deg,#58badb 0.5px,#57b5df 10.5px,#55a6ea 16.5px,#5297ff 20.5px,#546eff 26.5px,#5040ff 33.5px,#4a31fa 37.5px,#472df4 45.5px,#4329e1 50.5px,#4127c8 55.5px,#3f25c0 59.5px,#4127cd 63.5px,#4329de 65.5px,#472df4 67.5px,#503cff 70.5px,#5465ff 76.5px,#556cff 79.5px,#545fff 83.5px,#4c35fc 90.5px,#482ef7 92.5px,#4228cf 97.5px,#3f25be 102.5px,#3e24b6 111.5px,#3e24b6 153.5px)"></i><i style="background:linear-gradient(90deg,#58b9dc 0.5px,#57b4e0 10.5px,#55a5ec 16.5px,#5296ff 20.5px,#5357ff 29.5px,#4f3afe 34.5px,#482ef8 38.5px,#452bea 47.5px,#4026c6 55.5px,#3f25bf 59.5px,#4127cc 63.5px,#4329dd 65.5px,#472df3 67.5px,#503cff 70.5px,#5464ff 76.5px,#556bff 79.5px,#5462ff 82.5px,#4e38fd 89.5px,#4930f9 91.5px,#4127cd 97.5px,#3f25bb 103.5px,#3e24b6 119.5px,#3e24b6 153.5px)"></i><i style="background:linear-gradient(90deg,#58b8dc 0.5px,#57b3e0 10.5px,#55a7e9 15.5px,#5294ff 20.5px,#535cff 28.5px,#4e38fd 34.5px,#462cf1 39.5px,#442ae5 47.5px,#4127c8 54.5px,#3f25be 59.5px,#4127cb 63.5px,#4329db 65.5px,#4930f9 68.5px,#5142ff 71.5px,#5463ff 76.5px,#5569ff 79.5px,#5461ff 82.5px,#4f3bff 88.5px,#482ef8 91.5px,#4228d0 96.5px,#3f25be 101.5px,#3e24b6 112.5px,#3e24b6 153.5px)"></i><i style="background:linear-gradient(90deg,#58b7dd 0.5px,#57b2e1 10.5px,#55a6eb 15.5px,#5298ff 19.5px,#5470ff 25.5px,#503bff 33.5px,#462cf1 38.5px,#442ae8 43.5px,#4329db 48.5px,#4026c1 56.5px,#3f25bd 59.5px,#4127ca 63.5px,#4329d9 65.5px,#492ff9 68.5px,#5148ff 72.5px,#5461ff 76.5px,#5567ff 79.5px,#545eff 82.5px,#4e39fe 88.5px,#472df4 91.5px,#4228d3 95.5px,#3f25c0 100.5px,#3e24b7 109.5px,#3e24b6 153.5px)"></i><i style="background:linear-gradient(90deg,#58b6de 0.5px,#57b1e2 10.5px,#54a5ec 15.5px,#5297ff 19.5px,#5359ff 28.5px,#4d36fc 34.5px,#492ff9 36.5px,#442ae7 40.5px,#4329d9 47.5px,#3f25be 57.5px,#4026c1 61.5px,#4228cf 64.5px,#482ef8 68.5px,#5146ff 72.5px,#545fff 76.5px,#5464ff 79.5px,#535bff 82.5px,#4d37fd 88.5px,#482ff8 90.5px,#4228d0 95.5px,#3f25bd 101.5px,#3e24b6 115.5px,#3e24b6 153.5px)"></i><i style="background:linear-gradient(90deg,#57b5df 0.5px,#56b0e3 10.5px,#55a7ea 14.5px,#5295ff 19.5px,#556cff 25.5px,#4f39fe 33.5px,#482ef8 36.5px,#442ae2 40.5px,#4026c5 53.5px,#3f25bc 59.5px,#4127c8 63.5px,#4228d5 65.5px,#482ef6 68.5px,#5144ff 72.5px,#535bff 76.5px,#5461ff 79.5px,#5253ff 83.5px,#4c35fc 88.5px,#472df5 90.5px,#4228d3 94.5px,#4026c1 99.5px,#3e24b7 109.5px,#3e24b6 153.5px)"></i><i style="background:linear-gradient(90deg,#57b4df 0.5px,#56b0e2 9.5px,#55a6eb 14.5px,#5299fe 18.5px,#5472ff 24.5px,#503dff 32.5px,#482ef6 36.5px,#4329de 40.5px,#3f25bb 58.5px,#4026c2 62.5px,#4228d3 65.5px,#472df3 68.5px,#4f3bff 71.5px,#5357ff 76.5px,#535cff 79.5px,#524fff 83.5px,#4b33fb 88.5px,#492ff9 89.5px,#4228d1 94.5px,#4026c3 98.5px,#3e24b8 107.5px,#3e24b6 153.5px)"></i><i style="background:linear-gradient(90deg,#57b3e0 0.5px,#56afe3 9.5px,#54a5ed 14.5px,#5297ff 18.5px,#5471ff 24.5px,#503cff 32.5px,#472df4 36.5px,#4329da 40.5px,#3f25bc 56.5px,#3f25bc 60.5px,#4127ca 64.5px,#4329da 66.5px,#492ff9 69.5px,#514aff 74.5px,#5357ff 78.5px,#5253ff 81.5px,#4c36fc 87.5px,#482ef6 89.5px,#4228d4 93.5px,#4026c3 98.5px,#3e24b7 110.5px,#3e24b6 153.5px)"></i><i style="background:linear-gradient(90deg,#57b2e1 0.5px,#56ace5 10.5px,#54a3ee 14.5px,#5296ff 18.5px,#546fff 24.5px,#4f3bff 32.5px,#492ff9 35.5px,#4228d7 40.5px,#4127ce 44.5px,#3f25ba 58.5px,#4026c4 63.5px,#4127ce 65.5px,#482ef6 69.5px,#5040ff 73.5px,#5250ff 77.5px,#5251ff 80.5px,#4e38fd 86.5px,#492ff9 88.5px,#4228d1 93.5px,#4026c1 100.5px,#3e24b7 112.5px,#3e24b6 153.5px)"></i><i style="background:linear-gradient(90deg,#57b1e2 0.5px,#56abe6 10.5px,#54a2f0 14.5px,#5299fe 17.5px,#5475ff 23.5px,#503fff 31.5px,#482ef8 35.5px,#4228d4 40.5px,#4026c7 47.5px,#3f25ba 59.5px,#4026c7 64.5px,#4228d3 66.5px,#492ff9 70.5px,#5145ff 75.5px,#514cff 79.5px,#5142ff 83.5px,#4a31f9 87.5px,#482ef6 88.5px,#4228d5 92.5px,#4127c8 96.5px,#3e24b8 110.5px,#3e24b6 153.5px)"></i><i style="background:linear-gradient(90deg,#56b0e3 0.5px,#55aae7 10.5px,#539bfa 16.5px,#5293ff 18.5px,#556cff 24.5px,#4f39fe 32.5px,#482ef7 35.5px,#4228d2 40.5px,#4127c8 44.5px,#3e24b9 58.5px,#4026c2 63.5px,#4228d0 66.5px,#482ef6 70.5px,#5040ff 75.5px,#5146ff 79.5px,#503dff 83.5px,#482ef8 87.5px,#4228d3 92.5px,#4026c1 102.5px,#3e24b7 114.5px,#3e24b6 153.5px)"></i><i style="background:linear-gradient(90deg,#56afe3 0.5px,#55a9e7 10.5px,#5297ff 17.5px,#5472ff 23.5px,#503dff 31.5px,#472df6 35.5px,#4228d0 40.5px,#4026c6 44.5px,#3e24b9 59.5px,#4026c4 64.5px,#4228d4 67.5px,#482ef8 71.5px,#503eff 76.5px,#5040ff 80.5px,#492ff9 86.5px,#4228d7 91.5px,#4127ce 95.5px,#3e24b8 111.5px,#3e24b6 153.5px)"></i><i style="background:linear-gradient(90deg,#56aee4 0.5px,#55a8e8 10.5px,#5295ff 17.5px,#5470ff 23.5px,#503cff 31.5px,#472df4 35.5px,#4228d4 39.5px,#4026c6 43.5px,#3e24b8 58.5px,#4026c2 64.5px,#4228d0 67.5px,#482ff8 72.5px,#503bff 78.5px,#4c35fb 83.5px,#492ff9 85.5px,#4228d6 91.5px,#3e24b8 111.5px,#3e24b6 153.5px)"></i><i style="background:linear-gradient(90deg,#56ade5 0.5px,#55a7ea 10.5px,#5298fe 16.5px,#537dff 21.5px,#524dff 28.5px,#4d37fd 32.5px,#492ff9 34.5px,#4127cd 40.5px,#4026c1 45.5px,#3e24b8 59.5px,#4026c4 65.5px,#4228d2 68.5px,#472df2 72.5px,#4a31f9 74.5px,#4d37fc 79.5px,#492ff8 84.5px,#4329d8 90.5px,#4127c9 101.5px,#3e24b9 110.5px,#3e24b6 151.5px,#3e24b6 153.5px)"></i><i style="background:linear-gradient(90deg,#56ace5 0.5px,#55a7e9 9.5px,#529bfb 15.5px,#5293ff 17.5px,#546dff 23.5px,#4f3bfe 31.5px,#482ff8 34.5px,#4228d1 39.5px,#4026c3 43.5px,#3e24b8 58.5px,#3f25bf 64.5px,#4228d4 69.5px,#462cf1 73.5px,#492ff9 75.5px,#4a31f9 81.5px,#482ef7 83.5px,#4329da 89.5px,#4228d1 98.5px,#3f25bb 109.5px,#3e24b6 125.5px,#3e24b6 153.5px)"></i><i style="background:linear-gradient(90deg,#55abe6 0.5px,#55a7ea 9.5px,#5296ff 16.5px,#5473ff 22.5px,#503fff 30.5px,#482ef8 34.5px,#4228d0 39.5px,#4026c2 43.5px,#3e24b8 57.5px,#3f25bc 63.5px,#4228cf 69.5px,#462cee 74.5px,#482ef8 78.5px,#472df3 82.5px,#4329da 88.5px,#4329d8 96.5px,#3f25bb 109.5px,#3e24b6 125.5px,#3e24b6 153.5px)"></i><i style="background:linear-gradient(90deg,#55aae7 0.5px,#55a6eb 9.5px,#5295ff 16.5px,#5472ff 22.5px,#503eff 30.5px,#482ef6 34.5px,#4228cf 39.5px,#4026c1 43.5px,#3e24b8 55.5px,#3f25bb 63.5px,#4127cb 69.5px,#452bea 75.5px,#462cef 80.5px,#4329d9 88.5px,#4329dc 95.5px,#3f25bc 109.5px,#3e24b6 121.5px,#3e24b6 153.5px)"></i><i style="background:linear-gradient(90deg,#55a9e7 0.5px,#54a5ec 9.5px,#5298ff 15.5px,#5378ff 21.5px,#524fff 27.5px,#4c34fb 32.5px,#472df5 34.5px,#4228d3 38.5px,#3f25c0 43.5px,#3e24b8 54.5px,#3f25ba 63.5px,#4127cb 70.5px,#442ae4 76.5px,#442ae7 80.5px,#4329d8 86.5px,#4329df 94.5px,#4228d5 99.5px,#3f25bc 109.5px,#3e24b6 121.5px,#3e24b6 153.5px)"></i><i style="background:linear-gradient(90deg,#55a9e7 0.5px,#54a5ed 9.5px,#5297ff 15.5px,#537dff 20.5px,#524eff 27.5px,#4b33fb 32.5px,#472df3 34.5px,#4228d2 38.5px,#3f25bf 43.5px,#3e24b7 55.5px,#3f25bc 65.5px,#4329dd 78.5px,#4329d7 83.5px,#4228d6 87.5px,#442ae1 93.5px,#4329dc 97.5px,#3f25bf 107.5px,#3e24b6 118.5px,#3e24b6 153.5px)"></i><i style="background:linear-gradient(90deg,#55a8e8 0.5px,#55a5ec 8.5px,#5297ff 15.5px,#537cff 20.5px,#524dff 27.5px,#4d37fc 31.5px,#492ff8 33.5px,#4228d1 38.5px,#3f25bf 43.5px,#3e24b8 51.5px,#3f25ba 64.5px,#4228d5 79.5px,#4228d1 85.5px,#442ae2 93.5px,#4329da 98.5px,#3f25be 108.5px,#3e24b6 118.5px,#3e24b6 153.5px)"></i><i style="background:linear-gradient(90deg,#55a8e8 0.5px,#54a5ec 8.5px,#529afd 14.5px,#537bff 20.5px,#5252ff 26.5px,#4d36fc 31.5px,#482ef8 33.5px,#4228d0 38.5px,#3f25be 43.5px,#3e24b7 54.5px,#3f25bb 66.5px,#4127ce 78.5px,#4228cf 85.5px,#442ae2 93.5px,#4329da 98.5px,#3f25be 108.5px,#3e24b6 118.5px,#3e24b6 153.5px)"></i><i style="background:linear-gradient(90deg,#55a8e8 0.5px,#54a4ee 9.5px,#5296ff 15.5px,#5473ff 21.5px,#503fff 29.5px,#482ef7 33.5px,#4228cf 38.5px,#3f25be 43.5px,#3e24b7 53.5px,#3f25bb 67.5px,#4127ca 79.5px,#4127ce 85.5px,#4329e0 92.5px,#4329df 96.5px,#3f25bf 107.5px,#3e24b6 118.5px,#3e24b6 153.5px)"></i><i style="background:linear-gradient(90deg,#55a8e8 0.5px,#54a4ee 9.5px,#5295ff 15.5px,#5472ff 21.5px,#503eff 29.5px,#472df5 33.5px,#4127cd 38.5px,#3f25bb 44.5px,#3e24b7 60.5px,#3f25c0 72.5px,#4127ca 84.5px,#4329df 92.5px,#4329db 97.5px,#3f25bd 108.5px,#3e24b6 120.5px,#3e24b6 153.5px)"></i><i style="background:linear-gradient(90deg,#55a8e8 0.5px,#54a5ed 8.5px,#5295ff 15.5px,#5471ff 21.5px,#503dff 29.5px,#4930f9 32.5px,#4127cc 38.5px,#3f25bb 44.5px,#3e24b6 59.5px,#4026c5 82.5px,#4329dc 92.5px,#4329d9 97.5px,#3f25bd 108.5px,#3e24b6 120.5px,#3e24b6 153.5px)"></i><i style="background:linear-gradient(90deg,#55a8e8 0.5px,#54a5ed 8.5px,#5298fe 14.5px,#527eff 19.5px,#535bff 24.5px,#4d37fc 30.5px,#482ff8 32.5px,#4228d0 37.5px,#3f25be 42.5px,#3e24b7 50.5px,#3e24b9 68.5px,#4026c5 83.5px,#4329da 93.5px,#4228d1 99.5px,#3f25bb 109.5px,#3e24b6 125.5px,#3e24b6 153.5px)"></i><i style="background:linear-gradient(90deg,#55a8e8 0.5px,#54a5ed 8.5px,#5298ff 14.5px,#537dff 19.5px,#5253ff 25.5px,#4c36fc 30.5px,#482ef8 32.5px,#4127ce 37.5px,#3f25bd 42.5px,#3e24b7 51.5px,#3f25ba 71.5px,#4026c2 82.5px,#4228d7 93.5px,#4127cd 100.5px,#3f25bb 109.5px,#3e24b6 125.5px,#3e24b6 153.5px)"></i><i style="background:linear-gradient(90deg,#55a8e8 0.5px,#54a5ed 8.5px,#5298ff 14.5px,#5475ff 20.5px,#503eff 28.5px,#472df5 32.5px,#4228d2 36.5px,#4026c1 40.5px,#3e24b7 48.5px,#3e24b9 71.5px,#4026c2 83.5px,#4228d2 92.5px,#4127cd 99.5px,#3e24b9 110.5px,#3e24b6 151.5px,#3e24b6 153.5px)"></i><i style="background:linear-gradient(90deg,#55a8e8 0.5px,#54a5ed 8.5px,#5297ff 14.5px,#537bff 19.5px,#5250ff 25.5px,#4b34fb 30.5px,#472df3 32.5px,#4228d0 36.5px,#3f25be 41.5px,#3e24b6 50.5px,#3f25bb 78.5px,#4228d0 93.5px,#4026c7 101.5px,#3e24b8 111.5px,#3e24b6 153.5px)"></i><i style="background:linear-gradient(90deg,#55a8e8 0.5px,#54a5ed 8.5px,#5297ff 14.5px,#5473ff 20.5px,#5041ff 27.5px,#482ff8 31.5px,#4127ce 36.5px,#3f25bd 41.5px,#3e24b6 51.5px,#3f25bb 79.5px,#4127cd 93.5px,#4026c3 102.5px,#3e24b8 112.5px,#3e24b6 153.5px)"></i><i style="background:linear-gradient(90deg,#55a9e8 0.5px,#54a5ed 8.5px,#5296ff 14.5px,#5379ff 19.5px,#524dff 25.5px,#4a31fa 30.5px,#462ced 32.5px,#4228d2 35.5px,#3f25be 40.5px,#3e24b6 49.5px,#3f25bb 80.5px,#4127ca 94.5px,#3e24b7 113.5px,#3e24b6 153.5px)"></i><i style="background:linear-gradient(90deg,#55a9e8 0.5px,#54a5ed 8.5px,#5296ff 14.5px,#5470ff 20.5px,#503eff 27.5px,#4930f9 30.5px,#4228d0 35.5px,#3f25bd 40.5px,#3e24b6 50.5px,#3f25ba 80.5px,#4026c7 94.5px,#3e24b7 113.5px,#3e24b6 153.5px)"></i><i style="background:linear-gradient(90deg,#55a9e7 0.5px,#55a6eb 7.5px,#5299fd 13.5px,#537eff 18.5px,#5250ff 24.5px,#4d38fd 28.5px,#482ff8 30.5px,#4127ce 35.5px,#3f25bf 39.5px,#3e24b6 48.5px,#3f25ba 81.5px,#4026c4 94.5px,#3e24b7 113.5px,#3e24b6 153.5px)"></i><i style="background:linear-gradient(90deg,#55a9e7 0.5px,#55a6eb 7.5px,#539cf9 12.5px,#5295ff 14.5px,#5474ff 19.5px,#4f3bff 27.5px,#482ef7 30.5px,#4228d2 34.5px,#3f25c0 38.5px,#3e24b7 45.5px,#3e24b9 80.5px,#4026c2 95.5px,#3e24b6 115.5px,#3e24b6 153.5px)"></i><i style="background:linear-gradient(90deg,#55a9e7 0.5px,#55a6eb 7.5px,#539cf9 12.5px,#5294ff 14.5px,#5473ff 19.5px,#503fff 26.5px,#472df4 30.5px,#4228cf 34.5px,#3f25bd 39.5px,#3e24b6 49.5px,#3f25ba 83.5px,#3f25bf 97.5px,#3e24b6 116.5px,#3e24b6 153.5px)"></i><i style="background:linear-gradient(90deg,#55a9e7 0.5px,#55a6eb 7.5px,#539cfa 12.5px,#5293ff 14.5px,#5379ff 18.5px,#5252ff 23.5px,#4b33fb 28.5px,#462cf1 30.5px,#4127cd 34.5px,#3f25bc 39.5px,#3e24b6 51.5px,#3f25ba 85.5px,#3f25bd 98.5px,#3e24b6 118.5px,#3e24b6 153.5px)"></i><i style="background:linear-gradient(90deg,#55aae7 0.5px,#55a6ea 7.5px,#5298ff 13.5px,#5378ff 18.5px,#5250ff 23.5px,#4d37fc 27.5px,#482ef7 29.5px,#4228d1 33.5px,#3f25bd 38.5px,#3e24b6 48.5px,#3e24b9 85.5px,#3f25bb 99.5px,#3e24b6 125.5px,#3e24b7 153.5px)"></i><i style="background:linear-gradient(90deg,#55aae7 0.5px,#54a5ec 8.5px,#5297ff 13.5px,#527fff 17.5px,#5356ff 22.5px,#4c35fc 27.5px,#472df4 29.5px,#4228cf 33.5px,#3f25be 37.5px,#3e24b6 46.5px,#3e24b9 87.5px,#3e24b9 102.5px,#3e24b6 144.5px,#3e24b7 153.5px)"></i><i style="background:linear-gradient(90deg,#55aae7 0.5px,#55a7ea 7.5px,#5297ff 13.5px,#5475ff 18.5px,#503eff 25.5px,#492ff9 28.5px,#4228d3 32.5px,#3f25c0 36.5px,#3e24b7 43.5px,#3e24b9 91.5px,#3e24b7 153.5px)"></i><i style="background:linear-gradient(90deg,#55aae6 0.5px,#55a7ea 7.5px,#5296ff 13.5px,#537cff 17.5px,#5252ff 22.5px,#4d37fd 26.5px,#482ef7 28.5px,#4228d0 32.5px,#3f25bc 37.5px,#3e24b6 49.5px,#3e24b7 108.5px,#3e24b7 153.5px)"></i><i style="background:linear-gradient(90deg,#55abe6 0.5px,#55a7ea 7.5px,#5296ff 13.5px,#537aff 17.5px,#5250ff 22.5px,#4c36fc 26.5px,#472df4 28.5px,#4127ce 32.5px,#3f25be 36.5px,#3e24b6 44.5px,#3e24b7 153.5px)"></i><i style="background:linear-gradient(90deg,#56abe6 0.5px,#55a7ea 7.5px,#5295ff 13.5px,#5379ff 17.5px,#524eff 22.5px,#4c34fb 26.5px,#492ff9 27.5px,#4228d2 31.5px,#3f25bf 35.5px,#3e24b7 41.5px,#3e24b7 153.5px)"></i><i style="background:linear-gradient(90deg,#56abe6 0.5px,#55a7e9 7.5px,#5295ff 13.5px,#5377ff 17.5px,#524dff 22.5px,#4b33fa 26.5px,#482ef8 27.5px,#4228d0 31.5px,#3f25be 35.5px,#3e24b6 43.5px,#3e24b8 153.5px)"></i><i style="background:linear-gradient(90deg,#56ace5 0.5px,#55a5ec 8.5px,#5294ff 13.5px,#5376ff 17.5px,#503cff 24.5px,#472df5 27.5px,#4228d5 30.5px,#3f25c0 34.5px,#3e24b6 42.5px,#3e24b8 147.5px,#3e24b8 153.5px)"></i><i style="background:linear-gradient(90deg,#56ace5 0.5px,#55a7e9 7.5px,#539df8 11.5px,#5293ff 13.5px,#5475ff 17.5px,#5142ff 23.5px,#4930f9 26.5px,#4127cc 31.5px,#3f25bd 35.5px,#3e24b6 43.5px,#3e24b8 146.5px,#3e24b8 153.5px)"></i><i style="background:linear-gradient(90deg,#56ade5 0.5px,#55a8e8 7.5px,#5299fe 12.5px,#537dff 16.5px,#5250ff 21.5px,#4c34fb 25.5px,#492ff9 26.5px,#4228d1 30.5px,#3f25bf 34.5px,#3e24b7 40.5px,#3e24b8 145.5px,#3e24b9 153.5px)"></i><i style="background:linear-gradient(90deg,#56aee4 0.5px,#55a8e8 7.5px,#539df8 11.5px,#5293ff 13.5px,#5357ff 20.5px,#4e39fd 24.5px,#482ff8 26.5px,#4127ca 31.5px,#3f25ba 36.5px,#3e24b6 52.5px,#3e24b8 145.5px,#3e24b9 153.5px)"></i><i style="background:linear-gradient(90deg,#56afe3 0.5px,#55a7ea 8.5px,#5298fe 12.5px,#537aff 16.5px,#524eff 21.5px,#4b33fb 25.5px,#482ef8 26.5px,#4228d0 30.5px,#3f25bf 34.5px,#3e24b7 40.5px,#3e24b8 144.5px,#3f25ba 152.5px,#3e24b9 153.5px)"></i><i style="background:linear-gradient(90deg,#56b0e2 0.5px,#55aae7 7.5px,#539df8 11.5px,#5292ff 13.5px,#545eff 19.5px,#4e38fd 24.5px,#482ef8 26.5px,#4228d0 30.5px,#3f25bc 35.5px,#3e24b6 47.5px,#3e24b8 144.5px,#3f25bb 152.5px,#3f25ba 153.5px)"></i><i style="background:linear-gradient(90deg,#57b1e1 0.5px,#56ade5 6.5px,#54a5ed 9.5px,#5298ff 12.5px,#5379ff 16.5px,#5255ff 20.5px,#4e38fd 24.5px,#482ef8 26.5px,#4228d1 30.5px,#3f25bf 34.5px,#3e24b7 41.5px,#3e24b8 143.5px,#3f25bc 151.5px,#3f25ba 153.5px)"></i><i style="background:linear-gradient(90deg,#57b3e0 0.5px,#56aee4 6.5px,#54a5ec 9.5px,#5298ff 12.5px,#5378ff 16.5px,#5254ff 20.5px,#4e38fd 24.5px,#482ef8 26.5px,#4228d2 30.5px,#3f25c0 34.5px,#3e24b7 41.5px,#3e24b8 143.5px,#3f25bd 151.5px,#3f25bb 153.5px)"></i><i style="background:linear-gradient(90deg,#57b5df 0.5px,#56ace5 7.5px,#54a1f1 10.5px,#5298ff 12.5px,#5465ff 18.5px,#4e38fd 24.5px,#482ff8 26.5px,#4228d3 30.5px,#4026c1 34.5px,#3e24b8 40.5px,#3e24b8 143.5px,#3f25be 151.5px,#3f25bc 153.5px)"></i><i style="background:linear-gradient(90deg,#58b6de 0.5px,#56b0e3 6.5px,#55a6eb 9.5px,#5298ff 12.5px,#5465ff 18.5px,#4e38fd 24.5px,#492ff9 26.5px,#4127ce 31.5px,#3f25bd 36.5px,#3e24b6 46.5px,#3e24b8 142.5px,#3f25bf 151.5px,#3f25bc 153.5px)"></i><i style="background:linear-gradient(90deg,#58b8dd 0.5px,#57b1e2 6.5px,#55a6ea 9.5px,#5298ff 12.5px,#5254ff 20.5px,#4e39fd 24.5px,#4930f9 26.5px,#4228d0 31.5px,#3f25c0 35.5px,#3e24b7 42.5px,#3e24b8 142.5px,#3f25c0 150.5px,#3f25bd 153.5px)"></i><i style="background:linear-gradient(90deg,#58badb 0.5px,#57b2e1 6.5px,#54a2f0 10.5px,#5298ff 12.5px,#5254ff 20.5px,#4e39fe 24.5px,#472df4 27.5px,#4228d2 31.5px,#4026c1 35.5px,#3e24b7 43.5px,#3e24b8 142.5px,#4026c2 150.5px,#3f25be 153.5px)"></i><i style="background:linear-gradient(90deg,#59bcd9 0.5px,#57b3e0 6.5px,#55a7e9 9.5px,#5298ff 12.5px,#524dff 21.5px,#4c35fc 25.5px,#482ef6 27.5px,#4127ce 32.5px,#3f25bc 38.5px,#3e24b6 52.5px,#3e24b8 142.5px,#4026c3 150.5px,#3f25bf 153.5px)"></i><i style="background:linear-gradient(90deg,#59bed7 0.5px,#58b7dd 5.5px,#55a8e8 9.5px,#5298ff 12.5px,#524dff 21.5px,#4d36fc 25.5px,#482ef8 27.5px,#4228d0 32.5px,#3f25bd 38.5px,#3e24b6 52.5px,#3e24b8 142.5px,#4026c4 150.5px,#3f25c0 153.5px)"></i><i style="background:linear-gradient(90deg,#5ac1d5 0.5px,#57b6de 6.5px,#55a8e8 9.5px,#5299fe 12.5px,#524eff 21.5px,#4d37fc 25.5px,#482ff8 27.5px,#4127cd 33.5px,#3f25bd 39.5px,#3e24b6 50.5px,#3e24b8 141.5px,#4026c6 150.5px,#4026c1 153.5px)"></i><i style="background:linear-gradient(90deg,#5ac3d3 0.5px,#58badb 5.5px,#55a9e7 9.5px,#5299fe 12.5px,#535dff 19.5px,#503cff 24.5px,#492ff9 27.5px,#4228cf 33.5px,#3f25bd 39.5px,#3e24b6 53.5px,#3e24b8 141.5px,#4026c7 150.5px,#4026c2 153.5px)"></i><i style="background:linear-gradient(90deg,#5bc5d1 0.5px,#59bcda 5.5px,#54a4ed 10.5px,#5299fd 12.5px,#535dff 19.5px,#4e38fd 25.5px,#472df5 28.5px,#4228d0 33.5px,#3f25be 39.5px,#3e24b6 51.5px,#3e24b8 141.5px,#4127c9 150.5px,#4026c3 153.5px)"></i><i style="background:linear-gradient(90deg,#5bc7cf 0.5px,#59bdd8 5.5px,#54a5ec 10.5px,#529afd 12.5px,#5356ff 20.5px,#4e38fd 25.5px,#472df5 28.5px,#4228d1 33.5px,#3f25bf 39.5px,#3e24b7 49.5px,#3e24b8 141.5px,#4127ca 149.5px,#4026c4 153.5px)"></i><i style="background:linear-gradient(90deg,#5ccacd 0.5px,#59bfd7 5.5px,#55a6eb 10.5px,#529afc 12.5px,#5566ff 18.5px,#5142ff 23.5px,#472df6 28.5px,#4228d1 33.5px,#3f25bf 39.5px,#3e24b7 49.5px,#3e24b8 141.5px,#4127cc 149.5px,#4026c5 153.5px)"></i><i style="background:linear-gradient(90deg,#5ccbcb 0.5px,#5bc5d2 4.5px,#55a7ea 10.5px,#529bfb 12.5px,#528aff 14.5px,#535dff 19.5px,#4e38fd 25.5px,#472df5 28.5px,#4228d1 33.5px,#3f25bf 39.5px,#3e24b7 49.5px,#3e24b8 141.5px,#4127cd 149.5px,#4026c6 153.5px)"></i><i style="background:linear-gradient(90deg,#5dcdc9 0.5px,#5bc7d0 4.5px,#55a8e9 10.5px,#5293ff 13.5px,#535dff 19.5px,#503bff 24.5px,#492ff9 27.5px,#4228d0 33.5px,#3f25be 39.5px,#3e24b6 52.5px,#3e24b7 140.5px,#4026c7 146.5px,#4228cf 150.5px,#4026c7 153.5px)"></i><i style="background:linear-gradient(90deg,#5dcec7 0.5px,#5cc9ce 4.5px,#55a9e7 10.5px,#5294ff 13.5px,#5254ff 20.5px,#4d36fc 25.5px,#482ff8 27.5px,#4127ce 33.5px,#3f25be 39.5px,#3e24b6 51.5px,#3e24b8 140.5px,#4026c4 145.5px,#4228d0 149.5px,#4127cc 152.5px,#4127c8 153.5px)"></i><i style="background:linear-gradient(90deg,#5ed0c4 0.5px,#5ccbcb 4.5px,#57b1e2 9.5px,#54a4ee 11.5px,#5295ff 13.5px,#535cff 19.5px,#4f3afe 24.5px,#482ef8 27.5px,#4228d1 32.5px,#3f25bf 38.5px,#3e24b7 48.5px,#3e24b8 140.5px,#4026c5 145.5px,#4228d2 149.5px,#4127c9 153.5px)"></i><i style="background:linear-gradient(90deg,#5ed2c1 0.5px,#5dcdc9 4.5px,#58badb 8.5px,#54a5ed 11.5px,#5296ff 13.5px,#5253ff 20.5px,#4e39fe 24.5px,#482ef6 27.5px,#4228d0 32.5px,#3f25be 38.5px,#3e24b6 50.5px,#3e24b8 140.5px,#4026c2 144.5px,#4228d4 149.5px,#4228cf 152.5px,#4127ca 153.5px)"></i><i style="background:linear-gradient(90deg,#5fd4bd 0.5px,#5dcfc6 4.5px,#59bcd9 8.5px,#55a6eb 11.5px,#5297ff 13.5px,#5252ff 20.5px,#4b34fb 25.5px,#472df4 27.5px,#4127ce 32.5px,#3f25bd 38.5px,#3e24b6 52.5px,#3e24b8 140.5px,#4026c2 144.5px,#4228d6 149.5px,#4228d0 152.5px,#4127cb 153.5px)"></i><i style="background:linear-gradient(90deg,#60d6b9 0.5px,#5ed1c3 4.5px,#5bc5d1 7.5px,#55a8e9 11.5px,#5298ff 13.5px,#535aff 19.5px,#503dff 23.5px,#492ff9 26.5px,#4228d2 31.5px,#3f25be 37.5px,#3e24b6 49.5px,#3e24b8 140.5px,#4026c7 145.5px,#4329d8 149.5px,#4228d1 152.5px,#4127cc 153.5px)"></i><i style="background:linear-gradient(90deg,#62d8b5 0.5px,#5fd3bf 4.5px,#5cc8cf 7.5px,#55a9e7 11.5px,#5299fd 13.5px,#535aff 19.5px,#503cff 23.5px,#482ef8 26.5px,#4228d0 31.5px,#3f25bf 36.5px,#3e24b7 46.5px,#3e24b8 140.5px,#4026c3 144.5px,#4329da 149.5px,#4329d7 151.5px,#4127cd 153.5px)"></i><i style="background:linear-gradient(90deg,#63dab0 0.5px,#60d5bc 4.5px,#5ccbcc 7.5px,#55abe6 11.5px,#529afc 13.5px,#5359ff 19.5px,#4f3bff 23.5px,#482ef7 26.5px,#4228cf 31.5px,#3f25bf 36.5px,#3e24b7 45.5px,#3e24b8 140.5px,#4026c4 144.5px,#4329d9 148.5px,#4329d9 151.5px,#4127ce 153.5px)"></i><i style="background:linear-gradient(90deg,#64dcac 0.5px,#61d7b8 4.5px,#5bc6d1 8.5px,#54a3ef 12.5px,#539bfb 13.5px,#5285ff 15.5px,#5359ff 19.5px,#4f3afe 23.5px,#472df5 26.5px,#4228d3 30.5px,#3f25c0 35.5px,#3e24b7 44.5px,#3e24b8 140.5px,#4026c4 144.5px,#4329dd 149.5px,#4329da 151.5px,#4228cf 153.5px)"></i><i style="background:linear-gradient(90deg,#67dea5 0.5px,#62d8b4 4.5px,#5cc8ce 8.5px,#54a5ed 12.5px,#539cfa 13.5px,#5286ff 15.5px,#5358ff 19.5px,#4f3afe 23.5px,#472df4 26.5px,#4228d1 30.5px,#3f25bd 36.5px,#3e24b6 50.5px,#3e24b8 140.5px,#4026c5 144.5px,#4329de 149.5px,#4329db 151.5px,#4228d0 153.5px)"></i><i style="background:linear-gradient(90deg,#69e09f 0.5px,#63dab0 4.5px,#5ccbcc 8.5px,#55a6eb 12.5px,#539df8 13.5px,#5292ff 14.5px,#5358ff 19.5px,#4e39fe 23.5px,#4930f9 25.5px,#4228d0 30.5px,#3f25bf 35.5px,#3e24b7 44.5px,#3e24b8 140.5px,#4026c5 144.5px,#4329df 149.5px,#4329dc 151.5px,#4228d0 153.5px)"></i><i style="background:linear-gradient(90deg,#6be299 0.5px,#67dea5 3.5px,#5dccca 8.5px,#55a7ea 12.5px,#5293ff 14.5px,#5462ff 18.5px,#503fff 22.5px,#492ff9 25.5px,#4228cf 30.5px,#3f25be 35.5px,#3e24b6 46.5px,#3e24b8 140.5px,#4026c5 144.5px,#4329e0 149.5px,#4329dd 151.5px,#4228d1 153.5px)"></i><i style="background:linear-gradient(90deg,#6de393 0.5px,#6be299 2.5px,#5fd3c0 7.5px,#59bcd9 10.5px,#55a8e8 12.5px,#5294ff 14.5px,#5358ff 19.5px,#4e38fd 23.5px,#492ff8 25.5px,#4228cf 30.5px,#3f25be 35.5px,#3e24b6 46.5px,#3e24b8 140.5px,#4026c5 144.5px,#4329de 148.5px,#4329e1 150.5px,#4228d1 153.5px)"></i><i style="background:linear-gradient(90deg,#71e48b 0.5px,#6ae19b 3.5px,#5dcfc6 8.5px,#55a9e7 12.5px,#5295ff 14.5px,#5358ff 19.5px,#4e38fd 23.5px,#482ff8 25.5px,#4127ce 30.5px,#3f25bc 36.5px,#3e24b6 50.5px,#3e24b8 140.5px,#4026c5 144.5px,#4329de 148.5px,#442ae1 150.5px,#4228d1 153.5px)"></i><i style="background:linear-gradient(90deg,#75e383 0.5px,#6ce296 3.5px,#5ed0c4 8.5px,#5ac0d6 10.5px,#55abe6 12.5px,#5297ff 14.5px,#5463ff 18.5px,#503fff 22.5px,#492ff8 25.5px,#4127ce 30.5px,#3f25bc 36.5px,#3e24b6 50.5px,#3e24b8 140.5px,#4026c6 144.5px,#442ae2 149.5px,#4329de 151.5px,#4228d1 153.5px)"></i><i style="background:linear-gradient(90deg,#78e37c 0.5px,#73e388 2.5px,#6ae19b 4.5px,#5ccbcb 9.5px,#54a2f1 13.5px,#5298ff 14.5px,#535aff 19.5px,#4e39fd 23.5px,#492ff9 25.5px,#4228cf 30.5px,#3f25be 35.5px,#3e24b6 46.5px,#3e24b8 140.5px,#4026c6 144.5px,#442ae2 149.5px,#4329de 151.5px,#4228d1 153.5px)"></i><i style="background:linear-gradient(90deg,#7ce275 0.5px,#76e381 2.5px,#68dfa2 5.5px,#5dccc9 9.5px,#54a3ef 13.5px,#5299fd 14.5px,#535bff 19.5px,#4e39fe 23.5px,#492ff9 25.5px,#4228cf 30.5px,#3f25be 35.5px,#3e24b6 46.5px,#3e24b8 140.5px,#4026c5 144.5px,#4329de 148.5px,#442ae1 150.5px,#4228d1 153.5px)"></i><i style="background:linear-gradient(90deg,#7fe26e 0.5px,#79e27a 2.5px,#69e09e 5.5px,#5dcec8 9.5px,#54a5ed 13.5px,#529bfb 14.5px,#5281ff 16.5px,#535cff 19.5px,#4f3afe 23.5px,#4930f9 25.5px,#4228cf 30.5px,#3f25be 35.5px,#3e24b6 46.5px,#3e24b8 140.5px,#4026c5 144.5px,#4329de 148.5px,#4329e1 150.5px,#4228d1 153.5px)"></i><i style="background:linear-gradient(90deg,#83e166 0.5px,#7de272 2.5px,#70e48e 4.5px,#5fd5bd 8.5px,#5bc7cf 10.5px,#55a6eb 13.5px,#539cf9 14.5px,#5290ff 15.5px,#535dff 19.5px,#4f3afe 23.5px,#472df3 26.5px,#4228d0 30.5px,#3f25be 35.5px,#3e24b6 46.5px,#3e24b8 140.5px,#4026c5 144.5px,#4329e0 149.5px,#4329dd 151.5px,#4228d1 153.5px)"></i><i style="background:linear-gradient(90deg,#87e061 0.5px,#80e16b 2.5px,#6ce296 5.5px,#60d6ba 8.5px,#5cc9ce 10.5px,#55a7e9 13.5px,#539df8 14.5px,#5291ff 15.5px,#545eff 19.5px,#4f3bfe 23.5px,#472df4 26.5px,#4228d0 30.5px,#3f25be 35.5px,#3e24b6 46.5px,#3e24b8 140.5px,#4026c5 144.5px,#4329df 149.5px,#4329dc 151.5px,#4228d0 153.5px)"></i><i style="background:linear-gradient(90deg,#8dde5d 0.5px,#84e164 2.5px,#76e380 4.5px,#69e09f 6.5px,#5ed1c2 9.5px,#5ac0d6 11.5px,#55a9e7 13.5px,#539ef6 14.5px,#5293ff 15.5px,#545fff 19.5px,#4f3bff 23.5px,#472df4 26.5px,#4228d0 30.5px,#3f25be 35.5px,#3e24b6 46.5px,#3e24b8 140.5px,#4026c5 144.5px,#4329de 149.5px,#4329db 151.5px,#4228d0 153.5px)"></i><i style="background:linear-gradient(90deg,#92dc59 0.5px,#89df60 2.5px,#81e16a 3.5px,#70e48d 5.5px,#64dcab 7.5px,#5ccccb 10.5px,#55aae6 13.5px,#5294ff 15.5px,#5460ff 19.5px,#5143ff 22.5px,#472df5 26.5px,#4228d1 30.5px,#3f25be 35.5px,#3e24b6 46.5px,#3e24b8 140.5px,#4026c4 144.5px,#4329dd 149.5px,#4329da 151.5px,#4228cf 153.5px)"></i><i style="background:linear-gradient(90deg,#97da56 0.5px,#8ede5d 2.5px,#85e164 3.5px,#6be298 6.5px,#5fd3bf 9.5px,#5ac3d3 11.5px,#56ace5 13.5px,#5296ff 15.5px,#5460ff 19.5px,#503cff 23.5px,#472df5 26.5px,#4228d1 30.5px,#4026c1 34.5px,#3e24b7 42.5px,#3e24b8 140.5px,#4026c4 144.5px,#4329d9 148.5px,#4329d9 151.5px,#4127ce 153.5px)"></i><i style="background:linear-gradient(90deg,#9cd852 0.5px,#92dc59 2.5px,#89df60 3.5px,#7fe26d 4.5px,#6de395 6.5px,#5fd4bd 9.5px,#5bc4d2 11.5px,#54a2f1 14.5px,#5297ff 15.5px,#5356ff 20.5px,#503cff 23.5px,#482ef6 26.5px,#4228d1 30.5px,#3f25bf 35.5px,#3e24b7 43.5px,#3e24b8 140.5px,#4026c3 144.5px,#4329da 149.5px,#4329d7 151.5px,#4127cd 153.5px)"></i><i style="background:linear-gradient(90deg,#a0d74f 0.5px,#96da56 2.5px,#82e168 4.5px,#6ee492 6.5px,#60d5bc 9.5px,#5bc6d1 11.5px,#54a3ef 14.5px,#5298ff 15.5px,#5357ff 20.5px,#4d37fc 24.5px,#482ef7 26.5px,#4228d1 30.5px,#3f25bf 35.5px,#3e24b7 43.5px,#3e24b8 140.5px,#4026c7 145.5px,#4329d8 149.5px,#4228d1 152.5px,#4127cc 153.5px)"></i><i style="background:linear-gradient(90deg,#a4d54c 0.5px,#9ad953 2.5px,#85e163 4.5px,#70e48e 6.5px,#63dbae 8.5px,#5bc7d0 11.5px,#54a4ee 14.5px,#5299fd 15.5px,#5358ff 20.5px,#4d37fd 24.5px,#482ef7 26.5px,#4228d2 30.5px,#4026c1 34.5px,#3e24b7 42.5px,#3e24b8 140.5px,#4026c2 144.5px,#4228d6 149.5px,#4228d0 152.5px,#4127cb 153.5px)"></i><i style="background:linear-gradient(90deg,#a7d44a 0.5px,#9ed850 2.5px,#88df61 4.5px,#7de272 5.5px,#6ae19c 7.5px,#61d6b9 9.5px,#5cc8ce 11.5px,#54a5ed 14.5px,#529afc 15.5px,#5358ff 20.5px,#4d37fd 24.5px,#482ef8 26.5px,#4228d2 30.5px,#4026c1 34.5px,#3e24b7 42.5px,#3e24b8 140.5px,#4026c2 144.5px,#4228d4 149.5px,#4228cf 152.5px,#4127ca 153.5px)"></i><i style="background:linear-gradient(90deg,#aad348 0.5px,#a1d64e 2.5px,#8bde5e 4.5px,#7fe26e 5.5px,#6be19a 7.5px,#61d7b7 9.5px,#5cc9ce 11.5px,#55a5ec 14.5px,#529bfb 15.5px,#527fff 17.5px,#5359ff 20.5px,#4e38fd 24.5px,#482ef8 26.5px,#4228d2 30.5px,#4026c1 34.5px,#3e24b7 42.5px,#3e24b8 140.5px,#4026c5 145.5px,#4228d2 149.5px,#4127c9 153.5px)"></i><i style="background:linear-gradient(90deg,#add247 0.5px,#a4d54c 2.5px,#8edd5d 4.5px,#81e16b 5.5px,#6be298 7.5px,#61d7b6 9.5px,#5ccacd 11.5px,#55a6eb 14.5px,#539bfb 15.5px,#5280ff 17.5px,#524fff 21.5px,#4e38fd 24.5px,#482ef8 26.5px,#4228d2 30.5px,#4026c1 34.5px,#3e24b7 42.5px,#3e24b8 140.5px,#4026c4 145.5px,#4228d0 149.5px,#4127cc 152.5px,#4127c8 153.5px)"></i><i style="background:linear-gradient(90deg,#afd146 0.5px,#a6d54b 2.5px,#90dd5b 4.5px,#82e168 5.5px,#6ce297 7.5px,#61d8b5 9.5px,#5ccbcc 11.5px,#55a6ea 14.5px,#539cfa 15.5px,#5281ff 17.5px,#535aff 20.5px,#503eff 23.5px,#482ef8 26.5px,#4228d2 30.5px,#3f25bf 35.5px,#3e24b7 43.5px,#3e24b7 140.5px,#4026c7 146.5px,#4228cf 150.5px,#4026c7 153.5px)"></i><i style="background:linear-gradient(90deg,#b0d046 0.5px,#a7d44a 2.5px,#91dc5a 4.5px,#83e167 5.5px,#6ce396 7.5px,#62d8b5 9.5px,#5ccbcc 11.5px,#55a7ea 14.5px,#539cf9 15.5px,#528fff 16.5px,#535aff 20.5px,#4e38fd 24.5px,#482ef8 26.5px,#4228d3 30.5px,#4026c2 34.5px,#3e24b8 40.5px,#3e24b8 141.5px,#4127cd 149.5px,#4026c6 153.5px)"></i><i style="background:linear-gradient(90deg,#b1d045 0.5px,#a8d44a 2.5px,#92dc5a 4.5px,#83e166 5.5px,#6ce395 7.5px,#62d8b5 9.5px,#5ccbcc 11.5px,#55a7e9 14.5px,#539cf9 15.5px,#528fff 16.5px,#535aff 20.5px,#4e38fd 24.5px,#482ef8 26.5px,#4228d3 30.5px,#4026c2 34.5px,#3e24b8 40.5px,#3e24b8 141.5px,#4127cc 149.5px,#4026c5 153.5px)"></i><i style="background:linear-gradient(90deg,#b1d045 0.5px,#a8d44a 2.5px,#92dc59 4.5px,#83e166 5.5px,#6ce395 7.5px,#62d8b5 9.5px,#5ccbcc 11.5px,#55a7e9 14.5px,#539cf9 15.5px,#528fff 16.5px,#535aff 20.5px,#4e38fd 24.5px,#482ef8 26.5px,#4228d3 30.5px,#4026c2 34.5px,#3e24b8 40.5px,#3e24b8 141.5px,#4127ca 149.5px,#4026c4 153.5px)"></i><i style="background:linear-gradient(90deg,#b1d045 0.5px,#a8d44a 2.5px,#92dc59 4.5px,#83e166 5.5px,#6ce395 7.5px,#62d8b5 9.5px,#5ccbcc 11.5px,#55a7e9 14.5px,#539cf9 15.5px,#528fff 16.5px,#535aff 20.5px,#4e38fd 24.5px,#482ef8 26.5px,#4228d3 30.5px,#4026c2 34.5px,#3e24b8 40.5px,#3e24b8 141.5px,#4127c9 150.5px,#4026c3 153.5px)"></i><i style="background:linear-gradient(90deg,#b1d045 0.5px,#a8d44a 2.5px,#92dc59 4.5px,#83e166 5.5px,#6ce395 7.5px,#62d8b5 9.5px,#5ccbcc 11.5px,#55a7e9 14.5px,#539cf9 15.5px,#528fff 16.5px,#535aff 20.5px,#4e38fd 24.5px,#482ef8 26.5px,#4228d3 30.5px,#4026c2 34.5px,#3e24b8 40.5px,#3e24b8 141.5px,#4026c7 150.5px,#4026c2 153.5px)"></i><i style="background:linear-gradient(90deg,#b1d045 0.5px,#a8d44a 2.5px,#92dc59 4.5px,#83e166 5.5px,#6ce395 7.5px,#62d8b5 9.5px,#5ccbcc 11.5px,#55a7e9 14.5px,#539cf9 15.5px,#528fff 16.5px,#535aff 20.5px,#4e38fd 24.5px,#482ef8 26.5px,#4228d3 30.5px,#4026c2 34.5px,#3e24b8 40.5px,#3e24b8 141.5px,#4026c6 150.5px,#4026c1 153.5px)"></i><i style="background:linear-gradient(90deg,#b1d045 0.5px,#a8d44a 2.5px,#92dc59 4.5px,#83e166 5.5px,#6ce395 7.5px,#62d8b5 9.5px,#5ccbcc 11.5px,#55a7e9 14.5px,#539cf9 15.5px,#528fff 16.5px,#535aff 20.5px,#4e38fd 24.5px,#482ef8 26.5px,#4228d3 30.5px,#4026c2 34.5px,#3e24b8 40.5px,#3e24b8 142.5px,#4026c4 150.5px,#3f25c0 153.5px)"></i><i style="background:linear-gradient(90deg,#b1d045 0.5px,#a8d44a 2.5px,#92dc59 4.5px,#83e166 5.5px,#6ce395 7.5px,#62d8b5 9.5px,#5ccbcc 11.5px,#55a7e9 14.5px,#539cf9 15.5px,#528fff 16.5px,#535aff 20.5px,#4e38fd 24.5px,#482ef8 26.5px,#4228d3 30.5px,#4026c2 34.5px,#3e24b8 40.5px,#3e24b8 142.5px,#4026c3 150.5px,#3f25bf 153.5px)"></i><i style="background:linear-gradient(90deg,#b1d045 0.5px,#a8d44a 2.5px,#92dc59 4.5px,#83e166 5.5px,#6ce395 7.5px,#62d8b5 9.5px,#5ccbcc 11.5px,#55a7e9 14.5px,#539cf9 15.5px,#528fff 16.5px,#535aff 20.5px,#4e38fd 24.5px,#482ef8 26.5px,#4228d3 30.5px,#4026c2 34.5px,#3e24b8 40.5px,#3e24b8 142.5px,#4026c2 150.5px,#3f25be 153.5px)"></i><i style="background:linear-gradient(90deg,#b1d045 0.5px,#a8d44a 2.5px,#92dc59 4.5px,#83e166 5.5px,#6ce395 7.5px,#62d8b5 9.5px,#5ccbcc 11.5px,#55a7e9 14.5px,#539cf9 15.5px,#528fff 16.5px,#535aff 20.5px,#4e38fd 24.5px,#482ef8 26.5px,#4228d3 30.5px,#4026c2 34.5px,#3e24b8 40.5px,#3e24b8 142.5px,#3f25c0 150.5px,#3f25bd 153.5px)"></i><i style="background:linear-gradient(90deg,#b1d045 0.5px,#a8d44a 2.5px,#92dc59 4.5px,#83e166 5.5px,#6ce395 7.5px,#62d8b5 9.5px,#5ccbcc 11.5px,#55a7e9 14.5px,#539cf9 15.5px,#528fff 16.5px,#535aff 20.5px,#4e38fd 24.5px,#482ef8 26.5px,#4228d3 30.5px,#4026c2 34.5px,#3e24b8 40.5px,#3e24b8 142.5px,#3f25bf 151.5px,#3f25bc 153.5px)"></i><i style="background:linear-gradient(90deg,#b1d045 0.5px,#a8d44a 2.5px,#92dc59 4.5px,#83e166 5.5px,#6ce395 7.5px,#62d8b5 9.5px,#5ccbcc 11.5px,#55a7e9 14.5px,#539cf9 15.5px,#528fff 16.5px,#535aff 20.5px,#4e38fd 24.5px,#482ef8 26.5px,#4228d3 30.5px,#4026c2 34.5px,#3e24b8 40.5px,#3e24b8 143.5px,#3f25be 151.5px,#3f25bc 153.5px)"></i><i style="background:linear-gradient(90deg,#b1d045 0.5px,#a8d44a 2.5px,#92dc59 4.5px,#83e166 5.5px,#6ce395 7.5px,#62d8b5 9.5px,#5ccbcc 11.5px,#55a7e9 14.5px,#539cf9 15.5px,#528fff 16.5px,#535aff 20.5px,#4e38fd 24.5px,#482ef8 26.5px,#4228d3 30.5px,#4026c2 34.5px,#3e24b8 40.5px,#3e24b8 143.5px,#3f25bd 151.5px,#3f25bb 153.5px)"></i><i style="background:linear-gradient(90deg,#b1d045 0.5px,#a8d44a 2.5px,#92dc59 4.5px,#83e166 5.5px,#6ce395 7.5px,#62d8b5 9.5px,#5ccbcc 11.5px,#55a7e9 14.5px,#539cf9 15.5px,#528fff 16.5px,#535aff 20.5px,#4e38fd 24.5px,#482ef8 26.5px,#4228d3 30.5px,#4026c2 34.5px,#3e24b8 40.5px,#3e24b8 143.5px,#3f25bc 151.5px,#3f25ba 153.5px)"></i><i style="background:linear-gradient(90deg,#b1d045 0.5px,#a8d44a 2.5px,#92dc59 4.5px,#83e166 5.5px,#6ce395 7.5px,#62d8b5 9.5px,#5ccbcc 11.5px,#55a7e9 14.5px,#539cf9 15.5px,#528fff 16.5px,#535aff 20.5px,#4e38fd 24.5px,#482ef8 26.5px,#4228d3 30.5px,#4026c2 34.5px,#3e24b8 40.5px,#3e24b8 144.5px,#3f25bb 152.5px,#3f25ba 153.5px)"></i><i style="background:linear-gradient(90deg,#b1d045 0.5px,#a8d44a 2.5px,#92dc59 4.5px,#83e166 5.5px,#6ce395 7.5px,#62d8b5 9.5px,#5ccbcc 11.5px,#55a7e9 14.5px,#539cf9 15.5px,#528fff 16.5px,#535aff 20.5px,#4e38fd 24.5px,#482ef8 26.5px,#4228d3 30.5px,#4026c2 34.5px,#3e24b8 40.5px,#3e24b8 144.5px,#3f25ba 152.5px,#3e24b9 153.5px)"></i><i style="background:linear-gradient(90deg,#b1d045 0.5px,#a8d44a 2.5px,#92dc59 4.5px,#83e166 5.5px,#6ce395 7.5px,#62d8b5 9.5px,#5ccbcc 11.5px,#55a7e9 14.5px,#539cf9 15.5px,#528fff 16.5px,#535aff 20.5px,#4e38fd 24.5px,#482ef8 26.5px,#4228d3 30.5px,#4026c2 34.5px,#3e24b8 40.5px,#3e24b8 145.5px,#3e24b9 153.5px)"></i><i style="background:linear-gradient(90deg,#b1d045 0.5px,#a8d44a 2.5px,#92dc59 4.5px,#83e166 5.5px,#6ce395 7.5px,#62d8b5 9.5px,#5ccbcc 11.5px,#55a7e9 14.5px,#539cf9 15.5px,#528fff 16.5px,#535aff 20.5px,#4e38fd 24.5px,#482ef8 26.5px,#4228d3 30.5px,#4026c2 34.5px,#3e24b8 40.5px,#3e24b8 145.5px,#3e24b9 153.5px)"></i><i style="background:linear-gradient(90deg,#b1d045 0.5px,#a8d44a 2.5px,#92dc59 4.5px,#83e166 5.5px,#6ce395 7.5px,#62d8b5 9.5px,#5ccbcc 11.5px,#55a7e9 14.5px,#539cf9 15.5px,#528fff 16.5px,#535aff 20.5px,#4e38fd 24.5px,#482ef8 26.5px,#4228d3 30.5px,#4026c2 34.5px,#3e24b8 40.5px,#3e24b8 146.5px,#3e24b8 153.5px)"></i><i style="background:linear-gradient(90deg,#b1d045 0.5px,#a8d44a 2.5px,#92dc59 4.5px,#83e166 5.5px,#6ce395 7.5px,#62d8b5 9.5px,#5ccbcc 11.5px,#55a7e9 14.5px,#539cf9 15.5px,#528fff 16.5px,#535aff 20.5px,#4e38fd 24.5px,#482ef8 26.5px,#4228d3 30.5px,#4026c2 34.5px,#3e24b8 40.5px,#3e24b8 147.5px,#3e24b8 153.5px)"></i><i style="background:linear-gradient(90deg,#b1d045 0.5px,#a8d44a 2.5px,#92dc59 4.5px,#83e166 5.5px,#6ce395 7.5px,#62d8b5 9.5px,#5ccbcc 11.5px,#55a7e9 14.5px,#539cf9 15.5px,#528fff 16.5px,#535aff 20.5px,#4e38fd 24.5px,#482ef8 26.5px,#4228d3 30.5px,#4026c2 34.5px,#3e24b8 40.5px,#3e24b8 153.5px)"></i><i style="background:linear-gradient(90deg,#b1d045 0.5px,#a8d449 2.5px,#92dc59 4.5px,#84e165 5.5px,#6de395 7.5px,#5ed2c1 10.5px,#5abfd6 12.5px,#55a7e9 14.5px,#539cf9 15.5px,#528fff 16.5px,#535aff 20.5px,#4e38fd 24.5px,#482ef8 26.5px,#4228d3 30.5px,#4026c2 34.5px,#3e24b8 40.5px,#3e24b7 153.5px)"></i><i style="background:linear-gradient(90deg,#b2cf45 0.5px,#a9d349 2.5px,#93db58 4.5px,#84e164 5.5px,#6de394 7.5px,#62d8b4 9.5px,#5ccbcb 11.5px,#55a7e9 14.5px,#539cf9 15.5px,#528fff 16.5px,#535aff 20.5px,#4e38fd 24.5px,#482ef8 26.5px,#4228d2 30.5px,#3f25bf 35.5px,#3e24b7 43.5px,#3e24b7 153.5px)"></i><i style="background:linear-gradient(90deg,#b3cf44 0.5px,#aad348 2.5px,#94db58 4.5px,#85e163 5.5px,#6de394 7.5px,#62d9b4 9.5px,#5ccbcb 11.5px,#55a7e9 14.5px,#539cf9 15.5px,#528fff 16.5px,#535aff 20.5px,#503eff 23.5px,#482ef8 26.5px,#4228d2 30.5px,#4026c1 34.5px,#3e24b7 42.5px,#3e24b7 153.5px)"></i><i style="background:linear-gradient(90deg,#b5ce43 0.5px,#acd248 2.5px,#96da56 4.5px,#87e062 5.5px,#6de493 7.5px,#5fd3c0 10.5px,#5ac0d6 12.5px,#55a7e9 14.5px,#539cf9 15.5px,#528fff 16.5px,#535aff 20.5px,#503eff 23.5px,#482ef8 26.5px,#4228d2 30.5px,#4026c1 34.5px,#3e24b7 42.5px,#3e24b7 153.5px)"></i><i style="background:linear-gradient(90deg,#b7cd42 0.5px,#add147 2.5px,#a4d54b 3.5px,#88df61 5.5px,#6ee491 7.5px,#62d9b3 9.5px,#5dccca 11.5px,#55a8e8 14.5px,#539df9 15.5px,#5290ff 16.5px,#535aff 20.5px,#503eff 23.5px,#482ef8 26.5px,#4228d2 30.5px,#4026c1 34.5px,#3e24b7 42.5px,#3e24b7 153.5px)"></i><i style="background:linear-gradient(90deg,#b9cc41 0.5px,#b0d046 2.5px,#a7d44a 3.5px,#8adf5f 5.5px,#7ce274 6.5px,#6fe490 7.5px,#62d9b2 9.5px,#5dccca 11.5px,#55a8e8 14.5px,#539df8 15.5px,#5290ff 16.5px,#535aff 20.5px,#503eff 23.5px,#482ef8 26.5px,#4228d2 30.5px,#4026c1 34.5px,#3e24b7 42.5px,#3e24b7 153.5px)"></i><i style="background:linear-gradient(90deg,#bbcb40 0.5px,#b2cf45 2.5px,#9cd852 4.5px,#8cde5e 5.5px,#7de271 6.5px,#70e48d 7.5px,#63dab1 9.5px,#5dccc9 11.5px,#55a8e8 14.5px,#539df8 15.5px,#5290ff 16.5px,#535aff 20.5px,#503eff 23.5px,#482ef7 26.5px,#4228d1 30.5px,#3f25bf 35.5px,#3e24b7 43.5px,#3e24b6 153.5px)"></i><i style="background:linear-gradient(90deg,#beca3f 0.5px,#b4ce43 2.5px,#9fd750 4.5px,#8fdd5c 5.5px,#7fe26e 6.5px,#71e48a 7.5px,#63dab0 9.5px,#5dcdc9 11.5px,#55a8e8 14.5px,#539df8 15.5px,#5290ff 16.5px,#535aff 20.5px,#4d37fd 24.5px,#482ef7 26.5px,#4228d1 30.5px,#3f25be 35.5px,#3e24b6 46.5px,#3e24b6 153.5px)"></i><i style="background:linear-gradient(90deg,#c0c93d 0.5px,#b7cd42 2.5px,#a1d64e 4.5px,#80e16b 6.5px,#73e388 7.5px,#63dbaf 9.5px,#5dcdc8 11.5px,#55a9e7 14.5px,#539df7 15.5px,#5290ff 16.5px,#5359ff 20.5px,#4d37fd 24.5px,#482ef7 26.5px,#4228d1 30.5px,#3f25be 35.5px,#3e24b6 46.5px,#3e24b6 153.5px)"></i><i style="background:linear-gradient(90deg,#c3c83c 0.5px,#bacc41 2.5px,#a4d54c 4.5px,#82e168 6.5px,#74e385 7.5px,#63dbae 9.5px,#5ac3d3 12.5px,#55a9e7 14.5px,#539df7 15.5px,#5290ff 16.5px,#5359ff 20.5px,#4d37fd 24.5px,#482ef6 26.5px,#4228d1 30.5px,#3f25c0 34.5px,#3e24b7 43.5px,#3e24b6 153.5px)"></i><i style="background:linear-gradient(90deg,#c6c63d 0.5px,#bdcb3f 2.5px,#a7d44a 4.5px,#84e165 6.5px,#6be19a 8.5px,#60d5bb 10.5px,#5ac3d3 12.5px,#55a9e7 14.5px,#539ef7 15.5px,#5290ff 16.5px,#5359ff 20.5px,#503dff 23.5px,#482ef6 26.5px,#4228d0 30.5px,#3f25be 35.5px,#3e24b6 46.5px,#3e24b6 153.5px)"></i><i style="background:linear-gradient(90deg,#c8c53d 0.5px,#c0c93e 2.5px,#aad349 4.5px,#86e062 6.5px,#6be299 8.5px,#60d6ba 10.5px,#5bc4d2 12.5px,#55aae7 14.5px,#539ef7 15.5px,#5291ff 16.5px,#5359ff 20.5px,#503dff 23.5px,#472df6 26.5px,#4228d0 30.5px,#3f25c0 34.5px,#3e24b7 42.5px,#3e24b6 153.5px)"></i><i style="background:linear-gradient(90deg,#cbc33e 0.5px,#c3c83c 2.5px,#acd247 4.5px,#89df60 6.5px,#6ce297 8.5px,#64dcab 9.5px,#5dcfc6 11.5px,#55aae7 14.5px,#539ef6 15.5px,#5291ff 16.5px,#5359ff 20.5px,#503dff 23.5px,#472df5 26.5px,#4228d0 30.5px,#3f25c0 34.5px,#3e24b7 42.5px,#3e24b6 153.5px)"></i><i style="background:linear-gradient(90deg,#cec23e 0.5px,#c5c73c 2.5px,#afd146 4.5px,#9fd74f 5.5px,#8bde5e 6.5px,#6ce395 8.5px,#65ddaa 9.5px,#5bc5d2 12.5px,#55aae6 14.5px,#539ef6 15.5px,#5291ff 16.5px,#5359ff 20.5px,#503dff 23.5px,#472df5 26.5px,#4228cf 30.5px,#3f25c0 34.5px,#3e24b7 41.5px,#3e24b6 153.5px)"></i><i style="background:linear-gradient(90deg,#d0c03f 0.5px,#c8c53d 2.5px,#bfca3e 3.5px,#a2d64d 5.5px,#8edd5c 6.5px,#7ce274 7.5px,#6de393 8.5px,#61d7b8 10.5px,#5bc5d1 12.5px,#55abe6 14.5px,#539ef6 15.5px,#5291ff 16.5px,#5359ff 20.5px,#503cff 23.5px,#472df4 26.5px,#4228cf 30.5px,#3f25bd 35.5px,#3e24b6 46.5px,#3e24b6 153.5px)"></i><i style="background:linear-gradient(90deg,#d3be3f 0.5px,#cac43d 2.5px,#c2c83d 3.5px,#a5d54b 5.5px,#91dc5a 6.5px,#7ee271 7.5px,#6ee492 8.5px,#61d7b7 10.5px,#5bc6d1 12.5px,#56abe6 14.5px,#539ff6 15.5px,#5291ff 16.5px,#5359ff 20.5px,#503cff 23.5px,#472df4 26.5px,#4228cf 30.5px,#3f25bf 34.5px,#3e24b7 42.5px,#3e24b6 153.5px)"></i><i style="background:linear-gradient(90deg,#d6bd40 0.5px,#cdc23e 2.5px,#c4c73c 3.5px,#a7d44a 5.5px,#93db59 6.5px,#7fe26e 7.5px,#6fe490 8.5px,#61d8b6 10.5px,#5bc6d0 12.5px,#56abe6 14.5px,#5291ff 16.5px,#5358ff 20.5px,#503cff 23.5px,#472df3 26.5px,#4127ce 30.5px,#3f25bd 35.5px,#3e24b6 46.5px,#3e24b6 153.5px)"></i><i style="background:linear-gradient(90deg,#d8bb40 0.5px,#cfc13e 2.5px,#bacc41 4.5px,#aad349 5.5px,#96db57 6.5px,#80e16b 7.5px,#70e48d 8.5px,#67dea4 9.5px,#5bc7d0 12.5px,#56abe6 14.5px,#5292ff 16.5px,#5358ff 20.5px,#503cff 23.5px,#472df3 26.5px,#4127ce 30.5px,#3f25bd 35.5px,#3e24b6 46.5px,#3e24b7 80.5px,#3e24b6 153.5px)"></i><i style="background:linear-gradient(90deg,#daba41 0.5px,#d2bf3f 2.5px,#bccb3f 4.5px,#acd247 5.5px,#82e168 7.5px,#71e48a 8.5px,#68dfa3 9.5px,#5ed1c3 11.5px,#56ace5 14.5px,#539ff5 15.5px,#5292ff 16.5px,#5358ff 20.5px,#503cff 23.5px,#472df3 26.5px,#4127ce 30.5px,#3f25bd 35.5px,#3e24b6 46.5px,#3e24b8 75.5px,#3e24b6 153.5px)"></i><i style="background:linear-gradient(90deg,#dcb941 0.5px,#d4be3f 2.5px,#bfca3e 4.5px,#9ad953 6.5px,#83e166 7.5px,#72e388 8.5px,#68dfa1 9.5px,#5ed1c2 11.5px,#58badb 13.5px,#56ace5 14.5px,#539ff5 15.5px,#5292ff 16.5px,#5358ff 20.5px,#503cff 23.5px,#4930f9 25.5px,#4228d4 29.5px,#4026c1 33.5px,#3e24b7 41.5px,#3e24b9 64.5px,#3e24b9 76.5px,#3e24b6 117.5px,#3e24b6 153.5px)"></i><i style="background:linear-gradient(90deg,#deb942 0.5px,#d6bd40 2.5px,#c1c93d 4.5px,#9cd851 6.5px,#85e163 7.5px,#74e385 8.5px,#68e0a0 9.5px,#5ed2c2 11.5px,#58badb 13.5px,#5292ff 16.5px,#5358ff 20.5px,#503bff 23.5px,#4930f9 25.5px,#4127cd 30.5px,#3f25bf 34.5px,#3e24b7 42.5px,#3e24b9 63.5px,#3f25bb 74.5px,#3e24b6 92.5px,#3e24b6 153.5px)"></i><i style="background:linear-gradient(90deg,#e0b943 0.5px,#d8bb40 2.5px,#c4c83c 4.5px,#9fd750 6.5px,#87e062 7.5px,#75e383 8.5px,#69e09f 9.5px,#5ed2c1 11.5px,#5cc9ce 12.5px,#5292ff 16.5px,#5358ff 20.5px,#503bff 23.5px,#4930f9 25.5px,#4228d3 29.5px,#4026c1 33.5px,#3e24b7 41.5px,#3e24b9 61.5px,#3f25bd 72.5px,#3e24b6 90.5px,#3e24b6 153.5px)"></i><i style="background:linear-gradient(90deg,#e1b844 0.5px,#dbba41 2.5px,#c6c63d 4.5px,#a1d64e 6.5px,#89df60 7.5px,#76e380 8.5px,#69e09d 9.5px,#62dab2 10.5px,#5cc9ce 12.5px,#5292ff 16.5px,#5464ff 19.5px,#4f3bff 23.5px,#4930f9 25.5px,#4228d3 29.5px,#4026c1 33.5px,#3e24b7 41.5px,#3e24b9 60.5px,#3f25bf 72.5px,#3e24b6 88.5px,#3e24b6 153.5px)"></i><i style="background:linear-gradient(90deg,#e3b845 0.5px,#ddb941 2.5px,#c8c53d 4.5px,#a4d54c 6.5px,#8bde5e 7.5px,#77e37e 8.5px,#6ae19c 9.5px,#63dab1 10.5px,#5ccacd 12.5px,#5292ff 16.5px,#5357ff 20.5px,#4f3bfe 23.5px,#4930f9 25.5px,#4228d2 29.5px,#3f25be 34.5px,#3e24b6 44.5px,#3f25ba 61.5px,#4026c2 70.5px,#3e24b6 86.5px,#3e24b6 153.5px)"></i><i style="background:linear-gradient(90deg,#e5b845 0.5px,#deb942 2.5px,#cac43d 4.5px,#bacc40 5.5px,#a6d54a 6.5px,#8edd5d 7.5px,#79e37b 8.5px,#6ae19b 9.5px,#5fd3c0 11.5px,#5ccacd 12.5px,#56ade4 14.5px,#5292ff 16.5px,#5357ff 20.5px,#4f3bfe 23.5px,#492ff9 25.5px,#4228d2 29.5px,#3f25c0 33.5px,#3e24b7 41.5px,#3e24b9 59.5px,#4026c4 70.5px,#3e24b6 86.5px,#3e24b6 153.5px)"></i><i style="background:linear-gradient(90deg,#e6b946 0.5px,#e0b943 2.5px,#cdc23e 4.5px,#bdcb3f 5.5px,#a8d349 6.5px,#90dd5b 7.5px,#7ae278 8.5px,#6be299 9.5px,#63dbaf 10.5px,#5ccacc 12.5px,#5292ff 16.5px,#5463ff 19.5px,#4f3afe 23.5px,#492ff9 25.5px,#4228d2 29.5px,#3f25c0 33.5px,#3e24b7 41.5px,#3e24b9 58.5px,#4026c7 70.5px,#3e24b6 86.5px,#3e24b6 153.5px)"></i><i style="background:linear-gradient(90deg,#e7ba46 0.5px,#e2b844 2.5px,#dbb941 3.5px,#bfca3e 5.5px,#abd248 6.5px,#92dc59 7.5px,#7be275 8.5px,#6ce298 9.5px,#63dbaf 10.5px,#5ccbcc 12.5px,#5292ff 16.5px,#5463ff 19.5px,#4f3afe 23.5px,#492ff9 25.5px,#4228d1 29.5px,#3f25c0 33.5px,#3e24b7 40.5px,#3e24b9 58.5px,#4127ca 69.5px,#3f25bf 77.5px,#3e24b6 87.5px,#3e24b6 153.5px)"></i><i style="background:linear-gradient(90deg,#e7bb46 0.5px,#e4b845 2.5px,#d1bf3f 4.5px,#c2c83c 5.5px,#95db57 7.5px,#7de273 8.5px,#6ce296 9.5px,#64dbae 10.5px,#5ccbcc 12.5px,#5292ff 16.5px,#5356ff 20.5px,#4f3afe 23.5px,#482ff8 25.5px,#4228d1 29.5px,#3f25c0 33.5px,#3e24b7 40.5px,#3e24b9 57.5px,#4127cd 69.5px,#4026c3 76.5px,#3e24b7 84.5px,#3e24b6 153.5px)"></i><i style="background:linear-gradient(90deg,#e8bd46 0.5px,#e5b846 2.5px,#d4be3f 4.5px,#c4c73c 5.5px,#b0d046 6.5px,#97da56 7.5px,#7ee270 8.5px,#6de395 9.5px,#64dcad 10.5px,#5ccbcb 12.5px,#5292ff 16.5px,#5356ff 20.5px,#4f3afe 23.5px,#482ff8 25.5px,#4228d1 29.5px,#3f25c0 33.5px,#3e24b7 40.5px,#3e24b9 57.5px,#4228d0 69.5px,#4026c7 75.5px,#3e24b8 83.5px,#3e24b6 153.5px)"></i><i style="background:linear-gradient(90deg,#e8be46 0.5px,#e6b946 2.5px,#e1b943 3.5px,#c7c63d 5.5px,#b2cf45 6.5px,#99d954 7.5px,#80e26d 8.5px,#6de394 9.5px,#64dcac 10.5px,#5ccbcb 12.5px,#5292ff 16.5px,#5463ff 19.5px,#5041ff 22.5px,#482ef8 25.5px,#4228d0 29.5px,#3f25c0 33.5px,#3e24b7 40.5px,#3e24b9 57.5px,#4228d3 69.5px,#4127c9 75.5px,#3e24b8 83.5px,#3e24b6 153.5px)"></i><i style="background:linear-gradient(90deg,#e9c046 0.5px,#e7ba46 2.5px,#d8bb40 4.5px,#c9c53d 5.5px,#b4ce43 6.5px,#9cd852 7.5px,#81e16a 8.5px,#6ee492 9.5px,#64dcab 10.5px,#5dccca 12.5px,#5292ff 16.5px,#5463ff 19.5px,#5041ff 22.5px,#482ef8 25.5px,#4228d0 29.5px,#3f25bf 33.5px,#3e24b7 41.5px,#3e24b9 56.5px,#4026c4 62.5px,#4228d7 69.5px,#4127cb 75.5px,#3f25ba 82.5px,#3e24b6 95.5px,#3e24b6 153.5px)"></i><i style="background:linear-gradient(90deg,#e9c346 0.5px,#e4b845 3.5px,#dbba41 4.5px,#cbc33e 5.5px,#b7cd42 6.5px,#9ed850 7.5px,#82e168 8.5px,#6ee490 9.5px,#65ddaa 10.5px,#5dccca 12.5px,#5292ff 16.5px,#5462ff 19.5px,#4e39fe 23.5px,#482ef8 25.5px,#4228d0 29.5px,#3f25bf 33.5px,#3e24b7 41.5px,#3e24b9 56.5px,#4026c6 62.5px,#4329da 69.5px,#4228d3 73.5px,#3f25bb 81.5px,#3e24b6 93.5px,#3e24b6 153.5px)"></i><i style="background:linear-gradient(90deg,#e8c645 0.5px,#e5b846 3.5px,#ddb941 4.5px,#cdc23e 5.5px,#b9cc41 6.5px,#a0d74f 7.5px,#84e165 8.5px,#6fe48e 9.5px,#65dda9 10.5px,#5dccca 12.5px,#5293ff 16.5px,#5462ff 19.5px,#5041ff 22.5px,#482ef8 25.5px,#4228cf 29.5px,#3f25bf 33.5px,#3e24b7 41.5px,#3e24b9 56.5px,#4026c7 62.5px,#4329dd 69.5px,#4228d6 73.5px,#3f25be 80.5px,#3e24b6 88.5px,#3e24b6 153.5px)"></i><i style="background:linear-gradient(90deg,#e8c945 0.5px,#e6b946 3.5px,#deb942 4.5px,#cfc13e 5.5px,#bbcb40 6.5px,#a2d64d 7.5px,#85e163 8.5px,#71e48c 9.5px,#66dda8 10.5px,#5dcdc9 12.5px,#5293ff 16.5px,#5462ff 19.5px,#5041ff 22.5px,#482ef8 25.5px,#4228cf 29.5px,#3f25bf 33.5px,#3e24b7 41.5px,#3e24b9 56.5px,#4026c7 62.5px,#4329de 68.5px,#4329db 72.5px,#3f25be 80.5px,#3e24b6 88.5px,#3e24b6 153.5px)"></i><i style="background:linear-gradient(90deg,#e8cc44 0.5px,#e7ba46 3.5px,#dfb943 4.5px,#d1c03f 5.5px,#bdca3f 6.5px,#a5d54b 7.5px,#87e062 8.5px,#72e389 9.5px,#66dea6 10.5px,#5dcdc9 12.5px,#5293ff 16.5px,#5462ff 19.5px,#5041ff 22.5px,#482ef7 25.5px,#4228cf 29.5px,#3f25bf 33.5px,#3e24b7 41.5px,#3e24b9 56.5px,#4127c8 62.5px,#4329df 68.5px,#4329df 71.5px,#3f25bc 81.5px,#3e24b6 90.5px,#3e24b6 153.5px)"></i><i style="background:linear-gradient(90deg,#e8cf44 0.5px,#e7bb46 3.5px,#e1b943 4.5px,#d3be3f 5.5px,#c0ca3e 6.5px,#a7d44a 7.5px,#89df60 8.5px,#73e387 9.5px,#67dea5 10.5px,#5dcdc8 12.5px,#5293ff 16.5px,#5462ff 19.5px,#5041ff 22.5px,#482ef7 25.5px,#4228cf 29.5px,#3f25bf 33.5px,#3e24b7 41.5px,#3e24b9 56.5px,#4127c8 62.5px,#4329e0 68.5px,#4329e0 71.5px,#3f25bc 81.5px,#3e24b6 90.5px,#3e24b6 153.5px)"></i><i style="background:linear-gradient(90deg,#e7d143 0.5px,#e9c445 2.5px,#e2b844 4.5px,#d5bd40 5.5px,#c2c93d 6.5px,#a8d449 7.5px,#8bde5f 8.5px,#74e385 9.5px,#67dea4 10.5px,#5dcdc8 12.5px,#5293ff 16.5px,#5255ff 20.5px,#4e39fd 23.5px,#482ef7 25.5px,#4228d6 28.5px,#4026c1 32.5px,#3e24b7 40.5px,#3e24b9 56.5px,#4127c8 62.5px,#4329e0 68.5px,#4329e0 71.5px,#3f25bc 81.5px,#3e24b6 90.5px,#3e24b6 153.5px)"></i><i style="background:linear-gradient(90deg,#e7d443 0.5px,#e8c745 2.5px,#e3b845 4.5px,#d7bc40 5.5px,#c4c83c 6.5px,#aad348 7.5px,#8dde5d 8.5px,#75e383 9.5px,#67dfa3 10.5px,#61d7b8 11.5px,#5ac0d6 13.5px,#5294ff 16.5px,#5463ff 19.5px,#5041ff 22.5px,#482ef7 25.5px,#4228d6 28.5px,#4026c1 32.5px,#3e24b7 40.5px,#3e24b9 56.5px,#4127c8 62.5px,#4329df 68.5px,#4329df 71.5px,#3f25bc 81.5px,#3e24b6 90.5px,#3e24b6 153.5px)"></i><i style="background:linear-gradient(90deg,#e7d642 0.5px,#e8c944 2.5px,#e5b845 4.5px,#d8bb40 5.5px,#c5c73c 6.5px,#acd247 7.5px,#8fdd5c 8.5px,#76e380 9.5px,#68dfa1 10.5px,#61d7b7 11.5px,#5ac1d5 13.5px,#5294ff 16.5px,#5463ff 19.5px,#5041ff 22.5px,#482ef7 25.5px,#4228d6 28.5px,#4026c1 32.5px,#3e24b7 40.5px,#3e24b9 56.5px,#4026c7 62.5px,#4329de 68.5px,#4329db 72.5px,#3f25be 80.5px,#3e24b6 88.5px,#3e24b6 153.5px)"></i><i style="background:linear-gradient(90deg,#e7d942 0.5px,#e8cb44 2.5px,#e6b846 4.5px,#daba41 5.5px,#c7c63d 6.5px,#aed147 7.5px,#91dc5a 8.5px,#77e37e 9.5px,#68dfa0 10.5px,#61d8b6 11.5px,#5ac1d5 13.5px,#5295ff 16.5px,#5463ff 19.5px,#5041ff 22.5px,#482ef7 25.5px,#4228cf 29.5px,#3f25bf 33.5px,#3e24b7 41.5px,#3e24b9 56.5px,#4026c7 62.5px,#4329dd 69.5px,#4228d6 73.5px,#3f25be 80.5px,#3e24b6 88.5px,#3e24b6 153.5px)"></i><i style="background:linear-gradient(90deg,#e6db42 0.5px,#e8cd44 2.5px,#e9c046 3.5px,#e6b946 4.5px,#dcb941 5.5px,#c8c53d 6.5px,#b0d046 7.5px,#92dc59 8.5px,#78e37c 9.5px,#69e09f 10.5px,#5dcfc6 12.5px,#5295ff 16.5px,#5356ff 20.5px,#4e39fe 23.5px,#482ef8 25.5px,#4228cf 29.5px,#3f25bf 33.5px,#3e24b7 41.5px,#3e24b9 56.5px,#4026c6 62.5px,#4329da 69.5px,#4228d3 73.5px,#3f25bb 81.5px,#3e24b6 93.5px,#3e24b6 153.5px)"></i><i style="background:linear-gradient(90deg,#e6dd41 0.5px,#e7cf43 2.5px,#e7ba46 4.5px,#ddb941 5.5px,#cac43d 6.5px,#b1d045 7.5px,#94db58 8.5px,#79e27a 9.5px,#69e09e 10.5px,#62d8b5 11.5px,#5ac3d4 13.5px,#54a4ee 15.5px,#5296ff 16.5px,#5464ff 19.5px,#5041ff 22.5px,#482ef8 25.5px,#4228cf 29.5px,#3f25bf 33.5px,#3e24b7 41.5px,#3e24b9 56.5px,#4026c4 62.5px,#4228d7 69.5px,#4127cb 75.5px,#3f25ba 82.5px,#3e24b6 95.5px,#3e24b6 153.5px)"></i><i style="background:linear-gradient(90deg,#e6df41 0.5px,#e7d243 2.5px,#e7ba46 4.5px,#deb942 5.5px,#cbc33e 6.5px,#b3cf44 7.5px,#96db57 8.5px,#7be277 9.5px,#6ae19d 10.5px,#62d9b4 11.5px,#5ac3d3 13.5px,#54a4ed 15.5px,#5296ff 16.5px,#5464ff 19.5px,#5142ff 22.5px,#482ef8 25.5px,#4228cf 29.5px,#3f25bf 33.5px,#3e24b7 41.5px,#3e24b9 57.5px,#4228d3 69.5px,#4127c9 75.5px,#3e24b8 83.5px,#3e24b6 153.5px)"></i><i style="background:linear-gradient(90deg,#e6e141 0.5px,#e7d443 2.5px,#e7bb46 4.5px,#dfb942 5.5px,#cdc23e 6.5px,#b5ce43 7.5px,#97da55 8.5px,#7ce275 9.5px,#6ae19b 10.5px,#62d9b3 11.5px,#5bc4d3 13.5px,#54a5ed 15.5px,#5297ff 16.5px,#5465ff 19.5px,#5142ff 22.5px,#482ef8 25.5px,#4228cf 29.5px,#3f25bf 33.5px,#3e24b7 41.5px,#3e24b9 57.5px,#4228d0 69.5px,#4026c7 75.5px,#3e24b8 83.5px,#3e24b6 153.5px)"></i><i style="background:linear-gradient(90deg,#e6e340 0.5px,#e7d542 2.5px,#e8bc46 4.5px,#e0b943 5.5px,#cec13e 6.5px,#b6ce42 7.5px,#99d954 8.5px,#7de273 9.5px,#6be19a 10.5px,#62d9b2 11.5px,#5bc4d2 13.5px,#54a5ec 15.5px,#5297ff 16.5px,#5357ff 20.5px,#4f3afe 23.5px,#482ef8 25.5px,#4228cf 29.5px,#3f25bf 33.5px,#3e24b7 41.5px,#3e24b9 57.5px,#4127cd 69.5px,#4026c3 76.5px,#3e24b7 84.5px,#3e24b6 153.5px)"></i><i style="background:linear-gradient(90deg,#e6e540 0.5px,#e7d742 2.5px,#e8bd46 4.5px,#e1b943 5.5px,#cfc13e 6.5px,#b8cd42 7.5px,#9bd953 8.5px,#7ee271 9.5px,#6be299 10.5px,#62d9b2 11.5px,#5bc5d2 13.5px,#55a5ec 15.5px,#5298ff 16.5px,#5465ff 19.5px,#5142ff 22.5px,#482ef8 25.5px,#4228cf 29.5px,#3f25bf 33.5px,#3e24b7 41.5px,#3e24b9 58.5px,#4127ca 69.5px,#3f25bf 77.5px,#3e24b6 87.5px,#3e24b6 153.5px)"></i><i style="background:linear-gradient(90deg,#e6e640 0.5px,#e6d942 2.5px,#e8be46 4.5px,#e2b844 5.5px,#d1c03f 6.5px,#b9cc41 7.5px,#9cd852 8.5px,#7ee26f 9.5px,#6be298 10.5px,#63dab1 11.5px,#5bc5d1 13.5px,#55a6eb 15.5px,#5298ff 16.5px,#5565ff 19.5px,#5142ff 22.5px,#482ef8 25.5px,#4228cf 29.5px,#3f25bf 33.5px,#3e24b7 41.5px,#3e24b9 58.5px,#4026c7 70.5px,#3e24b6 86.5px,#3e24b6 153.5px)"></i><i style="background:linear-gradient(90deg,#e6e840 0.5px,#e6db42 2.5px,#e8be46 4.5px,#e2b844 5.5px,#d2bf3f 6.5px,#bbcc40 7.5px,#9ed851 8.5px,#7fe26d 9.5px,#6ce297 10.5px,#63dab0 11.5px,#5bc6d1 13.5px,#55a6eb 15.5px,#5298fe 16.5px,#5358ff 20.5px,#4f3afe 23.5px,#482ef8 25.5px,#4228cf 29.5px,#3f25bf 33.5px,#3e24b7 41.5px,#3e24b9 59.5px,#4026c4 70.5px,#3e24b6 86.5px,#3e24b6 153.5px)"></i><i style="background:linear-gradient(90deg,#e6ea3f 0.5px,#e6dd41 2.5px,#e9bf46 4.5px,#e3b845 5.5px,#d3be3f 6.5px,#bccb40 7.5px,#9fd74f 8.5px,#80e26c 9.5px,#6ce396 10.5px,#63dab0 11.5px,#5bc6d0 13.5px,#55a6ea 15.5px,#5299fe 16.5px,#5358ff 20.5px,#4f3afe 23.5px,#482ff8 25.5px,#4228d0 29.5px,#3f25bf 33.5px,#3e24b7 41.5px,#3e24b9 60.5px,#4026c2 70.5px,#3e24b6 86.5px,#3e24b6 153.5px)"></i><i style="background:linear-gradient(90deg,#e6eb3f 0.5px,#e6de41 2.5px,#e9c046 4.5px,#e4b845 5.5px,#d4be3f 6.5px,#bdca3f 7.5px,#a1d74e 8.5px,#81e16a 9.5px,#6ce395 10.5px,#63dbaf 11.5px,#5bc7d0 13.5px,#55a7ea 15.5px,#5299fd 16.5px,#5566ff 19.5px,#5143ff 22.5px,#482ff8 25.5px,#4228d0 29.5px,#3f25bf 33.5px,#3e24b7 41.5px,#3e24b9 60.5px,#3f25bf 72.5px,#3e24b6 88.5px,#3e24b6 153.5px)"></i><i style="background:linear-gradient(90deg,#e6ed3f 0.5px,#e6e041 2.5px,#e9c146 4.5px,#e5b845 5.5px,#d5bd40 6.5px,#bfca3e 7.5px,#a2d64d 8.5px,#82e168 9.5px,#6de394 10.5px,#63dbaf 11.5px,#5bc7d0 13.5px,#55a7e9 15.5px,#5299fd 16.5px,#5359ff 20.5px,#4f3afe 23.5px,#482ff8 25.5px,#4228d0 29.5px,#3f25bf 33.5px,#3e24b7 41.5px,#3e24b9 61.5px,#3f25bd 72.5px,#3e24b6 90.5px,#3e24b6 153.5px)"></i><i style="background:linear-gradient(90deg,#e6ef3f 0.5px,#e6e141 2.5px,#e9c346 4.5px,#e6b846 5.5px,#d7bc40 6.5px,#c0c93e 7.5px,#a3d64c 8.5px,#83e167 9.5px,#6de393 10.5px,#63dbae 11.5px,#5bc7cf 13.5px,#55a7e9 15.5px,#529afd 16.5px,#5359ff 20.5px,#4f3afe 23.5px,#482ff8 25.5px,#4228d0 29.5px,#3f25bf 33.5px,#3e24b7 41.5px,#3e24b9 63.5px,#3f25bb 74.5px,#3e24b6 92.5px,#3e24b6 153.5px)"></i><i style="background:linear-gradient(90deg,#e6f03f 0.5px,#e6e340 2.5px,#e9c445 4.5px,#e6b846 5.5px,#d8bc40 6.5px,#c1c93d 7.5px,#a4d54b 8.5px,#84e165 9.5px,#6de492 10.5px,#64dbae 11.5px,#5bc8cf 13.5px,#55a8e8 15.5px,#529afc 16.5px,#5359ff 20.5px,#4f3bfe 23.5px,#482ff8 25.5px,#4228d0 29.5px,#3f25bf 33.5px,#3e24b7 41.5px,#3e24b9 64.5px,#3e24b9 76.5px,#3e24b6 117.5px,#3e24b6 153.5px)"></i><i style="background:linear-gradient(90deg,#e6f13e 0.5px,#e6e440 2.5px,#e6b946 5.5px,#d9bb40 6.5px,#c2c83c 7.5px,#a5d54b 8.5px,#84e164 9.5px,#6ee492 10.5px,#64dcad 11.5px,#5cc8cf 13.5px,#55a8e8 15.5px,#529afc 16.5px,#5567ff 19.5px,#5143ff 22.5px,#482ff8 25.5px,#4228d0 29.5px,#3f25bf 33.5px,#3e24b7 41.5px,#3e24b9 67.5px,#3e24b6 153.5px)"></i><i style="background:linear-gradient(90deg,#e6f33e 0.5px,#e6e540 2.5px,#e7b946 5.5px,#daba41 6.5px,#c3c83c 7.5px,#a6d44a 8.5px,#85e063 9.5px,#6ee491 10.5px,#64dcad 11.5px,#5cc9ce 13.5px,#55a8e8 15.5px,#529afc 16.5px,#5567ff 19.5px,#5143ff 22.5px,#492ff8 25.5px,#4228d0 29.5px,#3f25bf 33.5px,#3e24b7 41.5px,#3e24b7 80.5px,#3e24b6 153.5px)"></i><i style="background:linear-gradient(90deg,#e6f43e 0.5px,#e6e740 2.5px,#e7ba46 5.5px,#daba41 6.5px,#c4c73c 7.5px,#a7d44a 8.5px,#86e062 9.5px,#6fe48f 10.5px,#64dcac 11.5px,#5cc9ce 13.5px,#55a9e8 15.5px,#529bfb 16.5px,#5378ff 18.5px,#524eff 21.5px,#4c34fb 24.5px,#492ff8 25.5px,#4228d0 29.5px,#3f25bf 33.5px,#3e24b7 41.5px,#3e24b6 153.5px)"></i></div>
<div class="cb" style="left:187.2px;top:43px;width:14.7px;height:262.2px;background:linear-gradient(0deg,#3e24b6 0.00%,#4228d2 2.80%,#442ae6 4.30%,#482ef8 6.20%,#503cff 10.00%,#5252ff 15.00%,#5569ff 20.00%,#5282ff 25.00%,#5298ff 30.00%,#55a8e8 35.00%,#58b9dc 40.00%,#5ccacd 45.00%,#5fd4be 50.00%,#64dcac 55.00%,#6ee491 60.00%,#84e164 65.00%,#a5d54b 70.00%,#c3c83c 75.00%,#dcb941 80.00%,#e6b846 83.00%,#e9c046 86.00%,#e6de41 91.00%,#e6f53e 95.00%,#e8ff3c 100.00%)"></div>
<div class="cb" style="left:406.9px;top:42.8px;width:14.3px;height:262.1px;background:linear-gradient(0deg,#3e24b6 0.00%,#4228d2 2.80%,#442ae6 4.30%,#482ef8 6.20%,#503cff 10.00%,#5252ff 15.00%,#5569ff 20.00%,#5282ff 25.00%,#5298ff 30.00%,#55a8e8 35.00%,#58b9dc 40.00%,#5ccacd 45.00%,#5fd4be 50.00%,#64dcac 55.00%,#6ee491 60.00%,#84e164 65.00%,#a5d54b 70.00%,#c3c83c 75.00%,#dcb941 80.00%,#e6b846 83.00%,#e9c046 86.00%,#e6de41 91.00%,#e6f53e 95.00%,#e8ff3c 100.00%)"></div>
<div class="cb" style="left:636.6px;top:43px;width:15.4px;height:264.4px;background:linear-gradient(0deg,#3e24b6 0.00%,#4228d2 2.80%,#442ae6 4.30%,#482ef8 6.20%,#503cff 10.00%,#5252ff 15.00%,#5569ff 20.00%,#5282ff 25.00%,#5298ff 30.00%,#55a8e8 35.00%,#58b9dc 40.00%,#5ccacd 45.00%,#5fd4be 50.00%,#64dcac 55.00%,#6ee491 60.00%,#84e164 65.00%,#a5d54b 70.00%,#c3c83c 75.00%,#dcb941 80.00%,#e6b846 83.00%,#e9c046 86.00%,#e6de41 91.00%,#e6f53e 95.00%,#e8ff3c 100.00%)"></div>
<svg width="685" height="635" viewBox="0 0 685 635"><rect x="34.00" y="43.00" width="146.00" height="261.50" fill="none" stroke="#333" stroke-width="0.8"/><line x1="38.80" y1="43.00" x2="38.80" y2="46.00" stroke="#262626" stroke-width="0.8"/><text x="38.80" y="35.90" class="t" text-anchor="middle">-3</text><line x1="77.20" y1="43.00" x2="77.20" y2="46.00" stroke="#262626" stroke-width="0.8"/><text x="77.20" y="35.90" class="t" text-anchor="middle">-2</text><line x1="115.60" y1="43.00" x2="115.60" y2="46.00" stroke="#262626" stroke-width="0.8"/><text x="115.60" y="35.90" class="t" text-anchor="middle">-1</text><line x1="154.00" y1="43.00" x2="154.00" y2="46.00" stroke="#262626" stroke-width="0.8"/><text x="154.00" y="35.90" class="t" text-anchor="middle">0</text><line x1="34.00" y1="43.00" x2="37.00" y2="43.00" stroke="#262626" stroke-width="0.8"/><text x="30.20" y="47.70" class="t" text-anchor="end">0</text><line x1="34.00" y1="86.58" x2="37.00" y2="86.58" stroke="#262626" stroke-width="0.8"/><text x="30.20" y="91.28" class="t" text-anchor="end">-1</text><line x1="34.00" y1="130.17" x2="37.00" y2="130.17" stroke="#262626" stroke-width="0.8"/><text x="30.20" y="134.87" class="t" text-anchor="end">-2</text><line x1="34.00" y1="173.75" x2="37.00" y2="173.75" stroke="#262626" stroke-width="0.8"/><text x="30.20" y="178.45" class="t" text-anchor="end">-3</text><line x1="34.00" y1="217.33" x2="37.00" y2="217.33" stroke="#262626" stroke-width="0.8"/><text x="30.20" y="222.03" class="t" text-anchor="end">-4</text><line x1="34.00" y1="260.92" x2="37.00" y2="260.92" stroke="#262626" stroke-width="0.8"/><text x="30.20" y="265.62" class="t" text-anchor="end">-5</text><line x1="34.00" y1="304.50" x2="37.00" y2="304.50" stroke="#262626" stroke-width="0.8"/><text x="30.20" y="309.20" class="t" text-anchor="end">-6</text><text x="107.00" y="12.9" class="b" text-anchor="middle" style="font-size:14.6px">log<tspan dy="7.7" style="font-size:11px">10</tspan><tspan dy="-7.7">T</tspan><tspan dy="7.7" style="font-size:11px">2</tspan><tspan dy="-7.7"> (s)</tspan></text><text x="7.50" y="33.30" class="b" text-anchor="start" style="font-size:17px">(a)</text><text x="172.80" y="295.70" class="b" text-anchor="end" style="font-size:18px;fill:#fff">B1</text><rect x="187.20" y="43.00" width="14.70" height="262.20" fill="none" stroke="#333" stroke-width="0.8"/><line x1="199.40" y1="305.20" x2="201.90" y2="305.20" stroke="#262626" stroke-width="0.8"/><text x="206.10" y="309.70" class="t" text-anchor="start">0</text><line x1="199.40" y1="264.86" x2="201.90" y2="264.86" stroke="#262626" stroke-width="0.8"/><text x="206.10" y="269.36" class="t" text-anchor="start">0.002</text><line x1="199.40" y1="224.52" x2="201.90" y2="224.52" stroke="#262626" stroke-width="0.8"/><text x="206.10" y="229.02" class="t" text-anchor="start">0.004</text><line x1="199.40" y1="184.18" x2="201.90" y2="184.18" stroke="#262626" stroke-width="0.8"/><text x="206.10" y="188.68" class="t" text-anchor="start">0.006</text><line x1="199.40" y1="143.85" x2="201.90" y2="143.85" stroke="#262626" stroke-width="0.8"/><text x="206.10" y="148.35" class="t" text-anchor="start">0.008</text><line x1="199.40" y1="103.51" x2="201.90" y2="103.51" stroke="#262626" stroke-width="0.8"/><text x="206.10" y="108.01" class="t" text-anchor="start">0.01</text><line x1="199.40" y1="63.17" x2="201.90" y2="63.17" stroke="#262626" stroke-width="0.8"/><text x="206.10" y="67.67" class="t" text-anchor="start">0.012</text><rect x="253.00" y="43.00" width="147.00" height="261.50" fill="none" stroke="#333" stroke-width="0.8"/><line x1="258.30" y1="43.00" x2="258.30" y2="46.00" stroke="#262626" stroke-width="0.8"/><text x="258.30" y="35.90" class="t" text-anchor="middle">-3</text><line x1="296.30" y1="43.00" x2="296.30" y2="46.00" stroke="#262626" stroke-width="0.8"/><text x="296.30" y="35.90" class="t" text-anchor="middle">-2</text><line x1="334.30" y1="43.00" x2="334.30" y2="46.00" stroke="#262626" stroke-width="0.8"/><text x="334.30" y="35.90" class="t" text-anchor="middle">-1</text><line x1="372.30" y1="43.00" x2="372.30" y2="46.00" stroke="#262626" stroke-width="0.8"/><text x="372.30" y="35.90" class="t" text-anchor="middle">0</text><line x1="253.00" y1="43.00" x2="256.00" y2="43.00" stroke="#262626" stroke-width="0.8"/><text x="249.20" y="47.70" class="t" text-anchor="end">0</text><line x1="253.00" y1="80.36" x2="256.00" y2="80.36" stroke="#262626" stroke-width="0.8"/><text x="249.20" y="85.06" class="t" text-anchor="end">-1</text><line x1="253.00" y1="117.71" x2="256.00" y2="117.71" stroke="#262626" stroke-width="0.8"/><text x="249.20" y="122.41" class="t" text-anchor="end">-2</text><line x1="253.00" y1="155.07" x2="256.00" y2="155.07" stroke="#262626" stroke-width="0.8"/><text x="249.20" y="159.77" class="t" text-anchor="end">-3</text><line x1="253.00" y1="192.43" x2="256.00" y2="192.43" stroke="#262626" stroke-width="0.8"/><text x="249.20" y="197.13" class="t" text-anchor="end">-4</text><line x1="253.00" y1="229.79" x2="256.00" y2="229.79" stroke="#262626" stroke-width="0.8"/><text x="249.20" y="234.49" class="t" text-anchor="end">-5</text><line x1="253.00" y1="267.14" x2="256.00" y2="267.14" stroke="#262626" stroke-width="0.8"/><text x="249.20" y="271.84" class="t" text-anchor="end">-6</text><line x1="253.00" y1="304.50" x2="256.00" y2="304.50" stroke="#262626" stroke-width="0.8"/><text x="249.20" y="309.20" class="t" text-anchor="end">-7</text><text x="326.50" y="12.9" class="b" text-anchor="middle" style="font-size:14.6px">log<tspan dy="7.7" style="font-size:11px">10</tspan><tspan dy="-7.7">T</tspan><tspan dy="7.7" style="font-size:11px">2</tspan><tspan dy="-7.7"> (s)</tspan></text><text x="224.60" y="33.30" class="b" text-anchor="start" style="font-size:17px">(b)</text><text x="397.60" y="296.50" class="b" text-anchor="end" style="font-size:18px;fill:#fff">B2</text><rect x="406.90" y="42.80" width="14.30" height="262.10" fill="none" stroke="#333" stroke-width="0.8"/><line x1="418.70" y1="304.90" x2="421.20" y2="304.90" stroke="#262626" stroke-width="0.8"/><text x="425.40" y="309.40" class="t" text-anchor="start">0</text><line x1="418.70" y1="264.58" x2="421.20" y2="264.58" stroke="#262626" stroke-width="0.8"/><text x="425.40" y="269.08" class="t" text-anchor="start">0.002</text><line x1="418.70" y1="224.25" x2="421.20" y2="224.25" stroke="#262626" stroke-width="0.8"/><text x="425.40" y="228.75" class="t" text-anchor="start">0.004</text><line x1="418.70" y1="183.93" x2="421.20" y2="183.93" stroke="#262626" stroke-width="0.8"/><text x="425.40" y="188.43" class="t" text-anchor="start">0.006</text><line x1="418.70" y1="143.61" x2="421.20" y2="143.61" stroke="#262626" stroke-width="0.8"/><text x="425.40" y="148.11" class="t" text-anchor="start">0.008</text><line x1="418.70" y1="103.28" x2="421.20" y2="103.28" stroke="#262626" stroke-width="0.8"/><text x="425.40" y="107.78" class="t" text-anchor="start">0.01</text><line x1="418.70" y1="62.96" x2="421.20" y2="62.96" stroke="#262626" stroke-width="0.8"/><text x="425.40" y="67.46" class="t" text-anchor="start">0.012</text><rect x="476.00" y="45.00" width="153.50" height="262.00" fill="none" stroke="#333" stroke-width="0.8"/><line x1="481.20" y1="45.00" x2="481.20" y2="48.00" stroke="#262626" stroke-width="0.8"/><text x="481.20" y="37.90" class="t" text-anchor="middle">-3</text><line x1="521.40" y1="45.00" x2="521.40" y2="48.00" stroke="#262626" stroke-width="0.8"/><text x="521.40" y="37.90" class="t" text-anchor="middle">-2</text><line x1="561.60" y1="45.00" x2="561.60" y2="48.00" stroke="#262626" stroke-width="0.8"/><text x="561.60" y="37.90" class="t" text-anchor="middle">-1</text><line x1="601.80" y1="45.00" x2="601.80" y2="48.00" stroke="#262626" stroke-width="0.8"/><text x="601.80" y="37.90" class="t" text-anchor="middle">0</text><line x1="476.00" y1="45.00" x2="479.00" y2="45.00" stroke="#262626" stroke-width="0.8"/><text x="472.20" y="49.70" class="t" text-anchor="end">0</text><line x1="476.00" y1="82.43" x2="479.00" y2="82.43" stroke="#262626" stroke-width="0.8"/><text x="472.20" y="87.13" class="t" text-anchor="end">-1</text><line x1="476.00" y1="119.86" x2="479.00" y2="119.86" stroke="#262626" stroke-width="0.8"/><text x="472.20" y="124.56" class="t" text-anchor="end">-2</text><line x1="476.00" y1="157.29" x2="479.00" y2="157.29" stroke="#262626" stroke-width="0.8"/><text x="472.20" y="161.99" class="t" text-anchor="end">-3</text><line x1="476.00" y1="194.71" x2="479.00" y2="194.71" stroke="#262626" stroke-width="0.8"/><text x="472.20" y="199.41" class="t" text-anchor="end">-4</text><line x1="476.00" y1="232.14" x2="479.00" y2="232.14" stroke="#262626" stroke-width="0.8"/><text x="472.20" y="236.84" class="t" text-anchor="end">-5</text><line x1="476.00" y1="269.57" x2="479.00" y2="269.57" stroke="#262626" stroke-width="0.8"/><text x="472.20" y="274.27" class="t" text-anchor="end">-6</text><line x1="476.00" y1="307.00" x2="479.00" y2="307.00" stroke="#262626" stroke-width="0.8"/><text x="472.20" y="311.70" class="t" text-anchor="end">-7</text><text x="552.75" y="12.9" class="b" text-anchor="middle" style="font-size:14.6px">log<tspan dy="7.7" style="font-size:11px">10</tspan><tspan dy="-7.7">T</tspan><tspan dy="7.7" style="font-size:11px">2</tspan><tspan dy="-7.7"> (s)</tspan></text><text x="441.70" y="33.30" class="b" text-anchor="start" style="font-size:17px">(c)</text><text x="622.00" y="297.20" class="b" text-anchor="end" style="font-size:18px;fill:#fff">B3</text><rect x="636.60" y="43.00" width="15.40" height="264.40" fill="none" stroke="#333" stroke-width="0.8"/><line x1="649.50" y1="307.40" x2="652.00" y2="307.40" stroke="#262626" stroke-width="0.8"/><text x="656.20" y="311.90" class="t" text-anchor="start">0</text><line x1="649.50" y1="254.52" x2="652.00" y2="254.52" stroke="#262626" stroke-width="0.8"/><text x="656.20" y="259.02" class="t" text-anchor="start">0.002</text><line x1="649.50" y1="201.64" x2="652.00" y2="201.64" stroke="#262626" stroke-width="0.8"/><text x="656.20" y="206.14" class="t" text-anchor="start">0.004</text><line x1="649.50" y1="148.76" x2="652.00" y2="148.76" stroke="#262626" stroke-width="0.8"/><text x="656.20" y="153.26" class="t" text-anchor="start">0.006</text><line x1="649.50" y1="95.88" x2="652.00" y2="95.88" stroke="#262626" stroke-width="0.8"/><text x="656.20" y="100.38" class="t" text-anchor="start">0.008</text><line x1="649.50" y1="43.00" x2="652.00" y2="43.00" stroke="#262626" stroke-width="0.8"/><text x="656.20" y="47.50" class="t" text-anchor="start">0.01</text><text transform="translate(13.2,173.7) rotate(-90)" class="b" text-anchor="middle" style="font-size:14.3px">Depth (m)</text><text transform="translate(13.2,486.5) rotate(-90)" class="b" text-anchor="middle" style="font-size:14.3px">Depth (m)</text><path d="M146.6 349.7C143.7 350.6 135.1 352.8 129.3 354.9C123.5 357.0 116.1 360.1 111.9 362.4C107.8 364.7 105.9 367.0 104.4 368.6C103.0 370.2 102.7 370.9 103.2 372.3C103.7 373.7 104.6 375.5 107.3 377.2C110.0 378.9 114.4 380.7 119.3 382.6C124.2 384.5 132.2 386.7 136.7 388.4C141.1 390.1 144.1 391.2 146.0 392.8C147.9 394.4 148.2 396.4 148.3 398.0C148.4 399.6 147.4 401.1 146.6 402.5C145.8 403.9 144.5 405.2 143.5 406.5C142.5 407.8 141.4 408.6 140.4 410.2C139.4 411.8 137.9 414.4 137.5 416.0C137.1 417.6 137.3 418.3 138.1 419.5C138.9 420.7 139.8 421.7 142.2 423.0C144.6 424.3 149.0 425.7 152.7 427.1C156.4 428.5 160.5 429.9 164.4 431.2C168.3 432.5 172.8 433.6 176.1 434.7C179.4 435.8 182.5 436.6 184.2 437.6C185.9 438.6 185.9 439.0 186.3 440.5C186.7 442.0 186.7 444.0 186.6 446.4C186.5 448.8 186.2 451.2 185.8 455.0C185.4 458.8 184.4 464.3 183.9 469.3C183.4 474.3 183.4 480.3 182.6 485.0C181.8 489.7 180.2 493.9 179.2 497.6C178.2 501.3 177.1 504.4 176.8 507.0C176.5 509.6 176.7 511.3 177.6 513.3C178.5 515.3 180.3 517.0 182.0 519.0C183.7 521.0 186.3 523.5 187.8 525.3C189.3 527.0 190.2 528.1 190.8 529.5C191.4 530.9 191.7 531.7 191.5 533.5C191.3 535.3 190.8 537.9 189.6 540.5C188.4 543.1 186.2 546.1 184.2 549.3C182.2 552.5 179.6 556.0 177.5 559.5C175.4 563.0 172.8 566.7 171.4 570.2C170.0 573.7 169.5 576.9 168.8 580.6C168.1 584.4 167.7 589.2 167.1 592.7C166.5 596.2 166.6 599.0 165.4 601.3C164.2 603.6 163.4 604.3 160.2 606.5C157.0 608.7 151.5 611.5 146.3 614.3C141.1 617.1 131.9 622.0 129.0 623.5 L197.6 623.5 L197.6 349.7 Z" fill="#5ecde3"/><path d="M182.6 349.7C183.1 351.2 184.5 355.6 185.5 359.0C186.5 362.4 187.9 366.0 188.8 369.8C189.7 373.6 190.4 377.9 191.0 382.0C191.6 386.1 191.9 390.8 192.5 394.6C193.1 398.4 194.2 401.7 194.8 405.0C195.4 408.3 195.8 411.7 196.0 414.5C196.2 417.3 196.1 387.2 196.1 422.0C196.1 456.8 196.1 589.9 196.1 623.5 L197.6 623.5 L197.6 349.7 Z" fill="#80fcff"/><path d="M146.6 349.7C143.7 350.6 135.1 352.8 129.3 354.9C123.5 357.0 116.1 360.1 111.9 362.4C107.8 364.7 105.9 367.0 104.4 368.6C103.0 370.2 102.7 370.9 103.2 372.3C103.7 373.7 104.6 375.5 107.3 377.2C110.0 378.9 114.4 380.7 119.3 382.6C124.2 384.5 132.2 386.7 136.7 388.4C141.1 390.1 144.1 391.2 146.0 392.8C147.9 394.4 148.2 396.4 148.3 398.0C148.4 399.6 147.4 401.1 146.6 402.5C145.8 403.9 144.5 405.2 143.5 406.5C142.5 407.8 141.4 408.6 140.4 410.2C139.4 411.8 137.9 414.4 137.5 416.0C137.1 417.6 137.3 418.3 138.1 419.5C138.9 420.7 139.8 421.7 142.2 423.0C144.6 424.3 149.0 425.7 152.7 427.1C156.4 428.5 160.5 429.9 164.4 431.2C168.3 432.5 172.8 433.6 176.1 434.7C179.4 435.8 182.5 436.6 184.2 437.6C185.9 438.6 185.9 439.0 186.3 440.5C186.7 442.0 186.7 444.0 186.6 446.4C186.5 448.8 186.2 451.2 185.8 455.0C185.4 458.8 184.4 464.3 183.9 469.3C183.4 474.3 183.4 480.3 182.6 485.0C181.8 489.7 180.2 493.9 179.2 497.6C178.2 501.3 177.1 504.4 176.8 507.0C176.5 509.6 176.7 511.3 177.6 513.3C178.5 515.3 180.3 517.0 182.0 519.0C183.7 521.0 186.3 523.5 187.8 525.3C189.3 527.0 190.2 528.1 190.8 529.5C191.4 530.9 191.7 531.7 191.5 533.5C191.3 535.3 190.8 537.9 189.6 540.5C188.4 543.1 186.2 546.1 184.2 549.3C182.2 552.5 179.6 556.0 177.5 559.5C175.4 563.0 172.8 566.7 171.4 570.2C170.0 573.7 169.5 576.9 168.8 580.6C168.1 584.4 167.7 589.2 167.1 592.7C166.5 596.2 166.6 599.0 165.4 601.3C164.2 603.6 163.4 604.3 160.2 606.5C157.0 608.7 151.5 611.5 146.3 614.3C141.1 617.1 131.9 622.0 129.0 623.5" fill="none" stroke="#1a1a1a" stroke-width="1.25"/><path d="M189.0 349.7C189.1 352.9 189.8 360.6 189.8 369.0C189.8 377.4 189.1 386.5 188.8 400.0C188.5 413.5 188.2 433.3 188.1 450.0C188.0 466.7 188.0 483.3 188.1 500.0C188.2 516.7 188.7 535.8 188.4 550.0C188.1 564.2 187.3 575.8 186.5 585.0C185.7 594.2 184.4 598.6 183.5 605.0C182.6 611.4 181.3 620.4 180.9 623.5" fill="none" stroke="#c82434" stroke-width="1.5" stroke-dasharray="4 3.9"/><rect x="34.70" y="349.70" width="162.90" height="273.80" fill="none" stroke="#777" stroke-width="1"/><line x1="34.70" y1="349.70" x2="34.70" y2="354.20" stroke="#777" stroke-width="1"/><text x="34.70" y="342.40" class="t" text-anchor="middle">30</text><line x1="89.00" y1="349.70" x2="89.00" y2="354.20" stroke="#777" stroke-width="1"/><text x="89.00" y="342.40" class="t" text-anchor="middle">20</text><line x1="143.30" y1="349.70" x2="143.30" y2="354.20" stroke="#777" stroke-width="1"/><text x="143.30" y="342.40" class="t" text-anchor="middle">10</text><line x1="197.60" y1="349.70" x2="197.60" y2="354.20" stroke="#777" stroke-width="1"/><text x="197.60" y="342.40" class="t" text-anchor="middle">0</text><line x1="34.70" y1="349.70" x2="39.20" y2="349.70" stroke="#777" stroke-width="1"/><text x="29.90" y="354.40" class="t" text-anchor="end">0</text><line x1="34.70" y1="395.33" x2="39.20" y2="395.33" stroke="#777" stroke-width="1"/><text x="29.90" y="400.03" class="t" text-anchor="end">-1</text><line x1="34.70" y1="440.97" x2="39.20" y2="440.97" stroke="#777" stroke-width="1"/><text x="29.90" y="445.67" class="t" text-anchor="end">-2</text><line x1="34.70" y1="486.60" x2="39.20" y2="486.60" stroke="#777" stroke-width="1"/><text x="29.90" y="491.30" class="t" text-anchor="end">-3</text><line x1="34.70" y1="532.23" x2="39.20" y2="532.23" stroke="#777" stroke-width="1"/><text x="29.90" y="536.93" class="t" text-anchor="end">-4</text><line x1="34.70" y1="577.87" x2="39.20" y2="577.87" stroke="#777" stroke-width="1"/><text x="29.90" y="582.57" class="t" text-anchor="end">-5</text><line x1="34.70" y1="623.50" x2="39.20" y2="623.50" stroke="#777" stroke-width="1"/><text x="29.90" y="628.20" class="t" text-anchor="end">-6</text><text x="116.15" y="326.1" class="b" text-anchor="middle" style="font-size:14.7px">Water content (%)</text><text x="4.20" y="334.00" class="b" text-anchor="start" style="font-size:17px">(d)</text><rect x="39.9" y="547.0" width="31" height="10.4" fill="#5ecde3"/><rect x="39.9" y="561.2" width="31" height="10.4" fill="#80fcff"/><line x1="39.90" y1="580.60" x2="70.90" y2="580.60" stroke="#1a1a1a" stroke-width="1.2"/><line x1="39.90" y1="594.90" x2="70.90" y2="594.90" stroke="#e3303c" stroke-width="1.9" stroke-dasharray="4.1 3.8"/><text x="78.4" y="554.4" class="b" style="font-size:13.6px">Unfrozen water</text><text x="78.4" y="570.1" class="b" style="font-size:13.6px">Free water</text><text x="78.4" y="585.8" class="b" style="font-size:13.6px">Total water content</text><text x="78.4" y="601.5" class="b" style="font-size:13.6px">Nosie</text><text x="181.60" y="616.20" class="b" text-anchor="end" style="font-size:17px">B1</text><path d="M331.4 349.0C332.3 350.0 335.3 352.7 336.8 354.9C338.3 357.1 339.9 360.1 340.6 362.4C341.4 364.7 341.7 366.8 341.3 368.6C340.9 370.5 340.5 371.4 338.1 373.5C335.7 375.6 330.4 378.5 326.9 381.0C323.4 383.5 320.3 385.7 317.0 388.4C313.7 391.1 309.8 394.4 307.1 397.1C304.4 399.8 302.1 402.5 300.9 404.6C299.6 406.8 299.2 408.4 299.6 410.0C300.0 411.6 300.4 412.7 303.3 414.5C306.2 416.3 311.0 418.4 317.0 420.7C323.0 423.0 332.3 425.8 339.3 428.1C346.3 430.4 352.6 432.4 359.2 434.3C365.8 436.2 373.6 437.7 379.0 439.3C384.4 440.9 388.3 442.6 391.3 444.2C394.3 445.8 396.1 446.8 396.8 448.9C397.5 451.0 395.8 453.8 395.3 456.7C394.8 459.6 393.8 462.8 393.7 466.2C393.6 469.6 394.3 473.5 394.5 477.2C394.7 480.9 395.3 485.7 394.8 488.2C394.3 490.7 394.2 490.5 391.3 492.1C388.4 493.7 382.2 495.6 377.2 497.6C372.2 499.6 365.9 501.8 361.4 503.9C356.9 506.0 353.8 507.8 350.4 510.2C347.0 512.5 343.4 515.6 341.0 518.0C338.6 520.4 337.2 522.6 336.3 524.3C335.4 526.0 335.3 526.4 335.6 528.0C335.9 529.6 335.9 531.9 337.9 534.1C339.9 536.3 344.8 538.9 347.6 541.2C350.4 543.6 353.8 545.9 354.7 548.2C355.6 550.6 354.9 552.9 352.9 555.3C350.8 557.7 346.8 559.8 342.4 562.4C338.0 565.0 330.6 568.6 326.5 571.2C322.4 573.8 319.8 575.6 317.6 578.2C315.4 580.9 313.5 584.5 313.2 587.1C312.9 589.8 313.7 591.8 315.9 594.1C318.1 596.5 324.0 598.9 326.5 601.2C329.0 603.6 330.2 605.3 330.9 608.2C331.6 611.1 331.0 615.5 330.9 618.8C330.8 622.1 330.1 626.6 330.0 628.2 L418.4 628.2 L418.4 349.0 Z" fill="#5ecde3"/><path d="M403.8 349.0C404.0 350.8 405.1 355.7 405.2 360.0C405.3 364.3 404.7 370.4 404.5 375.0C404.3 379.6 403.8 384.4 403.9 387.8C404.0 391.2 404.3 393.5 405.2 395.4C406.1 397.3 407.9 397.5 409.0 399.2C410.1 400.9 411.0 402.8 411.5 405.5C412.0 408.2 412.4 412.2 412.2 415.5C412.0 418.8 410.9 419.9 410.5 425.0C410.1 430.1 409.4 440.2 409.7 445.8C410.0 451.4 411.9 453.3 412.5 458.3C413.1 463.3 413.4 470.8 413.5 476.0C413.6 481.2 414.4 485.9 413.0 489.5C411.6 493.1 407.7 495.3 405.0 497.5C402.3 499.7 399.8 501.0 397.0 502.5C394.2 504.0 390.1 504.9 388.0 506.5C385.9 508.1 385.1 508.8 384.2 511.8C383.3 514.8 383.0 521.6 382.7 524.3C382.4 527.0 381.6 526.4 382.2 528.0C382.8 529.6 383.7 531.6 386.5 534.1C389.3 536.6 395.3 540.0 398.8 542.9C402.3 545.8 405.5 548.3 407.6 551.8C409.7 555.3 410.9 560.6 411.2 564.1C411.5 567.6 411.5 569.5 409.4 573.0C407.3 576.5 403.2 581.2 398.8 585.3C394.4 589.4 386.6 593.8 382.9 597.6C379.2 601.4 377.7 604.7 376.8 608.2C375.9 611.7 376.6 615.8 377.6 618.8C378.6 621.8 381.4 624.3 382.9 625.9C384.4 627.5 385.9 627.8 386.5 628.2 L418.4 628.2 L418.4 349.0 Z" fill="#80fcff"/><path d="M331.4 349.0C332.3 350.0 335.3 352.7 336.8 354.9C338.3 357.1 339.9 360.1 340.6 362.4C341.4 364.7 341.7 366.8 341.3 368.6C340.9 370.5 340.5 371.4 338.1 373.5C335.7 375.6 330.4 378.5 326.9 381.0C323.4 383.5 320.3 385.7 317.0 388.4C313.7 391.1 309.8 394.4 307.1 397.1C304.4 399.8 302.1 402.5 300.9 404.6C299.6 406.8 299.2 408.4 299.6 410.0C300.0 411.6 300.4 412.7 303.3 414.5C306.2 416.3 311.0 418.4 317.0 420.7C323.0 423.0 332.3 425.8 339.3 428.1C346.3 430.4 352.6 432.4 359.2 434.3C365.8 436.2 373.6 437.7 379.0 439.3C384.4 440.9 388.3 442.6 391.3 444.2C394.3 445.8 396.1 446.8 396.8 448.9C397.5 451.0 395.8 453.8 395.3 456.7C394.8 459.6 393.8 462.8 393.7 466.2C393.6 469.6 394.3 473.5 394.5 477.2C394.7 480.9 395.3 485.7 394.8 488.2C394.3 490.7 394.2 490.5 391.3 492.1C388.4 493.7 382.2 495.6 377.2 497.6C372.2 499.6 365.9 501.8 361.4 503.9C356.9 506.0 353.8 507.8 350.4 510.2C347.0 512.5 343.4 515.6 341.0 518.0C338.6 520.4 337.2 522.6 336.3 524.3C335.4 526.0 335.3 526.4 335.6 528.0C335.9 529.6 335.9 531.9 337.9 534.1C339.9 536.3 344.8 538.9 347.6 541.2C350.4 543.6 353.8 545.9 354.7 548.2C355.6 550.6 354.9 552.9 352.9 555.3C350.8 557.7 346.8 559.8 342.4 562.4C338.0 565.0 330.6 568.6 326.5 571.2C322.4 573.8 319.8 575.6 317.6 578.2C315.4 580.9 313.5 584.5 313.2 587.1C312.9 589.8 313.7 591.8 315.9 594.1C318.1 596.5 324.0 598.9 326.5 601.2C329.0 603.6 330.2 605.3 330.9 608.2C331.6 611.1 331.0 615.5 330.9 618.8C330.8 622.1 330.1 626.6 330.0 628.2" fill="none" stroke="#1a1a1a" stroke-width="1.25"/><path d="M409.5 349.0C409.7 357.5 410.3 383.2 410.5 400.0C410.7 416.8 410.8 430.0 410.8 450.0C410.8 470.0 410.4 496.7 410.3 520.0C410.2 543.3 410.6 574.7 410.3 590.0C410.0 605.3 409.4 605.4 408.5 611.8C407.6 618.2 405.6 625.5 405.0 628.2" fill="none" stroke="#c82434" stroke-width="1.5" stroke-dasharray="4 3.9"/><rect x="252.50" y="349.00" width="165.90" height="279.20" fill="none" stroke="#777" stroke-width="1"/><line x1="252.50" y1="349.00" x2="252.50" y2="353.50" stroke="#777" stroke-width="1"/><text x="252.50" y="341.70" class="t" text-anchor="middle">30</text><line x1="307.80" y1="349.00" x2="307.80" y2="353.50" stroke="#777" stroke-width="1"/><text x="307.80" y="341.70" class="t" text-anchor="middle">20</text><line x1="363.10" y1="349.00" x2="363.10" y2="353.50" stroke="#777" stroke-width="1"/><text x="363.10" y="341.70" class="t" text-anchor="middle">10</text><line x1="418.40" y1="349.00" x2="418.40" y2="353.50" stroke="#777" stroke-width="1"/><text x="418.40" y="341.70" class="t" text-anchor="middle">0</text><line x1="252.50" y1="349.00" x2="257.00" y2="349.00" stroke="#777" stroke-width="1"/><text x="247.70" y="353.70" class="t" text-anchor="end">0</text><line x1="252.50" y1="388.89" x2="257.00" y2="388.89" stroke="#777" stroke-width="1"/><text x="247.70" y="393.59" class="t" text-anchor="end">-1</text><line x1="252.50" y1="428.77" x2="257.00" y2="428.77" stroke="#777" stroke-width="1"/><text x="247.70" y="433.47" class="t" text-anchor="end">-2</text><line x1="252.50" y1="468.66" x2="257.00" y2="468.66" stroke="#777" stroke-width="1"/><text x="247.70" y="473.36" class="t" text-anchor="end">-3</text><line x1="252.50" y1="508.54" x2="257.00" y2="508.54" stroke="#777" stroke-width="1"/><text x="247.70" y="513.24" class="t" text-anchor="end">-4</text><line x1="252.50" y1="548.43" x2="257.00" y2="548.43" stroke="#777" stroke-width="1"/><text x="247.70" y="553.13" class="t" text-anchor="end">-5</text><line x1="252.50" y1="588.31" x2="257.00" y2="588.31" stroke="#777" stroke-width="1"/><text x="247.70" y="593.01" class="t" text-anchor="end">-6</text><line x1="252.50" y1="628.20" x2="257.00" y2="628.20" stroke="#777" stroke-width="1"/><text x="247.70" y="632.90" class="t" text-anchor="end">-7</text><text x="335.45" y="326.1" class="b" text-anchor="middle" style="font-size:14.7px">Water content (%)</text><text x="224.60" y="334.20" class="b" text-anchor="start" style="font-size:17px">(e)</text><rect x="260.4" y="547.9" width="31" height="10.4" fill="#5ecde3"/><rect x="260.4" y="562.1" width="31" height="10.4" fill="#80fcff"/><line x1="260.40" y1="581.50" x2="291.40" y2="581.50" stroke="#1a1a1a" stroke-width="1.2"/><line x1="260.40" y1="595.80" x2="291.40" y2="595.80" stroke="#e3303c" stroke-width="1.9" stroke-dasharray="4.1 3.8"/><text x="299.1" y="555.3" class="b" style="font-size:13.6px">Unfrozen water</text><text x="299.1" y="571.0" class="b" style="font-size:13.6px">Free water</text><text x="299.1" y="586.7" class="b" style="font-size:13.6px">Total water content</text><text x="299.1" y="602.4" class="b" style="font-size:13.6px">Nosie</text><text x="408.20" y="618.20" class="b" text-anchor="end" style="font-size:17px">B2</text><path d="M585.7 349.3C583.9 349.9 578.7 351.6 574.7 353.2C570.8 354.8 565.8 356.9 562.0 358.7C558.2 360.5 554.2 362.5 551.9 364.2C549.6 365.9 549.2 366.4 548.3 368.7C547.4 371.0 547.0 374.4 546.5 377.8C546.0 381.2 545.4 385.2 545.5 388.8C545.6 392.4 546.3 396.1 547.4 399.7C548.5 403.3 549.9 407.2 551.9 410.7C553.9 414.2 556.5 417.5 559.2 420.7C561.9 423.9 564.7 426.9 568.3 430.0C571.9 433.1 576.8 436.2 581.0 439.4C585.2 442.5 589.3 445.8 593.5 448.9C597.7 452.0 603.0 455.6 606.1 458.3C609.2 461.1 610.8 462.8 612.4 465.4C614.0 468.0 614.7 470.6 615.6 474.1C616.5 477.7 617.5 482.5 618.0 486.7C618.5 490.9 618.4 495.4 618.4 499.3C618.4 503.2 618.7 507.1 618.0 510.3C617.3 513.5 615.5 515.6 614.0 518.2C612.5 520.8 610.8 523.4 609.3 526.0C607.8 528.6 606.4 531.2 605.0 534.0C603.6 536.8 601.7 539.6 600.9 542.9C600.1 546.1 599.9 550.0 600.0 553.5C600.1 557.0 602.1 560.3 601.8 564.1C601.5 567.9 599.7 572.1 598.2 576.5C596.7 580.9 594.4 586.2 592.9 590.6C591.4 595.0 589.8 598.8 589.4 602.9C589.0 607.0 589.8 611.1 590.3 615.3C590.8 619.5 591.8 626.1 592.1 628.2 L641.3 628.2 L641.3 349.3 Z" fill="#5ecde3"/><path d="M631.4 349.3C631.4 351.4 631.4 358.6 631.6 362.0C631.8 365.4 631.8 367.6 632.6 370.0C633.4 372.4 635.1 374.3 636.4 376.5C637.7 378.7 639.7 381.1 640.5 383.0C641.3 384.9 641.4 386.3 641.3 388.0C641.2 389.7 641.1 391.2 640.0 393.0C638.9 394.8 635.9 396.8 634.5 399.0C633.1 401.2 632.1 403.3 631.6 406.0C631.1 408.7 631.3 411.3 631.3 415.0C631.3 418.7 630.9 423.7 631.4 428.0C631.9 432.3 633.3 437.0 634.3 440.7C635.3 444.4 636.4 447.1 637.3 450.0C638.1 452.9 638.9 454.7 639.4 458.0C639.9 461.3 640.1 441.6 640.3 470.0C640.4 498.4 640.3 601.8 640.3 628.2 L641.3 628.2 L641.3 349.3 Z" fill="#80fcff"/><path d="M585.7 349.3C583.9 349.9 578.7 351.6 574.7 353.2C570.8 354.8 565.8 356.9 562.0 358.7C558.2 360.5 554.2 362.5 551.9 364.2C549.6 365.9 549.2 366.4 548.3 368.7C547.4 371.0 547.0 374.4 546.5 377.8C546.0 381.2 545.4 385.2 545.5 388.8C545.6 392.4 546.3 396.1 547.4 399.7C548.5 403.3 549.9 407.2 551.9 410.7C553.9 414.2 556.5 417.5 559.2 420.7C561.9 423.9 564.7 426.9 568.3 430.0C571.9 433.1 576.8 436.2 581.0 439.4C585.2 442.5 589.3 445.8 593.5 448.9C597.7 452.0 603.0 455.6 606.1 458.3C609.2 461.1 610.8 462.8 612.4 465.4C614.0 468.0 614.7 470.6 615.6 474.1C616.5 477.7 617.5 482.5 618.0 486.7C618.5 490.9 618.4 495.4 618.4 499.3C618.4 503.2 618.7 507.1 618.0 510.3C617.3 513.5 615.5 515.6 614.0 518.2C612.5 520.8 610.8 523.4 609.3 526.0C607.8 528.6 606.4 531.2 605.0 534.0C603.6 536.8 601.7 539.6 600.9 542.9C600.1 546.1 599.9 550.0 600.0 553.5C600.1 557.0 602.1 560.3 601.8 564.1C601.5 567.9 599.7 572.1 598.2 576.5C596.7 580.9 594.4 586.2 592.9 590.6C591.4 595.0 589.8 598.8 589.4 602.9C589.0 607.0 589.8 611.1 590.3 615.3C590.8 619.5 591.8 626.1 592.1 628.2" fill="none" stroke="#1a1a1a" stroke-width="1.25"/><path d="M635.9 349.3C636.0 357.8 636.1 383.2 636.2 400.0C636.3 416.8 636.3 425.0 636.4 450.0C636.5 475.0 636.6 526.7 636.6 550.0C636.6 573.3 636.8 580.0 636.6 590.0C636.4 600.0 635.9 603.6 635.5 610.0C635.1 616.4 634.6 625.2 634.4 628.2" fill="none" stroke="#c82434" stroke-width="1.5" stroke-dasharray="4 3.9"/><rect x="475.50" y="349.30" width="165.80" height="278.90" fill="none" stroke="#777" stroke-width="1"/><line x1="475.50" y1="349.30" x2="475.50" y2="353.80" stroke="#777" stroke-width="1"/><text x="475.50" y="342.00" class="t" text-anchor="middle">30</text><line x1="530.77" y1="349.30" x2="530.77" y2="353.80" stroke="#777" stroke-width="1"/><text x="530.77" y="342.00" class="t" text-anchor="middle">20</text><line x1="586.03" y1="349.30" x2="586.03" y2="353.80" stroke="#777" stroke-width="1"/><text x="586.03" y="342.00" class="t" text-anchor="middle">10</text><line x1="641.30" y1="349.30" x2="641.30" y2="353.80" stroke="#777" stroke-width="1"/><text x="641.30" y="342.00" class="t" text-anchor="middle">0</text><line x1="475.50" y1="349.30" x2="480.00" y2="349.30" stroke="#777" stroke-width="1"/><text x="470.70" y="354.00" class="t" text-anchor="end">0</text><line x1="475.50" y1="389.14" x2="480.00" y2="389.14" stroke="#777" stroke-width="1"/><text x="470.70" y="393.84" class="t" text-anchor="end">-1</text><line x1="475.50" y1="428.99" x2="480.00" y2="428.99" stroke="#777" stroke-width="1"/><text x="470.70" y="433.69" class="t" text-anchor="end">-2</text><line x1="475.50" y1="468.83" x2="480.00" y2="468.83" stroke="#777" stroke-width="1"/><text x="470.70" y="473.53" class="t" text-anchor="end">-3</text><line x1="475.50" y1="508.67" x2="480.00" y2="508.67" stroke="#777" stroke-width="1"/><text x="470.70" y="513.37" class="t" text-anchor="end">-4</text><line x1="475.50" y1="548.51" x2="480.00" y2="548.51" stroke="#777" stroke-width="1"/><text x="470.70" y="553.21" class="t" text-anchor="end">-5</text><line x1="475.50" y1="588.36" x2="480.00" y2="588.36" stroke="#777" stroke-width="1"/><text x="470.70" y="593.06" class="t" text-anchor="end">-6</text><line x1="475.50" y1="628.20" x2="480.00" y2="628.20" stroke="#777" stroke-width="1"/><text x="470.70" y="632.90" class="t" text-anchor="end">-7</text><text x="558.40" y="326.1" class="b" text-anchor="middle" style="font-size:14.7px">Water content (%)</text><text x="443.90" y="335.50" class="b" text-anchor="start" style="font-size:17px">(f)</text><rect x="479.2" y="547.0" width="31" height="10.4" fill="#5ecde3"/><rect x="479.2" y="561.2" width="31" height="10.4" fill="#80fcff"/><line x1="479.20" y1="580.60" x2="510.20" y2="580.60" stroke="#1a1a1a" stroke-width="1.2"/><line x1="479.20" y1="594.90" x2="510.20" y2="594.90" stroke="#e3303c" stroke-width="1.9" stroke-dasharray="4.1 3.8"/><text x="517.9" y="554.4" class="b" style="font-size:13.6px">Unfrozen water</text><text x="517.9" y="570.1" class="b" style="font-size:13.6px">Free water</text><text x="517.9" y="585.8" class="b" style="font-size:13.6px">Total water content</text><text x="517.9" y="601.5" class="b" style="font-size:13.6px">Nosie</text><text x="632.40" y="618.20" class="b" text-anchor="end" style="font-size:17px">B3</text></svg>
</body></html>
